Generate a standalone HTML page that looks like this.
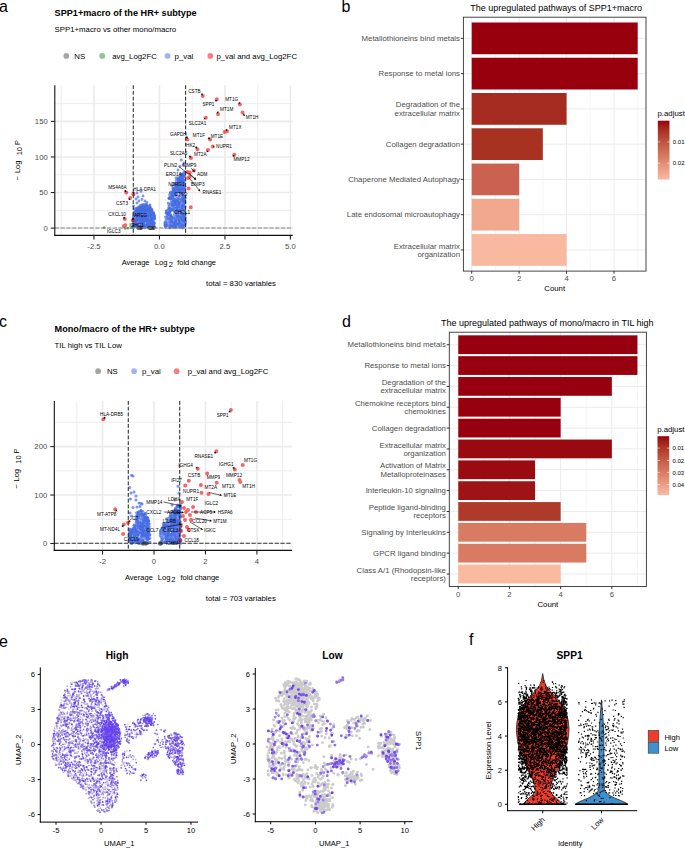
<!DOCTYPE html>
<html><head><meta charset="utf-8"><style>
html,body{margin:0;padding:0;background:#fff;width:685px;height:848px;overflow:hidden}
svg{display:block}
text{font-family:"Liberation Sans", sans-serif}
</style></head><body>
<svg width="685" height="848" viewBox="0 0 685 848">
<rect width="685" height="848" fill="#fff"/>
<text x="-1.00" y="11.60" font-size="16" fill="#000">a</text>
<text x="341.50" y="12.00" font-size="16" fill="#000">b</text>
<text x="-1.00" y="326.70" font-size="16" fill="#000">c</text>
<text x="342.00" y="326.60" font-size="16" fill="#000">d</text>
<text x="-1.00" y="647.30" font-size="16" fill="#000">e</text>
<text x="469.00" y="645.40" font-size="16" fill="#000">f</text>
<text x="54.60" y="16.30" font-size="9.15" font-weight="bold" fill="#000">SPP1+macro of the HR+ subtype</text>
<text x="54.60" y="32.40" font-size="7.8" fill="#000">SPP1+macro vs other mono/macro</text>
<circle cx="66.30" cy="55.90" r="2.9" fill="rgba(128,128,128,0.7)"/>
<text x="74.30" y="58.65" font-size="7.8" fill="#000">NS</text>
<circle cx="102.20" cy="55.90" r="2.9" fill="rgba(34,139,34,0.5)"/>
<text x="112.20" y="58.65" font-size="7.8" fill="#000">avg_Log2FC</text>
<circle cx="167.60" cy="55.90" r="2.9" fill="rgba(65,105,225,0.5)"/>
<text x="174.60" y="58.65" font-size="7.8" fill="#000">p_val</text>
<circle cx="210.30" cy="55.90" r="2.9" fill="rgba(238,0,0,0.5)"/>
<text x="216.40" y="58.65" font-size="7.8" fill="#000">p_val and avg_Log2FC</text>
<line x1="61.23" y1="85.20" x2="61.23" y2="235.40" stroke="#ebebeb" stroke-width="0.9"/>
<line x1="126.70" y1="85.20" x2="126.70" y2="235.40" stroke="#ebebeb" stroke-width="0.9"/>
<line x1="192.18" y1="85.20" x2="192.18" y2="235.40" stroke="#ebebeb" stroke-width="0.9"/>
<line x1="257.65" y1="85.20" x2="257.65" y2="235.40" stroke="#ebebeb" stroke-width="0.9"/>
<line x1="54.80" y1="210.32" x2="292.70" y2="210.32" stroke="#ebebeb" stroke-width="0.9"/>
<line x1="54.80" y1="174.75" x2="292.70" y2="174.75" stroke="#ebebeb" stroke-width="0.9"/>
<line x1="54.80" y1="139.19" x2="292.70" y2="139.19" stroke="#ebebeb" stroke-width="0.9"/>
<line x1="54.80" y1="103.62" x2="292.70" y2="103.62" stroke="#ebebeb" stroke-width="0.9"/>
<line x1="93.96" y1="85.20" x2="93.96" y2="235.40" stroke="#ebebeb" stroke-width="1.6"/>
<line x1="159.44" y1="85.20" x2="159.44" y2="235.40" stroke="#ebebeb" stroke-width="1.6"/>
<line x1="224.92" y1="85.20" x2="224.92" y2="235.40" stroke="#ebebeb" stroke-width="1.6"/>
<line x1="290.39" y1="85.20" x2="290.39" y2="235.40" stroke="#ebebeb" stroke-width="1.6"/>
<line x1="54.80" y1="228.10" x2="292.70" y2="228.10" stroke="#ebebeb" stroke-width="1.6"/>
<line x1="54.80" y1="192.53" x2="292.70" y2="192.53" stroke="#ebebeb" stroke-width="1.6"/>
<line x1="54.80" y1="156.97" x2="292.70" y2="156.97" stroke="#ebebeb" stroke-width="1.6"/>
<line x1="54.80" y1="121.40" x2="292.70" y2="121.40" stroke="#ebebeb" stroke-width="1.6"/>
<path d="M142.8 227.6h0M150.7 222.9h0M141.2 207.9h0M133.8 224.0h0M137.9 218.8h0M145.1 216.6h0M133.2 227.0h0M150.7 227.8h0M133.9 219.9h0M140.3 223.5h0M139.9 206.9h0M149.4 215.5h0M151.3 219.7h0M134.2 221.6h0M139.9 220.1h0M142.0 206.6h0M149.6 208.1h0M141.4 216.9h0M141.3 226.5h0M150.0 215.7h0M139.0 201.0h0M133.4 218.0h0M144.5 217.8h0M150.2 208.3h0M144.5 210.6h0M144.8 208.4h0M137.6 208.9h0M147.1 210.8h0M137.0 193.0h0M147.2 225.0h0M139.5 213.0h0M145.3 220.0h0M138.3 221.0h0M149.9 209.2h0M149.6 226.7h0M148.8 215.5h0M149.1 214.3h0M147.2 210.4h0M147.0 210.7h0M145.5 215.3h0M147.0 220.2h0M141.5 220.6h0M138.4 223.5h0M142.9 218.5h0M147.9 224.8h0M153.6 219.5h0M139.2 212.5h0M147.0 209.8h0M141.2 227.7h0M136.1 221.1h0M144.5 215.1h0M139.7 212.2h0M144.3 219.6h0M151.0 213.0h0M142.2 209.8h0M137.1 222.6h0M146.6 204.9h0M148.4 214.9h0M139.5 217.6h0M141.0 191.5h0M148.2 211.4h0M151.9 218.2h0M141.2 205.7h0M141.4 206.5h0M137.0 216.6h0M136.9 216.3h0M150.1 206.9h0M149.2 224.1h0M142.3 205.6h0M134.0 209.0h0M151.6 215.6h0M135.6 211.4h0M139.4 208.6h0M139.4 216.5h0M137.8 217.6h0M145.4 206.8h0M136.9 215.6h0M152.7 225.0h0M153.4 216.8h0M137.1 226.2h0M145.0 225.5h0M153.6 215.8h0M153.5 221.0h0M141.1 227.2h0M141.6 212.3h0M133.9 226.1h0M151.6 210.5h0M154.8 218.6h0M136.2 219.7h0M138.0 216.2h0M143.2 226.1h0M135.7 221.1h0M153.6 212.9h0M154.1 223.5h0M134.0 216.8h0M146.9 226.8h0M136.9 213.1h0M141.1 206.9h0M140.1 209.9h0M136.1 214.8h0M138.2 208.3h0M135.9 212.0h0M152.3 218.5h0M150.2 213.6h0M146.1 219.3h0M133.5 206.0h0M145.6 214.0h0M146.9 216.1h0M154.2 219.7h0M136.7 211.5h0M142.7 221.5h0M151.5 226.7h0M149.8 220.3h0M145.8 205.6h0M154.2 217.8h0M151.3 222.3h0M134.8 225.9h0M134.0 212.9h0M133.7 214.3h0M145.6 221.1h0M150.1 220.9h0" stroke="rgba(65,105,225,0.68)" stroke-width="2.90" stroke-linecap="round" fill="none"/>
<path d="M141.3 223.1h0M136.0 199.0h0M138.7 211.7h0M143.5 225.4h0M142.4 216.9h0M146.1 218.9h0M141.2 226.8h0M150.4 220.0h0M144.2 205.2h0M143.9 215.9h0M147.0 224.9h0M145.7 208.9h0M144.3 221.1h0M154.8 217.5h0M136.6 219.2h0M148.9 221.3h0M137.5 214.9h0M150.8 211.8h0M144.4 216.0h0M144.3 216.7h0M138.0 197.0h0M153.1 214.2h0M134.7 224.6h0M150.9 225.1h0M137.1 224.6h0M136.0 225.3h0M141.8 210.6h0M146.1 206.2h0M148.2 223.4h0M144.1 220.6h0M154.7 215.7h0M153.6 213.5h0M155.0 227.3h0M146.3 205.7h0M134.6 222.5h0M137.7 213.7h0M154.6 218.2h0M154.1 225.3h0M151.6 222.4h0M142.8 227.7h0M141.0 208.8h0M153.5 214.9h0M150.8 218.8h0M136.3 220.1h0M149.0 226.4h0M147.3 209.5h0M136.6 227.2h0M147.5 206.6h0M148.1 223.6h0M143.2 207.1h0M150.7 227.4h0M138.2 225.7h0M148.8 220.6h0M143.0 196.0h0M145.9 204.2h0M150.2 227.8h0M147.8 216.2h0M137.7 217.1h0M141.0 206.9h0M153.0 227.1h0M148.1 211.8h0M139.6 212.4h0M143.3 221.4h0M140.6 220.2h0M148.4 225.3h0M147.2 223.3h0M152.9 211.9h0M151.5 220.8h0M135.6 214.7h0M149.6 216.8h0M145.7 205.6h0M142.6 208.4h0M138.6 211.5h0M149.8 226.2h0M150.0 209.9h0M149.9 217.2h0M150.6 208.1h0M154.5 222.9h0M151.0 218.3h0M139.2 213.8h0M140.2 212.4h0M145.2 227.6h0M145.8 210.8h0M138.2 225.6h0M137.4 225.2h0M141.6 221.5h0M152.8 225.2h0M153.5 222.4h0M138.2 227.8h0M148.0 226.1h0M139.0 210.0h0M134.2 223.0h0M151.5 211.0h0M147.3 221.2h0M135.6 225.6h0M147.0 211.8h0M141.7 212.6h0M141.2 219.6h0M137.3 214.5h0M145.9 211.5h0M143.4 211.7h0M142.9 210.9h0M136.9 210.6h0M151.1 214.4h0M138.2 213.3h0M143.9 224.7h0M142.3 227.9h0M143.9 221.3h0M145.3 210.7h0M139.5 214.8h0M147.6 215.6h0M140.4 209.6h0M148.9 221.0h0M146.5 206.6h0M149.3 227.6h0M136.9 219.8h0M135.8 208.5h0M151.4 223.9h0M136.7 214.9h0M147.0 211.6h0M135.1 222.6h0" stroke="rgba(65,105,225,0.68)" stroke-width="2.90" stroke-linecap="round" fill="none"/>
<path d="M152.8 225.7h0M136.7 219.1h0M138.7 214.9h0M146.1 208.5h0M139.8 219.4h0M149.8 208.3h0M148.0 221.3h0M140.9 207.8h0M133.9 221.7h0M134.6 212.8h0M147.3 214.9h0M147.2 217.1h0M142.7 226.0h0M139.2 219.5h0M142.7 213.5h0M145.2 211.3h0M147.6 208.7h0M141.8 208.1h0M146.2 205.5h0M154.3 216.2h0M148.7 225.4h0M146.8 209.2h0M137.2 208.1h0M143.0 226.5h0M138.4 207.4h0M151.1 216.0h0M154.0 218.4h0M149.8 227.8h0M137.7 226.7h0M136.6 216.3h0M143.0 213.5h0M144.2 226.2h0M147.7 215.2h0M136.0 216.3h0M150.2 210.2h0M150.0 226.5h0M152.3 223.8h0M137.0 215.4h0M135.5 210.7h0M135.1 219.6h0M153.6 218.7h0M151.7 227.1h0M150.0 205.0h0M152.3 219.8h0M136.6 219.8h0M145.0 201.0h0M137.2 227.0h0M147.7 210.0h0M137.1 224.4h0M152.8 222.1h0M148.3 216.0h0M138.9 208.6h0M144.1 209.0h0M149.9 219.1h0M150.2 209.1h0M152.7 218.3h0M143.0 217.1h0M138.3 209.5h0M154.0 214.0h0M145.1 227.2h0M133.3 219.4h0M148.8 214.0h0M152.4 214.3h0M149.8 213.2h0M145.2 213.3h0M134.4 221.8h0M144.4 220.5h0M144.9 212.1h0M144.6 226.6h0M147.7 206.4h0M142.0 199.5h0M133.6 222.8h0M144.6 220.8h0M139.7 213.5h0M153.1 226.4h0M151.9 209.3h0M138.3 211.0h0M153.7 215.7h0M151.3 223.3h0M145.9 215.9h0M136.7 215.5h0M153.7 227.3h0M150.9 219.6h0M152.6 223.3h0M146.4 210.6h0M136.7 217.0h0M146.8 216.7h0M141.3 224.1h0M137.1 208.3h0M132.8 227.0h0M134.7 223.8h0M144.3 217.3h0M136.3 226.3h0M133.3 221.8h0M133.4 221.8h0M142.2 211.0h0M133.2 224.8h0M142.1 217.3h0M134.1 221.0h0M152.7 218.3h0M142.0 224.5h0M149.7 228.0h0M148.1 218.7h0M143.3 206.9h0M150.8 225.2h0M147.7 210.8h0M134.0 221.0h0M152.8 223.5h0M141.9 217.7h0M139.7 207.1h0M148.1 220.0h0M140.4 211.3h0M146.9 215.9h0M135.1 217.9h0M143.5 204.5h0M143.3 220.0h0M142.8 223.7h0M147.9 215.6h0M143.7 223.0h0M145.2 208.3h0M140.5 221.1h0" stroke="rgba(65,105,225,0.68)" stroke-width="2.90" stroke-linecap="round" fill="none"/>
<path d="M135.4 212.4h0M153.1 225.8h0M152.7 224.9h0M138.0 213.2h0M151.9 219.4h0M150.3 226.8h0M137.4 224.8h0M137.0 203.0h0M152.9 213.1h0M133.4 227.8h0M135.5 225.4h0M149.1 222.8h0M139.4 207.0h0M151.3 212.1h0M140.1 212.0h0M141.6 221.8h0M144.1 227.0h0M152.8 226.0h0M135.4 214.4h0M140.8 218.8h0M140.3 215.0h0M143.9 207.7h0M135.2 214.8h0M142.2 218.6h0M151.0 216.0h0M153.6 225.3h0M135.1 214.8h0M142.6 221.7h0M140.0 205.6h0M142.4 224.4h0M141.4 227.1h0M143.2 212.8h0M144.1 223.1h0M143.4 215.6h0M143.6 223.0h0M141.2 215.7h0M134.4 226.4h0M136.4 220.5h0M137.4 223.1h0M143.2 223.0h0M141.1 210.9h0M147.3 225.9h0M141.2 211.1h0M146.3 205.9h0M145.7 224.9h0M144.4 217.3h0M144.5 213.5h0M134.0 195.0h0M145.1 205.8h0M139.6 221.9h0M133.4 215.9h0M143.2 214.8h0M149.4 206.0h0M141.0 205.6h0M146.8 222.2h0M143.0 210.7h0M142.5 218.7h0M147.0 202.5h0M137.0 212.6h0M147.0 224.3h0M136.0 218.9h0M151.5 227.7h0M139.9 227.5h0M151.4 218.4h0M138.4 227.0h0M150.3 222.6h0M136.8 210.0h0M141.2 207.1h0M146.8 209.2h0M139.4 206.6h0M145.5 211.5h0M142.5 220.7h0M145.7 227.1h0M148.2 216.6h0M141.6 205.0h0M153.3 213.8h0M147.6 222.1h0M146.2 220.1h0M136.2 225.0h0M137.5 214.0h0M151.3 218.0h0M146.4 224.8h0M152.0 212.8h0M141.0 210.6h0M144.4 208.0h0M151.2 216.0h0M147.6 219.2h0M137.4 225.9h0M150.1 215.0h0M144.8 210.5h0M145.2 220.6h0M149.2 213.9h0M149.3 223.6h0M149.1 215.9h0M149.8 213.1h0M152.7 218.8h0M142.0 225.4h0M145.3 213.4h0M150.4 212.3h0M145.7 218.6h0M146.5 219.5h0M149.2 227.7h0M139.8 212.4h0M135.5 220.8h0M138.6 226.7h0M142.2 207.3h0M149.1 208.1h0M144.4 227.9h0M153.9 223.6h0M149.1 214.1h0M147.3 212.2h0M143.8 224.4h0M139.7 209.4h0M142.0 205.3h0M144.9 216.0h0M139.8 217.8h0M151.8 210.7h0M140.7 223.2h0M140.3 212.9h0M144.9 217.0h0M152.6 218.0h0" stroke="rgba(65,105,225,0.68)" stroke-width="2.90" stroke-linecap="round" fill="none"/>
<path d="M183.4 214.2h0M176.3 220.3h0M171.0 215.2h0M168.0 219.3h0M185.2 197.9h0M179.1 226.6h0M181.3 207.7h0M170.1 223.4h0M183.4 206.0h0M172.6 210.2h0M180.9 199.5h0M179.4 216.5h0M175.2 224.7h0M169.3 218.2h0M172.4 226.2h0M179.0 202.3h0M169.1 212.9h0M184.1 201.8h0M178.8 224.6h0M174.1 183.7h0M174.6 201.1h0M178.4 213.8h0M175.3 199.5h0M179.0 188.6h0M179.1 223.2h0M172.9 199.2h0M172.4 191.6h0M177.7 188.3h0M184.0 220.9h0M182.6 205.5h0M182.9 185.3h0M177.1 211.0h0M180.2 209.7h0M182.8 205.8h0M173.5 208.7h0M183.8 172.8h0M184.4 198.7h0M178.7 189.9h0M166.8 226.1h0M181.7 199.9h0M183.5 187.3h0M180.0 180.9h0M178.5 204.7h0M173.0 196.1h0M179.4 221.1h0M169.9 222.6h0M167.3 224.8h0M181.3 160.0h0M180.9 224.0h0M180.0 177.1h0M176.7 223.8h0M179.1 185.4h0M179.0 196.6h0M172.7 205.5h0M185.3 220.8h0M177.7 192.0h0M179.3 191.8h0M179.4 221.8h0M182.5 193.7h0M172.8 220.1h0M181.4 174.8h0M182.1 225.8h0M174.5 211.9h0M170.0 206.5h0M175.8 201.1h0M181.9 198.7h0M180.0 166.5h0M170.7 216.8h0M181.5 176.4h0M182.3 214.4h0M181.6 219.6h0M176.4 222.5h0M174.8 222.5h0M183.7 185.2h0M183.1 175.4h0M184.7 202.6h0M169.6 226.8h0M184.1 217.7h0M181.2 178.5h0M168.2 214.3h0M182.2 190.3h0M171.6 216.6h0M184.0 163.0h0M174.4 190.3h0M177.0 210.2h0M180.5 217.4h0M165.4 226.1h0M181.6 215.7h0M179.7 206.9h0M184.8 218.9h0M176.8 207.9h0M171.4 210.0h0M169.7 225.0h0M183.2 191.2h0M178.4 179.3h0M174.7 200.8h0M183.8 200.8h0M169.4 197.8h0M175.6 184.1h0M179.7 224.1h0M180.7 189.2h0M178.7 225.2h0M179.4 186.9h0M182.7 214.0h0M178.5 187.3h0M182.7 174.7h0M171.4 204.8h0M178.8 188.7h0M169.1 206.2h0M177.3 187.4h0M184.9 224.6h0M173.2 189.4h0M173.4 218.7h0M169.8 227.7h0M177.5 190.3h0M178.3 199.3h0M174.6 194.1h0M174.5 220.8h0M178.5 181.9h0M168.5 219.1h0M180.9 178.6h0M165.6 227.0h0M170.0 198.8h0M179.1 204.2h0M181.9 182.8h0M175.3 203.0h0M165.3 225.1h0M173.1 227.6h0M179.4 181.6h0M170.2 204.1h0M176.2 191.8h0M183.6 188.6h0M177.6 216.5h0M183.8 176.4h0M168.6 215.3h0M177.9 200.2h0M171.3 221.4h0" stroke="rgba(65,105,225,0.68)" stroke-width="2.90" stroke-linecap="round" fill="none"/>
<path d="M177.9 224.6h0M184.0 189.3h0M183.2 202.0h0M180.8 227.6h0M180.2 180.0h0M169.6 219.0h0M172.3 204.7h0M169.0 198.5h0M175.5 192.7h0M178.9 188.3h0M167.1 216.6h0M178.9 223.1h0M177.4 224.1h0M165.3 226.6h0M174.2 204.0h0M176.1 225.2h0M173.3 204.4h0M184.3 216.2h0M168.3 222.2h0M180.0 183.6h0M180.5 176.7h0M173.4 226.6h0M182.0 219.8h0M174.1 203.0h0M183.0 165.0h0M184.6 200.8h0M184.2 204.6h0M183.0 179.0h0M178.7 220.7h0M176.7 184.6h0M176.1 212.4h0M171.6 194.8h0M175.9 211.9h0M184.5 196.6h0M183.8 225.6h0M178.2 218.1h0M172.3 192.2h0M176.0 195.0h0M172.8 196.7h0M169.8 209.6h0M172.7 209.6h0M178.0 187.5h0M181.5 213.2h0M181.7 204.7h0M168.3 214.3h0M175.7 213.4h0M173.3 191.3h0M172.3 203.0h0M178.6 189.4h0M177.2 224.9h0M179.4 205.6h0M179.9 190.3h0M173.8 201.0h0M170.5 224.8h0M182.2 178.2h0M176.4 204.0h0M178.4 185.2h0M175.1 214.2h0M173.9 210.1h0M175.6 188.0h0M175.8 185.6h0M173.2 202.6h0M179.3 178.9h0M177.2 179.6h0M176.8 188.5h0M184.1 199.5h0M178.6 207.3h0M168.8 208.4h0M176.0 178.0h0M178.2 184.4h0M178.5 226.8h0M174.8 187.5h0M171.2 197.7h0M184.3 205.8h0M179.0 201.6h0M181.8 180.8h0M181.6 178.4h0M184.1 175.1h0M177.4 183.9h0M174.7 227.0h0M181.8 180.9h0M181.4 193.0h0M174.4 214.5h0M183.3 202.8h0M173.9 223.0h0M182.6 228.0h0M182.5 174.3h0M176.2 210.7h0M182.0 202.6h0M182.9 208.8h0M182.0 220.9h0M181.6 217.8h0M176.1 180.6h0M165.7 227.2h0M169.8 221.2h0M174.9 215.5h0M184.9 218.8h0M179.9 188.5h0M184.6 210.5h0M179.9 227.4h0M179.5 215.9h0M164.9 225.1h0M184.4 180.6h0M171.5 219.2h0M179.6 210.5h0M177.7 216.8h0M168.4 212.9h0M175.3 190.3h0M181.4 218.0h0M178.0 170.0h0M178.5 181.6h0M177.6 210.7h0M172.8 188.5h0M172.7 207.9h0M176.9 200.6h0M166.5 213.1h0M170.4 192.9h0M173.0 222.8h0M170.6 216.7h0M183.0 216.7h0M175.4 203.1h0M170.7 218.2h0M180.9 188.8h0M175.1 208.0h0M177.9 177.6h0M180.1 202.9h0M183.8 182.4h0M173.7 209.3h0M181.6 210.9h0M182.2 185.3h0M172.4 202.1h0M170.7 192.2h0M177.2 207.2h0M182.0 197.4h0M172.4 222.3h0M168.5 208.3h0M170.3 210.4h0" stroke="rgba(65,105,225,0.68)" stroke-width="2.90" stroke-linecap="round" fill="none"/>
<path d="M172.6 201.9h0M184.0 183.2h0M176.0 190.1h0M174.4 194.4h0M177.2 210.3h0M178.3 191.6h0M171.2 201.5h0M184.5 218.7h0M184.0 183.6h0M165.1 223.5h0M185.0 187.3h0M179.2 199.1h0M184.5 201.6h0M172.8 225.3h0M175.3 204.0h0M179.5 213.1h0M185.4 222.8h0M171.9 221.0h0M174.3 203.8h0M183.6 204.6h0M172.9 205.0h0M177.7 202.6h0M170.4 210.1h0M170.7 215.8h0M173.9 190.1h0M184.2 175.9h0M180.6 208.2h0M177.8 212.3h0M182.6 180.7h0M182.1 224.8h0M182.8 227.1h0M165.8 217.7h0M178.2 210.9h0M185.2 218.2h0M182.3 205.9h0M177.1 188.6h0M173.0 224.4h0M169.4 212.1h0M167.4 218.1h0M182.9 221.0h0M178.5 185.0h0M183.0 188.3h0M180.6 177.7h0M180.5 192.4h0M182.6 209.6h0M169.2 198.4h0M169.8 227.9h0M173.2 224.3h0M178.6 183.7h0M179.6 210.9h0M184.2 201.5h0M183.1 214.7h0M181.1 185.1h0M181.8 182.0h0M181.6 200.1h0M176.7 201.7h0M173.5 191.0h0M182.8 176.0h0M181.5 180.7h0M179.6 217.9h0M180.2 189.6h0M183.4 198.2h0M166.2 212.8h0M175.0 188.1h0M184.8 189.3h0M183.2 183.7h0M179.2 204.4h0M166.1 220.0h0M184.7 172.4h0M168.9 198.4h0M182.7 180.7h0M182.2 186.2h0M177.8 189.8h0M182.4 213.7h0M182.6 221.2h0M177.7 179.0h0M184.8 219.8h0M183.7 221.8h0M172.3 195.1h0M182.9 183.9h0M181.5 193.9h0M173.7 192.7h0M176.0 227.9h0M185.1 186.7h0M171.6 203.4h0M175.6 226.2h0M169.9 209.1h0M174.9 204.9h0M176.1 190.3h0M165.4 216.9h0M173.5 217.0h0M178.6 203.5h0M173.8 194.0h0M178.2 217.4h0M172.5 226.5h0M174.5 218.1h0M170.5 198.6h0M179.3 210.1h0M169.9 226.2h0M177.8 210.4h0M172.0 209.9h0M174.1 203.0h0M180.8 177.8h0M170.5 208.4h0M176.6 184.2h0M170.9 198.8h0M185.1 220.8h0M172.0 186.0h0M176.5 212.7h0M182.0 209.2h0M166.4 211.1h0M175.6 221.4h0M178.2 219.9h0M165.5 221.8h0M166.5 219.4h0M177.5 206.5h0M176.0 188.4h0M177.2 205.2h0M176.4 217.8h0M180.6 177.1h0M176.0 186.7h0M185.1 207.0h0M177.5 183.9h0M181.0 174.3h0M175.5 223.1h0M181.6 189.3h0M184.8 200.8h0M172.5 205.8h0M180.1 185.5h0M175.2 222.2h0M179.3 218.9h0M180.4 179.7h0M173.8 227.2h0M180.5 211.4h0M177.5 215.6h0M171.9 221.9h0M178.3 202.9h0" stroke="rgba(65,105,225,0.68)" stroke-width="2.90" stroke-linecap="round" fill="none"/>
<path d="M183.3 213.6h0M180.7 188.6h0M184.4 220.8h0M182.4 189.3h0M185.1 217.1h0M169.6 195.1h0M181.4 180.9h0M185.3 213.6h0M182.9 222.6h0M178.3 203.2h0M170.3 214.8h0M167.8 215.4h0M167.0 225.1h0M180.5 225.5h0M177.3 200.8h0M184.2 207.6h0M165.1 225.4h0M177.4 224.0h0M182.0 180.5h0M168.1 209.9h0M170.2 212.0h0M183.4 200.3h0M180.9 193.8h0M174.7 203.7h0M174.5 193.3h0M166.2 213.5h0M180.4 180.6h0M170.1 193.2h0M185.2 222.8h0M177.3 186.6h0M175.9 195.5h0M168.2 203.1h0M181.1 175.6h0M179.5 220.1h0M183.2 181.5h0M179.5 196.1h0M179.3 202.7h0M177.4 208.0h0M174.3 188.3h0M178.8 179.3h0M180.4 188.1h0M183.4 200.9h0M175.1 199.3h0M184.8 197.7h0M180.9 183.1h0M167.8 213.3h0M183.8 183.1h0M166.7 224.5h0M183.3 201.0h0M175.6 227.0h0M184.4 192.8h0M181.4 214.2h0M170.0 197.8h0M182.6 180.5h0M170.9 227.0h0M184.7 180.5h0M178.8 182.0h0M176.8 215.4h0M171.5 225.9h0M172.8 199.5h0M169.4 208.7h0M182.5 194.3h0M183.1 198.5h0M183.0 223.7h0M171.3 195.7h0M173.0 197.2h0M184.6 225.8h0M171.0 197.1h0M184.1 215.5h0M182.7 175.3h0M178.8 190.4h0M166.4 210.9h0M166.0 222.6h0M182.6 207.3h0M173.7 200.4h0M179.5 220.2h0M180.4 192.4h0M178.3 191.7h0M169.1 212.0h0M181.0 174.1h0M183.6 190.7h0M182.5 215.7h0M185.1 224.6h0M178.8 190.9h0M174.5 206.7h0M176.2 184.2h0M185.1 202.5h0M174.2 188.2h0M180.0 222.6h0M183.7 186.2h0M175.5 205.2h0M177.0 197.6h0M172.1 193.3h0M184.5 208.6h0M182.1 218.1h0M175.7 220.5h0M164.8 222.9h0M183.2 177.8h0M183.3 196.7h0M171.7 222.1h0M175.2 218.6h0M168.9 210.0h0M183.1 179.5h0M175.1 183.1h0M179.9 222.9h0M185.3 214.5h0M169.7 209.6h0M183.7 227.4h0M173.6 199.1h0M184.3 214.5h0M184.4 176.3h0M181.4 187.5h0M176.4 193.2h0M181.0 227.3h0M176.8 211.1h0M183.3 222.8h0M180.6 183.6h0M175.4 201.8h0M174.8 224.6h0M181.0 193.8h0M174.4 184.6h0M174.0 224.3h0M177.3 207.4h0M177.2 193.8h0M176.2 206.1h0M182.8 220.1h0M174.8 196.0h0M170.0 219.1h0M171.8 217.8h0M173.3 205.2h0M183.6 184.1h0M181.6 201.5h0M182.4 190.8h0M168.6 204.2h0M176.7 208.2h0M184.8 198.2h0" stroke="rgba(65,105,225,0.68)" stroke-width="2.90" stroke-linecap="round" fill="none"/>
<path d="M141.1 228.2h0M140.0 227.6h0M140.6 227.8h0M140.4 227.6h0M141.4 227.5h0M140.8 228.4h0" stroke="rgba(40,40,40,0.55)" stroke-width="3.20" stroke-linecap="round" fill="none"/>
<path d="M138.2 228.3h0M140.2 228.0h0M138.6 227.7h0M138.5 227.8h0M140.2 228.2h0M140.4 227.7h0" stroke="rgba(40,40,40,0.55)" stroke-width="3.20" stroke-linecap="round" fill="none"/>
<path d="M138.9 228.2h0M141.5 227.6h0M139.3 227.6h0M141.5 227.3h0M141.2 228.2h0M138.9 228.1h0" stroke="rgba(40,40,40,0.55)" stroke-width="3.20" stroke-linecap="round" fill="none"/>
<path d="M150.5 228.1h0M150.9 228.4h0M151.0 228.3h0M151.8 227.7h0M154.1 227.5h0M153.7 228.5h0" stroke="rgba(40,40,40,0.55)" stroke-width="3.20" stroke-linecap="round" fill="none"/>
<path d="M153.4 228.0h0M152.0 228.4h0M150.9 228.3h0M152.9 228.3h0M150.9 228.1h0M148.9 227.4h0" stroke="rgba(40,40,40,0.55)" stroke-width="3.20" stroke-linecap="round" fill="none"/>
<path d="M148.9 228.2h0M150.4 228.4h0M148.8 227.5h0M153.3 227.8h0M149.6 228.2h0M149.7 228.5h0" stroke="rgba(40,40,40,0.55)" stroke-width="3.20" stroke-linecap="round" fill="none"/>
<line x1="133.25" y1="85.20" x2="133.25" y2="235.40" stroke="#222" stroke-width="1.0" stroke-dasharray="3.8,1.95"/>
<line x1="185.63" y1="85.20" x2="185.63" y2="235.40" stroke="#222" stroke-width="1.0" stroke-dasharray="3.8,1.95"/>
<line x1="54.80" y1="228.00" x2="292.70" y2="228.00" stroke="#888" stroke-width="1.1" stroke-dasharray="4.2,1.6"/>
<line x1="54.80" y1="85.20" x2="54.80" y2="235.95" stroke="#111" stroke-width="1.1"/>
<line x1="54.25" y1="235.40" x2="292.70" y2="235.40" stroke="#111" stroke-width="1.1"/>
<line x1="50.80" y1="228.10" x2="54.80" y2="228.10" stroke="#222" stroke-width="1.1"/>
<text x="47.70" y="230.85" font-size="7.7" text-anchor="end" fill="#4d4d4d">0</text>
<line x1="50.80" y1="192.53" x2="54.80" y2="192.53" stroke="#222" stroke-width="1.1"/>
<text x="47.70" y="195.28" font-size="7.7" text-anchor="end" fill="#4d4d4d">50</text>
<line x1="50.80" y1="156.97" x2="54.80" y2="156.97" stroke="#222" stroke-width="1.1"/>
<text x="47.70" y="159.72" font-size="7.7" text-anchor="end" fill="#4d4d4d">100</text>
<line x1="50.80" y1="121.40" x2="54.80" y2="121.40" stroke="#222" stroke-width="1.1"/>
<text x="47.70" y="124.15" font-size="7.7" text-anchor="end" fill="#4d4d4d">150</text>
<line x1="93.96" y1="235.40" x2="93.96" y2="239.40" stroke="#222" stroke-width="1.1"/>
<text x="93.96" y="248.70" font-size="7.7" text-anchor="middle" fill="#4d4d4d">-2.5</text>
<line x1="159.44" y1="235.40" x2="159.44" y2="239.40" stroke="#222" stroke-width="1.1"/>
<text x="159.44" y="248.70" font-size="7.7" text-anchor="middle" fill="#4d4d4d">0.0</text>
<line x1="224.92" y1="235.40" x2="224.92" y2="239.40" stroke="#222" stroke-width="1.1"/>
<text x="224.92" y="248.70" font-size="7.7" text-anchor="middle" fill="#4d4d4d">2.5</text>
<line x1="290.39" y1="235.40" x2="290.39" y2="239.40" stroke="#222" stroke-width="1.1"/>
<text x="290.39" y="248.70" font-size="7.7" text-anchor="middle" fill="#4d4d4d">5.0</text>
<text transform="translate(19.80,180.40) rotate(-90)" font-size="7.5"><tspan x="0">−</tspan><tspan x="7.3">Log</tspan><tspan x="25.1" dy="2.0">10</tspan><tspan x="35.3" dy="-2.0">P</tspan></text>
<text y="264.60" font-size="7.5"><tspan x="121.70">Average</tspan><tspan x="154.90">Log</tspan><tspan x="168.70" dy="2.1">2</tspan><tspan x="177.20" dy="-2.1">fold change</tspan></text>
<text x="206.00" y="286.00" font-size="7.8" fill="#000">total = 830 variables</text>
<path d="M202.8 96.1h0M216.8 99.3h0M239.9 104.5h0M218.0 114.2h0M242.5 112.4h0M205.8 117.7h0M224.7 132.0h0M227.0 131.3h0M187.3 139.5h0M210.1 139.6h0M197.5 149.2h0M208.0 150.1h0M212.8 146.6h0M234.3 154.8h0M190.9 158.1h0M187.4 172.1h0M189.8 172.6h0M193.9 170.6h0M188.0 178.0h0M189.5 177.0h0M188.6 188.5h0M190.7 207.2h0M126.3 192.6h0M133.3 194.0h0M130.1 198.1h0M124.8 219.1h0M132.7 220.3h0M123.9 226.1h0M125.2 225.3h0" stroke="rgba(238,0,0,0.6)" stroke-width="4.00" stroke-linecap="round" fill="none"/>
<circle cx="104.10" cy="227.60" r="1.45" fill="rgba(34,139,34,0.55)"/>
<circle cx="125.10" cy="228.50" r="1.45" fill="rgba(34,139,34,0.55)"/>
<circle cx="131.50" cy="227.60" r="1.45" fill="rgba(34,139,34,0.55)"/>
<circle cx="128.00" cy="228.20" r="1.45" fill="rgba(34,139,34,0.55)"/>
<text x="188.20" y="92.60" font-size="4.7" fill="#000">CSTB</text>
<text x="202.40" y="105.90" font-size="4.7" fill="#000">SPP1</text>
<text x="225.20" y="101.00" font-size="4.7" fill="#000">MT1G</text>
<text x="220.00" y="110.70" font-size="4.7" fill="#000">MT1M</text>
<text x="245.70" y="119.40" font-size="4.7" fill="#000">MT1H</text>
<text x="188.80" y="124.70" font-size="4.7" fill="#000">SLC2A1</text>
<text x="229.00" y="128.50" font-size="4.7" fill="#000">MT1X</text>
<text x="170.00" y="135.70" font-size="4.7" fill="#000">GAPDH</text>
<text x="192.80" y="137.30" font-size="4.7" fill="#000">MT1F</text>
<text x="210.70" y="138.20" font-size="4.7" fill="#000">MT1E</text>
<text x="186.10" y="146.50" font-size="4.7" fill="#000">HK2</text>
<text x="216.00" y="147.60" font-size="4.7" fill="#000">NUPR1</text>
<text x="169.90" y="155.20" font-size="4.7" fill="#000">SLC2A6</text>
<text x="194.00" y="156.40" font-size="4.7" fill="#000">MT2A</text>
<text x="233.40" y="160.60" font-size="4.7" fill="#000">MMP12</text>
<text x="164.10" y="166.90" font-size="4.7" fill="#000">PLIN2</text>
<text x="182.80" y="166.90" font-size="4.7" fill="#000">MMP9</text>
<text x="165.80" y="176.20" font-size="4.7" fill="#000">ERO1A</text>
<text x="197.10" y="176.00" font-size="4.7" fill="#000">ADM</text>
<text x="168.20" y="185.50" font-size="4.7" fill="#000">NDRG1</text>
<text x="191.00" y="185.50" font-size="4.7" fill="#000">BNIP3</text>
<text x="174.60" y="195.50" font-size="4.7" fill="#000">CTSD</text>
<text x="202.60" y="194.30" font-size="4.7" fill="#000">RNASE1</text>
<text x="174.30" y="214.20" font-size="4.7" fill="#000">CHI3L1</text>
<text x="108.20" y="189.10" font-size="4.7" fill="#000">MS4A6A</text>
<text x="133.30" y="190.70" font-size="4.7" fill="#000">HLA-DPA1</text>
<text x="116.10" y="204.80" font-size="4.7" fill="#000">CST3</text>
<text x="108.20" y="216.00" font-size="4.7" fill="#000">CXCL10</text>
<text x="133.90" y="216.80" font-size="4.7" fill="#000">AREG</text>
<text x="107.00" y="232.80" font-size="4.7" fill="#000">IGLC3</text>
<text x="129.20" y="226.70" font-size="4.7" fill="#000">IGHG1</text>
<line x1="201.50" y1="93.50" x2="201.76" y2="93.90" stroke="#000" stroke-width="0.6"/>
<path d="M202.80 95.50L200.80 94.53L202.72 93.27Z" fill="#000"/>
<line x1="215.50" y1="101.50" x2="215.72" y2="101.16" stroke="#000" stroke-width="0.6"/>
<path d="M216.60 99.80L216.69 101.78L214.75 100.54Z" fill="#000"/>
<line x1="239.00" y1="102.00" x2="239.20" y2="102.40" stroke="#000" stroke-width="0.6"/>
<path d="M240.00 104.00L238.17 102.91L240.23 101.89Z" fill="#000"/>
<line x1="217.50" y1="111.50" x2="217.60" y2="111.90" stroke="#000" stroke-width="0.6"/>
<path d="M218.00 113.50L216.48 112.18L218.72 111.62Z" fill="#000"/>
<line x1="243.00" y1="114.00" x2="243.40" y2="114.40" stroke="#000" stroke-width="0.6"/>
<path d="M245.00 116.00L242.59 115.21L244.21 113.59Z" fill="#000"/>
<line x1="204.00" y1="119.00" x2="204.30" y2="118.80" stroke="#000" stroke-width="0.6"/>
<path d="M205.50 118.00L204.94 119.76L203.66 117.84Z" fill="#000"/>
<line x1="227.00" y1="129.00" x2="226.80" y2="129.40" stroke="#000" stroke-width="0.6"/>
<path d="M226.00 131.00L225.77 128.89L227.83 129.91Z" fill="#000"/>
<line x1="186.50" y1="136.00" x2="186.71" y2="136.78" stroke="#000" stroke-width="0.6"/>
<path d="M187.30 139.00L185.60 137.07L187.82 136.48Z" fill="#000"/>
<line x1="208.00" y1="137.50" x2="208.40" y2="137.86" stroke="#000" stroke-width="0.6"/>
<path d="M210.00 139.30L207.63 138.71L209.17 137.01Z" fill="#000"/>
<line x1="195.00" y1="146.50" x2="195.67" y2="147.17" stroke="#000" stroke-width="0.6"/>
<path d="M197.30 148.80L194.86 147.99L196.49 146.36Z" fill="#000"/>
<line x1="207.00" y1="152.00" x2="207.20" y2="151.70" stroke="#000" stroke-width="0.6"/>
<path d="M208.00 150.50L208.16 152.34L206.24 151.06Z" fill="#000"/>
<line x1="214.00" y1="146.50" x2="213.80" y2="146.52" stroke="#000" stroke-width="0.6"/>
<path d="M213.00 146.60L213.69 145.38L213.91 147.66Z" fill="#000"/>
<line x1="233.00" y1="156.50" x2="233.26" y2="156.20" stroke="#000" stroke-width="0.6"/>
<path d="M234.30 155.00L234.13 156.95L232.39 155.45Z" fill="#000"/>
<line x1="189.50" y1="155.50" x2="189.76" y2="155.96" stroke="#000" stroke-width="0.6"/>
<path d="M190.80 157.80L188.76 156.53L190.76 155.39Z" fill="#000"/>
<line x1="178.50" y1="166.30" x2="194.37" y2="178.31" stroke="#000" stroke-width="0.6"/>
<path d="M196.20 179.70L193.67 179.23L195.06 177.39Z" fill="#000"/>
<line x1="188.60" y1="177.40" x2="198.83" y2="189.64" stroke="#000" stroke-width="0.6"/>
<path d="M200.30 191.40L197.94 190.37L199.71 188.90Z" fill="#000"/>
<line x1="191.00" y1="168.30" x2="193.33" y2="170.52" stroke="#000" stroke-width="0.6"/>
<path d="M195.00 172.10L192.54 171.35L194.12 169.68Z" fill="#000"/>
<line x1="189.20" y1="173.30" x2="194.50" y2="178.15" stroke="#000" stroke-width="0.6"/>
<path d="M196.20 179.70L193.73 179.00L195.28 177.30Z" fill="#000"/>
<line x1="124.50" y1="190.00" x2="124.88" y2="190.49" stroke="#000" stroke-width="0.6"/>
<path d="M126.30 192.30L123.98 191.20L125.79 189.78Z" fill="#000"/>
<line x1="133.60" y1="192.00" x2="133.54" y2="192.40" stroke="#000" stroke-width="0.6"/>
<path d="M133.30 194.00L132.40 192.23L134.68 192.57Z" fill="#000"/>
<line x1="129.00" y1="200.00" x2="129.20" y2="199.66" stroke="#000" stroke-width="0.6"/>
<path d="M130.00 198.30L130.19 200.24L128.21 199.08Z" fill="#000"/>
<line x1="123.50" y1="217.00" x2="123.76" y2="217.40" stroke="#000" stroke-width="0.6"/>
<path d="M124.80 219.00L122.80 218.03L124.72 216.77Z" fill="#000"/>
<line x1="133.00" y1="218.00" x2="132.94" y2="218.40" stroke="#000" stroke-width="0.6"/>
<path d="M132.70 220.00L131.80 218.23L134.08 218.57Z" fill="#000"/>
<text x="54.60" y="331.60" font-size="9.15" font-weight="bold" fill="#000">Mono/macro of the HR+ subtype</text>
<text x="54.60" y="347.90" font-size="7.8" fill="#000">TIL high vs TIL Low</text>
<circle cx="98.10" cy="371.20" r="2.9" fill="rgba(128,128,128,0.7)"/>
<text x="106.90" y="373.95" font-size="7.8" fill="#000">NS</text>
<circle cx="134.10" cy="371.20" r="2.9" fill="rgba(65,105,225,0.5)"/>
<text x="142.10" y="373.95" font-size="7.8" fill="#000">p_val</text>
<circle cx="176.60" cy="371.20" r="2.9" fill="rgba(238,0,0,0.5)"/>
<text x="187.80" y="373.95" font-size="7.8" fill="#000">p_val and avg_Log2FC</text>
<line x1="76.82" y1="401.00" x2="76.82" y2="550.40" stroke="#ebebeb" stroke-width="0.9"/>
<line x1="128.28" y1="401.00" x2="128.28" y2="550.40" stroke="#ebebeb" stroke-width="0.9"/>
<line x1="179.72" y1="401.00" x2="179.72" y2="550.40" stroke="#ebebeb" stroke-width="0.9"/>
<line x1="231.18" y1="401.00" x2="231.18" y2="550.40" stroke="#ebebeb" stroke-width="0.9"/>
<line x1="282.62" y1="401.00" x2="282.62" y2="550.40" stroke="#ebebeb" stroke-width="0.9"/>
<line x1="54.30" y1="519.27" x2="292.00" y2="519.27" stroke="#ebebeb" stroke-width="0.9"/>
<line x1="54.30" y1="470.82" x2="292.00" y2="470.82" stroke="#ebebeb" stroke-width="0.9"/>
<line x1="54.30" y1="422.38" x2="292.00" y2="422.38" stroke="#ebebeb" stroke-width="0.9"/>
<line x1="102.55" y1="401.00" x2="102.55" y2="550.40" stroke="#ebebeb" stroke-width="1.6"/>
<line x1="154.00" y1="401.00" x2="154.00" y2="550.40" stroke="#ebebeb" stroke-width="1.6"/>
<line x1="205.45" y1="401.00" x2="205.45" y2="550.40" stroke="#ebebeb" stroke-width="1.6"/>
<line x1="256.90" y1="401.00" x2="256.90" y2="550.40" stroke="#ebebeb" stroke-width="1.6"/>
<line x1="54.30" y1="543.50" x2="292.00" y2="543.50" stroke="#ebebeb" stroke-width="1.6"/>
<line x1="54.30" y1="495.05" x2="292.00" y2="495.05" stroke="#ebebeb" stroke-width="1.6"/>
<line x1="54.30" y1="446.60" x2="292.00" y2="446.60" stroke="#ebebeb" stroke-width="1.6"/>
<path d="M129.7 487.5h0M145.5 513.8h0M138.7 517.4h0M141.8 533.2h0M145.8 522.8h0M140.4 532.8h0M146.3 535.1h0M130.3 537.5h0M144.0 527.4h0M143.5 534.3h0M129.5 533.9h0M134.9 531.8h0M142.2 537.5h0M147.9 521.7h0M142.7 511.2h0M137.0 521.7h0M141.3 529.8h0M146.8 523.0h0M136.2 525.5h0M144.5 522.7h0M148.4 527.2h0M144.0 522.6h0M147.0 523.9h0M139.1 540.0h0M142.5 526.9h0M143.0 523.8h0M136.2 537.9h0M144.2 517.8h0M142.8 531.2h0M148.3 520.7h0M134.6 542.5h0M139.0 503.0h0M144.9 538.7h0M135.0 536.2h0M144.7 536.8h0M130.6 535.7h0M149.4 534.7h0M143.8 528.5h0M137.8 535.3h0M144.1 529.3h0M146.7 528.1h0M143.8 542.8h0M135.6 531.6h0M131.5 516.0h0M132.6 541.3h0M135.9 542.0h0M143.0 540.5h0M141.9 536.2h0M144.5 535.7h0M137.0 518.7h0M129.9 535.6h0M137.4 515.6h0M141.1 524.9h0M140.5 538.1h0M143.6 535.3h0M143.9 521.4h0M135.3 538.6h0M131.7 532.5h0M146.0 535.5h0M141.1 510.8h0M136.6 534.5h0M130.5 537.0h0M144.6 526.3h0M133.0 507.5h0M137.6 522.8h0M147.5 537.9h0M139.0 515.5h0M135.3 542.8h0M144.5 520.7h0M146.0 538.9h0M146.1 518.2h0M137.6 525.2h0M142.6 526.2h0M145.6 534.4h0M149.0 529.9h0M145.9 520.1h0M148.8 532.2h0M143.2 514.6h0M136.1 518.3h0M148.3 532.7h0M138.8 512.1h0M138.0 540.8h0M145.2 529.2h0M138.1 521.9h0M147.5 526.1h0" stroke="rgba(65,105,225,0.68)" stroke-width="3.10" stroke-linecap="round" fill="none"/>
<path d="M137.8 520.0h0M136.3 531.2h0M148.5 529.8h0M147.0 526.4h0M138.2 542.8h0M147.9 522.3h0M148.7 521.1h0M133.8 534.2h0M134.2 540.4h0M130.4 533.2h0M136.1 527.0h0M136.7 527.1h0M147.3 535.4h0M142.4 534.8h0M129.6 539.7h0M150.0 542.2h0M148.8 526.1h0M145.5 516.9h0M134.8 532.0h0M147.5 517.5h0M140.3 542.0h0M130.5 530.0h0M142.2 533.4h0M148.7 531.1h0M139.5 533.6h0M145.7 517.3h0M142.4 540.5h0M146.2 536.1h0M148.9 521.0h0M140.0 528.2h0M140.7 514.3h0M130.6 532.3h0M147.5 523.8h0M138.5 535.2h0M144.9 513.3h0M135.6 528.2h0M144.9 535.2h0M142.0 536.1h0M133.4 539.6h0M142.9 527.1h0M143.2 529.1h0M136.0 500.0h0M149.2 526.6h0M144.1 525.7h0M141.9 524.5h0M142.4 516.9h0M134.2 537.6h0M148.8 523.4h0M133.7 541.8h0M145.5 515.1h0M140.0 506.5h0M147.8 537.4h0M140.9 524.6h0M141.8 518.2h0M132.6 533.8h0M142.8 525.3h0M131.0 537.0h0M148.1 532.6h0M140.0 526.2h0M143.3 531.9h0M147.4 538.9h0M136.6 512.7h0M132.6 529.2h0M140.7 528.4h0M143.4 529.4h0M136.3 538.8h0M129.4 541.7h0M131.5 475.2h0M142.2 534.2h0M142.8 515.8h0M148.0 533.6h0M133.9 525.9h0M137.8 516.8h0M136.1 532.4h0M134.2 535.2h0M147.7 528.2h0M130.7 529.4h0M145.1 542.3h0M143.3 524.0h0M136.6 528.6h0M141.9 540.9h0M143.7 533.8h0M138.0 518.2h0M137.6 535.6h0M133.8 529.1h0" stroke="rgba(65,105,225,0.68)" stroke-width="3.10" stroke-linecap="round" fill="none"/>
<path d="M143.4 522.1h0M130.0 531.3h0M139.4 542.7h0M143.4 542.5h0M129.3 537.1h0M132.4 530.4h0M138.3 523.1h0M145.3 517.5h0M140.4 539.9h0M142.5 530.9h0M131.9 542.1h0M144.9 531.9h0M132.6 539.3h0M142.6 527.1h0M141.2 511.1h0M141.8 532.3h0M136.3 532.3h0M136.0 496.0h0M139.7 540.1h0M146.9 534.0h0M137.1 540.8h0M135.9 538.3h0M146.1 524.1h0M148.3 538.7h0M138.3 513.3h0M134.1 538.9h0M131.0 539.9h0M131.1 535.1h0M143.9 542.3h0M133.0 476.0h0M144.2 521.5h0M135.6 540.4h0M140.7 519.8h0M139.3 541.6h0M141.7 526.6h0M135.4 538.6h0M142.3 540.4h0M142.3 532.6h0M140.5 522.6h0M136.7 534.8h0M134.5 536.9h0M141.7 532.6h0M134.9 528.8h0M135.4 539.4h0M147.4 543.3h0M141.5 513.3h0M139.4 530.9h0M146.9 520.7h0M142.0 504.0h0M139.3 529.9h0M137.3 530.8h0M149.8 538.2h0M145.2 532.0h0M141.9 541.2h0M137.1 540.7h0M129.4 534.6h0M140.7 541.5h0M139.2 531.4h0M136.3 516.0h0M145.6 519.3h0M143.2 520.0h0M142.8 535.1h0M131.5 543.5h0M146.3 517.3h0M146.5 525.4h0M145.5 542.4h0M149.2 536.6h0M147.8 518.4h0M130.5 499.0h0M137.0 507.0h0M149.6 538.5h0M139.4 532.6h0M145.6 520.1h0M139.8 526.7h0M148.6 530.2h0M144.0 514.7h0M145.9 530.7h0M146.8 527.7h0M147.5 518.4h0M137.8 534.2h0M130.4 535.7h0M130.9 533.9h0M134.9 528.3h0M142.5 533.8h0M131.0 493.0h0" stroke="rgba(65,105,225,0.68)" stroke-width="3.10" stroke-linecap="round" fill="none"/>
<path d="M143.3 534.2h0M139.5 522.2h0M142.6 527.1h0M147.6 539.1h0M141.1 529.4h0M135.0 525.7h0M131.2 538.6h0M134.1 534.7h0M144.3 517.4h0M149.1 524.0h0M137.8 514.7h0M141.0 503.5h0M137.1 520.0h0M136.4 520.9h0M130.0 513.0h0M138.4 525.0h0M145.1 532.2h0M148.6 539.0h0M130.4 531.3h0M149.9 534.5h0M136.2 523.3h0M147.1 518.1h0M138.1 542.6h0M129.5 529.0h0M140.8 543.4h0M143.6 519.8h0M144.7 518.5h0M144.7 535.9h0M143.9 530.7h0M138.7 542.2h0M141.5 536.0h0M138.9 543.4h0M133.3 528.3h0M141.3 514.1h0M136.1 522.6h0M140.2 526.7h0M134.0 492.0h0M130.3 536.5h0M134.1 536.7h0M132.5 530.3h0M138.0 531.7h0M142.4 515.1h0M135.9 519.7h0M130.5 537.4h0M142.9 522.1h0M134.2 525.1h0M145.1 519.2h0M130.1 541.5h0M148.3 520.6h0M130.8 535.8h0M136.2 540.9h0M132.6 532.8h0M140.2 516.1h0M148.9 532.8h0M147.5 540.8h0M139.3 527.0h0M141.0 523.2h0M135.4 530.6h0M147.5 532.3h0M147.1 528.3h0M143.8 526.0h0M149.0 529.8h0M138.4 539.1h0M143.5 515.4h0M134.3 531.0h0M143.4 515.9h0M135.2 529.3h0M145.2 521.1h0M148.5 534.8h0M138.6 511.8h0M132.8 530.0h0M131.8 543.0h0M136.3 521.2h0M138.2 527.5h0M142.6 535.3h0M147.1 536.5h0M146.9 533.1h0M135.1 531.8h0M146.4 531.1h0M132.7 537.8h0M140.9 510.9h0M139.5 543.2h0M129.5 533.0h0M131.8 533.3h0" stroke="rgba(65,105,225,0.68)" stroke-width="3.10" stroke-linecap="round" fill="none"/>
<path d="M174.1 541.5h0M180.3 531.4h0M179.1 540.6h0M162.5 529.6h0M174.3 514.4h0M178.4 532.5h0M174.1 531.8h0M168.7 518.3h0M164.1 542.8h0M167.1 526.1h0M179.1 526.1h0M180.0 540.2h0M179.9 511.9h0M180.4 506.6h0M174.9 541.3h0M173.5 524.2h0M170.0 538.5h0M175.7 522.8h0M164.7 526.7h0M171.1 534.4h0M174.5 528.3h0M170.7 536.1h0M178.4 523.8h0M161.3 529.6h0M177.1 514.0h0M171.7 525.9h0M165.2 537.2h0M161.8 543.4h0M175.8 508.2h0M161.9 539.9h0M178.8 525.7h0M179.0 493.0h0M168.9 519.1h0M176.8 509.8h0M178.7 536.4h0M164.6 524.5h0M168.2 534.5h0M179.5 541.4h0M172.9 524.2h0M168.6 527.9h0M163.3 523.6h0M171.3 542.5h0M160.5 531.5h0M165.2 530.1h0M171.2 520.7h0M161.1 533.6h0M173.0 543.3h0M164.1 541.8h0M174.0 520.8h0M166.5 540.5h0M173.4 542.7h0M169.9 521.9h0M173.4 531.0h0M167.9 519.3h0M167.6 536.4h0M167.5 522.0h0M179.3 531.0h0M180.7 526.6h0M172.8 527.5h0M165.4 529.7h0M172.9 520.3h0M177.0 521.0h0M177.8 542.1h0M176.3 519.6h0M173.4 531.7h0M169.9 516.6h0M176.3 511.4h0M172.8 512.7h0M176.7 506.8h0M179.6 521.5h0M173.9 519.0h0M167.1 524.5h0M167.5 530.6h0M176.0 513.8h0M162.3 532.9h0M171.4 542.8h0M163.5 525.7h0M180.4 542.2h0M172.1 522.4h0M175.0 542.8h0M172.1 524.0h0M176.3 521.6h0M173.9 526.9h0M177.4 521.1h0M165.4 531.2h0M166.5 539.4h0" stroke="rgba(65,105,225,0.68)" stroke-width="3.10" stroke-linecap="round" fill="none"/>
<path d="M169.4 526.4h0M173.5 532.1h0M179.1 515.4h0M175.1 536.2h0M179.4 517.0h0M175.0 542.6h0M180.3 512.8h0M176.2 539.0h0M178.5 526.2h0M173.4 541.1h0M179.5 528.1h0M171.9 518.7h0M169.6 529.7h0M174.5 531.5h0M175.8 516.1h0M179.2 530.6h0M175.1 533.3h0M163.8 525.9h0M177.8 536.9h0M174.8 524.7h0M180.4 526.2h0M177.8 530.5h0M179.7 514.5h0M171.5 541.0h0M174.7 510.5h0M170.6 518.7h0M179.3 538.9h0M172.6 523.4h0M179.3 542.6h0M178.0 530.5h0M178.0 540.8h0M167.7 535.2h0M174.8 532.8h0M175.7 524.7h0M173.8 520.9h0M176.7 510.2h0M162.7 538.8h0M179.3 539.0h0M179.4 520.4h0M175.2 515.9h0M171.6 522.0h0M167.8 533.4h0M171.4 515.7h0M163.3 531.6h0M180.5 509.0h0M160.8 543.1h0M176.6 527.0h0M177.8 517.6h0M179.1 534.2h0M169.6 538.0h0M180.8 530.0h0M174.1 531.0h0M172.9 543.2h0M178.2 535.6h0M169.1 525.8h0M180.4 521.8h0M168.8 539.5h0M176.3 531.2h0M177.5 512.5h0M179.7 506.5h0M177.3 519.8h0M167.3 534.8h0M175.5 514.2h0M171.9 518.4h0M166.0 535.9h0M179.1 542.7h0M173.1 542.3h0M173.7 519.4h0M170.4 541.5h0M179.1 535.2h0M173.4 511.5h0M171.6 518.8h0M166.1 542.0h0M169.9 527.2h0M180.5 525.5h0M173.1 526.3h0M175.7 530.0h0M172.0 505.0h0M175.6 520.0h0M179.8 538.5h0M180.5 517.1h0M168.5 532.9h0M180.7 540.5h0M177.9 505.0h0M171.5 537.7h0M175.0 517.9h0" stroke="rgba(65,105,225,0.68)" stroke-width="3.10" stroke-linecap="round" fill="none"/>
<path d="M167.0 539.3h0M160.3 533.3h0M177.0 539.6h0M180.9 540.4h0M174.1 536.8h0M173.9 531.4h0M178.1 532.2h0M172.5 538.8h0M170.8 515.6h0M163.0 529.5h0M172.3 533.0h0M174.9 535.7h0M171.6 517.6h0M180.3 504.0h0M175.1 542.9h0M170.9 525.3h0M179.7 531.5h0M174.8 536.8h0M171.5 540.4h0M164.7 534.8h0M177.4 531.7h0M163.6 542.5h0M176.3 535.7h0M163.8 534.4h0M170.2 542.5h0M169.0 531.6h0M178.9 533.4h0M171.4 541.9h0M167.8 526.2h0M177.5 506.7h0M176.0 539.5h0M169.4 540.0h0M168.2 532.9h0M161.4 537.4h0M167.8 525.7h0M172.6 515.7h0M177.8 529.2h0M177.5 533.3h0M161.6 541.2h0M177.2 524.5h0M162.2 537.8h0M174.3 513.9h0M166.5 533.5h0M166.6 518.7h0M180.1 535.2h0M176.9 514.2h0M176.2 514.6h0M175.6 509.9h0M173.1 514.4h0M163.2 535.1h0M164.5 533.3h0M180.3 543.5h0M179.5 529.8h0M177.9 523.6h0M178.9 514.8h0M173.7 519.0h0M179.5 533.4h0M173.9 511.3h0M180.3 540.2h0M179.7 534.2h0M178.0 512.5h0M172.2 534.6h0M179.3 521.1h0M173.2 535.8h0M180.4 507.9h0M160.5 530.7h0M177.1 533.2h0M173.4 511.0h0M169.3 528.5h0M168.1 540.5h0M171.7 516.0h0M175.5 515.2h0M164.8 525.0h0M178.5 520.8h0M171.1 516.4h0M171.8 535.4h0M179.8 515.5h0M171.1 521.4h0M165.1 528.5h0M174.8 528.8h0M163.9 529.0h0M168.2 527.1h0M175.3 516.7h0M174.4 512.2h0M170.7 526.4h0M170.1 530.6h0" stroke="rgba(65,105,225,0.68)" stroke-width="3.10" stroke-linecap="round" fill="none"/>
<path d="M167.2 538.9h0M176.9 540.6h0M175.1 511.5h0M179.3 511.1h0M169.9 521.2h0M179.8 523.6h0M169.2 523.1h0M179.3 505.7h0M175.5 537.7h0M177.9 505.7h0M176.0 523.7h0M162.1 527.9h0M173.7 539.6h0M173.5 523.1h0M177.2 510.9h0M178.5 510.0h0M160.2 535.8h0M165.6 541.4h0M178.9 538.1h0M171.6 540.4h0M177.3 521.1h0M166.6 536.1h0M173.9 534.3h0M175.0 534.2h0M177.9 530.6h0M173.1 534.8h0M166.2 523.4h0M177.0 525.7h0M174.4 541.7h0M164.8 523.7h0M173.9 517.6h0M174.7 521.4h0M166.1 524.9h0M168.2 531.1h0M171.4 524.7h0M172.2 524.8h0M173.5 529.4h0M174.6 527.5h0M179.9 507.0h0M174.3 513.0h0M175.2 517.8h0M174.9 514.6h0M169.1 535.2h0M175.2 509.1h0M178.3 511.7h0M170.9 530.1h0M180.4 527.5h0M174.2 529.2h0M170.3 534.2h0M173.7 525.5h0M180.0 515.2h0M172.3 519.6h0M173.2 542.5h0M172.2 521.6h0M172.7 533.3h0M171.4 527.4h0M165.6 538.5h0M164.5 533.9h0M170.5 541.4h0M172.0 520.6h0M176.6 522.8h0M163.8 530.6h0M171.3 540.9h0M178.0 486.3h0M168.2 534.4h0M175.4 540.9h0M170.7 514.0h0M171.5 529.7h0M179.5 516.5h0M171.5 518.1h0M175.0 500.0h0M176.9 531.3h0M172.3 530.6h0M177.2 542.7h0M171.1 541.2h0M170.6 542.1h0M169.4 526.6h0M174.1 533.3h0M175.8 526.5h0M170.8 522.7h0M180.4 530.5h0M174.7 539.7h0M178.3 523.4h0M176.6 542.1h0M176.6 513.5h0M164.1 528.4h0" stroke="rgba(65,105,225,0.68)" stroke-width="3.10" stroke-linecap="round" fill="none"/>
<path d="M145.6 543.0h0M147.3 543.3h0M144.1 543.7h0M143.6 544.0h0M146.4 543.8h0M144.5 543.4h0" stroke="rgba(50,50,50,0.55)" stroke-width="3.20" stroke-linecap="round" fill="none"/>
<path d="M144.0 543.2h0M145.0 543.8h0M145.5 543.9h0M143.2 543.2h0M142.7 544.0h0M142.9 543.6h0" stroke="rgba(50,50,50,0.55)" stroke-width="3.20" stroke-linecap="round" fill="none"/>
<path d="M160.3 543.1h0M161.0 544.1h0M159.5 543.1h0M160.3 543.5h0M160.2 543.6h0M160.9 543.8h0" stroke="rgba(50,50,50,0.55)" stroke-width="3.20" stroke-linecap="round" fill="none"/>
<path d="M159.6 543.8h0M159.9 544.1h0M160.0 542.9h0M160.8 543.2h0M160.6 543.6h0M160.5 543.8h0" stroke="rgba(50,50,50,0.55)" stroke-width="3.20" stroke-linecap="round" fill="none"/>
<line x1="128.28" y1="401.00" x2="128.28" y2="550.40" stroke="#222" stroke-width="1.0" stroke-dasharray="3.8,1.95"/>
<line x1="179.72" y1="401.00" x2="179.72" y2="550.40" stroke="#222" stroke-width="1.0" stroke-dasharray="3.8,1.95"/>
<line x1="54.30" y1="543.30" x2="292.00" y2="543.30" stroke="#333" stroke-width="1.1" stroke-dasharray="4.2,1.6"/>
<line x1="54.30" y1="401.00" x2="54.30" y2="550.95" stroke="#111" stroke-width="1.1"/>
<line x1="53.75" y1="550.40" x2="292.00" y2="550.40" stroke="#111" stroke-width="1.1"/>
<line x1="50.30" y1="543.50" x2="54.30" y2="543.50" stroke="#222" stroke-width="1.1"/>
<text x="47.20" y="546.25" font-size="7.7" text-anchor="end" fill="#4d4d4d">0</text>
<line x1="50.30" y1="495.05" x2="54.30" y2="495.05" stroke="#222" stroke-width="1.1"/>
<text x="47.20" y="497.80" font-size="7.7" text-anchor="end" fill="#4d4d4d">100</text>
<line x1="50.30" y1="446.60" x2="54.30" y2="446.60" stroke="#222" stroke-width="1.1"/>
<text x="47.20" y="449.35" font-size="7.7" text-anchor="end" fill="#4d4d4d">200</text>
<line x1="102.55" y1="550.40" x2="102.55" y2="554.40" stroke="#222" stroke-width="1.1"/>
<text x="102.55" y="563.70" font-size="7.7" text-anchor="middle" fill="#4d4d4d">-2</text>
<line x1="154.00" y1="550.40" x2="154.00" y2="554.40" stroke="#222" stroke-width="1.1"/>
<text x="154.00" y="563.70" font-size="7.7" text-anchor="middle" fill="#4d4d4d">0</text>
<line x1="205.45" y1="550.40" x2="205.45" y2="554.40" stroke="#222" stroke-width="1.1"/>
<text x="205.45" y="563.70" font-size="7.7" text-anchor="middle" fill="#4d4d4d">2</text>
<line x1="256.90" y1="550.40" x2="256.90" y2="554.40" stroke="#222" stroke-width="1.1"/>
<text x="256.90" y="563.70" font-size="7.7" text-anchor="middle" fill="#4d4d4d">4</text>
<text transform="translate(19.30,488.80) rotate(-90)" font-size="7.5"><tspan x="0">−</tspan><tspan x="7.3">Log</tspan><tspan x="25.1" dy="2.0">10</tspan><tspan x="35.3" dy="-2.0">P</tspan></text>
<text y="579.70" font-size="7.5"><tspan x="125.00">Average</tspan><tspan x="157.80">Log</tspan><tspan x="171.30" dy="2.1">2</tspan><tspan x="180.50" dy="-2.1">fold change</tspan></text>
<text x="205.80" y="601.30" font-size="7.8" fill="#000">total = 703 variables</text>
<path d="M230.9 410.0h0M216.4 451.2h0M242.7 464.9h0M234.8 469.6h0M197.8 468.8h0M188.8 480.7h0M207.2 473.6h0M239.5 480.1h0M185.2 485.4h0M216.7 482.8h0M240.3 482.0h0M200.9 484.9h0M201.5 492.7h0M208.5 494.1h0M103.3 419.2h0M115.2 509.2h0M128.0 522.7h0M123.8 524.6h0M123.1 534.1h0M182.0 502.0h0M184.0 508.0h0M186.0 512.0h0M183.0 516.0h0M188.0 510.0h0M190.0 515.0h0M185.0 520.0h0M181.0 525.0h0M187.0 527.0h0M193.0 507.0h0M196.0 512.0h0M191.0 520.0h0M181.0 531.0h0M184.0 536.0h0M180.0 540.0h0M189.0 530.0h0" stroke="rgba(238,0,0,0.6)" stroke-width="4.00" stroke-linecap="round" fill="none"/>
<text x="216.70" y="417.10" font-size="4.7" fill="#000">SPP1</text>
<text x="194.40" y="457.80" font-size="4.7" fill="#000">RNASE1</text>
<text x="244.00" y="462.00" font-size="4.7" fill="#000">MT1G</text>
<text x="219.00" y="465.70" font-size="4.7" fill="#000">IGHG1</text>
<text x="178.30" y="467.00" font-size="4.7" fill="#000">IGHG4</text>
<text x="187.80" y="477.00" font-size="4.7" fill="#000">CSTB</text>
<text x="206.70" y="478.80" font-size="4.7" fill="#000">MMP9</text>
<text x="225.90" y="477.00" font-size="4.7" fill="#000">MMP12</text>
<text x="171.20" y="482.00" font-size="4.7" fill="#000">IFI27</text>
<text x="222.00" y="487.80" font-size="4.7" fill="#000">MT1X</text>
<text x="242.20" y="487.80" font-size="4.7" fill="#000">MT1H</text>
<text x="204.60" y="489.30" font-size="4.7" fill="#000">MT2A</text>
<text x="183.10" y="492.50" font-size="4.7" fill="#000">NUPR1</text>
<text x="223.80" y="497.20" font-size="4.7" fill="#000">MT1E</text>
<text x="186.20" y="500.90" font-size="4.7" fill="#000">MT1F</text>
<text x="168.10" y="500.90" font-size="4.7" fill="#000">LDHA</text>
<text x="146.30" y="504.30" font-size="4.7" fill="#000">MMP14</text>
<text x="204.60" y="504.60" font-size="4.7" fill="#000">IGLC2</text>
<text x="146.30" y="514.30" font-size="4.7" fill="#000">CXCL2</text>
<text x="167.00" y="514.30" font-size="4.7" fill="#000">APOE</text>
<text x="200.10" y="514.00" font-size="4.7" fill="#000">ACP5</text>
<text x="217.70" y="514.00" font-size="4.7" fill="#000">HSPA6</text>
<text x="192.30" y="523.00" font-size="4.7" fill="#000">CCL20</text>
<text x="213.30" y="523.00" font-size="4.7" fill="#000">MT1M</text>
<text x="163.00" y="523.00" font-size="4.7" fill="#000">LILRB</text>
<text x="146.30" y="531.90" font-size="4.7" fill="#000">CCL7</text>
<text x="163.00" y="531.90" font-size="4.7" fill="#000">CXCL3</text>
<text x="187.00" y="532.20" font-size="4.7" fill="#000">CTSK</text>
<text x="204.10" y="531.90" font-size="4.7" fill="#000">IGKC</text>
<text x="184.40" y="541.90" font-size="4.7" fill="#000">CCL18</text>
<text x="166.00" y="545.00" font-size="4.7" fill="#000">IGHM</text>
<text x="132.00" y="519.60" font-size="4.7" fill="#000">C7</text>
<text x="123.80" y="540.70" font-size="4.7" fill="#000">CXCL9</text>
<text x="100.00" y="415.70" font-size="4.7" fill="#000">HLA-DRB5</text>
<text x="97.00" y="516.20" font-size="4.7" fill="#000">MT-ATP8</text>
<text x="100.00" y="530.60" font-size="4.7" fill="#000">MT-ND4L</text>
<line x1="229.00" y1="412.50" x2="229.30" y2="412.10" stroke="#000" stroke-width="0.6"/>
<path d="M230.50 410.50L230.22 412.79L228.38 411.41Z" fill="#000"/>
<line x1="214.50" y1="453.50" x2="214.80" y2="453.10" stroke="#000" stroke-width="0.6"/>
<path d="M216.00 451.50L215.72 453.79L213.88 452.41Z" fill="#000"/>
<line x1="233.00" y1="467.00" x2="233.30" y2="467.46" stroke="#000" stroke-width="0.6"/>
<path d="M234.50 469.30L232.34 468.09L234.26 466.83Z" fill="#000"/>
<line x1="196.00" y1="467.00" x2="196.30" y2="467.30" stroke="#000" stroke-width="0.6"/>
<path d="M197.50 468.50L195.49 468.11L197.11 466.49Z" fill="#000"/>
<line x1="163.50" y1="502.00" x2="179.75" y2="505.51" stroke="#000" stroke-width="0.6"/>
<path d="M182.00 506.00L179.51 506.64L179.99 504.39Z" fill="#000"/>
<line x1="164.00" y1="512.00" x2="181.70" y2="512.44" stroke="#000" stroke-width="0.6"/>
<path d="M184.00 512.50L181.67 513.59L181.73 511.29Z" fill="#000"/>
<line x1="191.00" y1="512.00" x2="213.70" y2="512.00" stroke="#000" stroke-width="0.6"/>
<path d="M216.00 512.00L213.70 513.15L213.70 510.85Z" fill="#000"/>
<line x1="195.00" y1="518.00" x2="209.73" y2="520.60" stroke="#000" stroke-width="0.6"/>
<path d="M212.00 521.00L209.54 521.73L209.93 519.47Z" fill="#000"/>
<line x1="190.00" y1="522.00" x2="201.04" y2="528.79" stroke="#000" stroke-width="0.6"/>
<path d="M203.00 530.00L200.44 529.77L201.64 527.82Z" fill="#000"/>
<line x1="161.00" y1="528.00" x2="179.74" y2="524.43" stroke="#000" stroke-width="0.6"/>
<path d="M182.00 524.00L179.96 525.56L179.53 523.30Z" fill="#000"/>
<line x1="209.00" y1="492.50" x2="219.76" y2="494.98" stroke="#000" stroke-width="0.6"/>
<path d="M222.00 495.50L219.50 496.10L220.02 493.86Z" fill="#000"/>
<line x1="105.50" y1="417.00" x2="105.10" y2="417.40" stroke="#000" stroke-width="0.6"/>
<path d="M103.50 419.00L104.29 416.59L105.91 418.21Z" fill="#000"/>
<line x1="117.00" y1="511.50" x2="116.68" y2="511.08" stroke="#000" stroke-width="0.6"/>
<path d="M115.40 509.40L117.59 510.38L115.77 511.78Z" fill="#000"/>
<line x1="131.50" y1="518.50" x2="129.76" y2="520.62" stroke="#000" stroke-width="0.6"/>
<path d="M128.30 522.40L128.87 519.89L130.65 521.35Z" fill="#000"/>
<line x1="122.00" y1="527.00" x2="122.32" y2="526.56" stroke="#000" stroke-width="0.6"/>
<path d="M123.60 524.80L123.25 527.24L121.39 525.88Z" fill="#000"/>
<rect x="463.40" y="17.20" width="182.60" height="253.90" fill="#fff"/>
<line x1="495.41" y1="17.20" x2="495.41" y2="271.10" stroke="#ebebeb" stroke-width="0.5"/>
<line x1="542.84" y1="17.20" x2="542.84" y2="271.10" stroke="#ebebeb" stroke-width="0.5"/>
<line x1="590.27" y1="17.20" x2="590.27" y2="271.10" stroke="#ebebeb" stroke-width="0.5"/>
<line x1="637.70" y1="17.20" x2="637.70" y2="271.10" stroke="#ebebeb" stroke-width="0.5"/>
<line x1="471.70" y1="17.20" x2="471.70" y2="271.10" stroke="#ebebeb" stroke-width="1.0"/>
<line x1="519.13" y1="17.20" x2="519.13" y2="271.10" stroke="#ebebeb" stroke-width="1.0"/>
<line x1="566.56" y1="17.20" x2="566.56" y2="271.10" stroke="#ebebeb" stroke-width="1.0"/>
<line x1="613.99" y1="17.20" x2="613.99" y2="271.10" stroke="#ebebeb" stroke-width="1.0"/>
<line x1="463.40" y1="38.36" x2="646.00" y2="38.36" stroke="#ebebeb" stroke-width="1.0"/>
<line x1="463.40" y1="73.62" x2="646.00" y2="73.62" stroke="#ebebeb" stroke-width="1.0"/>
<line x1="463.40" y1="108.89" x2="646.00" y2="108.89" stroke="#ebebeb" stroke-width="1.0"/>
<line x1="463.40" y1="144.15" x2="646.00" y2="144.15" stroke="#ebebeb" stroke-width="1.0"/>
<line x1="463.40" y1="179.41" x2="646.00" y2="179.41" stroke="#ebebeb" stroke-width="1.0"/>
<line x1="463.40" y1="214.68" x2="646.00" y2="214.68" stroke="#ebebeb" stroke-width="1.0"/>
<line x1="463.40" y1="249.94" x2="646.00" y2="249.94" stroke="#ebebeb" stroke-width="1.0"/>
<rect x="471.70" y="22.49" width="166.00" height="31.74" fill="#98000e"/>
<line x1="460.80" y1="38.36" x2="463.40" y2="38.36" stroke="#333" stroke-width="1.0"/>
<text x="460.00" y="41.11" font-size="7.8" text-anchor="end" fill="#4d4d4d">Metallothioneins bind metals</text>
<rect x="471.70" y="57.75" width="166.00" height="31.74" fill="#98000e"/>
<line x1="460.80" y1="73.62" x2="463.40" y2="73.62" stroke="#333" stroke-width="1.0"/>
<text x="460.00" y="76.37" font-size="7.8" text-anchor="end" fill="#4d4d4d">Response to metal ions</text>
<rect x="471.70" y="93.02" width="94.86" height="31.74" fill="#a52a1f"/>
<line x1="460.80" y1="108.89" x2="463.40" y2="108.89" stroke="#333" stroke-width="1.0"/>
<text x="460.00" y="107.49" font-size="7.8" text-anchor="end" fill="#4d4d4d">Degradation of the</text>
<text x="460.00" y="115.79" font-size="7.8" text-anchor="end" fill="#4d4d4d">extracellular matrix</text>
<rect x="471.70" y="128.28" width="71.14" height="31.74" fill="#a83222"/>
<line x1="460.80" y1="144.15" x2="463.40" y2="144.15" stroke="#333" stroke-width="1.0"/>
<text x="460.00" y="146.90" font-size="7.8" text-anchor="end" fill="#4d4d4d">Collagen degradation</text>
<rect x="471.70" y="163.55" width="47.43" height="31.74" fill="#cb6150"/>
<line x1="460.80" y1="179.41" x2="463.40" y2="179.41" stroke="#333" stroke-width="1.0"/>
<text x="460.00" y="182.16" font-size="7.8" text-anchor="end" fill="#4d4d4d">Chaperone Mediated Autophagy</text>
<rect x="471.70" y="198.81" width="47.43" height="31.74" fill="#f2a78f"/>
<line x1="460.80" y1="214.68" x2="463.40" y2="214.68" stroke="#333" stroke-width="1.0"/>
<text x="460.00" y="217.43" font-size="7.8" text-anchor="end" fill="#4d4d4d">Late endosomal microautophagy</text>
<rect x="471.70" y="234.07" width="94.86" height="31.74" fill="#f9b9a0"/>
<line x1="460.80" y1="249.94" x2="463.40" y2="249.94" stroke="#333" stroke-width="1.0"/>
<text x="460.00" y="248.54" font-size="7.8" text-anchor="end" fill="#4d4d4d">Extracellular matrix</text>
<text x="460.00" y="256.84" font-size="7.8" text-anchor="end" fill="#4d4d4d">organization</text>
<rect x="463.40" y="17.20" width="182.60" height="253.90" fill="none" stroke="#333" stroke-width="0.9"/>
<line x1="471.70" y1="271.10" x2="471.70" y2="273.70" stroke="#333" stroke-width="1.0"/>
<text x="471.70" y="281.30" font-size="7.7" text-anchor="middle" fill="#4d4d4d">0</text>
<line x1="519.13" y1="271.10" x2="519.13" y2="273.70" stroke="#333" stroke-width="1.0"/>
<text x="519.13" y="281.30" font-size="7.7" text-anchor="middle" fill="#4d4d4d">2</text>
<line x1="566.56" y1="271.10" x2="566.56" y2="273.70" stroke="#333" stroke-width="1.0"/>
<text x="566.56" y="281.30" font-size="7.7" text-anchor="middle" fill="#4d4d4d">4</text>
<line x1="613.99" y1="271.10" x2="613.99" y2="273.70" stroke="#333" stroke-width="1.0"/>
<text x="613.99" y="281.30" font-size="7.7" text-anchor="middle" fill="#4d4d4d">6</text>
<text x="554.70" y="291.30" font-size="7.8" text-anchor="middle" fill="#000">Count</text>
<text x="470.20" y="11.10" font-size="9.0" fill="#000">The upregulated pathways of SPP1+macro</text>
<defs><linearGradient id="gb" x1="0" y1="0" x2="0" y2="1"><stop offset="0.00" stop-color="#98000d"/><stop offset="0.10" stop-color="#a3221b"/><stop offset="0.20" stop-color="#ae3728"/><stop offset="0.30" stop-color="#b94936"/><stop offset="0.40" stop-color="#c35944"/><stop offset="0.50" stop-color="#cd6a53"/><stop offset="0.60" stop-color="#d77a62"/><stop offset="0.70" stop-color="#e18a71"/><stop offset="0.80" stop-color="#ea9a81"/><stop offset="0.90" stop-color="#f3aa91"/><stop offset="1.00" stop-color="#fbbaa1"/></linearGradient></defs>
<text x="657.50" y="116.40" font-size="7.8" fill="#000">p.adjust</text>
<rect x="657.80" y="120.70" width="11.70" height="58.90" fill="url(#gb)"/>
<line x1="657.80" y1="141.90" x2="660.10" y2="141.90" stroke="#fff" stroke-width="0.6"/>
<line x1="667.20" y1="141.90" x2="669.50" y2="141.90" stroke="#fff" stroke-width="0.6"/>
<text x="672.80" y="144.00" font-size="6.0" fill="#000">0.01</text>
<line x1="657.80" y1="163.20" x2="660.10" y2="163.20" stroke="#fff" stroke-width="0.6"/>
<line x1="667.20" y1="163.20" x2="669.50" y2="163.20" stroke="#fff" stroke-width="0.6"/>
<text x="672.80" y="165.30" font-size="6.0" fill="#000">0.02</text>
<rect x="449.30" y="332.20" width="197.10" height="254.30" fill="#fff"/>
<line x1="483.86" y1="332.20" x2="483.86" y2="586.50" stroke="#ebebeb" stroke-width="0.5"/>
<line x1="535.05" y1="332.20" x2="535.05" y2="586.50" stroke="#ebebeb" stroke-width="0.5"/>
<line x1="586.25" y1="332.20" x2="586.25" y2="586.50" stroke="#ebebeb" stroke-width="0.5"/>
<line x1="637.44" y1="332.20" x2="637.44" y2="586.50" stroke="#ebebeb" stroke-width="0.5"/>
<line x1="458.26" y1="332.20" x2="458.26" y2="586.50" stroke="#ebebeb" stroke-width="1.0"/>
<line x1="509.45" y1="332.20" x2="509.45" y2="586.50" stroke="#ebebeb" stroke-width="1.0"/>
<line x1="560.65" y1="332.20" x2="560.65" y2="586.50" stroke="#ebebeb" stroke-width="1.0"/>
<line x1="611.84" y1="332.20" x2="611.84" y2="586.50" stroke="#ebebeb" stroke-width="1.0"/>
<line x1="449.30" y1="344.71" x2="646.40" y2="344.71" stroke="#ebebeb" stroke-width="1.0"/>
<line x1="449.30" y1="365.55" x2="646.40" y2="365.55" stroke="#ebebeb" stroke-width="1.0"/>
<line x1="449.30" y1="386.40" x2="646.40" y2="386.40" stroke="#ebebeb" stroke-width="1.0"/>
<line x1="449.30" y1="407.24" x2="646.40" y2="407.24" stroke="#ebebeb" stroke-width="1.0"/>
<line x1="449.30" y1="428.08" x2="646.40" y2="428.08" stroke="#ebebeb" stroke-width="1.0"/>
<line x1="449.30" y1="448.93" x2="646.40" y2="448.93" stroke="#ebebeb" stroke-width="1.0"/>
<line x1="449.30" y1="469.77" x2="646.40" y2="469.77" stroke="#ebebeb" stroke-width="1.0"/>
<line x1="449.30" y1="490.62" x2="646.40" y2="490.62" stroke="#ebebeb" stroke-width="1.0"/>
<line x1="449.30" y1="511.46" x2="646.40" y2="511.46" stroke="#ebebeb" stroke-width="1.0"/>
<line x1="449.30" y1="532.30" x2="646.40" y2="532.30" stroke="#ebebeb" stroke-width="1.0"/>
<line x1="449.30" y1="553.15" x2="646.40" y2="553.15" stroke="#ebebeb" stroke-width="1.0"/>
<line x1="449.30" y1="573.99" x2="646.40" y2="573.99" stroke="#ebebeb" stroke-width="1.0"/>
<rect x="458.26" y="335.33" width="179.18" height="18.76" fill="#97000e"/>
<line x1="446.70" y1="344.71" x2="449.30" y2="344.71" stroke="#333" stroke-width="1.0"/>
<text x="445.90" y="347.46" font-size="7.8" text-anchor="end" fill="#4d4d4d">Metallothioneins bind metals</text>
<rect x="458.26" y="356.17" width="179.18" height="18.76" fill="#97000e"/>
<line x1="446.70" y1="365.55" x2="449.30" y2="365.55" stroke="#333" stroke-width="1.0"/>
<text x="445.90" y="368.30" font-size="7.8" text-anchor="end" fill="#4d4d4d">Response to metal ions</text>
<rect x="458.26" y="377.02" width="153.58" height="18.76" fill="#97000e"/>
<line x1="446.70" y1="386.40" x2="449.30" y2="386.40" stroke="#333" stroke-width="1.0"/>
<text x="445.90" y="385.00" font-size="7.8" text-anchor="end" fill="#4d4d4d">Degradation of the</text>
<text x="445.90" y="393.30" font-size="7.8" text-anchor="end" fill="#4d4d4d">extracellular matrix</text>
<rect x="458.26" y="397.86" width="102.39" height="18.76" fill="#97000e"/>
<line x1="446.70" y1="407.24" x2="449.30" y2="407.24" stroke="#333" stroke-width="1.0"/>
<text x="445.90" y="405.84" font-size="7.8" text-anchor="end" fill="#4d4d4d">Chemokine receptors bind</text>
<text x="445.90" y="414.14" font-size="7.8" text-anchor="end" fill="#4d4d4d">chemokines</text>
<rect x="458.26" y="418.70" width="102.39" height="18.76" fill="#97000e"/>
<line x1="446.70" y1="428.08" x2="449.30" y2="428.08" stroke="#333" stroke-width="1.0"/>
<text x="445.90" y="430.83" font-size="7.8" text-anchor="end" fill="#4d4d4d">Collagen degradation</text>
<rect x="458.26" y="439.55" width="153.58" height="18.76" fill="#980a10"/>
<line x1="446.70" y1="448.93" x2="449.30" y2="448.93" stroke="#333" stroke-width="1.0"/>
<text x="445.90" y="447.53" font-size="7.8" text-anchor="end" fill="#4d4d4d">Extracellular matrix</text>
<text x="445.90" y="455.83" font-size="7.8" text-anchor="end" fill="#4d4d4d">organization</text>
<rect x="458.26" y="460.39" width="76.79" height="18.76" fill="#9a0a11"/>
<line x1="446.70" y1="469.77" x2="449.30" y2="469.77" stroke="#333" stroke-width="1.0"/>
<text x="445.90" y="468.37" font-size="7.8" text-anchor="end" fill="#4d4d4d">Activation of Matrix</text>
<text x="445.90" y="476.67" font-size="7.8" text-anchor="end" fill="#4d4d4d">Metalloproteinases</text>
<rect x="458.26" y="481.24" width="76.79" height="18.76" fill="#9e1414"/>
<line x1="446.70" y1="490.62" x2="449.30" y2="490.62" stroke="#333" stroke-width="1.0"/>
<text x="445.90" y="493.37" font-size="7.8" text-anchor="end" fill="#4d4d4d">Interleukin-10 signaling</text>
<rect x="458.26" y="502.08" width="102.39" height="18.76" fill="#ae3a2a"/>
<line x1="446.70" y1="511.46" x2="449.30" y2="511.46" stroke="#333" stroke-width="1.0"/>
<text x="445.90" y="510.06" font-size="7.8" text-anchor="end" fill="#4d4d4d">Peptide ligand-binding</text>
<text x="445.90" y="518.36" font-size="7.8" text-anchor="end" fill="#4d4d4d">receptors</text>
<rect x="458.26" y="522.92" width="127.99" height="18.76" fill="#d97a63"/>
<line x1="446.70" y1="532.30" x2="449.30" y2="532.30" stroke="#333" stroke-width="1.0"/>
<text x="445.90" y="535.05" font-size="7.8" text-anchor="end" fill="#4d4d4d">Signaling by Interleukins</text>
<rect x="458.26" y="543.77" width="127.99" height="18.76" fill="#d97a63"/>
<line x1="446.70" y1="553.15" x2="449.30" y2="553.15" stroke="#333" stroke-width="1.0"/>
<text x="445.90" y="555.90" font-size="7.8" text-anchor="end" fill="#4d4d4d">GPCR ligand binding</text>
<rect x="458.26" y="564.61" width="102.39" height="18.76" fill="#fbb9a0"/>
<line x1="446.70" y1="573.99" x2="449.30" y2="573.99" stroke="#333" stroke-width="1.0"/>
<text x="445.90" y="572.59" font-size="7.8" text-anchor="end" fill="#4d4d4d">Class A/1 (Rhodopsin-like</text>
<text x="445.90" y="580.89" font-size="7.8" text-anchor="end" fill="#4d4d4d">receptors)</text>
<rect x="449.30" y="332.20" width="197.10" height="254.30" fill="none" stroke="#333" stroke-width="0.9"/>
<line x1="458.26" y1="586.50" x2="458.26" y2="589.10" stroke="#333" stroke-width="1.0"/>
<text x="458.26" y="596.70" font-size="7.7" text-anchor="middle" fill="#4d4d4d">0</text>
<line x1="509.45" y1="586.50" x2="509.45" y2="589.10" stroke="#333" stroke-width="1.0"/>
<text x="509.45" y="596.70" font-size="7.7" text-anchor="middle" fill="#4d4d4d">2</text>
<line x1="560.65" y1="586.50" x2="560.65" y2="589.10" stroke="#333" stroke-width="1.0"/>
<text x="560.65" y="596.70" font-size="7.7" text-anchor="middle" fill="#4d4d4d">4</text>
<line x1="611.84" y1="586.50" x2="611.84" y2="589.10" stroke="#333" stroke-width="1.0"/>
<text x="611.84" y="596.70" font-size="7.7" text-anchor="middle" fill="#4d4d4d">6</text>
<text x="547.85" y="607.00" font-size="7.8" text-anchor="middle" fill="#000">Count</text>
<text x="441.00" y="326.10" font-size="9.0" fill="#000">The upregulated pathways of mono/macro in TIL high</text>
<defs><linearGradient id="gd" x1="0" y1="0" x2="0" y2="1"><stop offset="0.00" stop-color="#98000d"/><stop offset="0.10" stop-color="#a3221b"/><stop offset="0.20" stop-color="#ae3728"/><stop offset="0.30" stop-color="#b94936"/><stop offset="0.40" stop-color="#c35944"/><stop offset="0.50" stop-color="#cd6a53"/><stop offset="0.60" stop-color="#d77a62"/><stop offset="0.70" stop-color="#e18a71"/><stop offset="0.80" stop-color="#ea9a81"/><stop offset="0.90" stop-color="#f3aa91"/><stop offset="1.00" stop-color="#fbbaa1"/></linearGradient></defs>
<text x="657.20" y="431.90" font-size="7.8" fill="#000">p.adjust</text>
<rect x="657.50" y="436.20" width="11.70" height="58.80" fill="url(#gd)"/>
<line x1="657.50" y1="448.10" x2="659.80" y2="448.10" stroke="#fff" stroke-width="0.6"/>
<line x1="666.90" y1="448.10" x2="669.20" y2="448.10" stroke="#fff" stroke-width="0.6"/>
<text x="672.50" y="450.20" font-size="6.0" fill="#000">0.01</text>
<line x1="657.50" y1="460.40" x2="659.80" y2="460.40" stroke="#fff" stroke-width="0.6"/>
<line x1="666.90" y1="460.40" x2="669.20" y2="460.40" stroke="#fff" stroke-width="0.6"/>
<text x="672.50" y="462.50" font-size="6.0" fill="#000">0.02</text>
<line x1="657.50" y1="472.40" x2="659.80" y2="472.40" stroke="#fff" stroke-width="0.6"/>
<line x1="666.90" y1="472.40" x2="669.20" y2="472.40" stroke="#fff" stroke-width="0.6"/>
<text x="672.50" y="474.50" font-size="6.0" fill="#000">0.03</text>
<line x1="657.50" y1="484.60" x2="659.80" y2="484.60" stroke="#fff" stroke-width="0.6"/>
<line x1="666.90" y1="484.60" x2="669.20" y2="484.60" stroke="#fff" stroke-width="0.6"/>
<text x="672.50" y="486.70" font-size="6.0" fill="#000">0.04</text>
<path d="M114.9 726.2h0M71.6 773.8h0M72.7 710.0h0M71.0 775.4h0M97.6 707.2h0M85.0 702.2h0M64.1 701.5h0M101.3 734.6h0M111.7 780.4h0M79.5 779.5h0M99.7 735.1h0M82.6 691.6h0M111.0 783.1h0M63.2 768.2h0M64.8 719.9h0M95.4 779.1h0M88.5 788.7h0M86.7 708.3h0M99.9 791.7h0M69.1 771.5h0M100.1 768.4h0M68.4 745.4h0M88.3 728.5h0M91.6 750.4h0M99.8 728.3h0M98.4 793.1h0M117.2 740.7h0M73.9 704.8h0M56.4 765.0h0M96.6 724.0h0M114.9 721.9h0M114.2 785.1h0M86.6 713.4h0M71.8 742.5h0M87.3 708.3h0M59.0 736.1h0M97.7 790.3h0M98.7 808.8h0M105.2 731.5h0M53.2 752.3h0M106.3 791.2h0M60.2 758.2h0M116.1 737.1h0M69.2 728.2h0M65.8 718.8h0M89.2 693.8h0M96.5 783.2h0M78.6 729.7h0M73.5 729.6h0M94.5 718.5h0M62.5 708.3h0M82.1 713.7h0M76.9 780.9h0M114.6 726.8h0M73.3 756.5h0M76.5 768.6h0M75.0 699.7h0M113.1 742.5h0M113.8 723.8h0M98.5 774.9h0M103.5 709.4h0M101.0 769.5h0M111.5 746.4h0M114.1 748.3h0M98.5 787.5h0M99.8 803.9h0M88.0 793.4h0M75.0 750.2h0M105.7 762.2h0M56.4 756.3h0M67.0 698.4h0M116.2 801.3h0M101.4 789.9h0M115.2 737.3h0M63.9 717.9h0M75.2 696.8h0M110.2 770.5h0M97.7 756.9h0M67.4 717.7h0M85.8 746.1h0M84.3 773.0h0M60.9 702.5h0M56.1 754.8h0M71.4 696.1h0M102.4 799.3h0M82.2 741.0h0M113.9 750.9h0M87.8 743.2h0M84.8 739.7h0M93.1 727.2h0M91.4 797.3h0M94.3 795.1h0M103.9 707.5h0M101.5 760.5h0M108.6 757.9h0M99.6 742.7h0M92.1 754.4h0M107.7 724.0h0M73.2 737.7h0M59.6 733.6h0M57.6 761.3h0M75.0 709.2h0M92.9 733.3h0M63.1 708.6h0M59.6 741.3h0M91.3 731.8h0M105.4 744.4h0M89.5 795.5h0M90.9 792.3h0M61.3 756.2h0M106.1 778.3h0M87.3 688.5h0M98.7 713.4h0M111.9 754.3h0M97.5 802.1h0M75.4 691.7h0M64.4 733.2h0M99.3 799.3h0M77.8 724.6h0M96.0 762.4h0M97.0 770.2h0M74.8 736.8h0M82.3 785.0h0M86.3 757.3h0M98.3 749.8h0M54.0 760.1h0M109.7 808.6h0M80.8 785.9h0M84.1 789.3h0M106.1 703.4h0M94.3 737.0h0M54.6 755.1h0M93.7 797.7h0M92.2 694.4h0M66.9 766.0h0M93.2 740.3h0M93.8 740.2h0M107.9 791.9h0M100.1 741.8h0M108.4 731.6h0M103.0 768.5h0M115.6 728.0h0M67.4 695.9h0M68.2 728.8h0M110.1 802.8h0M106.9 734.5h0M113.6 729.6h0M72.9 682.1h0M62.9 750.8h0M52.2 740.5h0M96.8 780.7h0M80.6 721.9h0M79.3 713.5h0M74.0 732.3h0M97.0 754.0h0M91.6 791.9h0M61.2 769.4h0M114.3 769.7h0M88.5 711.6h0M59.1 713.3h0M77.3 733.7h0M108.4 803.5h0M87.5 753.6h0M83.7 780.0h0M92.0 761.7h0M90.3 735.8h0M119.7 734.1h0M101.9 692.8h0M92.0 722.2h0M72.6 726.6h0M102.0 753.6h0M61.4 763.8h0M118.2 747.0h0M117.3 730.1h0M105.9 718.3h0M61.9 738.7h0M106.3 779.6h0M92.7 714.4h0M55.5 763.6h0M110.9 797.6h0M100.3 719.3h0M59.5 728.3h0M110.4 778.4h0M79.5 744.8h0M92.5 759.5h0M100.0 771.3h0M68.4 695.7h0M52.2 745.5h0M112.8 759.2h0M78.7 714.3h0M63.1 750.7h0M99.0 727.5h0M78.5 770.2h0M93.5 719.6h0M99.2 704.4h0M67.5 757.7h0M107.8 743.8h0M62.5 751.4h0M102.5 704.8h0M106.1 784.4h0M58.2 753.1h0M75.3 770.9h0M81.9 783.3h0M97.4 797.4h0M111.7 791.7h0M87.3 729.0h0M110.1 769.1h0M111.4 756.0h0M107.2 755.9h0M103.2 755.4h0M107.8 727.0h0M101.3 768.5h0M94.9 698.8h0M63.1 733.9h0M76.6 723.5h0M95.1 731.5h0M115.5 745.0h0M76.8 775.6h0M115.4 757.1h0M92.7 691.4h0M71.3 755.4h0M100.7 714.2h0M70.8 730.2h0M76.8 710.9h0M82.5 770.3h0M56.9 731.9h0M111.6 758.2h0M113.5 779.1h0M64.8 744.2h0M117.4 776.9h0M94.2 763.1h0M98.6 789.8h0M69.4 695.8h0M106.1 765.9h0M77.6 695.7h0M103.2 791.3h0M112.8 793.0h0M84.2 741.9h0M75.6 718.9h0M58.8 732.9h0M95.5 709.5h0M95.2 783.9h0M80.4 689.3h0M79.2 700.3h0M84.2 700.3h0M92.4 717.8h0M89.3 688.8h0M87.0 760.1h0M106.8 747.7h0M116.9 794.3h0M75.1 753.2h0M88.8 682.3h0M107.5 804.0h0M75.4 780.6h0M113.4 759.8h0M113.0 728.4h0M92.2 702.0h0M98.7 688.1h0M106.7 731.0h0M106.8 788.1h0M85.2 775.4h0M82.6 755.6h0M82.5 725.3h0M87.8 703.8h0M90.9 707.1h0M59.3 753.7h0M102.9 783.8h0M59.4 715.1h0M61.4 700.4h0M96.3 732.1h0M86.2 722.6h0M60.8 720.9h0M97.4 686.1h0M102.3 787.0h0M85.7 787.7h0M70.2 753.3h0M66.7 717.6h0M54.4 730.7h0M115.3 772.0h0M82.1 786.4h0M59.7 737.3h0M116.0 744.1h0M72.2 775.4h0M78.6 692.3h0M55.3 758.6h0M91.4 789.3h0M77.0 717.8h0M116.0 723.6h0M116.3 732.2h0M73.5 761.0h0M111.1 721.5h0M88.8 755.6h0M68.9 771.4h0M82.5 773.1h0M106.5 758.6h0M113.9 718.0h0M88.6 798.6h0M90.1 801.3h0M97.9 793.7h0M85.8 695.2h0M109.2 726.8h0M70.7 713.2h0M109.6 733.0h0M97.2 745.8h0M106.5 716.6h0M70.7 707.9h0M76.6 712.1h0M56.6 740.5h0M101.4 766.5h0M81.0 758.7h0M116.4 737.5h0M114.2 755.2h0M80.5 758.6h0M102.0 793.3h0M107.6 788.8h0M79.7 763.5h0M99.2 775.6h0M109.4 759.1h0M99.1 710.0h0M76.6 768.7h0M73.2 771.3h0M95.0 765.1h0M68.6 699.9h0M86.4 719.7h0M112.3 805.7h0M114.9 757.9h0M62.4 746.8h0M81.2 785.5h0M100.8 759.5h0M104.7 716.3h0M64.9 718.9h0M115.9 769.1h0M77.4 709.2h0M68.6 691.5h0M83.5 776.3h0M67.1 700.1h0M69.4 771.4h0M85.8 738.8h0M85.2 781.0h0M69.5 702.6h0M93.7 781.0h0M94.2 765.1h0M70.7 697.6h0M66.2 742.9h0M100.1 743.7h0M90.9 691.4h0M91.7 803.5h0M68.8 709.0h0M88.1 709.5h0M94.2 749.7h0M74.7 697.0h0M102.6 751.3h0M109.9 770.5h0M63.8 712.8h0M95.2 750.3h0M77.2 752.4h0M63.5 718.3h0M75.9 768.0h0M86.6 683.8h0M90.1 775.9h0M87.5 706.5h0M107.5 773.4h0M93.1 690.7h0M95.6 707.6h0M57.2 764.6h0M98.8 801.0h0M87.9 761.4h0M79.9 725.0h0M60.7 719.6h0M99.1 716.2h0M104.4 756.4h0M98.7 787.1h0M99.3 806.2h0M56.3 735.6h0M113.9 792.1h0M76.8 756.2h0M143.5 717.4h0M147.0 723.5h0M147.4 720.8h0M149.6 720.6h0M148.7 724.4h0M147.9 719.6h0M144.3 715.7h0M150.7 724.8h0M127.8 726.6h0M135.9 737.8h0M129.3 735.8h0M141.0 725.5h0M129.3 743.3h0M135.2 734.0h0M142.6 727.6h0M149.1 720.0h0M148.0 726.2h0M134.3 727.1h0M129.1 733.4h0M127.7 739.4h0M134.0 736.9h0M138.4 723.4h0M127.5 724.0h0M174.0 762.6h0M178.0 761.3h0M176.6 770.3h0M183.3 774.4h0M182.8 759.3h0M175.4 763.9h0M165.5 747.4h0M172.7 761.4h0M176.4 762.0h0M170.6 750.2h0M183.4 769.7h0M181.2 773.3h0M177.5 736.9h0M180.3 770.7h0M178.7 744.3h0M166.2 740.7h0M174.7 749.0h0M167.1 741.6h0M182.1 759.8h0M174.6 734.1h0M176.4 740.4h0M179.8 734.9h0M176.2 748.6h0M177.1 752.1h0M176.6 742.9h0M170.1 752.1h0M182.4 774.1h0M178.5 769.4h0M174.2 734.6h0M175.8 764.5h0M181.0 757.0h0M165.4 742.5h0M172.5 746.7h0M171.5 738.4h0M153.3 756.8h0M153.4 751.1h0M151.0 755.9h0M147.4 756.4h0M149.9 756.6h0M128.9 755.1h0M133.2 765.5h0M125.2 770.8h0M126.9 750.8h0M122.2 765.5h0M130.2 754.7h0M141.1 779.7h0M142.8 777.1h0M142.9 778.1h0M113.2 686.9h0M106.9 690.1h0M112.0 686.1h0M117.9 684.0h0M123.5 681.3h0M126.5 683.6h0M125.9 680.1h0M157.3 740.7h0M156.9 740.9h0" stroke="#cbc9d5" stroke-width="1.70" stroke-linecap="round" fill="none"/>
<path d="M74.9 718.7h0M73.8 695.6h0M80.3 749.0h0M70.4 695.4h0M75.0 713.3h0M97.0 803.8h0M62.3 732.9h0M107.0 773.7h0M101.8 805.0h0M59.9 706.5h0M69.2 728.1h0M76.1 705.6h0M119.5 742.6h0M71.9 767.0h0M95.3 702.2h0M68.8 724.6h0M101.0 763.3h0M99.7 713.3h0M95.1 703.1h0M98.6 685.1h0M84.5 715.1h0M77.0 753.2h0M113.0 782.5h0M117.9 733.9h0M60.6 711.9h0M115.9 799.3h0M73.1 699.8h0M97.7 746.8h0M84.9 716.3h0M70.9 682.8h0M82.0 769.8h0M76.6 725.5h0M78.7 713.2h0M105.8 716.5h0M98.0 796.8h0M98.1 775.2h0M75.0 701.5h0M63.6 701.0h0M97.5 703.2h0M110.6 747.6h0M112.9 725.2h0M67.4 699.6h0M71.3 768.2h0M61.0 704.1h0M102.8 768.7h0M86.7 690.5h0M110.4 743.1h0M59.1 759.6h0M112.4 783.3h0M95.2 748.8h0M106.1 804.5h0M75.5 765.1h0M76.5 757.2h0M82.8 725.8h0M106.4 781.9h0M114.7 742.9h0M95.8 772.2h0M105.5 733.4h0M91.1 696.2h0M80.3 772.2h0M82.1 718.0h0M114.0 729.6h0M57.1 722.2h0M56.0 722.8h0M79.0 694.2h0M77.3 724.2h0M66.3 704.1h0M75.4 764.9h0M94.6 746.0h0M79.3 780.5h0M98.7 779.4h0M87.0 731.2h0M79.7 707.5h0M96.1 788.2h0M71.2 751.0h0M76.2 683.4h0M107.0 800.6h0M74.3 692.9h0M107.5 742.9h0M83.5 746.0h0M84.7 783.2h0M87.5 693.3h0M116.5 799.8h0M81.1 735.3h0M94.9 713.6h0M66.5 700.4h0M67.7 760.6h0M76.9 730.6h0M105.9 757.9h0M106.4 810.8h0M92.0 768.9h0M90.2 751.2h0M81.8 770.0h0M73.6 750.9h0M98.2 733.0h0M63.6 767.0h0M76.8 694.5h0M107.7 780.0h0M57.4 719.2h0M71.9 704.0h0M94.1 780.9h0M52.6 739.4h0M70.3 700.8h0M111.3 759.0h0M80.3 732.2h0M109.5 711.8h0M96.9 791.3h0M60.6 731.6h0M100.2 756.6h0M71.0 752.4h0M95.1 704.1h0M88.2 791.8h0M80.0 712.6h0M55.5 744.3h0M64.1 749.3h0M100.6 771.0h0M68.9 771.8h0M113.5 805.5h0M91.4 738.4h0M79.4 695.7h0M68.5 763.4h0M58.8 754.5h0M101.5 765.4h0M115.6 739.4h0M72.4 778.9h0M105.1 749.5h0M111.7 778.0h0M80.8 785.5h0M115.0 785.8h0M106.8 760.4h0M67.5 724.5h0M74.0 778.2h0M73.1 694.8h0M116.1 742.9h0M114.3 746.6h0M110.1 779.5h0M64.3 739.4h0M85.9 767.1h0M79.6 784.1h0M108.1 742.3h0M111.2 750.4h0M57.6 751.1h0M116.0 790.0h0M105.2 701.2h0M100.3 802.3h0M101.8 701.7h0M97.1 686.9h0M84.4 770.2h0M103.2 763.5h0M65.6 723.6h0M101.6 750.8h0M107.9 789.7h0M117.9 725.1h0M68.4 723.0h0M73.5 733.7h0M92.0 698.8h0M76.2 745.0h0M93.4 763.0h0M105.0 811.8h0M88.9 706.7h0M66.2 737.1h0M78.2 751.4h0M69.2 744.0h0M117.3 793.8h0M112.2 757.8h0M109.8 731.7h0M86.9 692.0h0M78.1 705.2h0M58.0 723.2h0M106.1 736.4h0M66.9 757.4h0M110.7 797.9h0M53.1 740.9h0M95.4 784.1h0M84.4 681.2h0M99.5 789.2h0M89.1 775.5h0M112.5 725.0h0M66.7 764.9h0M92.4 778.0h0M70.1 776.2h0M103.1 793.0h0M103.8 697.1h0M78.6 738.5h0M68.3 772.8h0M82.8 720.4h0M59.2 764.8h0M67.1 686.2h0M57.7 719.4h0M83.5 750.2h0M99.0 728.0h0M99.3 748.0h0M111.9 785.2h0M101.0 702.2h0M53.9 745.4h0M105.3 775.7h0M92.0 758.7h0M65.1 724.3h0M74.3 767.6h0M57.5 759.1h0M85.5 757.8h0M120.9 739.5h0M75.3 779.9h0M77.1 745.1h0M82.5 776.9h0M67.4 730.0h0M81.7 691.8h0M69.4 751.7h0M98.5 787.7h0M90.4 706.3h0M111.6 740.6h0M89.3 718.3h0M103.6 789.8h0M96.4 699.9h0M73.5 692.3h0M91.0 801.1h0M64.0 739.7h0M102.8 763.5h0M56.1 725.6h0M74.0 721.5h0M87.2 786.9h0M77.3 724.4h0M98.6 707.3h0M72.0 718.1h0M109.6 714.8h0M81.0 765.0h0M82.6 771.3h0M109.6 786.4h0M108.8 739.9h0M86.5 761.9h0M62.3 758.9h0M116.3 748.1h0M117.7 789.6h0M98.2 717.7h0M102.1 776.3h0M63.6 719.7h0M61.9 734.3h0M81.6 775.4h0M57.2 734.3h0M110.3 736.5h0M118.8 735.5h0M105.5 802.6h0M108.1 803.1h0M84.4 735.5h0M108.4 762.2h0M111.9 795.6h0M73.8 776.4h0M68.8 751.8h0M64.3 761.0h0M74.4 706.9h0M95.4 688.9h0M102.9 709.3h0M96.8 762.4h0M94.8 798.6h0M65.7 692.2h0M108.8 711.4h0M104.6 727.5h0M114.3 737.7h0M98.2 799.9h0M114.8 755.6h0M61.7 714.2h0M79.8 762.2h0M101.5 757.6h0M103.8 701.4h0M106.3 755.1h0M102.8 717.6h0M96.0 709.9h0M107.9 792.4h0M80.3 716.8h0M107.5 781.9h0M93.6 701.2h0M103.8 726.3h0M114.9 749.4h0M99.6 757.0h0M87.6 770.1h0M57.5 750.6h0M78.3 755.7h0M105.2 707.9h0M101.6 700.1h0M115.9 754.6h0M95.5 742.3h0M77.7 778.8h0M76.6 695.3h0M65.7 716.9h0M107.2 776.3h0M91.0 681.9h0M92.2 706.6h0M54.3 741.0h0M100.1 700.1h0M79.0 722.9h0M76.2 779.6h0M108.1 778.3h0M67.0 753.2h0M83.8 778.7h0M57.1 728.6h0M58.5 738.8h0M72.0 729.6h0M69.4 691.5h0M83.3 738.5h0M99.3 728.1h0M107.9 783.9h0M75.5 683.8h0M82.6 780.7h0M116.9 792.5h0M79.1 714.6h0M75.6 691.7h0M56.8 734.8h0M72.3 684.2h0M67.8 773.4h0M99.3 803.6h0M83.9 723.6h0M65.8 739.5h0M85.0 734.4h0M77.4 701.1h0M95.3 773.0h0M93.5 792.5h0M65.0 769.9h0M102.7 792.6h0M86.9 748.8h0M96.9 712.3h0M116.6 796.3h0M65.3 764.3h0M74.5 764.8h0M56.7 740.8h0M60.7 719.9h0M111.7 770.6h0M78.5 696.4h0M88.8 686.4h0M81.8 780.2h0M74.0 734.5h0M87.4 680.8h0M77.1 747.0h0M70.0 717.7h0M83.5 744.2h0M64.0 760.9h0M115.4 734.4h0M69.8 762.6h0M89.1 787.4h0M106.1 777.0h0M76.4 701.2h0M101.2 731.8h0M63.4 772.5h0M76.6 743.9h0M120.1 734.0h0M115.8 757.0h0M93.5 724.5h0M81.2 688.6h0M111.7 715.7h0M92.9 743.4h0M65.0 720.5h0M103.1 770.8h0M94.5 784.4h0M111.2 769.9h0M59.0 741.6h0M74.1 706.1h0M86.4 712.1h0M112.2 732.0h0M111.1 799.9h0M87.9 723.2h0M99.5 733.0h0M87.8 750.3h0M115.3 743.7h0M79.2 698.1h0M81.9 745.2h0M91.5 705.7h0M109.5 744.1h0M59.2 762.9h0M90.6 802.0h0M89.8 701.2h0M120.4 744.4h0M102.5 777.0h0M96.8 810.5h0M70.4 742.4h0M96.6 702.1h0M58.9 720.7h0M107.5 800.0h0M114.9 762.2h0M143.0 717.9h0M146.4 723.4h0M141.1 722.9h0M148.8 718.4h0M145.8 722.8h0M153.7 725.2h0M143.2 717.8h0M152.0 716.8h0M148.2 722.0h0M143.4 720.7h0M142.8 715.0h0M150.5 716.9h0M142.0 718.6h0M148.2 723.6h0M141.7 734.4h0M135.8 730.5h0M131.4 731.1h0M146.0 729.9h0M129.1 743.1h0M127.7 741.5h0M151.0 724.4h0M124.9 734.1h0M133.7 722.4h0M133.3 722.7h0M178.2 745.1h0M178.1 744.8h0M175.3 749.9h0M174.0 761.3h0M172.8 746.5h0M180.0 740.8h0M178.7 763.7h0M182.1 740.2h0M179.8 767.2h0M166.2 744.5h0M173.5 759.1h0M169.5 742.3h0M168.3 751.1h0M178.7 772.8h0M181.4 766.6h0M179.0 739.4h0M176.8 735.2h0M172.5 739.0h0M181.7 754.3h0M182.3 749.8h0M177.1 760.5h0M171.2 744.0h0M182.6 763.6h0M174.8 748.6h0M174.7 732.7h0M179.3 755.7h0M181.5 752.1h0M178.9 763.8h0M176.9 735.6h0M153.2 754.6h0M157.2 750.5h0M151.1 756.5h0M148.3 755.2h0M157.9 753.5h0M154.3 750.6h0M151.4 754.2h0M127.9 763.7h0M121.2 765.2h0M129.7 765.3h0M135.7 759.6h0M129.9 756.5h0M133.8 756.8h0M109.2 690.1h0M124.6 681.0h0M156.0 733.8h0M158.4 737.5h0M161.8 741.3h0" stroke="#bcb5d9" stroke-width="1.70" stroke-linecap="round" fill="none"/>
<path d="M63.3 755.0h0M58.3 735.4h0M107.8 802.2h0M115.4 738.8h0M104.9 769.3h0M88.9 713.5h0M64.8 694.2h0M100.3 791.0h0M75.6 777.6h0M103.6 751.2h0M101.6 694.8h0M90.7 759.9h0M75.0 704.0h0M81.8 702.6h0M93.8 717.0h0M114.3 734.9h0M99.4 810.6h0M78.8 725.5h0M75.3 718.1h0M115.2 734.1h0M103.3 794.7h0M95.0 788.0h0M100.6 791.8h0M116.9 744.8h0M63.7 713.2h0M114.8 779.3h0M85.2 760.6h0M66.5 770.5h0M109.8 760.9h0M86.4 723.4h0M118.1 728.0h0M101.0 754.8h0M98.2 755.0h0M78.1 685.8h0M109.9 793.6h0M97.4 798.6h0M80.6 681.9h0M108.2 803.1h0M66.2 720.5h0M79.2 734.0h0M87.1 784.4h0M52.6 758.0h0M103.4 715.9h0M77.5 783.7h0M73.3 750.4h0M93.6 693.2h0M62.4 747.3h0M62.9 712.0h0M100.3 800.4h0M57.8 736.9h0M53.8 749.1h0M106.6 742.7h0M57.7 723.2h0M105.7 754.0h0M71.6 756.0h0M64.9 747.6h0M85.8 708.0h0M92.3 793.8h0M78.5 764.2h0M81.1 787.0h0M108.9 748.4h0M100.1 812.3h0M54.2 730.2h0M114.5 788.9h0M107.9 789.2h0M91.0 680.5h0M61.6 726.5h0M89.2 784.9h0M90.1 736.5h0M77.4 715.1h0M119.4 739.1h0M85.2 746.8h0M106.1 770.2h0M117.8 782.9h0M89.1 682.9h0M117.7 781.3h0M114.5 789.8h0M89.9 758.3h0M114.3 726.2h0M83.3 715.8h0M60.7 725.4h0M92.9 777.1h0M87.2 739.7h0M70.7 686.7h0M69.6 745.1h0M86.2 793.6h0M110.3 744.9h0M70.4 720.8h0M78.5 783.2h0M102.6 754.8h0M89.7 747.2h0M91.3 746.9h0M62.0 719.8h0M92.2 753.8h0M102.4 804.9h0M92.6 779.6h0M88.5 692.6h0M72.0 697.0h0M117.4 737.4h0M96.4 753.7h0M112.6 732.4h0M93.6 787.7h0M64.3 768.2h0M103.8 791.8h0M96.2 793.8h0M75.6 773.6h0M113.4 742.9h0M112.3 768.3h0M93.9 696.4h0M88.9 685.4h0M52.6 755.2h0M82.4 736.0h0M56.7 725.1h0M69.9 748.3h0M101.3 726.2h0M83.7 748.3h0M99.6 755.3h0M75.5 740.4h0M80.5 772.4h0M99.2 702.3h0M64.7 703.5h0M69.7 693.4h0M91.7 764.3h0M96.1 691.5h0M73.9 711.4h0M61.7 707.7h0M79.5 727.6h0M116.6 801.0h0M116.8 794.7h0M77.0 683.2h0M108.3 793.7h0M98.1 747.0h0M78.5 746.3h0M105.1 786.8h0M103.9 771.9h0M102.2 756.4h0M100.7 763.8h0M90.9 682.0h0M76.2 729.5h0M119.6 730.1h0M91.2 681.2h0M113.2 780.2h0M100.9 720.5h0M110.5 784.0h0M91.0 689.5h0M91.4 801.4h0M91.1 719.6h0M87.8 745.7h0M88.0 687.2h0M78.1 761.8h0M92.9 758.8h0M102.2 777.0h0M93.3 757.8h0M89.2 797.6h0M72.9 694.8h0M109.6 789.8h0M72.4 767.5h0M111.0 745.2h0M75.4 775.3h0M95.9 732.1h0M101.0 750.1h0M97.7 809.8h0M96.1 782.7h0M88.8 696.5h0M80.5 787.1h0M104.4 746.1h0M90.9 769.3h0M86.3 712.7h0M107.9 706.1h0M105.2 797.8h0M91.1 717.0h0M72.9 731.5h0M87.2 749.0h0M82.9 719.5h0M95.6 721.7h0M93.8 805.4h0M75.5 774.9h0M97.7 681.8h0M110.8 762.1h0M109.6 716.0h0M77.2 711.8h0M69.8 743.5h0M100.2 762.9h0M77.2 717.2h0M103.9 725.3h0M110.4 733.9h0M119.2 738.0h0M71.9 741.2h0M104.5 773.6h0M110.5 763.1h0M105.4 762.2h0M91.5 775.7h0M76.8 724.7h0M102.6 763.2h0M92.8 758.0h0M101.5 698.1h0M64.0 704.7h0M105.3 700.9h0M86.4 748.4h0M112.0 787.5h0M114.6 800.3h0M76.8 694.9h0M87.9 705.8h0M61.2 714.1h0M93.8 736.8h0M104.3 767.2h0M66.2 768.5h0M64.6 698.3h0M102.9 787.9h0M68.2 745.3h0M97.5 780.4h0M71.3 703.0h0M67.4 712.2h0M115.5 742.1h0M88.4 695.2h0M92.1 793.6h0M73.8 741.2h0M63.7 738.4h0M78.4 701.8h0M93.8 792.1h0M68.2 746.9h0M97.6 699.0h0M72.4 714.1h0M71.6 728.2h0M91.9 785.4h0M55.3 743.2h0M59.8 741.9h0M85.5 688.2h0M97.3 800.7h0M59.2 730.9h0M52.7 738.1h0M86.0 759.4h0M90.0 689.3h0M91.7 680.2h0M60.6 760.1h0M101.3 794.4h0M72.8 712.1h0M59.8 728.1h0M84.8 767.5h0M106.3 766.6h0M94.8 701.1h0M116.5 748.5h0M99.8 760.1h0M71.7 751.2h0M90.6 694.6h0M107.7 725.3h0M101.1 702.9h0M94.1 692.3h0M114.4 730.2h0M89.4 709.9h0M53.4 744.7h0M104.8 721.4h0M103.8 811.1h0M103.0 802.1h0M65.7 768.5h0M103.8 773.8h0M94.8 706.0h0M99.1 705.6h0M95.1 760.3h0M54.7 728.2h0M60.5 749.8h0M80.5 728.8h0M76.5 781.8h0M58.9 734.6h0M115.6 733.8h0M57.5 760.5h0M104.0 767.2h0M103.5 738.6h0M81.5 707.0h0M97.8 688.7h0M110.6 770.2h0M64.4 721.2h0M90.8 771.2h0M95.0 720.4h0M80.6 784.5h0M86.3 733.5h0M117.7 780.3h0M105.8 770.5h0M83.8 787.0h0M75.4 685.6h0M98.2 732.5h0M69.8 723.4h0M98.0 726.2h0M61.1 745.5h0M99.5 782.4h0M100.6 808.2h0M109.7 733.5h0M62.7 714.6h0M93.0 733.8h0M58.8 738.9h0M96.3 694.5h0M79.5 714.5h0M83.0 730.5h0M62.3 755.3h0M75.0 721.1h0M57.4 732.8h0M83.6 703.0h0M68.5 746.6h0M51.9 751.3h0M105.0 754.5h0M86.5 733.1h0M66.8 734.9h0M91.1 748.2h0M100.1 731.1h0M86.4 772.9h0M57.2 718.5h0M99.1 684.6h0M102.5 746.2h0M53.2 741.6h0M83.1 766.6h0M74.4 771.8h0M96.7 699.8h0M59.4 714.6h0M111.4 754.2h0M107.2 795.7h0M107.1 708.4h0M65.9 730.7h0M111.5 729.7h0M59.6 710.0h0M61.3 721.9h0M64.6 746.7h0M100.1 797.0h0M88.5 775.6h0M68.4 736.5h0M86.2 695.9h0M115.9 799.4h0M87.2 769.3h0M90.3 726.3h0M73.6 689.4h0M97.8 768.8h0M72.4 769.8h0M112.2 764.5h0M117.7 724.6h0M102.9 722.3h0M69.9 702.9h0M66.7 734.6h0M113.7 724.1h0M87.5 693.9h0M83.5 679.5h0M118.4 747.0h0M86.0 749.3h0M110.6 791.6h0M84.9 708.1h0M86.7 724.0h0M91.0 762.1h0M60.0 706.9h0M114.5 793.7h0M63.9 738.6h0M98.5 739.3h0M72.8 731.6h0M78.1 727.1h0M104.8 709.7h0M83.5 685.3h0M56.7 726.8h0M79.7 775.1h0M115.3 733.6h0M78.2 700.6h0M71.9 689.4h0M98.7 797.8h0M68.5 774.8h0M91.1 680.1h0M92.4 789.4h0M61.2 717.7h0M99.2 764.9h0M97.7 810.6h0M83.4 785.3h0M89.0 760.0h0M79.9 685.7h0M115.9 798.6h0M109.9 724.9h0M72.6 766.2h0M67.5 736.3h0M65.5 697.6h0M60.2 715.8h0M90.7 695.9h0M84.9 682.1h0M102.6 709.9h0M104.8 779.1h0M118.9 733.6h0M112.5 776.6h0M67.8 771.7h0M101.5 711.5h0M91.0 733.3h0M65.5 741.6h0M63.9 707.3h0M110.9 804.4h0M85.0 735.4h0M75.6 698.1h0M60.2 754.4h0M98.7 701.5h0M61.8 734.0h0M98.2 755.1h0M88.8 743.5h0M58.7 718.6h0M102.8 736.1h0M115.5 796.4h0M91.8 703.2h0M96.8 740.9h0M53.9 756.1h0M91.4 727.4h0M66.9 703.6h0M95.1 727.6h0M111.1 770.6h0M108.9 801.3h0M110.8 768.2h0M85.7 713.4h0M98.6 786.7h0M106.1 715.7h0M106.4 717.8h0M112.9 779.0h0M100.2 702.2h0M89.7 691.7h0M75.5 717.2h0M80.4 698.1h0M91.3 729.3h0M114.7 801.7h0M147.9 722.0h0M145.8 722.3h0M150.5 717.4h0M141.8 718.7h0M145.7 725.4h0M149.6 722.1h0M131.3 732.5h0M126.1 731.3h0M146.0 719.4h0M137.4 721.9h0M145.8 718.4h0M144.0 729.7h0M146.8 721.1h0M143.6 720.3h0M167.2 741.1h0M168.6 741.0h0M174.8 756.2h0M171.2 734.2h0M176.3 756.7h0M173.8 751.0h0M177.0 757.1h0M169.7 753.1h0M178.2 760.0h0M179.7 738.2h0M182.6 752.8h0M173.8 749.2h0M182.0 763.7h0M170.2 756.9h0M167.6 750.9h0M177.7 744.9h0M182.2 750.6h0M183.4 759.2h0M175.3 733.2h0M175.0 749.8h0M168.5 747.5h0M181.2 758.7h0M175.1 738.2h0M182.1 769.1h0M167.7 737.0h0M172.0 748.6h0M169.4 753.8h0M154.5 756.9h0M152.6 754.5h0M148.3 752.9h0M148.5 754.4h0M149.8 753.4h0M147.4 759.2h0M148.3 759.4h0M149.6 752.5h0M155.4 751.5h0M122.3 761.8h0M123.5 763.9h0M129.5 770.9h0M124.9 751.8h0M130.5 755.0h0M123.9 762.7h0M126.4 762.8h0M133.2 759.4h0M123.1 756.5h0M123.0 758.1h0M140.5 775.6h0M145.2 777.4h0M113.7 687.1h0M107.5 690.5h0M115.7 685.4h0M124.9 681.1h0M126.3 681.9h0M126.9 681.4h0M123.0 681.1h0M123.9 681.8h0M125.7 682.7h0M124.6 678.9h0M126.3 679.7h0M164.7 732.2h0M162.8 747.2h0M157.2 734.5h0M165.3 738.9h0" stroke="#ada1dd" stroke-width="1.70" stroke-linecap="round" fill="none"/>
<path d="M86.0 789.9h0M70.9 734.3h0M90.5 762.3h0M56.2 723.2h0M113.9 718.7h0M63.3 697.7h0M119.8 744.0h0M56.8 733.3h0M53.9 735.3h0M88.3 741.9h0M65.0 720.9h0M95.1 790.4h0M64.9 723.1h0M99.9 787.5h0M93.9 721.2h0M76.2 686.0h0M73.2 695.7h0M69.8 764.4h0M107.9 763.2h0M96.3 780.4h0M85.4 687.2h0M94.5 784.2h0M107.2 807.2h0M96.2 717.9h0M87.9 685.0h0M78.8 727.1h0M115.6 783.9h0M79.0 777.5h0M105.8 808.7h0M63.0 729.6h0M108.2 718.5h0M94.0 707.9h0M93.8 735.2h0M58.9 710.0h0M80.0 698.3h0M78.4 721.2h0M112.3 774.4h0M78.7 764.5h0M103.0 749.0h0M77.7 737.5h0M73.0 699.7h0M84.5 688.9h0M106.9 770.0h0M83.2 685.8h0M80.8 684.4h0M113.3 769.9h0M111.9 718.3h0M74.9 703.1h0M89.2 778.9h0M81.9 759.1h0M110.6 772.6h0M60.5 705.4h0M108.8 728.7h0M102.9 715.5h0M98.2 755.6h0M100.1 692.1h0M66.7 747.7h0M53.6 747.4h0M88.3 729.4h0M78.8 764.6h0M75.1 746.8h0M115.7 789.9h0M63.5 761.5h0M92.5 736.4h0M92.1 711.1h0M74.2 745.0h0M73.2 709.4h0M74.2 711.8h0M114.5 746.6h0M116.8 785.3h0M91.9 772.1h0M64.3 717.0h0M96.3 794.4h0M61.8 730.5h0M77.5 707.9h0M74.4 703.1h0M97.6 778.3h0M78.7 718.9h0M98.1 756.8h0M79.7 780.3h0M111.2 778.8h0M76.5 732.7h0M87.3 731.1h0M57.9 718.0h0M102.5 696.1h0M101.2 739.3h0M92.5 682.4h0M109.1 808.2h0M104.3 771.0h0M110.6 747.4h0M113.2 739.5h0M114.4 751.1h0M69.5 766.4h0M59.0 730.3h0M112.0 805.5h0M100.6 787.1h0M83.5 788.6h0M112.0 780.7h0M89.0 698.5h0M108.4 747.9h0M108.1 744.2h0M113.9 746.1h0M59.8 747.7h0M89.1 683.6h0M73.9 750.7h0M103.2 797.6h0M77.2 764.6h0M114.8 788.1h0M61.3 722.6h0M103.7 774.0h0M84.9 753.0h0M84.9 704.0h0M97.7 715.6h0M111.9 727.9h0M60.1 707.1h0M90.6 780.1h0M59.6 741.2h0M101.2 702.5h0M52.1 750.7h0M112.9 760.3h0M75.3 746.4h0M87.7 763.2h0M105.7 782.5h0M87.9 781.3h0M60.4 733.0h0M98.2 811.0h0M62.3 747.0h0M97.7 805.9h0M100.6 799.8h0M96.1 688.6h0M72.1 724.8h0M82.2 745.4h0M103.2 763.2h0M62.3 717.0h0M72.4 711.0h0M105.6 755.6h0M58.8 717.8h0M68.0 775.4h0M79.2 742.1h0M79.1 739.3h0M87.6 769.3h0M89.3 721.8h0M111.8 807.7h0M96.2 715.0h0M73.2 747.6h0M75.6 761.8h0M78.8 707.3h0M75.8 766.1h0M55.7 734.9h0M78.6 703.8h0M64.7 701.5h0M70.5 711.9h0M102.2 775.8h0M61.9 704.8h0M94.5 691.7h0M65.2 731.1h0M102.2 711.1h0M86.3 723.8h0M108.7 785.0h0M90.3 728.2h0M103.6 751.5h0M74.6 764.6h0M52.6 738.1h0M93.0 724.8h0M82.7 756.4h0M100.2 778.9h0M104.9 747.1h0M67.1 713.7h0M73.2 715.8h0M67.7 763.9h0M102.9 810.3h0M113.4 778.2h0M107.7 800.2h0M74.1 780.1h0M92.0 686.2h0M78.6 748.8h0M61.9 761.6h0M90.4 701.4h0M100.1 783.3h0M98.4 758.5h0M105.8 725.4h0M85.4 782.1h0M96.5 759.3h0M98.1 683.8h0M75.8 764.9h0M82.6 710.5h0M113.5 781.9h0M91.4 765.5h0M118.3 745.7h0M103.8 809.8h0M64.2 703.9h0M68.6 699.8h0M92.0 745.4h0M87.2 721.1h0M93.7 715.7h0M82.2 721.5h0M88.1 746.0h0M83.6 690.7h0M112.1 714.5h0M114.7 793.1h0M107.6 715.0h0M111.2 778.8h0M102.8 778.1h0M76.6 763.3h0M98.4 703.2h0M84.3 711.9h0M102.6 793.2h0M103.6 721.0h0M117.9 735.3h0M110.7 775.7h0M88.1 760.9h0M79.1 731.3h0M61.5 768.5h0M82.8 680.2h0M112.7 726.3h0M104.6 754.5h0M77.3 765.5h0M92.4 778.1h0M60.9 741.9h0M72.9 743.7h0M88.0 706.3h0M89.4 684.3h0M71.9 730.1h0M86.2 682.9h0M107.6 798.2h0M96.9 786.9h0M107.3 801.9h0M99.6 710.5h0M92.1 680.6h0M86.5 724.3h0M95.8 701.2h0M94.9 807.2h0M82.5 758.5h0M66.0 736.6h0M96.7 693.8h0M80.6 739.3h0M95.5 767.4h0M104.6 725.5h0M74.6 682.4h0M87.6 685.9h0M103.0 732.9h0M71.8 778.1h0M96.4 787.0h0M58.2 718.7h0M106.4 770.9h0M113.3 785.5h0M72.4 696.3h0M100.4 764.2h0M92.4 685.6h0M54.4 737.1h0M67.1 754.7h0M91.1 791.0h0M102.3 772.5h0M54.6 731.1h0M57.2 726.3h0M110.7 714.5h0M105.8 777.5h0M68.0 775.8h0M103.0 696.9h0M76.3 747.0h0M84.0 748.9h0M95.2 786.7h0M92.6 719.7h0M97.7 699.7h0M70.2 712.8h0M97.2 746.7h0M77.9 762.5h0M109.9 768.5h0M97.0 745.2h0M109.3 715.1h0M94.2 802.7h0M112.6 723.8h0M69.7 768.3h0M64.7 758.3h0M116.7 750.4h0M102.5 765.8h0M70.4 714.4h0M66.1 699.7h0M112.2 800.9h0M91.9 802.8h0M78.3 748.5h0M97.2 760.9h0M102.8 718.5h0M64.7 770.5h0M94.9 784.2h0M109.6 724.8h0M74.5 761.4h0M63.4 759.9h0M88.8 787.5h0M77.6 719.2h0M76.3 775.7h0M104.5 729.2h0M94.5 791.1h0M78.8 744.3h0M112.1 752.4h0M68.9 739.9h0M105.0 792.4h0M76.0 700.5h0M90.7 743.5h0M84.5 750.6h0M91.5 704.2h0M92.3 686.7h0M99.3 767.1h0M87.7 725.3h0M88.2 740.0h0M97.4 723.9h0M91.8 684.8h0M65.5 721.9h0M105.9 720.6h0M98.7 794.0h0M114.5 741.4h0M103.8 765.1h0M101.7 720.7h0M82.1 689.7h0M74.2 731.8h0M90.8 763.1h0M62.2 725.6h0M87.1 748.4h0M98.9 701.5h0M61.7 757.6h0M110.3 791.5h0M109.7 805.9h0M66.1 766.7h0M108.2 750.1h0M105.9 740.3h0M61.9 732.1h0M119.6 735.6h0M58.6 715.9h0M76.3 739.8h0M104.5 721.3h0M107.8 794.9h0M67.4 690.8h0M74.4 692.8h0M53.3 751.3h0M61.0 760.6h0M67.8 704.4h0M87.9 689.2h0M84.3 740.1h0M92.8 786.0h0M64.0 705.5h0M99.8 800.9h0M72.8 750.4h0M88.8 765.5h0M110.4 799.9h0M74.0 702.4h0M83.3 757.4h0M86.7 778.3h0M74.4 775.1h0M74.4 728.4h0M79.0 725.5h0M99.3 737.7h0M94.6 805.7h0M107.9 725.4h0M54.5 739.4h0M56.1 750.2h0M87.8 686.9h0M69.4 722.9h0M104.5 734.1h0M82.0 778.7h0M106.3 726.2h0M109.9 745.2h0M108.0 710.3h0M113.0 731.2h0M102.3 747.9h0M100.9 737.9h0M101.7 734.3h0M118.5 731.3h0M89.0 730.0h0M115.8 734.2h0M113.2 743.9h0M110.0 728.4h0M103.3 735.6h0M102.5 731.4h0M113.4 736.5h0M109.6 739.5h0M106.7 728.3h0M111.5 746.9h0M114.8 729.7h0M102.3 728.8h0M107.8 740.2h0M107.4 731.3h0M106.6 736.8h0M103.3 725.3h0M106.0 721.2h0M111.1 739.5h0M112.2 736.6h0M109.9 733.0h0M96.0 742.0h0M103.8 736.7h0M102.5 735.9h0M102.3 719.8h0M103.0 734.0h0M109.1 746.8h0M108.7 714.4h0M112.8 724.0h0M110.3 739.3h0M106.4 737.4h0M113.0 732.5h0M106.1 752.6h0M107.8 738.5h0M109.0 731.8h0M117.5 736.3h0M115.1 731.6h0M148.4 719.0h0M147.5 717.1h0M145.3 718.1h0M147.5 717.1h0M142.3 718.3h0M144.9 720.0h0M147.2 725.2h0M148.6 720.1h0M151.2 724.4h0M149.7 715.2h0M148.3 720.3h0M148.9 717.7h0M148.0 717.7h0M140.4 719.7h0M153.4 713.6h0M144.0 720.2h0M148.4 715.6h0M145.0 721.2h0M136.3 736.8h0M125.7 734.9h0M127.3 738.4h0M138.1 722.6h0M147.4 720.3h0M151.0 722.9h0M125.8 727.2h0M150.5 721.5h0M137.5 720.5h0M128.3 736.3h0M174.9 745.6h0M183.4 763.2h0M169.3 741.4h0M181.9 758.3h0M179.3 743.8h0M176.3 733.2h0M175.4 736.9h0M182.3 771.0h0M180.5 762.3h0M172.8 746.4h0M179.4 761.8h0M173.1 754.0h0M166.7 742.6h0M171.7 757.3h0M172.6 752.2h0M182.4 772.9h0M168.3 750.5h0M180.9 752.9h0M175.7 739.3h0M171.7 735.3h0M177.1 741.7h0M183.4 760.9h0M181.0 769.2h0M174.1 744.5h0M180.9 768.0h0M177.6 761.3h0M178.8 745.7h0M178.3 749.7h0M171.3 743.0h0M182.3 765.9h0M184.2 744.8h0M175.9 756.5h0M181.3 764.1h0M176.3 744.7h0M183.9 763.3h0M177.0 740.1h0M169.8 735.3h0M171.4 739.9h0M182.5 755.3h0M181.5 768.7h0M174.2 758.4h0M182.9 763.1h0M173.0 737.5h0M174.7 736.5h0M168.7 755.0h0M175.2 734.9h0M173.8 762.3h0M177.9 743.2h0M149.8 756.9h0M151.6 752.9h0M147.3 754.5h0M150.0 754.1h0M158.6 752.9h0M155.2 750.2h0M132.7 755.6h0M123.1 753.4h0M129.2 767.5h0M133.0 769.0h0M129.4 763.5h0M128.3 757.3h0M129.7 773.9h0M144.4 776.3h0M145.8 777.6h0M142.0 774.7h0M141.7 776.7h0M116.8 683.6h0M115.8 685.0h0M116.0 684.3h0M124.4 679.6h0M127.9 680.4h0M127.4 681.4h0M127.6 682.7h0M128.4 681.5h0M164.8 738.1h0M163.8 731.4h0" stroke="#9e8de1" stroke-width="1.70" stroke-linecap="round" fill="none"/>
<path d="M109.8 746.7h0M92.2 778.0h0M68.7 770.0h0M102.1 784.8h0M97.7 697.7h0M96.4 737.9h0M75.7 685.9h0M81.7 733.6h0M95.7 710.9h0M63.2 724.6h0M112.0 722.6h0M55.5 739.1h0M65.8 707.3h0M90.6 689.3h0M104.5 811.7h0M104.2 697.4h0M58.2 735.6h0M108.8 790.2h0M95.5 741.5h0M79.9 762.4h0M103.7 744.1h0M92.2 750.4h0M80.4 719.5h0M99.0 732.2h0M119.4 730.4h0M96.9 741.3h0M65.8 725.1h0M98.8 727.6h0M78.4 720.2h0M111.6 780.4h0M74.1 765.0h0M62.6 757.5h0M93.8 783.8h0M92.2 701.9h0M81.3 714.2h0M64.7 708.3h0M71.9 733.3h0M63.2 762.8h0M90.8 762.2h0M82.1 722.3h0M104.4 752.9h0M106.8 715.4h0M96.0 749.8h0M99.1 751.2h0M67.7 747.5h0M113.5 730.2h0M84.9 748.7h0M66.9 755.3h0M53.6 736.8h0M107.5 709.3h0M79.3 779.3h0M99.4 791.2h0M69.9 738.7h0M78.1 772.2h0M100.0 812.2h0M89.1 788.4h0M101.1 728.7h0M115.2 740.4h0M94.0 784.9h0M71.0 706.9h0M95.8 699.7h0M88.7 754.9h0M116.6 768.6h0M112.8 727.9h0M75.2 761.0h0M108.8 707.6h0M86.0 723.4h0M89.2 735.8h0M98.1 775.3h0M107.7 738.0h0M70.1 773.1h0M112.6 723.5h0M68.4 765.7h0M73.5 718.1h0M113.2 724.6h0M92.2 752.8h0M69.7 714.7h0M83.7 715.4h0M89.4 707.5h0M84.3 781.1h0M115.8 752.1h0M116.5 776.5h0M79.0 756.0h0M88.3 680.2h0M95.0 729.5h0M79.8 774.4h0M76.7 715.0h0M105.0 789.1h0M74.2 706.6h0M110.9 763.5h0M110.7 747.5h0M104.2 751.5h0M63.0 755.1h0M105.1 763.4h0M77.0 696.7h0M93.8 748.4h0M51.7 745.8h0M90.3 747.4h0M91.6 679.7h0M87.8 706.3h0M114.7 783.5h0M115.2 802.2h0M108.2 807.3h0M73.4 693.7h0M94.9 783.9h0M67.8 736.4h0M96.5 782.7h0M53.8 755.6h0M81.3 744.9h0M101.6 698.6h0M94.6 699.6h0M79.8 743.5h0M78.6 747.7h0M63.8 707.8h0M103.4 758.8h0M75.8 705.8h0M64.1 761.7h0M112.4 764.2h0M84.7 681.8h0M97.7 747.9h0M67.9 727.8h0M102.5 726.9h0M99.2 704.2h0M107.4 811.0h0M84.1 699.8h0M93.5 721.2h0M63.4 768.3h0M58.2 757.1h0M87.6 695.7h0M95.5 746.6h0M117.2 738.9h0M114.0 772.0h0M97.3 744.3h0M112.5 789.6h0M90.8 739.2h0M116.2 781.8h0M90.5 720.5h0M113.9 717.7h0M100.8 754.2h0M110.8 732.8h0M117.0 771.4h0M97.4 742.4h0M106.5 706.2h0M82.9 788.4h0M97.6 781.2h0M75.7 739.9h0M92.9 746.2h0M114.7 722.0h0M108.4 739.1h0M88.9 750.0h0M110.9 784.4h0M110.7 774.4h0M110.1 727.5h0M74.8 753.0h0M108.5 737.6h0M99.8 734.3h0M66.8 721.5h0M97.1 686.3h0M107.0 741.0h0M84.8 726.7h0M98.2 691.9h0M87.1 693.2h0M69.5 766.1h0M107.3 752.2h0M93.2 754.3h0M100.5 713.2h0M106.7 741.4h0M59.7 750.3h0M56.0 765.2h0M87.0 752.6h0M114.3 779.2h0M100.0 708.7h0M99.2 752.8h0M74.1 721.7h0M78.9 720.1h0M73.7 736.2h0M71.4 705.1h0M64.3 714.0h0M72.7 695.2h0M95.8 763.1h0M92.4 707.9h0M109.1 763.3h0M85.7 742.6h0M93.5 789.8h0M61.3 764.2h0M92.8 765.8h0M72.2 711.8h0M86.3 707.8h0M83.6 729.4h0M108.1 730.6h0M82.7 744.2h0M68.0 755.3h0M69.3 749.9h0M56.7 755.2h0M110.0 722.3h0M63.3 731.7h0M93.5 707.0h0M116.5 749.8h0M84.9 692.5h0M96.5 724.9h0M70.8 718.8h0M56.4 760.2h0M97.2 711.7h0M82.8 723.6h0M71.1 752.8h0M74.1 713.0h0M78.4 756.4h0M97.2 732.3h0M69.2 751.2h0M109.8 744.4h0M86.8 704.0h0M62.7 770.7h0M67.3 764.5h0M107.0 805.0h0M90.6 750.7h0M114.1 789.6h0M56.6 747.8h0M91.3 760.8h0M91.5 697.9h0M80.2 741.0h0M84.4 679.9h0M82.2 687.2h0M80.0 759.1h0M75.9 733.5h0M96.6 735.9h0M89.6 776.0h0M91.7 731.3h0M77.1 726.0h0M55.3 738.6h0M98.2 761.7h0M107.8 799.8h0M107.9 728.9h0M113.3 736.1h0M107.2 746.5h0M104.6 737.9h0M112.8 724.7h0M102.4 745.2h0M112.3 740.8h0M117.7 728.1h0M100.0 735.2h0M114.2 740.5h0M113.0 727.9h0M116.2 726.9h0M109.6 724.7h0M109.2 719.3h0M94.2 746.5h0M112.6 725.7h0M107.2 716.9h0M107.8 742.1h0M109.5 732.9h0M104.9 744.5h0M113.0 739.2h0M119.2 738.3h0M108.7 724.7h0M112.3 728.6h0M108.2 744.4h0M110.2 744.6h0M117.0 726.5h0M103.9 742.7h0M116.1 757.6h0M114.5 727.7h0M112.4 727.4h0M100.5 751.7h0M112.2 718.6h0M112.9 733.5h0M98.7 736.0h0M103.9 724.1h0M111.7 729.7h0M98.0 729.9h0M101.2 728.6h0M111.9 749.5h0M111.4 729.1h0M116.3 731.0h0M111.8 738.7h0M92.9 753.4h0M104.1 747.6h0M103.8 732.5h0M101.4 712.8h0M111.1 730.6h0M114.8 738.0h0M102.3 730.7h0M108.3 736.1h0M110.7 724.3h0M153.2 723.6h0M145.0 720.6h0M140.5 720.5h0M147.5 718.2h0M152.0 715.6h0M153.3 725.6h0M145.2 715.1h0M151.6 723.6h0M148.8 715.2h0M142.5 723.5h0M150.2 717.6h0M151.5 720.4h0M151.4 720.9h0M149.6 721.0h0M129.8 733.8h0M136.7 726.0h0M145.8 723.6h0M152.5 718.8h0M126.9 741.3h0M150.8 717.7h0M127.8 742.0h0M150.2 719.0h0M134.5 724.4h0M146.9 720.5h0M134.3 724.7h0M136.7 729.5h0M141.2 726.3h0M125.1 737.5h0M126.8 735.0h0M136.9 733.1h0M125.0 735.5h0M136.5 734.7h0M177.4 769.7h0M179.7 755.6h0M177.3 771.6h0M170.1 753.5h0M170.8 746.8h0M180.1 753.1h0M182.5 774.4h0M177.1 761.9h0M180.9 767.8h0M175.2 747.9h0M178.8 738.8h0M167.4 747.8h0M168.7 737.2h0M174.0 757.0h0M176.9 739.4h0M181.0 772.1h0M179.3 748.6h0M177.8 769.9h0M171.6 745.7h0M181.9 737.3h0M182.2 755.7h0M170.9 748.9h0M177.1 734.3h0M175.6 740.3h0M170.2 744.4h0M179.8 747.2h0M165.8 742.5h0M182.4 765.2h0M180.2 743.5h0M175.8 757.7h0M176.0 745.3h0M167.2 741.5h0M169.7 743.7h0M175.1 733.3h0M173.4 747.8h0M167.1 748.1h0M169.1 757.5h0M182.1 747.2h0M176.8 749.4h0M181.6 756.0h0M180.8 747.7h0M177.8 766.4h0M181.7 750.4h0M174.2 733.4h0M178.8 734.0h0M177.7 752.9h0M180.8 750.8h0M176.2 764.4h0M172.9 748.9h0M165.9 748.0h0M169.7 741.1h0M145.8 756.3h0M158.3 750.8h0M145.6 756.8h0M155.1 753.3h0M145.5 756.8h0M123.0 753.7h0M131.3 757.1h0M132.2 773.2h0M127.4 765.1h0M128.1 763.2h0M122.4 759.9h0M140.8 780.3h0M117.6 682.2h0M112.4 687.7h0M120.2 682.8h0M127.4 682.3h0M124.9 683.8h0M124.2 682.7h0M125.4 680.8h0M124.7 680.7h0M124.5 682.3h0M121.8 682.0h0M160.4 742.8h0M157.5 734.2h0M162.4 739.6h0M155.4 743.9h0M158.4 742.1h0M161.1 747.5h0" stroke="#8f7ae4" stroke-width="1.70" stroke-linecap="round" fill="none"/>
<path d="M100.9 731.8h0M80.7 746.5h0M90.1 686.8h0M77.9 744.1h0M83.2 775.1h0M102.4 745.4h0M106.0 757.9h0M67.2 720.4h0M60.2 739.9h0M62.7 754.2h0M116.3 770.3h0M85.6 784.1h0M110.2 732.0h0M80.1 781.4h0M96.6 783.0h0M96.1 694.8h0M78.3 704.2h0M86.8 734.9h0M71.4 684.3h0M73.1 711.7h0M106.4 738.6h0M89.7 692.5h0M54.6 749.2h0M59.1 764.0h0M78.1 734.2h0M113.5 775.4h0M113.3 745.7h0M93.2 725.9h0M101.9 774.6h0M118.9 742.9h0M82.6 685.3h0M76.2 685.4h0M79.5 725.4h0M82.2 753.4h0M68.5 742.8h0M93.5 698.7h0M64.8 740.0h0M78.7 783.2h0M99.7 767.0h0M69.3 759.1h0M117.3 740.2h0M74.9 758.4h0M99.4 701.3h0M101.9 776.1h0M110.7 786.5h0M65.2 754.6h0M57.4 717.7h0M101.2 712.2h0M66.0 763.4h0M52.4 745.2h0M75.4 729.8h0M82.4 687.1h0M99.8 791.1h0M76.5 739.8h0M96.0 770.3h0M59.2 719.1h0M55.9 754.3h0M115.6 741.9h0M90.9 715.3h0M102.1 715.2h0M70.4 764.5h0M113.4 768.7h0M94.0 768.2h0M92.8 708.1h0M90.5 745.2h0M53.6 736.4h0M69.6 742.9h0M85.5 684.1h0M76.2 682.3h0M105.7 705.0h0M70.0 734.3h0M117.3 796.9h0M59.8 743.5h0M109.8 777.9h0M76.2 725.0h0M105.3 750.4h0M104.1 735.5h0M86.8 767.1h0M97.6 757.1h0M61.1 756.7h0M71.5 699.0h0M106.1 776.0h0M57.8 736.5h0M98.6 712.7h0M104.3 730.2h0M74.7 689.2h0M83.3 749.2h0M99.7 685.8h0M110.0 728.7h0M55.7 751.1h0M79.5 698.1h0M66.1 741.7h0M66.0 760.0h0M106.1 740.7h0M67.7 691.2h0M86.7 687.0h0M69.8 752.3h0M115.4 728.4h0M60.3 761.6h0M67.4 691.2h0M106.3 720.6h0M65.5 700.9h0M54.9 755.1h0M97.7 718.9h0M107.1 767.0h0M91.3 732.5h0M80.5 722.9h0M101.0 729.1h0M85.9 755.0h0M87.7 759.9h0M83.9 699.6h0M58.7 767.6h0M107.0 810.0h0M68.1 772.1h0M98.1 730.1h0M70.2 771.3h0M80.0 721.7h0M81.4 759.1h0M91.9 687.2h0M67.7 719.0h0M112.5 804.6h0M94.1 780.9h0M78.3 700.3h0M104.3 747.3h0M84.8 701.7h0M101.7 809.9h0M106.8 728.4h0M84.6 769.3h0M102.6 755.4h0M62.4 769.6h0M101.7 758.0h0M66.9 739.5h0M87.0 714.4h0M75.7 746.2h0M81.9 751.2h0M84.1 767.9h0M85.6 770.8h0M112.2 785.0h0M76.5 698.6h0M105.9 777.1h0M78.2 702.3h0M84.0 699.2h0M106.0 766.7h0M87.3 695.7h0M90.8 797.0h0M81.5 710.6h0M91.7 743.5h0M81.4 693.4h0M113.3 768.5h0M67.1 724.2h0M116.2 739.7h0M89.1 698.8h0M100.1 725.9h0M111.6 797.9h0M108.9 810.4h0M100.9 763.3h0M61.2 738.5h0M99.9 779.4h0M106.3 724.9h0M78.0 736.3h0M95.1 760.8h0M113.6 782.5h0M114.4 720.4h0M100.2 778.3h0M99.6 775.2h0M90.9 706.5h0M79.1 766.7h0M103.8 720.1h0M90.7 730.6h0M101.5 730.8h0M56.9 752.1h0M97.4 744.0h0M56.3 758.8h0M76.5 741.8h0M103.8 742.0h0M113.1 782.3h0M110.4 723.9h0M111.8 725.5h0M65.8 697.4h0M85.8 748.0h0M107.9 724.1h0M74.8 691.4h0M63.9 725.2h0M79.2 756.4h0M97.7 693.4h0M95.2 739.2h0M96.3 701.5h0M95.7 785.2h0M111.8 775.3h0M118.0 748.1h0M112.7 803.2h0M113.9 773.4h0M71.1 755.7h0M109.7 768.4h0M110.6 745.7h0M89.8 750.5h0M83.0 786.3h0M70.7 750.2h0M105.9 762.0h0M118.2 727.3h0M78.6 681.4h0M68.0 693.1h0M62.4 735.0h0M86.3 688.0h0M80.3 725.7h0M78.9 738.0h0M119.8 731.7h0M113.3 764.4h0M65.4 748.5h0M69.1 701.0h0M96.3 785.8h0M56.0 758.4h0M103.0 736.6h0M70.7 720.3h0M57.5 748.2h0M80.7 772.6h0M69.5 742.4h0M117.5 787.7h0M109.2 780.3h0M80.2 691.6h0M98.6 700.5h0M60.3 735.9h0M96.4 747.0h0M87.5 725.6h0M67.3 689.4h0M95.7 681.0h0M64.5 749.5h0M106.5 716.3h0M99.9 802.8h0M79.1 723.7h0M82.0 746.9h0M100.3 779.5h0M72.9 693.5h0M113.5 725.8h0M89.9 759.5h0M90.6 787.5h0M70.9 715.3h0M89.3 687.4h0M97.0 731.6h0M99.2 790.1h0M98.8 729.6h0M68.0 717.1h0M64.7 697.5h0M116.2 753.1h0M91.2 744.2h0M92.5 737.5h0M89.8 691.3h0M93.6 750.2h0M93.2 733.2h0M79.1 712.4h0M64.1 721.9h0M109.8 749.8h0M109.6 738.3h0M113.2 739.9h0M121.3 738.3h0M109.2 723.8h0M103.6 728.9h0M99.2 736.3h0M111.6 734.2h0M102.4 734.0h0M106.4 734.1h0M97.5 716.8h0M111.1 740.2h0M105.3 753.1h0M107.4 733.0h0M118.2 727.0h0M94.2 727.4h0M109.1 749.9h0M104.0 739.6h0M116.8 752.7h0M120.7 741.2h0M108.3 725.4h0M103.0 745.2h0M105.2 729.3h0M110.1 734.2h0M107.8 742.6h0M114.4 721.6h0M120.1 732.5h0M105.7 735.3h0M114.3 728.9h0M105.3 731.9h0M108.5 745.6h0M118.2 737.0h0M118.7 730.9h0M106.1 749.1h0M107.0 727.4h0M95.7 729.4h0M112.7 724.0h0M107.9 737.4h0M105.3 749.9h0M109.4 730.5h0M108.3 748.3h0M111.9 742.8h0M110.7 735.2h0M115.9 736.5h0M100.3 746.7h0M108.7 717.0h0M114.3 731.0h0M110.6 729.4h0M101.7 723.3h0M119.2 747.0h0M104.9 737.4h0M114.3 725.5h0M110.6 732.4h0M117.6 736.1h0M103.7 748.8h0M105.7 734.9h0M103.7 743.5h0M110.2 721.3h0M108.0 744.9h0M102.1 751.6h0M116.0 739.2h0M117.9 737.9h0M117.6 736.9h0M110.5 746.8h0M110.5 743.3h0M103.4 733.6h0M112.4 726.2h0M116.7 755.6h0M112.2 727.9h0M113.6 732.4h0M103.3 730.2h0M95.3 731.2h0M111.5 744.0h0M105.4 729.1h0M110.4 739.2h0M117.1 724.3h0M108.3 727.5h0M95.0 735.0h0M109.2 718.3h0M104.7 724.7h0M106.2 745.4h0M114.1 746.2h0M112.6 716.5h0M115.3 724.1h0M107.1 737.2h0M110.3 732.8h0M100.3 746.0h0M102.1 741.4h0M114.1 733.2h0M114.8 739.9h0M108.0 730.9h0M107.1 732.5h0M101.2 745.1h0M108.5 735.5h0M102.3 729.0h0M106.2 737.8h0M103.8 738.4h0M107.8 731.8h0M112.2 738.3h0M106.3 748.0h0M106.4 741.0h0M113.5 751.8h0M109.1 734.4h0M117.5 746.0h0M113.0 716.9h0M106.1 727.9h0M115.6 734.5h0M106.3 735.0h0M110.1 741.1h0M95.3 731.2h0M120.0 741.3h0M111.9 724.2h0M105.3 738.1h0M99.2 729.6h0M112.1 714.6h0M111.2 732.9h0M113.9 734.6h0M105.6 743.4h0M112.5 724.3h0M96.8 727.5h0M103.8 737.2h0M99.6 734.6h0M114.6 731.4h0M114.3 747.5h0M99.7 749.6h0M109.2 723.6h0M109.3 729.2h0M98.7 743.3h0M105.3 728.9h0M109.5 721.0h0M106.5 721.0h0M108.4 722.4h0M109.5 736.3h0M110.1 744.0h0M112.1 737.0h0M94.4 743.0h0M105.8 734.0h0M104.9 744.4h0M108.9 743.0h0M110.8 731.0h0M117.9 735.8h0M106.0 745.6h0M113.3 737.9h0M116.2 728.0h0M103.8 743.6h0M118.7 730.5h0M114.9 736.4h0M110.9 737.5h0M149.1 717.3h0M146.4 714.1h0M148.8 719.7h0M157.8 724.5h0M155.1 715.5h0M149.0 720.3h0M145.3 720.3h0M151.5 722.4h0M153.4 725.1h0M143.9 721.4h0M151.7 720.6h0M148.3 725.9h0M151.8 720.9h0M125.9 727.0h0M141.6 725.7h0M135.5 724.6h0M139.9 722.3h0M126.5 740.8h0M145.4 721.8h0M150.6 720.2h0M127.2 731.6h0M139.6 723.2h0M135.6 726.1h0M134.9 730.5h0M129.1 740.3h0M151.6 721.2h0M140.2 721.9h0M132.2 733.0h0M137.8 728.7h0M149.7 722.0h0M126.8 739.7h0M151.5 724.2h0M181.9 755.6h0M170.0 744.3h0M181.5 759.5h0M169.9 754.5h0M177.0 738.7h0M182.1 737.4h0M178.6 759.8h0M178.8 734.5h0M177.2 772.0h0M183.3 743.2h0M181.2 769.5h0M183.3 759.8h0M177.4 736.7h0M175.4 764.7h0M180.9 740.7h0M165.8 741.8h0M180.3 762.8h0M174.2 732.8h0M176.7 733.8h0M174.6 753.0h0M178.3 750.0h0M175.2 740.4h0M168.8 747.3h0M176.3 760.6h0M179.4 753.2h0M180.5 743.1h0M175.6 753.0h0M183.3 772.5h0M175.9 744.2h0M169.7 737.9h0M173.3 741.8h0M182.1 772.6h0M174.3 750.1h0M172.4 753.0h0M179.4 759.6h0M180.8 763.5h0M167.7 747.1h0M182.0 744.5h0M172.4 743.5h0M172.2 737.8h0M178.7 737.5h0M177.8 737.2h0M177.7 743.3h0M170.4 737.9h0M177.7 745.6h0M172.8 760.5h0M165.3 746.4h0M167.5 754.5h0M157.3 753.7h0M151.8 751.0h0M148.7 754.2h0M153.9 753.4h0M147.7 757.3h0M157.5 752.5h0M145.3 757.7h0M134.2 769.1h0M124.7 766.0h0M135.6 768.8h0M126.7 770.4h0M123.8 757.9h0M136.3 762.6h0M130.4 771.9h0M129.8 750.7h0M111.5 687.2h0M116.6 684.7h0M114.0 686.3h0M109.4 689.7h0M118.7 683.7h0M115.1 685.2h0M117.5 685.3h0M114.5 685.1h0M119.0 684.9h0M115.2 685.0h0M116.4 685.9h0M117.7 683.2h0M118.3 683.2h0M111.2 686.6h0M119.7 683.3h0M123.1 679.8h0M124.5 682.7h0M125.9 684.1h0M121.1 681.4h0M124.9 680.3h0M123.3 680.2h0M125.3 680.9h0M163.2 742.1h0M165.2 730.1h0M156.4 730.2h0M154.4 744.0h0M155.0 733.3h0M161.1 729.8h0" stroke="#8066e8" stroke-width="1.70" stroke-linecap="round" fill="none"/>
<path d="M75.5 773.8h0M76.7 727.4h0M92.1 715.9h0M101.3 747.5h0M61.2 712.6h0M117.9 746.2h0M72.0 697.3h0M80.9 784.7h0M91.7 737.4h0M84.0 746.4h0M87.9 750.9h0M94.7 685.9h0M100.8 762.7h0M93.0 799.6h0M91.1 789.7h0M65.6 755.9h0M77.9 686.0h0M80.0 681.7h0M83.0 683.5h0M56.9 723.3h0M75.4 744.3h0M53.5 733.7h0M73.1 736.4h0M59.9 752.1h0M99.9 715.5h0M105.1 755.3h0M89.0 749.6h0M76.6 682.7h0M96.2 734.7h0M68.0 762.5h0M73.6 731.9h0M109.1 715.7h0M64.5 694.9h0M72.4 735.5h0M90.0 700.6h0M65.1 696.5h0M57.3 717.9h0M66.1 726.4h0M106.6 720.5h0M105.8 801.0h0M75.8 727.2h0M90.5 753.0h0M80.1 710.7h0M105.8 722.5h0M91.7 797.7h0M82.6 707.3h0M97.2 712.4h0M113.1 741.8h0M107.9 785.6h0M92.1 753.1h0M77.6 777.3h0M101.6 695.0h0M109.2 734.1h0M53.7 734.8h0M89.9 792.4h0M63.0 744.3h0M75.2 736.2h0M87.1 728.3h0M62.8 755.0h0M105.5 760.2h0M96.2 691.0h0M61.7 705.9h0M97.2 727.3h0M78.8 765.8h0M95.1 772.2h0M91.2 737.7h0M115.0 743.6h0M114.1 738.0h0M106.5 733.4h0M91.4 732.5h0M78.8 723.7h0M108.6 714.1h0M87.3 708.9h0M115.7 736.2h0M86.9 756.1h0M72.7 750.3h0M66.5 724.3h0M66.7 720.6h0M89.9 750.3h0M112.4 751.5h0M64.5 731.3h0M77.6 713.0h0M70.8 751.5h0M114.0 764.9h0M92.5 683.9h0M79.6 782.0h0M64.8 720.7h0M81.0 681.0h0M101.3 773.6h0M87.7 717.5h0M64.5 755.8h0M111.4 797.1h0M71.3 747.3h0M102.1 734.8h0M80.0 681.2h0M116.2 734.4h0M98.2 718.5h0M91.8 735.6h0M57.9 741.2h0M102.7 716.4h0M96.5 745.1h0M90.8 699.9h0M71.3 714.7h0M93.4 740.9h0M112.1 737.0h0M113.3 740.3h0M88.8 791.7h0M65.7 724.6h0M91.2 774.3h0M84.6 681.4h0M65.7 759.5h0M77.8 778.9h0M78.7 685.1h0M53.4 758.9h0M112.3 805.4h0M109.2 744.3h0M78.0 684.5h0M80.9 733.1h0M110.8 776.5h0M114.8 750.8h0M109.0 712.7h0M87.0 746.8h0M77.0 729.5h0M99.0 702.0h0M109.9 735.1h0M90.1 684.6h0M74.1 702.9h0M58.9 719.0h0M69.1 719.4h0M75.0 771.3h0M82.3 780.4h0M117.3 785.6h0M98.6 717.3h0M115.3 782.0h0M91.0 713.5h0M70.5 747.9h0M115.0 749.7h0M103.3 699.3h0M93.7 779.0h0M77.7 683.1h0M104.3 727.7h0M65.6 765.6h0M88.7 711.1h0M92.4 736.1h0M94.5 765.9h0M67.1 766.6h0M78.5 691.2h0M72.1 743.2h0M109.6 777.4h0M75.8 768.3h0M93.8 770.0h0M96.8 757.1h0M103.7 782.6h0M105.4 766.1h0M95.6 720.1h0M94.0 795.9h0M104.1 774.7h0M103.5 804.9h0M106.3 728.9h0M109.0 757.6h0M66.0 733.0h0M94.4 738.6h0M97.0 704.9h0M81.5 705.3h0M64.2 718.6h0M74.3 720.6h0M80.7 765.0h0M82.0 786.7h0M113.9 770.8h0M85.6 779.9h0M68.1 726.9h0M60.5 767.6h0M72.7 706.6h0M86.7 774.7h0M93.8 757.4h0M87.6 743.5h0M98.9 795.0h0M52.6 753.8h0M72.0 720.3h0M97.5 722.4h0M100.1 785.8h0M89.4 737.7h0M70.3 765.8h0M88.7 770.1h0M76.8 767.5h0M80.6 727.3h0M106.5 738.3h0M89.8 686.4h0M108.9 759.1h0M83.1 765.6h0M88.6 733.6h0M88.3 761.7h0M106.1 765.8h0M71.5 762.4h0M69.1 734.8h0M86.8 714.5h0M79.4 761.7h0M76.2 757.0h0M94.4 751.4h0M91.4 722.3h0M87.8 717.6h0M79.4 685.9h0M92.2 699.8h0M106.4 771.8h0M105.4 755.5h0M93.3 765.7h0M114.7 734.9h0M88.6 716.0h0M101.7 723.6h0M109.8 714.7h0M95.2 750.1h0M64.4 757.6h0M116.2 784.1h0M96.3 692.4h0M56.2 757.7h0M94.4 708.4h0M74.0 704.5h0M106.2 741.0h0M120.5 743.7h0M68.5 775.9h0M64.7 770.7h0M93.8 790.3h0M111.9 744.6h0M100.2 717.7h0M114.9 746.4h0M100.1 724.3h0M105.6 744.9h0M100.9 747.5h0M103.2 729.8h0M104.6 736.9h0M103.2 738.1h0M113.6 754.9h0M107.6 728.9h0M110.0 737.1h0M113.9 726.5h0M106.3 728.2h0M101.3 735.9h0M104.0 749.2h0M109.2 719.2h0M115.1 728.1h0M103.3 729.3h0M108.3 726.1h0M107.5 735.0h0M112.1 725.7h0M108.6 745.0h0M114.3 741.3h0M114.4 729.7h0M111.3 734.3h0M112.4 730.9h0M108.9 720.6h0M106.0 738.8h0M117.5 733.1h0M120.2 733.3h0M114.9 732.8h0M119.5 732.5h0M109.6 730.8h0M114.4 721.0h0M104.6 734.6h0M103.7 738.1h0M103.1 753.2h0M111.2 747.8h0M114.4 726.7h0M114.2 744.4h0M115.9 748.2h0M107.0 717.6h0M118.2 746.6h0M103.7 717.9h0M110.3 727.0h0M106.1 728.6h0M106.0 746.1h0M108.1 736.7h0M98.9 729.9h0M111.4 735.5h0M104.2 739.2h0M105.2 740.8h0M113.9 746.0h0M116.1 748.2h0M108.2 737.4h0M115.0 727.9h0M115.1 734.7h0M108.4 722.7h0M108.3 738.5h0M117.6 744.1h0M119.7 736.1h0M102.2 720.7h0M107.9 734.0h0M119.7 734.3h0M114.2 753.3h0M106.9 737.9h0M104.0 729.0h0M97.7 721.0h0M104.0 724.3h0M117.2 742.2h0M106.7 738.4h0M105.3 733.6h0M111.4 729.4h0M117.0 738.0h0M109.8 743.7h0M108.7 723.3h0M113.2 743.7h0M106.8 731.1h0M98.3 712.9h0M119.3 743.3h0M105.4 738.9h0M112.1 737.6h0M115.1 748.5h0M110.5 738.9h0M109.4 738.0h0M103.8 723.8h0M112.9 720.6h0M113.1 728.8h0M115.3 732.9h0M112.0 737.7h0M112.0 735.8h0M110.4 739.0h0M108.5 745.7h0M111.2 712.6h0M104.6 724.3h0M103.3 736.1h0M108.8 732.2h0M101.4 737.8h0M96.2 742.4h0M113.5 745.2h0M92.3 734.2h0M107.5 718.1h0M105.9 729.2h0M107.2 733.8h0M104.6 733.2h0M103.4 752.6h0M100.0 741.1h0M107.2 739.5h0M98.2 742.8h0M109.1 739.6h0M94.6 742.8h0M109.7 734.6h0M97.1 721.9h0M96.4 746.3h0M107.4 714.8h0M110.5 734.8h0M101.1 712.1h0M115.7 729.5h0M112.0 734.1h0M112.8 720.4h0M115.1 727.2h0M112.2 738.8h0M108.5 728.6h0M104.6 729.4h0M112.9 732.8h0M109.6 724.3h0M109.4 741.8h0M116.6 731.4h0M89.8 713.9h0M111.7 754.6h0M118.6 732.7h0M115.4 738.4h0M97.1 744.4h0M116.3 728.2h0M106.3 743.2h0M115.9 750.5h0M119.4 738.0h0M108.1 725.2h0M112.6 729.9h0M111.5 739.1h0M98.2 729.0h0M109.4 734.8h0M104.9 762.2h0M108.1 762.6h0M108.2 736.3h0M109.4 734.1h0M108.4 726.5h0M111.0 742.2h0M110.4 728.6h0M117.3 728.8h0M106.4 726.1h0M101.4 732.1h0M109.7 744.2h0M109.3 723.8h0M107.9 740.7h0M109.1 739.2h0M114.4 740.5h0M116.8 725.8h0M110.0 730.0h0M101.9 742.8h0M102.8 728.5h0M105.8 736.3h0M116.1 733.3h0M107.8 737.7h0M99.4 750.6h0M107.8 734.3h0M119.0 738.8h0M109.4 743.1h0M107.2 730.2h0M103.3 739.0h0M104.7 740.2h0M103.3 746.0h0M109.6 747.4h0M108.2 740.1h0M113.9 728.6h0M113.4 733.1h0M97.5 736.3h0M107.9 744.6h0M108.4 725.9h0M105.7 724.2h0M99.4 723.1h0M110.9 733.9h0M113.5 731.5h0M114.3 729.8h0M107.7 729.9h0M118.5 738.5h0M109.4 732.4h0M102.6 726.0h0M104.2 730.9h0M113.4 737.4h0M107.4 733.3h0M108.8 730.8h0M98.3 734.1h0M107.5 719.7h0M111.6 735.9h0M113.1 741.4h0M146.7 726.5h0M151.2 725.1h0M149.9 720.4h0M144.6 719.6h0M144.6 719.2h0M148.0 720.9h0M149.9 718.5h0M146.6 725.4h0M147.7 717.7h0M144.0 717.8h0M147.5 723.8h0M151.8 722.7h0M149.8 718.1h0M151.7 719.6h0M150.7 724.6h0M145.2 717.8h0M145.8 722.3h0M152.0 718.0h0M140.1 732.8h0M124.8 724.7h0M135.6 726.6h0M138.8 723.7h0M140.0 731.2h0M142.4 729.3h0M147.0 730.0h0M140.9 731.9h0M140.1 734.3h0M128.7 742.5h0M127.7 734.0h0M138.0 726.0h0M132.2 736.8h0M129.8 734.8h0M138.6 723.7h0M137.9 734.3h0M141.3 728.4h0M139.9 725.9h0M131.7 736.9h0M140.9 733.0h0M168.3 756.7h0M180.7 771.1h0M176.6 745.7h0M165.9 744.3h0M172.2 750.4h0M177.9 771.7h0M177.5 773.7h0M182.8 747.9h0M180.4 759.1h0M182.9 763.5h0M178.6 771.9h0M182.8 771.8h0M173.6 749.4h0M178.5 769.6h0M178.0 757.7h0M170.5 751.1h0M172.5 741.4h0M174.1 737.8h0M177.3 756.6h0M181.6 742.4h0M178.2 753.8h0M180.0 764.0h0M166.5 740.3h0M176.8 759.3h0M178.0 745.6h0M174.3 740.2h0M174.6 761.6h0M175.2 751.1h0M175.4 733.6h0M176.6 737.4h0M167.5 740.8h0M171.4 753.3h0M180.6 772.6h0M166.2 748.5h0M175.9 744.4h0M179.0 767.1h0M180.6 762.8h0M175.5 743.4h0M178.6 766.2h0M170.9 738.4h0M183.1 759.6h0M179.5 755.3h0M168.8 737.8h0M169.1 755.1h0M180.5 764.3h0M179.4 751.8h0M179.8 755.7h0M178.6 743.5h0M169.9 753.2h0M179.4 759.0h0M152.7 757.0h0M148.7 752.9h0M148.5 758.2h0M148.7 757.3h0M151.3 752.4h0M157.1 754.3h0M155.0 751.8h0M156.3 755.9h0M152.4 754.4h0M157.6 750.9h0M126.5 763.0h0M124.5 753.9h0M131.8 767.2h0M122.6 754.4h0M126.6 757.3h0M133.8 773.2h0M127.1 773.4h0M129.9 765.4h0M121.2 767.8h0M124.5 755.1h0M142.9 775.3h0M145.9 775.2h0M146.4 780.3h0M109.8 688.5h0M108.2 689.0h0M118.8 683.6h0M124.4 683.4h0M127.0 681.6h0M122.7 681.4h0M122.8 681.2h0M122.7 681.6h0M125.6 680.9h0M122.5 680.3h0M123.6 683.1h0M123.8 686.0h0M125.6 682.3h0M125.3 682.3h0M162.9 744.2h0M164.6 736.6h0M153.3 747.5h0M157.9 739.9h0" stroke="#7152ec" stroke-width="1.70" stroke-linecap="round" fill="none"/>
<path d="M96.6 792.2h0M83.6 758.5h0M86.0 719.3h0M86.7 767.1h0M92.7 778.3h0M73.1 770.5h0M98.8 723.3h0M74.6 699.7h0M104.7 740.9h0M84.0 699.6h0M95.4 739.6h0M97.1 794.0h0M107.2 801.2h0M87.0 750.3h0M82.6 681.0h0M112.9 740.2h0M100.3 714.0h0M105.4 768.2h0M68.3 747.7h0M95.5 704.2h0M112.1 774.6h0M112.5 778.2h0M58.6 734.0h0M87.3 779.0h0M91.4 771.8h0M104.0 699.6h0M114.3 792.0h0M70.4 755.0h0M112.4 778.3h0M66.5 724.7h0M97.5 805.3h0M91.1 707.8h0M96.9 731.4h0M80.5 730.5h0M71.8 724.2h0M75.0 757.0h0M61.1 705.1h0M77.3 720.7h0M83.7 765.9h0M70.3 751.8h0M79.3 688.4h0M93.4 683.8h0M68.1 733.0h0M64.9 690.5h0M115.8 749.5h0M63.0 705.7h0M53.6 743.3h0M96.0 770.6h0M97.0 791.3h0M65.9 767.3h0M76.8 706.3h0M89.0 793.8h0M109.7 801.7h0M93.6 698.9h0M85.8 680.2h0M96.8 767.5h0M83.8 714.4h0M77.4 709.0h0M93.5 744.3h0M63.4 737.8h0M63.7 695.5h0M77.7 731.3h0M88.1 743.4h0M107.1 803.5h0M107.5 747.6h0M107.0 792.2h0M73.7 706.5h0M86.6 730.0h0M82.5 754.5h0M99.4 781.5h0M105.3 703.1h0M58.1 721.2h0M86.8 682.0h0M106.0 733.7h0M91.5 768.5h0M86.7 716.7h0M82.4 770.0h0M96.0 746.1h0M110.6 751.9h0M76.1 741.2h0M59.4 744.1h0M85.0 682.9h0M76.0 728.7h0M116.5 755.0h0M66.9 698.0h0M54.5 733.3h0M81.4 768.9h0M74.3 706.5h0M96.0 755.2h0M67.2 732.4h0M75.0 711.9h0M64.8 734.3h0M102.6 801.8h0M96.6 795.3h0M115.5 797.3h0M111.8 736.9h0M88.2 723.8h0M119.2 728.8h0M110.0 772.9h0M109.6 799.4h0M74.9 703.3h0M91.7 709.1h0M88.3 706.4h0M97.1 695.1h0M83.1 740.7h0M72.1 689.3h0M94.0 774.0h0M97.3 715.3h0M72.8 764.1h0M95.2 762.1h0M97.7 684.1h0M82.3 687.7h0M104.5 706.4h0M70.3 751.7h0M98.0 789.1h0M102.9 778.5h0M111.4 782.2h0M109.4 794.4h0M101.2 786.4h0M86.7 747.9h0M80.0 770.8h0M52.2 756.5h0M97.9 744.6h0M113.9 767.7h0M60.5 748.7h0M111.5 729.6h0M111.1 782.8h0M79.8 779.9h0M78.3 716.1h0M75.3 688.8h0M65.6 736.3h0M113.3 750.9h0M105.6 766.7h0M106.2 763.2h0M98.9 802.4h0M106.3 711.4h0M73.6 777.3h0M58.7 740.0h0M94.9 681.2h0M117.6 794.0h0M83.3 735.7h0M90.2 736.9h0M110.5 729.9h0M112.2 806.7h0M111.7 737.5h0M64.9 765.0h0M105.6 714.7h0M113.1 739.6h0M75.5 702.1h0M96.9 697.7h0M65.5 762.8h0M97.2 781.6h0M98.4 731.1h0M68.1 717.6h0M102.1 746.0h0M117.9 782.9h0M96.1 700.6h0M94.9 762.9h0M83.6 781.2h0M90.8 781.1h0M99.8 751.3h0M101.6 779.6h0M73.0 694.5h0M83.7 695.9h0M116.3 745.7h0M98.9 804.4h0M111.7 734.9h0M117.0 724.1h0M104.2 748.8h0M108.7 718.0h0M105.2 722.5h0M111.2 739.7h0M115.6 720.1h0M115.6 722.4h0M104.7 729.3h0M111.6 752.4h0M106.8 738.0h0M103.3 742.3h0M104.3 742.1h0M111.1 741.3h0M115.2 731.2h0M114.2 746.4h0M111.5 722.1h0M106.3 729.1h0M111.3 724.4h0M117.2 741.9h0M101.8 722.4h0M114.7 745.8h0M106.3 753.2h0M110.1 746.0h0M111.9 726.6h0M108.7 739.8h0M102.3 730.9h0M103.1 736.9h0M115.6 738.3h0M102.4 727.1h0M109.8 736.3h0M106.4 740.0h0M114.8 735.0h0M112.4 744.7h0M110.9 721.6h0M106.6 745.0h0M105.6 744.7h0M111.4 735.0h0M116.4 729.5h0M111.7 731.9h0M119.1 738.8h0M105.6 731.7h0M111.7 727.5h0M109.7 726.6h0M113.0 739.3h0M112.1 728.8h0M104.8 727.5h0M111.3 734.4h0M112.8 732.1h0M119.1 732.5h0M106.2 737.3h0M108.0 730.6h0M101.5 709.1h0M114.5 750.9h0M113.0 718.4h0M109.7 746.3h0M98.6 743.9h0M101.0 722.6h0M109.8 721.9h0M104.3 721.2h0M99.1 738.6h0M112.1 746.3h0M99.6 768.7h0M105.7 731.7h0M108.8 749.2h0M98.3 731.9h0M119.8 741.6h0M104.7 745.3h0M114.7 738.4h0M95.2 730.9h0M103.6 724.4h0M115.7 726.2h0M113.2 741.6h0M106.8 745.5h0M114.8 722.7h0M111.0 745.6h0M118.4 732.8h0M110.3 722.4h0M107.2 736.0h0M105.7 736.8h0M110.5 730.6h0M111.6 739.8h0M112.6 730.4h0M107.2 737.9h0M110.8 735.2h0M107.9 729.7h0M108.5 736.2h0M114.8 735.6h0M106.4 739.7h0M117.2 731.9h0M116.5 723.9h0M114.7 743.1h0M98.1 738.0h0M111.0 727.6h0M116.4 739.0h0M101.8 731.7h0M95.1 724.1h0M110.9 740.2h0M105.9 756.5h0M116.3 724.4h0M105.9 729.4h0M114.1 741.0h0M110.4 729.1h0M103.1 748.3h0M97.6 736.4h0M105.5 727.2h0M101.0 737.5h0M111.7 758.8h0M113.6 732.0h0M107.4 742.7h0M101.9 734.5h0M110.6 724.5h0M117.2 734.4h0M111.3 722.0h0M115.8 732.5h0M106.8 731.8h0M108.3 727.6h0M106.3 755.1h0M110.1 715.8h0M105.8 744.5h0M101.8 729.9h0M117.1 728.8h0M118.3 730.0h0M104.7 726.9h0M109.6 741.3h0M111.0 746.6h0M109.5 724.8h0M108.1 732.2h0M105.8 739.5h0M118.5 742.2h0M117.9 725.6h0M104.7 739.8h0M109.0 731.4h0M107.6 747.1h0M110.5 736.8h0M118.2 725.2h0M106.0 730.6h0M109.0 724.7h0M106.0 723.1h0M109.4 746.3h0M98.5 743.5h0M106.7 741.8h0M113.9 727.1h0M111.4 722.2h0M110.2 741.5h0M112.6 727.1h0M106.1 705.7h0M108.3 746.9h0M106.6 722.4h0M108.3 753.2h0M113.9 758.4h0M112.8 724.4h0M111.8 747.3h0M101.3 730.9h0M113.5 749.1h0M111.6 745.5h0M112.5 730.3h0M110.5 742.2h0M118.3 732.3h0M107.0 721.6h0M112.3 744.5h0M146.4 718.3h0M143.9 720.7h0M151.1 721.5h0M144.9 718.3h0M147.0 719.5h0M147.8 713.8h0M145.8 717.2h0M148.3 718.4h0M151.7 723.6h0M154.2 721.9h0M155.4 718.8h0M149.6 721.3h0M147.8 719.4h0M145.0 726.2h0M143.6 720.1h0M150.0 719.7h0M144.1 722.0h0M146.0 720.6h0M148.7 721.4h0M146.7 723.1h0M126.4 729.2h0M146.6 725.5h0M128.5 729.6h0M139.6 730.9h0M140.3 722.3h0M132.8 723.1h0M129.8 736.6h0M134.6 723.8h0M138.0 719.4h0M143.9 730.3h0M149.2 723.2h0M149.8 720.9h0M150.8 724.7h0M133.7 729.7h0M129.8 726.5h0M131.3 730.1h0M140.8 719.4h0M133.1 738.3h0M129.3 729.4h0M170.1 750.0h0M177.3 746.4h0M182.7 748.8h0M181.5 765.9h0M176.0 737.9h0M169.4 757.8h0M176.7 756.9h0M180.7 736.6h0M182.6 771.0h0M178.7 770.3h0M172.9 743.2h0M182.4 744.1h0M180.1 751.0h0M176.9 734.8h0M174.9 763.8h0M175.1 744.6h0M177.4 770.5h0M179.2 750.8h0M175.8 744.7h0M177.4 765.0h0M177.9 758.5h0M168.6 748.9h0M167.1 754.6h0M182.4 741.5h0M167.5 752.4h0M177.0 740.3h0M169.1 735.7h0M179.1 774.1h0M178.5 757.6h0M168.0 736.1h0M175.7 762.3h0M174.1 739.7h0M178.0 738.4h0M177.9 756.8h0M177.0 750.8h0M175.5 741.0h0M180.3 736.4h0M184.4 765.3h0M178.4 764.2h0M175.5 752.7h0M178.3 770.7h0M178.1 751.5h0M181.8 741.5h0M152.0 754.9h0M155.8 751.8h0M150.4 755.8h0M149.0 754.1h0M144.9 757.8h0M156.9 752.4h0M152.4 752.7h0M154.9 755.3h0M150.8 755.7h0M148.2 754.7h0M152.4 751.7h0M135.4 769.8h0M125.6 768.5h0M143.8 774.2h0M142.4 775.1h0M112.5 689.0h0M114.9 686.7h0M118.9 684.1h0M113.9 687.8h0M119.3 683.2h0M111.8 688.4h0M112.5 688.9h0M115.9 686.4h0M124.7 680.4h0M125.1 681.6h0M128.3 682.9h0M125.8 685.1h0M123.4 680.0h0M123.6 682.2h0M124.6 681.1h0M120.4 679.8h0M157.1 740.1h0M160.0 745.3h0M164.2 731.1h0" stroke="#623ef0" stroke-width="1.70" stroke-linecap="round" fill="none"/>
<line x1="40.30" y1="667.40" x2="40.30" y2="822.60" stroke="#000" stroke-width="1.0"/>
<line x1="39.80" y1="822.10" x2="198.00" y2="822.10" stroke="#000" stroke-width="1.0"/>
<line x1="37.70" y1="674.42" x2="40.30" y2="674.42" stroke="#000" stroke-width="1.0"/>
<text x="35.10" y="677.12" font-size="7.6" text-anchor="end" fill="#000">6</text>
<line x1="37.70" y1="709.46" x2="40.30" y2="709.46" stroke="#000" stroke-width="1.0"/>
<text x="35.10" y="712.16" font-size="7.6" text-anchor="end" fill="#000">3</text>
<line x1="37.70" y1="744.50" x2="40.30" y2="744.50" stroke="#000" stroke-width="1.0"/>
<text x="35.10" y="747.20" font-size="7.6" text-anchor="end" fill="#000">0</text>
<line x1="37.70" y1="779.54" x2="40.30" y2="779.54" stroke="#000" stroke-width="1.0"/>
<text x="35.10" y="782.24" font-size="7.6" text-anchor="end" fill="#000">-3</text>
<line x1="37.70" y1="814.58" x2="40.30" y2="814.58" stroke="#000" stroke-width="1.0"/>
<text x="35.10" y="817.28" font-size="7.6" text-anchor="end" fill="#000">-6</text>
<line x1="56.00" y1="822.10" x2="56.00" y2="824.70" stroke="#000" stroke-width="1.0"/>
<text x="56.00" y="833.00" font-size="7.6" text-anchor="middle" fill="#000">-5</text>
<line x1="101.00" y1="822.10" x2="101.00" y2="824.70" stroke="#000" stroke-width="1.0"/>
<text x="101.00" y="833.00" font-size="7.6" text-anchor="middle" fill="#000">0</text>
<line x1="146.00" y1="822.10" x2="146.00" y2="824.70" stroke="#000" stroke-width="1.0"/>
<text x="146.00" y="833.00" font-size="7.6" text-anchor="middle" fill="#000">5</text>
<line x1="191.00" y1="822.10" x2="191.00" y2="824.70" stroke="#000" stroke-width="1.0"/>
<text x="191.00" y="833.00" font-size="7.6" text-anchor="middle" fill="#000">10</text>
<text x="117.10" y="659.20" font-size="10.2" font-weight="bold" text-anchor="middle" fill="#000">High</text>
<text transform="translate(21.2,749.7) rotate(-90)" font-size="7.6" text-anchor="middle">UMAP_2</text>
<text x="119.30" y="846.40" font-size="7.6" text-anchor="middle" fill="#000">UMAP_1</text>
<path d="M321.7 736.3h0M318.4 800.1h0M298.0 684.0h0M309.4 795.9h0M324.8 802.0h0M281.0 705.1h0M365.0 719.0h0M291.5 759.1h0M304.3 694.3h0M310.7 768.1h0M270.7 762.1h0M378.5 747.5h0M363.4 727.1h0M355.3 784.3h0M291.1 693.0h0M322.7 808.2h0M324.2 809.8h0M308.2 783.4h0M307.1 748.9h0M275.3 772.2h0M385.7 737.1h0M303.1 683.8h0M386.2 743.6h0M311.5 767.7h0M274.4 753.4h0M306.6 798.3h0M392.6 758.2h0M324.2 763.2h0M290.0 756.6h0M348.9 780.6h0M305.0 775.5h0M281.6 706.8h0M311.6 805.4h0M278.0 774.0h0M274.1 766.3h0M390.7 770.5h0M286.7 696.6h0M290.7 700.2h0M310.5 684.2h0M273.1 755.6h0M275.5 698.3h0M340.2 754.4h0M303.5 751.9h0M287.7 704.6h0M338.1 766.9h0M297.4 730.5h0M293.3 697.2h0M290.4 692.7h0M394.4 758.3h0M322.0 795.0h0M357.9 730.5h0M337.7 774.4h0M329.6 800.8h0M314.6 697.7h0M267.0 747.1h0M295.5 705.1h0M292.6 682.8h0M316.4 801.6h0M295.5 710.1h0M367.3 715.9h0M317.3 794.2h0M305.0 743.9h0M303.2 682.6h0M391.5 741.5h0M386.0 735.6h0M340.9 760.0h0M303.5 708.4h0M361.9 779.9h0M305.9 704.8h0M287.9 710.7h0M325.7 786.8h0M307.9 777.7h0M324.4 802.8h0M272.4 750.0h0M311.1 726.3h0M286.5 711.4h0M315.8 708.9h0M323.5 791.2h0M304.2 681.0h0M295.9 684.9h0M273.6 756.9h0M329.5 809.7h0M302.6 716.0h0M303.2 697.9h0M319.9 807.1h0M296.9 776.2h0M310.2 694.4h0M282.3 764.2h0M290.7 697.3h0M310.6 800.5h0M324.5 795.9h0M272.3 757.8h0M302.8 698.1h0M274.9 726.1h0M295.2 738.4h0M392.3 749.6h0M339.7 758.1h0M272.0 771.2h0M295.1 694.8h0M323.0 799.8h0M325.4 769.2h0M324.6 801.7h0M311.4 707.0h0M324.2 806.9h0M319.4 804.8h0M320.6 798.3h0M393.2 740.3h0M293.5 721.4h0M284.3 698.7h0M326.3 733.9h0M354.6 780.8h0M305.7 747.6h0M388.4 733.6h0M346.8 736.9h0M324.9 785.6h0M315.1 782.1h0M322.4 809.1h0M268.1 757.4h0M310.7 719.0h0M302.5 691.7h0M285.5 692.9h0M281.4 753.2h0M348.0 727.6h0M385.3 734.6h0M272.7 747.3h0M286.9 707.5h0M312.0 775.5h0M317.4 720.3h0M316.3 692.4h0M382.5 753.7h0M289.6 699.9h0M311.4 720.0h0M322.2 807.3h0M303.2 701.9h0M280.0 747.6h0M290.8 697.9h0M308.8 689.1h0M389.5 761.7h0M359.3 730.7h0M327.8 787.3h0M282.0 695.5h0M320.7 774.5h0M273.6 751.4h0M291.2 691.0h0M317.9 794.6h0M319.8 797.6h0M295.5 717.8h0M352.3 773.1h0M291.5 688.7h0M286.9 709.9h0M324.1 796.0h0M321.6 728.5h0M312.9 688.6h0M288.3 770.4h0M272.4 772.6h0M294.8 704.2h0M351.8 776.5h0M288.2 734.2h0M378.2 746.8h0M302.6 684.4h0M288.5 695.9h0M324.4 803.4h0M367.3 720.7h0M327.0 799.7h0M299.5 696.5h0M301.4 721.0h0M289.8 690.3h0M298.7 725.4h0M316.8 704.1h0M302.0 711.8h0M287.5 734.8h0M313.1 791.8h0M283.8 684.8h0M381.9 755.0h0M383.5 753.6h0M322.3 778.0h0M307.7 702.4h0M320.9 784.8h0M279.3 758.0h0M392.0 757.3h0M303.5 727.0h0M293.0 749.8h0M278.7 701.2h0M366.4 764.5h0M295.7 705.5h0M322.5 796.0h0M306.8 707.2h0M307.6 706.3h0M354.6 719.5h0M294.7 691.5h0M301.2 695.0h0M294.5 701.9h0M301.9 777.2h0M284.0 769.6h0M297.5 691.2h0M353.2 778.9h0M295.8 701.5h0M318.3 783.0h0M298.4 679.5h0M352.1 773.7h0M308.1 745.2h0M378.7 748.0h0M311.2 711.2h0M332.5 797.8h0M305.9 800.7h0M328.5 784.2h0M280.7 694.2h0M366.8 755.8h0M315.8 780.3h0M312.2 799.2h0M288.4 741.2h0M300.4 704.6h0M323.7 795.6h0M301.9 683.9h0M307.0 681.1h0M304.7 719.2h0M302.4 785.0h0M294.1 768.9h0M306.0 712.0h0M319.4 699.5h0M267.6 755.6h0M308.3 718.3h0M275.6 732.3h0M347.4 720.8h0M299.0 701.3h0M293.9 686.3h0M296.2 746.4h0M327.2 799.9h0M281.1 742.3h0M356.0 759.5h0M317.4 767.5h0M302.1 701.8h0M295.8 751.0h0M388.5 754.3h0M385.0 756.9h0M299.9 694.4h0M332.2 807.3h0M298.7 708.2h0M300.9 715.4h0M360.3 719.4h0M306.9 717.5h0M312.4 745.0h0M307.0 710.1h0M354.9 779.0h0M379.3 745.6h0M295.6 694.1h0M283.6 743.3h0M300.3 712.5h0M293.1 740.7h0M298.0 737.2h0M293.8 683.3h0M297.1 745.9h0M397.5 749.4h0M309.0 713.0h0M293.1 726.9h0M307.2 692.9h0M311.5 798.7h0M353.0 781.1h0M307.4 699.2h0M284.7 684.3h0M309.1 779.0h0M321.7 807.0h0M389.4 764.9h0M357.7 778.4h0M288.5 702.6h0M398.8 766.6h0M321.5 769.4h0M296.8 703.2h0M311.0 714.9h0M305.6 701.6h0M282.4 741.4h0M340.0 755.7h0M326.2 803.6h0M300.3 694.0h0M356.5 776.8h0M283.7 701.5h0M361.1 774.9h0M307.1 700.8h0M300.9 698.8h0M369.8 729.6h0M304.7 728.2h0M274.9 767.8h0M324.8 807.0h0M389.3 748.9h0M286.6 685.3h0M391.6 734.5h0M309.3 696.0h0M287.9 707.7h0M303.5 704.2h0M307.1 798.4h0M355.0 777.2h0M306.4 699.7h0M316.3 801.4h0M309.1 688.3h0M294.7 699.6h0M298.6 781.3h0M341.3 761.8h0M290.0 720.2h0M308.2 726.3h0M287.5 683.9h0M294.0 694.2h0M294.6 695.2h0M296.7 693.4h0M272.5 778.2h0M318.1 801.0h0M284.8 713.2h0M294.5 755.3h0M284.4 704.8h0M301.1 715.3h0M345.4 779.5h0M290.4 775.3h0M297.5 690.8h0M354.3 776.3h0M308.1 720.2h0M288.3 718.5h0M323.3 803.8h0M390.9 755.6h0M321.9 770.7h0M276.6 752.4h0M267.7 759.1h0M347.5 724.8h0M360.4 758.8h0M304.5 702.8h0M309.6 712.2h0M302.1 702.6h0M329.3 800.8h0M297.3 691.1h0M299.7 729.2h0M392.7 749.3h0M301.0 690.1h0M385.9 738.4h0M300.4 769.6h0M283.1 694.1h0M292.0 695.1h0M284.7 764.3h0M286.3 737.7h0M388.9 733.4h0M291.3 705.6h0M316.2 795.2h0M386.9 745.1h0M305.4 777.7h0M294.7 718.8h0M309.0 688.2h0M316.9 707.3h0M326.1 784.2h0M317.7 698.0h0M281.2 764.4h0M356.4 717.7h0M298.2 759.0h0M346.5 772.8h0M321.5 731.4h0M304.3 733.7h0M369.3 751.6h0M297.5 692.2h0M291.6 692.0h0M323.9 788.7h0M317.7 694.1h0M305.3 686.5h0M391.7 773.1h0M275.6 763.5h0M386.7 760.1h0M313.0 801.1h0M290.0 769.9h0M281.0 704.7h0M278.6 775.0h0M294.6 708.2h0M320.3 716.0h0M320.0 729.0h0M306.6 702.0h0M306.4 700.5h0M301.5 687.9h0M293.0 750.7h0M343.4 772.9h0M309.1 697.0h0M285.0 690.5h0M324.9 782.6h0M294.5 701.3h0M301.9 782.2h0M315.0 811.1h0M294.1 713.8h0M394.9 747.0h0M362.8 724.3h0M310.8 725.5h0M284.2 767.2h0M314.4 810.2h0M269.1 761.7h0M311.9 800.3h0M316.8 794.4h0M299.5 695.5h0M278.3 721.3h0M362.4 720.0h0M284.8 709.4h0M282.9 692.3h0M315.3 796.7h0M326.0 795.8h0M305.3 796.7h0M386.8 749.2h0M271.3 738.7h0M320.9 805.9h0M328.3 795.0h0M384.2 752.2h0M321.2 799.0h0M303.3 693.6h0M381.5 736.2h0M318.3 775.5h0M299.8 713.8h0M284.2 751.9h0M303.5 779.8h0M333.1 784.5h0M272.3 737.0h0M279.6 735.7h0M333.7 724.8h0M299.8 792.2h0M288.8 685.7h0M351.8 781.6h0M387.6 739.1h0M306.7 796.4h0M394.9 737.5h0M327.4 809.4h0M382.9 753.1h0M290.0 741.7h0M329.2 746.5h0M336.2 766.3h0M296.1 759.3h0M282.4 708.2h0M309.0 725.8h0M307.6 778.1h0M273.1 772.6h0M308.0 702.8h0M288.1 700.4h0M289.2 778.0h0M346.4 780.6h0M284.2 751.5h0M396.4 771.5h0M309.1 684.4h0M329.7 799.2h0M295.9 694.6h0M305.5 716.2h0M326.6 770.4h0M294.9 752.8h0M302.1 750.8h0M308.3 701.7h0M342.8 773.2h0M390.5 771.0h0M383.3 748.3h0M307.8 739.2h0M302.6 695.0h0M296.2 692.7h0M303.0 702.7h0M321.5 808.2h0M284.7 758.0h0M281.7 758.6h0M305.0 692.3h0M323.9 785.7h0M328.4 807.6h0M286.1 760.1h0M297.0 774.4h0M356.1 779.3h0M329.4 808.9h0M399.6 744.4h0M286.3 774.6h0M305.6 705.3h0M270.1 766.4h0M356.5 735.8h0M287.5 706.3h0M294.2 696.4h0M324.7 782.6h0M301.4 697.7h0M351.0 778.1h0M321.8 801.5h0M319.8 786.0h0M308.6 778.1h0M316.6 793.4h0M322.1 808.1h0M393.1 771.9h0M303.2 752.2h0M295.5 698.8h0M307.8 769.9h0M318.7 792.2h0M330.3 793.2h0M268.6 752.7h0M319.6 792.1h0M277.3 748.0h0M272.7 765.4h0M299.9 703.5h0M293.3 685.6h0M276.9 722.3h0M302.7 689.9h0M324.8 805.1h0M274.6 772.0h0M298.3 769.8h0M305.1 750.5h0M329.7 799.5h0M332.8 804.6h0M291.2 733.8h0M320.1 807.2h0M302.8 704.6h0M284.6 716.7h0M315.1 694.1h0M317.1 799.7h0M302.6 702.0h0M320.1 732.4h0M297.5 723.8h0M289.9 682.6h0M335.3 766.1h0M316.4 811.1h0M348.8 730.3h0M293.8 741.7h0M300.1 693.3h0M279.3 730.8h0M277.6 721.4h0M279.1 692.1h0M280.1 765.5h0M318.0 791.5h0M306.9 740.3h0M269.0 750.0h0M315.5 765.4h0M300.2 685.2h0M286.8 690.9h0M321.1 809.6h0M297.0 700.2h0M327.9 780.2h0M384.1 754.8h0M307.9 715.0h0M311.1 719.3h0M301.4 786.2h0M284.5 686.6h0M327.9 794.6h0M299.7 699.2h0M285.2 708.2h0M291.6 696.3h0M340.0 764.1h0M334.0 741.4h0M297.7 679.8h0M390.9 732.2h0M380.7 743.2h0M293.8 744.3h0M314.5 778.4h0M296.8 770.5h0M275.5 779.1h0M325.7 803.4h0M337.6 762.7h0M297.9 711.8h0M294.2 702.3h0M360.9 727.4h0M296.8 732.4h0M299.4 716.0h0M371.6 753.0h0M320.1 803.6h0M344.4 727.6h0M301.3 723.0h0M273.2 744.1h0M292.1 704.0h0M298.0 689.3h0M296.6 696.1h0M316.7 795.4h0M324.5 794.7h0M310.1 716.2h0M317.7 701.0h0M311.4 710.6h0M303.5 684.4h0M316.0 767.7h0M391.5 760.4h0M356.9 731.2h0M303.8 745.5h0M289.1 707.6h0M306.3 686.5h0M309.7 796.7h0M296.4 765.7h0M285.5 703.0h0M300.0 682.5h0M273.5 719.8h0M302.1 689.3h0M312.9 781.5h0M297.4 685.6h0M325.0 806.5h0M305.0 693.7h0M278.5 697.4h0M317.8 805.3h0M399.1 765.2h0M298.5 756.4h0M305.2 728.0h0M336.5 766.4h0M329.1 799.9h0M305.3 804.9h0M324.3 723.9h0M382.6 748.0h0M393.9 735.1h0M361.2 774.1h0M371.7 753.9h0M391.5 739.0h0M334.2 762.0h0M325.8 717.8h0M320.0 804.0h0M313.9 779.0h0M367.6 720.5h0M268.0 770.8h0M307.5 706.1h0M328.3 805.3h0M290.0 700.1h0M389.9 740.8h0M298.5 720.6h0M322.5 742.6h0M387.0 750.6h0M323.4 806.8h0M323.9 721.6h0M392.7 767.3h0M321.6 797.7h0M319.0 807.4h0M301.8 687.7h0M286.8 716.1h0M306.3 759.2h0M335.4 763.6h0M345.8 755.1h0M280.4 725.4h0M316.8 796.4h0M371.3 751.6h0M304.9 776.7h0M304.8 692.5h0M315.1 778.1h0M280.8 768.6h0M325.1 737.8h0M296.7 702.5h0M307.1 690.0h0M309.4 722.5h0M317.1 768.9h0M307.9 712.1h0M387.6 751.2h0M303.2 774.2h0M275.2 759.0h0M300.9 713.9h0M310.3 683.0h0M394.1 761.2h0M272.3 729.1h0M392.3 743.4h0M345.3 775.8h0M286.4 701.2h0M347.3 761.4h0M294.6 744.8h0M291.3 697.2h0M296.5 686.6h0M297.2 706.4h0M390.1 743.7h0M295.6 696.1h0M300.2 719.3h0M316.7 800.8h0M294.0 698.1h0M297.7 754.2h0M313.2 700.9h0M295.1 708.9h0M300.2 717.8h0M378.5 755.6h0M291.8 728.7h0M323.0 797.1h0M296.1 702.2h0M364.1 718.7h0M300.3 796.4h0M321.0 717.0h0M301.2 695.0h0M385.2 745.3h0M293.8 716.0h0M292.0 739.2h0M290.7 728.0h0M308.9 760.5h0M309.9 688.3h0M300.4 704.2h0M314.8 807.2h0M330.3 793.4h0M371.8 753.2h0M278.8 775.9h0M275.9 710.1h0M273.2 738.1h0M275.3 753.9h0M331.4 787.9h0M383.6 745.9h0M268.6 760.6h0M395.0 752.2h0M354.2 777.6h0M369.0 752.6h0M399.4 767.8h0M293.8 689.6h0M311.2 699.0h0M296.6 702.2h0M305.2 753.0h0M303.6 688.8h0M271.1 761.1h0M320.1 719.7h0M296.8 688.6h0M316.9 799.4h0M358.2 777.4h0M340.8 680.8h0M304.5 730.3h0M386.9 744.6h0M309.4 736.7h0M274.5 768.3h0M321.6 795.9h0M299.3 766.6h0M380.4 747.4h0M370.5 720.5h0M301.0 737.5h0M383.8 745.2h0M352.0 727.7h0M393.2 768.4h0M278.1 710.0h0M322.3 804.1h0M394.4 737.6h0M301.9 682.7h0M293.4 705.1h0M295.7 705.0h0M292.9 708.7h0M346.4 734.9h0M297.2 695.2h0M325.4 788.9h0M386.8 754.2h0M389.0 750.6h0M390.5 765.6h0M390.1 749.0h0M295.5 698.3h0M289.2 737.6h0M281.9 718.1h0M298.6 776.7h0M305.3 691.9h0M291.7 691.0h0M285.4 761.2h0M288.6 764.4h0M324.0 802.4h0M293.5 702.2h0M294.2 702.0h0M397.0 772.9h0M306.7 731.8h0M297.9 693.4h0M310.2 787.1h0M393.7 762.7h0M291.9 694.5h0M289.2 712.1h0M292.4 733.9h0M323.4 796.9h0M298.5 694.0h0M341.6 764.3h0M312.5 795.0h0M277.1 740.4h0M296.5 682.7h0M348.3 721.7h0M357.0 775.5h0M332.3 728.4h0M279.1 696.0h0M286.4 744.2h0M301.6 706.6h0M287.5 690.6h0M307.4 687.8h0M307.0 686.9h0M306.0 720.8h0M334.3 766.4h0M291.4 692.6h0M296.3 699.4h0M296.1 712.2h0M289.5 738.2h0M315.9 707.0h0M388.4 748.3h0M353.6 719.1h0M305.5 700.1h0M348.9 779.4h0M327.1 806.2h0M280.6 692.6h0M298.6 690.6h0M328.5 791.0h0M357.5 772.3h0M282.9 773.9h0M303.7 699.7h0M353.8 723.0h0M295.6 692.0h0M398.7 767.5h0M317.8 812.9h0M317.4 806.3h0M349.4 762.5h0M310.1 690.9h0M373.1 769.3h0M322.6 724.6h0M282.3 706.9h0M277.3 775.1h0M289.5 702.9h0M308.4 722.3h0M276.7 761.4h0M365.5 718.0h0M314.4 704.0h0M322.8 798.7h0M295.4 780.7h0M321.4 799.3h0M308.9 727.5h0M308.2 702.9h0M351.4 777.4h0M278.1 700.6h0M348.9 775.6h0M366.1 755.3h0M323.2 807.0h0M297.8 699.4h0M304.0 784.3h0M281.8 738.9h0M310.7 730.2h0M297.4 710.5h0M295.5 696.7h0M305.2 721.9h0M299.8 728.0h0M318.6 803.0h0M289.4 774.0h0M306.9 728.7h0M291.5 739.0h0M392.9 743.6h0M301.6 749.5h0M284.9 701.1h0M288.1 777.0h0M292.6 689.8h0M299.8 775.3h0M301.5 683.7h0M286.3 747.2h0M300.8 711.6h0M315.5 796.0h0M355.9 778.5h0M293.9 771.7h0M307.7 723.0h0M296.5 700.9h0M307.6 690.0h0M305.5 697.0h0M394.2 739.8h0M324.6 794.7h0M294.7 728.7h0M277.0 773.5h0M291.4 687.8h0M312.0 691.1h0M394.6 773.7h0M283.3 775.1h0M291.5 708.4h0M274.2 732.2h0M335.4 761.8h0M320.7 772.4h0M321.7 720.9h0M365.5 757.3h0M295.8 761.0h0M298.5 760.0h0M302.6 790.2h0M300.5 707.5h0M307.9 696.0h0M361.6 717.8h0M276.9 773.0h0M301.2 699.7h0M389.1 753.6h0M328.6 805.6h0M326.6 805.6h0M379.7 744.6h0M315.6 804.6h0M273.4 740.4h0M394.5 741.9h0M309.0 703.3h0M288.4 695.5h0M297.0 702.7h0M289.2 690.0h0M304.8 712.2h0M296.2 687.7h0M284.3 744.4h0M331.7 755.2h0M320.4 779.4h0M297.0 692.9h0M287.7 699.8h0M298.6 707.6h0M382.0 751.7h0M327.2 799.6h0M298.1 704.2h0M306.3 748.8h0M356.7 725.8h0M395.9 764.2h0M301.1 692.1h0M289.9 681.7h0M351.2 772.8h0M284.9 689.7h0M287.8 681.2h0M323.3 776.0h0M303.3 709.5h0M303.4 742.1h0M397.2 752.2h0M354.3 779.9h0M296.7 778.5h0M339.4 762.4h0M313.5 791.1h0M313.9 716.8h0M299.0 688.2h0M307.3 727.7h0M295.1 690.0h0M290.9 701.1h0M285.1 687.2h0M338.4 775.1h0M317.2 705.0h0M324.8 801.6h0M348.5 776.9h0M297.5 688.8h0M347.3 728.9h0M290.1 758.5h0M315.4 693.0h0M322.7 800.2h0M361.5 775.8h0M396.9 774.5h0M360.3 780.5h0M294.4 687.6h0M298.9 775.2h0M329.9 745.6h0M325.3 804.7h0M312.0 784.3h0M352.4 735.9h0M312.5 699.3h0M386.9 734.1h0M291.4 773.7h0M326.2 785.2h0M279.1 746.8h0M315.9 808.8h0M356.5 777.9h0M313.3 728.4h0M347.7 735.9h0M351.9 718.5h0M330.2 746.1h0M304.1 692.3h0M388.3 731.4h0M311.9 696.8h0M289.3 750.8h0M276.5 767.6h0M316.2 691.9h0M298.9 710.4h0M270.8 745.3h0M292.6 697.8h0M378.5 743.2h0M320.4 795.9h0M357.9 717.1h0M314.7 697.5h0M312.0 806.9h0M385.8 750.4h0M324.3 801.4h0M314.6 807.8h0M294.2 693.8h0M284.4 720.4h0M306.9 773.6h0M301.8 744.8h0M285.8 741.7h0M329.2 737.9h0M316.7 773.5h0M387.2 741.2h0M269.7 742.8h0M315.2 794.6h0M328.7 780.6h0M386.8 759.8h0M284.3 752.9h0M310.2 695.1h0M382.5 756.7h0M323.7 714.3h0M386.0 739.6h0M395.2 766.6h0M285.0 755.8h0M362.7 757.1h0M270.6 746.2h0M300.2 703.9h0M308.5 726.1h0M328.0 808.9h0M275.7 761.6h0M290.8 687.0h0M388.9 757.2h0M282.5 768.6h0M384.0 742.5h0M351.2 720.2h0M323.9 756.7h0M325.1 796.4h0M354.2 781.7h0M308.9 739.6h0M270.0 748.0h0M353.4 771.3h0M314.8 767.3h0M393.5 762.2h0M312.8 730.1h0M299.9 681.9h0M313.1 691.8h0M296.9 697.7h0M303.8 689.6h0M299.9 705.4h0M301.4 685.2h0M285.2 682.8h0M304.9 681.2h0M314.3 704.1h0M285.2 694.1h0M388.6 761.7h0M327.6 805.4h0M345.8 726.2h0M333.3 767.0h0M295.8 678.9h0M328.4 804.3h0M349.5 775.2h0M290.7 696.2h0M359.6 738.2h0M393.8 752.1h0M332.6 784.6h0M301.0 693.1h0M303.3 691.4h0M305.0 688.5h0M296.4 689.7h0M294.4 779.6h0M359.5 721.3h0M276.6 700.8h0M339.6 762.7h0M298.3 778.7h0M319.0 698.2h0M320.4 811.2h0M305.1 759.3h0M351.2 759.0h0M300.9 710.3h0M291.5 699.2h0M394.6 745.6h0M300.4 699.3h0M292.9 687.0h0M302.0 770.2h0M286.8 742.0h0M349.6 774.7h0M299.6 752.4h0M292.1 769.2h0M339.4 679.9h0M283.0 746.2h0M313.9 811.4h0M272.1 743.4h0M283.5 725.9h0M368.2 746.9h0M301.6 688.3h0M290.8 698.5h0M328.3 809.2h0M398.6 759.6h0M297.4 688.3h0M297.4 694.0h0M307.0 692.2h0M324.0 772.6h0M293.5 719.0h0M328.4 806.9h0M335.7 767.1h0M333.8 773.2h0M356.1 779.3h0M306.3 692.9h0M301.0 691.9h0M351.4 776.9h0M309.1 720.1h0M269.5 759.3h0M325.1 765.0h0M318.5 722.8h0M392.9 750.4h0M309.2 747.2h0M330.8 768.0h0M298.2 686.6h0M301.9 719.7h0M284.9 709.9h0M355.9 722.4h0M398.6 766.0h0M299.0 769.2h0M387.4 744.1h0M296.6 678.9h0M289.2 762.9h0M304.7 759.6h0M347.6 775.9h0M337.8 762.9h0M287.3 693.9h0M384.4 755.0h0M328.5 794.4h0M298.6 688.5h0M351.2 732.3h0M300.8 783.8h0M282.7 720.8h0M320.7 791.4h0M305.2 721.8h0M389.3 767.0h0M306.5 682.7h0M311.0 728.2h0M394.1 762.8h0M283.7 743.8h0M283.1 722.7h0M268.4 775.1h0M309.6 694.1h0M284.9 701.1h0M277.0 760.0h0M269.6 766.5h0M290.7 687.6h0M305.7 738.5h0M364.7 723.5h0M389.3 737.7h0M319.6 802.5h0M298.9 689.8h0M389.0 757.2h0M331.1 733.9h0M341.3 758.0h0M389.0 733.6h0M392.7 759.3h0M363.4 721.2h0M382.4 751.4h0M302.8 706.5h0M385.4 750.4h0M299.5 769.8h0M273.9 733.6h0M301.4 696.5h0M306.1 688.9h0M302.8 700.1h0M388.7 741.6h0M303.0 690.3h0M322.6 783.4h0M319.6 809.1h0M316.0 804.8h0M360.0 721.9h0M298.1 735.9h0M336.7 759.2h0M290.9 733.0h0M278.1 740.5h0M347.4 781.4h0M304.0 684.0h0M293.8 694.7h0M299.8 695.1h0M329.5 795.7h0M326.9 801.5h0M305.3 748.0h0M296.2 701.3h0M354.9 778.7h0M310.7 796.9h0M323.2 791.1h0M314.9 695.9h0M289.2 702.2h0M313.2 786.5h0M391.2 769.4h0M308.4 702.0h0M296.4 755.8h0M350.5 778.7h0M291.3 698.8h0M292.4 695.4h0M293.0 691.0h0M280.6 742.3h0M295.8 690.6h0M297.8 782.5h0M332.8 805.8h0M298.0 692.1h0M325.4 789.8h0M357.6 725.8h0M307.3 732.3h0M319.1 805.3h0M295.9 688.1h0M295.8 682.1h0M308.7 687.9h0M306.2 719.0h0M359.2 719.4h0M278.1 762.0h0M305.1 782.2h0M390.7 754.5h0M325.8 810.5h0M334.2 760.8h0M332.4 733.2h0M322.7 791.2h0M285.0 732.1h0M396.0 758.8h0M318.7 800.8h0M277.4 750.5h0M306.1 778.0h0M395.1 754.2h0M326.0 800.9h0M268.3 774.5h0M328.2 799.9h0M304.7 693.0h0M303.8 695.1h0M308.4 702.6h0M269.6 763.6h0M391.4 752.1h0M299.7 755.2h0M318.2 777.6h0M345.4 785.7h0M300.9 700.5h0M298.4 688.6h0M387.9 741.7h0M289.8 686.1h0M293.7 699.7h0M340.7 766.3h0M325.4 799.2h0M287.1 761.4h0M296.2 733.2h0M300.0 680.8h0M317.1 735.8h0M356.5 773.8h0M285.7 690.9h0M304.0 703.3h0M293.4 686.7h0M306.3 709.9h0M274.0 725.2h0M394.2 769.5h0M317.3 695.7h0M296.1 698.0h0M308.7 693.7h0M307.1 741.9h0M314.4 796.5h0M297.7 762.0h0M351.8 782.3h0M311.3 798.8h0M300.8 745.9h0M345.3 728.0h0M303.2 762.8h0" stroke="#cbcbcb" stroke-width="2.90" stroke-linecap="round" fill="none"/>
<path d="M305.4 683.3h0M302.2 694.8h0M268.5 739.3h0M283.6 744.4h0M301.7 759.6h0M276.5 730.6h0M268.5 760.3h0M271.3 770.9h0M303.4 728.3h0M288.5 765.4h0M273.3 735.0h0M272.1 750.4h0M302.1 725.9h0M275.2 717.1h0M278.6 715.6h0M295.6 761.8h0M300.0 740.7h0M268.2 741.2h0M276.3 713.3h0M289.3 748.4h0M282.2 743.9h0M295.2 766.1h0M309.3 746.6h0M301.5 743.8h0M282.5 763.4h0M326.1 731.1h0M313.6 714.6h0M312.6 716.5h0M333.8 726.7h0M315.7 720.8h0M330.4 724.1h0M305.6 787.6h0M329.5 763.9h0M299.9 775.7h0M315.7 803.8h0M322.3 812.9h0M318.0 802.0h0M323.3 800.2h0M324.3 785.0h0M313.5 792.2h0M323.2 766.8h0M303.0 693.9h0M273.1 764.1h0M327.7 721.2h0M323.5 772.8h0M339.1 681.7h0M342.9 680.0h0M349.7 728.6h0M354.9 728.4h0M348.6 722.8h0M338.3 762.0h0M342.7 772.5h0M338.8 762.4h0M357.1 775.1h0M368.9 753.1h0M366.2 756.8h0M364.5 754.7h0M393.9 764.0h0M392.4 754.7h0M394.3 761.0h0M387.1 756.9h0M396.6 751.3h0M394.1 755.4h0M398.3 770.8h0M391.8 767.0h0M392.1 755.5h0" stroke="#a087e9" stroke-width="2.90" stroke-linecap="round" fill="none"/>
<path d="M295.8 696.3h0M290.0 689.3h0M299.2 709.1h0M302.2 734.7h0M301.2 758.6h0M307.5 725.1h0M287.4 714.7h0M291.1 750.7h0M297.0 758.9h0M291.2 732.8h0M299.6 741.8h0M275.5 768.6h0M281.7 778.9h0M309.4 746.2h0M288.4 759.8h0M275.2 742.2h0M273.2 777.7h0M275.6 768.2h0M275.7 778.7h0M304.7 752.4h0M271.7 731.6h0M334.9 745.1h0M318.0 732.2h0M314.4 716.5h0M332.2 741.8h0M317.3 745.1h0M312.9 725.8h0M327.6 764.4h0M327.3 795.7h0M323.8 812.2h0M320.7 773.2h0M298.4 700.7h0M317.4 798.8h0M301.4 775.9h0M327.2 775.7h0M341.1 680.1h0M342.8 677.8h0M336.7 682.6h0M336.7 681.9h0M356.6 726.1h0M356.2 723.8h0M337.1 762.8h0M337.8 764.1h0M338.9 764.1h0M331.6 763.5h0M331.4 770.9h0M343.2 759.8h0M341.0 768.5h0M344.2 760.1h0M335.1 762.9h0M354.5 781.7h0M347.1 778.8h0M347.2 782.8h0M362.0 757.6h0M363.6 756.6h0M388.3 750.9h0M391.1 760.4h0M386.1 740.1h0M396.8 767.5h0M390.6 755.0h0M383.2 753.5h0M395.8 754.9h0M393.2 759.3h0M397.3 759.0h0M388.9 731.7h0M389.3 759.1h0M392.3 768.2h0M390.5 763.5h0M398.3 744.8h0M385.4 734.1h0M349.9 756.4h0M343.9 755.6h0M341.3 735.7h0" stroke="#9071e9" stroke-width="2.90" stroke-linecap="round" fill="none"/>
<path d="M289.1 696.9h0M312.7 692.2h0M298.5 698.1h0M287.1 691.9h0M303.7 694.8h0M301.1 695.0h0M302.7 747.2h0M305.7 709.7h0M306.5 733.8h0M303.5 746.2h0M288.3 775.7h0M297.1 752.1h0M274.5 770.5h0M304.4 754.5h0M274.0 752.3h0M279.8 770.4h0M289.2 758.1h0M292.6 766.3h0M302.7 737.5h0M293.4 772.8h0M274.4 745.0h0M278.8 722.5h0M279.6 721.4h0M300.1 755.7h0M274.3 744.1h0M285.5 723.9h0M327.3 720.9h0M317.7 736.2h0M330.6 730.3h0M322.6 716.9h0M315.2 791.1h0M303.1 797.0h0M327.8 772.0h0M315.3 794.0h0M283.0 732.4h0M281.3 727.0h0M280.2 692.6h0M292.0 775.4h0M272.5 761.8h0M272.2 753.3h0M320.3 796.5h0M349.4 735.0h0M345.5 737.6h0M361.2 716.0h0M349.0 731.5h0M358.2 721.2h0M367.8 720.5h0M336.7 766.9h0M342.1 763.1h0M335.0 764.4h0M371.3 752.4h0M397.4 763.4h0M394.5 767.9h0M386.2 758.9h0M390.2 735.3h0M388.7 751.7h0M388.9 757.3h0M395.6 755.7h0M396.0 744.0h0M348.2 769.0h0" stroke="#815be8" stroke-width="2.90" stroke-linecap="round" fill="none"/>
<path d="M299.4 694.1h0M298.4 689.6h0M292.0 688.3h0M293.2 686.0h0M306.4 695.4h0M297.4 713.4h0M304.4 702.3h0M314.3 690.5h0M295.5 697.5h0M301.9 701.6h0M284.0 733.0h0M286.3 734.0h0M280.1 728.7h0M309.1 741.8h0M273.4 769.1h0M299.6 714.4h0M273.1 734.4h0M271.7 768.6h0M282.2 743.5h0M278.7 762.7h0M294.5 751.0h0M286.5 744.9h0M288.9 770.7h0M279.2 775.8h0M297.2 740.8h0M292.4 722.9h0M287.9 737.9h0M272.0 749.6h0M326.6 728.5h0M312.4 729.8h0M303.6 787.7h0M316.9 808.5h0M332.2 792.8h0M299.9 795.0h0M307.7 776.7h0M315.5 808.5h0M318.8 799.4h0M317.9 786.3h0M331.8 735.3h0M268.4 730.9h0M301.7 726.3h0M288.9 736.2h0M349.3 727.7h0M343.1 760.9h0M336.8 767.1h0M335.7 758.7h0M331.6 757.7h0M341.5 762.8h0M339.5 760.5h0M336.7 762.4h0M343.4 763.9h0M333.3 766.9h0M334.5 764.2h0M351.1 780.9h0M394.5 752.5h0M383.0 752.8h0M381.0 734.7h0M397.1 744.2h0M394.6 761.4h0M388.0 737.4h0M386.8 737.0h0M390.7 767.4h0M384.9 745.7h0M386.4 756.3h0M396.0 771.6h0M396.3 772.4h0M387.6 761.4h0M388.8 751.2h0" stroke="#7245e8" stroke-width="2.90" stroke-linecap="round" fill="none"/>
<line x1="255.30" y1="667.90" x2="255.30" y2="822.20" stroke="#000" stroke-width="1.0"/>
<line x1="254.80" y1="821.70" x2="412.70" y2="821.70" stroke="#000" stroke-width="1.0"/>
<line x1="252.70" y1="673.98" x2="255.30" y2="673.98" stroke="#000" stroke-width="1.0"/>
<text x="250.10" y="676.68" font-size="7.6" text-anchor="end" fill="#000">6</text>
<line x1="252.70" y1="708.99" x2="255.30" y2="708.99" stroke="#000" stroke-width="1.0"/>
<text x="250.10" y="711.69" font-size="7.6" text-anchor="end" fill="#000">3</text>
<line x1="252.70" y1="744.00" x2="255.30" y2="744.00" stroke="#000" stroke-width="1.0"/>
<text x="250.10" y="746.70" font-size="7.6" text-anchor="end" fill="#000">0</text>
<line x1="252.70" y1="779.01" x2="255.30" y2="779.01" stroke="#000" stroke-width="1.0"/>
<text x="250.10" y="781.71" font-size="7.6" text-anchor="end" fill="#000">-3</text>
<line x1="252.70" y1="814.02" x2="255.30" y2="814.02" stroke="#000" stroke-width="1.0"/>
<text x="250.10" y="816.72" font-size="7.6" text-anchor="end" fill="#000">-6</text>
<line x1="270.70" y1="821.70" x2="270.70" y2="824.30" stroke="#000" stroke-width="1.0"/>
<text x="270.70" y="832.60" font-size="7.6" text-anchor="middle" fill="#000">-5</text>
<line x1="315.40" y1="821.70" x2="315.40" y2="824.30" stroke="#000" stroke-width="1.0"/>
<text x="315.40" y="832.60" font-size="7.6" text-anchor="middle" fill="#000">0</text>
<line x1="360.10" y1="821.70" x2="360.10" y2="824.30" stroke="#000" stroke-width="1.0"/>
<text x="360.10" y="832.60" font-size="7.6" text-anchor="middle" fill="#000">5</text>
<line x1="404.80" y1="821.70" x2="404.80" y2="824.30" stroke="#000" stroke-width="1.0"/>
<text x="404.80" y="832.60" font-size="7.6" text-anchor="middle" fill="#000">10</text>
<text x="332.40" y="659.20" font-size="10.2" font-weight="bold" text-anchor="middle" fill="#000">Low</text>
<text transform="translate(236.3,748.8) rotate(-90)" font-size="7.6" text-anchor="middle">UMAP_2</text>
<text x="334.20" y="846.40" font-size="7.6" text-anchor="middle" fill="#000">UMAP_1</text>
<text transform="translate(416.0,740.8) rotate(90)" font-size="7.6" text-anchor="middle">SPP1</text>
<path d="M562.10,804.30 L560.60,802.08 L557.50,799.01 L552.70,794.92 L550.10,790.82 L550.60,785.88 L552.40,780.76 L557.50,770.35 L561.40,760.29 L565.70,750.05 L567.50,742.88 L568.70,734.52 L569.00,729.24 L568.50,722.24 L567.20,716.10 L565.70,710.98 L562.90,705.86 L558.80,700.75 L554.70,695.63 L549.60,690.51 L545.90,685.39 L543.90,680.27 L542.70,673.62 L542.70,673.62 L541.50,680.27 L539.50,685.39 L535.80,690.51 L530.70,695.63 L526.60,700.75 L522.50,705.86 L519.70,710.98 L518.20,716.10 L516.90,722.24 L516.40,729.24 L516.70,734.52 L517.90,742.88 L519.70,750.05 L524.00,760.29 L527.90,770.35 L533.00,780.76 L534.80,785.88 L535.30,790.82 L532.70,794.92 L527.90,799.01 L524.80,802.08 L523.30,804.30 Z" fill="#ee3b2c" stroke="#222" stroke-width="0.8"/>
<path d="M627.70,804.30 L626.50,803.28 L620.50,800.38 L614.50,797.99 L610.30,795.77 L607.50,794.06 L605.50,792.02 L604.40,789.97 L604.10,786.39 L604.00,774.96 L603.90,760.80 L603.90,746.64 L603.80,732.48 L603.00,718.32 L602.20,708.76 L601.50,699.89 L601.50,699.89 L600.80,708.76 L600.00,718.32 L599.20,732.48 L599.10,746.64 L599.10,760.80 L599.00,774.96 L598.90,786.39 L598.60,789.97 L597.50,792.02 L595.50,794.06 L592.70,795.77 L588.50,797.99 L582.50,800.38 L576.50,803.28 L575.30,804.30 Z" fill="#3f90cf" stroke="#222" stroke-width="0.8"/>
<path d="M536.9,756.9h1.2v1.2h-1.2zM538.0,736.8h1.2v1.2h-1.2zM565.2,722.5h1.2v1.2h-1.2zM562.8,755.8h1.2v1.2h-1.2zM518.7,758.6h1.2v1.2h-1.2zM521.7,712.7h1.2v1.2h-1.2zM521.7,748.2h1.2v1.2h-1.2zM557.4,742.5h1.2v1.2h-1.2zM532.8,747.1h1.2v1.2h-1.2zM531.2,733.6h1.2v1.2h-1.2zM555.0,695.5h1.2v1.2h-1.2zM522.8,716.1h1.2v1.2h-1.2zM549.0,706.3h1.2v1.2h-1.2zM528.3,707.7h1.2v1.2h-1.2zM548.0,785.5h1.2v1.2h-1.2zM527.9,792.3h1.2v1.2h-1.2zM534.8,727.7h1.2v1.2h-1.2zM540.4,736.9h1.2v1.2h-1.2zM531.0,690.4h1.2v1.2h-1.2zM526.8,702.7h1.2v1.2h-1.2zM555.2,703.0h1.2v1.2h-1.2zM522.9,768.2h1.2v1.2h-1.2zM521.4,703.0h1.2v1.2h-1.2zM533.9,705.7h1.2v1.2h-1.2zM548.3,696.3h1.2v1.2h-1.2zM544.4,761.5h1.2v1.2h-1.2zM523.7,749.3h1.2v1.2h-1.2zM549.9,774.0h1.2v1.2h-1.2zM520.5,708.4h1.2v1.2h-1.2zM534.3,756.3h1.2v1.2h-1.2zM540.8,693.3h1.2v1.2h-1.2zM547.0,708.7h1.2v1.2h-1.2zM547.4,733.4h1.2v1.2h-1.2zM554.3,706.6h1.2v1.2h-1.2zM551.9,692.6h1.2v1.2h-1.2zM556.3,744.2h1.2v1.2h-1.2zM534.8,691.5h1.2v1.2h-1.2zM527.2,704.6h1.2v1.2h-1.2zM529.4,761.8h1.2v1.2h-1.2zM522.3,749.6h1.2v1.2h-1.2zM532.3,768.0h1.2v1.2h-1.2zM541.0,744.0h1.2v1.2h-1.2zM523.1,744.5h1.2v1.2h-1.2zM551.7,735.8h1.2v1.2h-1.2zM554.6,711.7h1.2v1.2h-1.2zM558.4,765.5h1.2v1.2h-1.2zM528.6,740.9h1.2v1.2h-1.2zM559.4,733.5h1.2v1.2h-1.2zM533.8,729.9h1.2v1.2h-1.2zM557.7,741.6h1.2v1.2h-1.2zM546.3,717.6h1.2v1.2h-1.2zM519.0,712.4h1.2v1.2h-1.2zM530.8,781.5h1.2v1.2h-1.2zM544.6,761.7h1.2v1.2h-1.2zM542.7,764.2h1.2v1.2h-1.2zM530.5,751.1h1.2v1.2h-1.2zM530.2,710.8h1.2v1.2h-1.2zM539.8,739.6h1.2v1.2h-1.2zM548.1,711.4h1.2v1.2h-1.2zM562.8,702.3h1.2v1.2h-1.2zM520.0,740.1h1.2v1.2h-1.2zM562.8,755.3h1.2v1.2h-1.2zM535.7,764.9h1.2v1.2h-1.2zM554.8,715.6h1.2v1.2h-1.2zM531.3,707.9h1.2v1.2h-1.2zM529.1,738.9h1.2v1.2h-1.2zM561.3,745.2h1.2v1.2h-1.2zM557.7,754.5h1.2v1.2h-1.2zM522.6,762.5h1.2v1.2h-1.2zM519.1,721.9h1.2v1.2h-1.2zM524.4,702.8h1.2v1.2h-1.2zM543.4,738.2h1.2v1.2h-1.2zM530.3,721.7h1.2v1.2h-1.2zM564.8,733.9h1.2v1.2h-1.2zM536.3,741.6h1.2v1.2h-1.2zM541.7,695.1h1.2v1.2h-1.2zM551.7,717.0h1.2v1.2h-1.2zM564.1,699.7h1.2v1.2h-1.2zM543.1,776.8h1.2v1.2h-1.2zM541.7,734.7h1.2v1.2h-1.2zM522.3,792.4h1.2v1.2h-1.2zM518.5,698.9h1.2v1.2h-1.2zM545.9,755.0h1.2v1.2h-1.2zM558.7,768.7h1.2v1.2h-1.2zM519.6,790.7h1.2v1.2h-1.2zM559.1,747.6h1.2v1.2h-1.2zM540.8,764.0h1.2v1.2h-1.2zM528.3,739.0h1.2v1.2h-1.2zM523.9,748.1h1.2v1.2h-1.2zM540.2,795.8h1.2v1.2h-1.2zM561.7,773.4h1.2v1.2h-1.2zM538.4,723.2h1.2v1.2h-1.2zM530.5,718.9h1.2v1.2h-1.2zM518.6,691.3h1.2v1.2h-1.2zM565.1,765.8h1.2v1.2h-1.2zM558.3,736.8h1.2v1.2h-1.2zM528.1,714.6h1.2v1.2h-1.2zM555.0,683.1h1.2v1.2h-1.2zM537.3,730.3h1.2v1.2h-1.2zM538.2,728.0h1.2v1.2h-1.2zM520.6,716.5h1.2v1.2h-1.2zM524.7,739.8h1.2v1.2h-1.2zM541.3,738.9h1.2v1.2h-1.2zM545.1,745.4h1.2v1.2h-1.2zM556.8,695.4h1.2v1.2h-1.2zM526.1,786.8h1.2v1.2h-1.2zM546.2,738.7h1.2v1.2h-1.2zM525.6,716.7h1.2v1.2h-1.2zM521.1,752.1h1.2v1.2h-1.2zM541.4,726.7h1.2v1.2h-1.2zM522.7,733.0h1.2v1.2h-1.2zM529.2,739.1h1.2v1.2h-1.2zM541.8,724.8h1.2v1.2h-1.2zM558.9,749.2h1.2v1.2h-1.2zM556.0,762.1h1.2v1.2h-1.2zM555.0,721.4h1.2v1.2h-1.2zM528.4,721.0h1.2v1.2h-1.2zM554.3,737.2h1.2v1.2h-1.2zM528.1,712.7h1.2v1.2h-1.2zM525.6,753.5h1.2v1.2h-1.2zM532.3,715.4h1.2v1.2h-1.2zM537.3,772.4h1.2v1.2h-1.2zM522.0,712.0h1.2v1.2h-1.2zM546.5,696.6h1.2v1.2h-1.2zM538.8,716.4h1.2v1.2h-1.2zM542.8,732.0h1.2v1.2h-1.2zM530.8,717.5h1.2v1.2h-1.2zM527.0,747.0h1.2v1.2h-1.2zM552.6,753.5h1.2v1.2h-1.2zM545.5,731.4h1.2v1.2h-1.2zM535.4,719.3h1.2v1.2h-1.2zM545.3,712.9h1.2v1.2h-1.2zM559.0,734.0h1.2v1.2h-1.2zM555.2,722.3h1.2v1.2h-1.2zM524.0,761.3h1.2v1.2h-1.2zM543.7,731.7h1.2v1.2h-1.2zM551.6,746.9h1.2v1.2h-1.2zM541.0,771.4h1.2v1.2h-1.2zM526.5,723.1h1.2v1.2h-1.2zM559.3,729.1h1.2v1.2h-1.2zM541.8,714.3h1.2v1.2h-1.2zM565.5,757.0h1.2v1.2h-1.2zM546.1,693.3h1.2v1.2h-1.2zM539.9,770.4h1.2v1.2h-1.2zM519.9,729.1h1.2v1.2h-1.2zM537.3,751.1h1.2v1.2h-1.2zM566.0,707.7h1.2v1.2h-1.2zM531.3,757.0h1.2v1.2h-1.2zM564.2,736.6h1.2v1.2h-1.2zM542.9,729.4h1.2v1.2h-1.2zM522.6,774.6h1.2v1.2h-1.2zM554.3,696.9h1.2v1.2h-1.2zM549.0,759.8h1.2v1.2h-1.2zM547.8,753.9h1.2v1.2h-1.2zM544.7,697.3h1.2v1.2h-1.2zM521.2,779.9h1.2v1.2h-1.2zM524.0,733.7h1.2v1.2h-1.2zM527.3,726.5h1.2v1.2h-1.2zM557.5,724.3h1.2v1.2h-1.2zM552.7,770.0h1.2v1.2h-1.2zM554.0,707.9h1.2v1.2h-1.2zM556.1,801.9h1.2v1.2h-1.2zM562.3,691.8h1.2v1.2h-1.2zM537.3,755.3h1.2v1.2h-1.2zM540.5,734.4h1.2v1.2h-1.2zM537.3,764.3h1.2v1.2h-1.2zM535.6,747.9h1.2v1.2h-1.2zM564.1,764.9h1.2v1.2h-1.2zM560.7,749.9h1.2v1.2h-1.2zM541.3,717.2h1.2v1.2h-1.2zM532.0,733.9h1.2v1.2h-1.2zM548.3,776.4h1.2v1.2h-1.2zM521.7,743.4h1.2v1.2h-1.2zM533.8,795.9h1.2v1.2h-1.2zM527.9,701.4h1.2v1.2h-1.2zM530.7,759.1h1.2v1.2h-1.2zM544.4,743.3h1.2v1.2h-1.2zM553.8,785.2h1.2v1.2h-1.2zM521.7,734.7h1.2v1.2h-1.2zM541.6,715.5h1.2v1.2h-1.2zM544.0,726.7h1.2v1.2h-1.2zM549.3,725.7h1.2v1.2h-1.2zM531.6,697.6h1.2v1.2h-1.2zM518.4,767.8h1.2v1.2h-1.2zM528.4,728.8h1.2v1.2h-1.2zM555.6,803.5h1.2v1.2h-1.2zM541.8,736.4h1.2v1.2h-1.2zM519.2,724.1h1.2v1.2h-1.2zM522.3,737.8h1.2v1.2h-1.2zM525.6,686.7h1.2v1.2h-1.2zM565.6,767.0h1.2v1.2h-1.2zM539.2,692.2h1.2v1.2h-1.2zM549.7,732.4h1.2v1.2h-1.2zM547.0,794.8h1.2v1.2h-1.2zM534.6,721.6h1.2v1.2h-1.2zM551.2,702.6h1.2v1.2h-1.2zM536.5,719.7h1.2v1.2h-1.2zM553.4,735.1h1.2v1.2h-1.2zM542.0,742.9h1.2v1.2h-1.2zM542.5,709.0h1.2v1.2h-1.2zM532.9,696.8h1.2v1.2h-1.2zM525.0,801.4h1.2v1.2h-1.2zM550.4,802.3h1.2v1.2h-1.2zM548.8,750.1h1.2v1.2h-1.2zM537.9,699.2h1.2v1.2h-1.2zM558.7,741.4h1.2v1.2h-1.2zM537.4,718.0h1.2v1.2h-1.2zM547.1,800.8h1.2v1.2h-1.2zM523.7,727.5h1.2v1.2h-1.2zM524.5,732.4h1.2v1.2h-1.2zM548.7,751.0h1.2v1.2h-1.2zM529.7,729.1h1.2v1.2h-1.2zM555.7,714.4h1.2v1.2h-1.2zM539.8,734.1h1.2v1.2h-1.2zM535.9,714.8h1.2v1.2h-1.2zM553.4,728.4h1.2v1.2h-1.2zM560.4,722.6h1.2v1.2h-1.2zM559.4,694.7h1.2v1.2h-1.2zM525.1,721.8h1.2v1.2h-1.2zM537.0,710.2h1.2v1.2h-1.2zM560.1,760.7h1.2v1.2h-1.2zM534.1,710.5h1.2v1.2h-1.2zM526.4,729.2h1.2v1.2h-1.2zM527.7,743.7h1.2v1.2h-1.2zM559.3,706.6h1.2v1.2h-1.2zM543.4,782.7h1.2v1.2h-1.2zM533.3,739.4h1.2v1.2h-1.2zM549.8,746.1h1.2v1.2h-1.2zM563.4,764.4h1.2v1.2h-1.2zM546.6,755.6h1.2v1.2h-1.2zM543.9,749.2h1.2v1.2h-1.2zM566.3,704.1h1.2v1.2h-1.2zM532.8,736.0h1.2v1.2h-1.2zM566.5,703.5h1.2v1.2h-1.2zM524.8,764.8h1.2v1.2h-1.2zM547.2,731.8h1.2v1.2h-1.2zM551.7,711.9h1.2v1.2h-1.2zM563.5,737.7h1.2v1.2h-1.2zM548.5,768.8h1.2v1.2h-1.2zM543.5,743.4h1.2v1.2h-1.2zM549.4,746.5h1.2v1.2h-1.2zM545.8,698.9h1.2v1.2h-1.2zM563.9,773.0h1.2v1.2h-1.2zM563.7,757.8h1.2v1.2h-1.2zM556.1,727.8h1.2v1.2h-1.2zM562.2,781.3h1.2v1.2h-1.2zM518.5,742.9h1.2v1.2h-1.2zM551.9,763.5h1.2v1.2h-1.2zM520.6,769.4h1.2v1.2h-1.2zM528.2,781.7h1.2v1.2h-1.2zM544.8,708.8h1.2v1.2h-1.2zM518.0,733.5h1.2v1.2h-1.2zM541.2,789.5h1.2v1.2h-1.2zM541.3,698.6h1.2v1.2h-1.2zM563.2,713.3h1.2v1.2h-1.2zM556.1,794.0h1.2v1.2h-1.2zM530.7,708.3h1.2v1.2h-1.2zM522.8,737.0h1.2v1.2h-1.2zM540.5,721.0h1.2v1.2h-1.2zM536.3,709.5h1.2v1.2h-1.2zM538.1,705.4h1.2v1.2h-1.2zM542.8,752.4h1.2v1.2h-1.2zM548.2,745.9h1.2v1.2h-1.2zM561.4,803.3h1.2v1.2h-1.2zM526.7,718.5h1.2v1.2h-1.2zM537.6,755.9h1.2v1.2h-1.2zM525.6,775.9h1.2v1.2h-1.2zM565.2,710.9h1.2v1.2h-1.2zM554.3,740.2h1.2v1.2h-1.2zM519.7,695.7h1.2v1.2h-1.2zM545.4,699.1h1.2v1.2h-1.2zM556.4,696.1h1.2v1.2h-1.2zM519.4,707.0h1.2v1.2h-1.2zM564.5,701.9h1.2v1.2h-1.2zM565.5,768.9h1.2v1.2h-1.2zM550.5,725.7h1.2v1.2h-1.2zM528.4,787.8h1.2v1.2h-1.2zM553.5,691.9h1.2v1.2h-1.2zM541.3,799.5h1.2v1.2h-1.2zM525.3,777.0h1.2v1.2h-1.2zM546.6,767.8h1.2v1.2h-1.2zM525.9,744.4h1.2v1.2h-1.2zM559.0,786.8h1.2v1.2h-1.2zM553.9,753.3h1.2v1.2h-1.2zM529.2,761.2h1.2v1.2h-1.2zM534.1,787.5h1.2v1.2h-1.2zM564.3,714.0h1.2v1.2h-1.2zM545.7,767.8h1.2v1.2h-1.2zM544.4,719.7h1.2v1.2h-1.2zM548.5,686.4h1.2v1.2h-1.2zM542.6,768.8h1.2v1.2h-1.2zM538.3,793.5h1.2v1.2h-1.2zM536.2,759.8h1.2v1.2h-1.2zM530.9,735.4h1.2v1.2h-1.2zM549.9,756.1h1.2v1.2h-1.2zM518.2,792.3h1.2v1.2h-1.2zM540.6,687.3h1.2v1.2h-1.2zM559.6,749.5h1.2v1.2h-1.2zM533.1,737.9h1.2v1.2h-1.2zM526.4,754.0h1.2v1.2h-1.2zM524.7,733.9h1.2v1.2h-1.2zM521.3,736.2h1.2v1.2h-1.2zM539.0,750.3h1.2v1.2h-1.2zM523.4,696.5h1.2v1.2h-1.2zM530.9,789.6h1.2v1.2h-1.2zM546.7,712.7h1.2v1.2h-1.2zM551.7,786.7h1.2v1.2h-1.2zM529.2,709.9h1.2v1.2h-1.2zM549.7,774.4h1.2v1.2h-1.2zM521.6,777.7h1.2v1.2h-1.2zM525.4,712.1h1.2v1.2h-1.2zM536.1,760.1h1.2v1.2h-1.2zM524.2,706.3h1.2v1.2h-1.2zM519.4,724.5h1.2v1.2h-1.2zM538.2,749.6h1.2v1.2h-1.2zM529.2,756.0h1.2v1.2h-1.2zM519.3,768.4h1.2v1.2h-1.2zM560.1,689.4h1.2v1.2h-1.2zM549.1,695.0h1.2v1.2h-1.2zM558.3,711.0h1.2v1.2h-1.2zM558.6,763.1h1.2v1.2h-1.2zM558.9,767.5h1.2v1.2h-1.2zM533.8,735.0h1.2v1.2h-1.2zM554.1,774.0h1.2v1.2h-1.2zM541.8,751.9h1.2v1.2h-1.2zM544.4,761.6h1.2v1.2h-1.2zM533.1,763.3h1.2v1.2h-1.2zM543.6,773.4h1.2v1.2h-1.2zM551.7,740.4h1.2v1.2h-1.2zM564.4,723.5h1.2v1.2h-1.2zM560.9,742.5h1.2v1.2h-1.2zM546.1,714.4h1.2v1.2h-1.2zM524.7,774.5h1.2v1.2h-1.2zM518.6,725.6h1.2v1.2h-1.2zM562.1,716.1h1.2v1.2h-1.2zM556.4,739.5h1.2v1.2h-1.2zM537.9,708.8h1.2v1.2h-1.2zM561.8,717.4h1.2v1.2h-1.2zM541.7,747.2h1.2v1.2h-1.2zM530.9,727.0h1.2v1.2h-1.2zM538.5,698.8h1.2v1.2h-1.2zM545.1,782.6h1.2v1.2h-1.2zM548.4,802.7h1.2v1.2h-1.2zM552.0,748.4h1.2v1.2h-1.2zM561.6,736.0h1.2v1.2h-1.2zM551.1,768.1h1.2v1.2h-1.2zM543.5,780.8h1.2v1.2h-1.2zM542.7,724.4h1.2v1.2h-1.2zM549.3,736.9h1.2v1.2h-1.2zM531.4,738.6h1.2v1.2h-1.2zM544.8,767.4h1.2v1.2h-1.2zM558.2,718.4h1.2v1.2h-1.2zM563.6,785.8h1.2v1.2h-1.2zM543.3,679.9h1.2v1.2h-1.2zM546.9,710.1h1.2v1.2h-1.2zM527.3,754.0h1.2v1.2h-1.2zM524.3,748.2h1.2v1.2h-1.2zM535.7,712.6h1.2v1.2h-1.2zM541.9,703.8h1.2v1.2h-1.2zM522.3,709.1h1.2v1.2h-1.2zM557.1,701.0h1.2v1.2h-1.2zM536.6,711.7h1.2v1.2h-1.2zM559.1,761.7h1.2v1.2h-1.2zM522.6,696.8h1.2v1.2h-1.2zM552.8,712.5h1.2v1.2h-1.2zM529.3,744.0h1.2v1.2h-1.2zM564.1,703.3h1.2v1.2h-1.2zM560.3,725.9h1.2v1.2h-1.2zM536.5,717.3h1.2v1.2h-1.2zM564.5,738.4h1.2v1.2h-1.2zM558.5,712.2h1.2v1.2h-1.2zM558.4,705.7h1.2v1.2h-1.2zM563.2,711.3h1.2v1.2h-1.2zM542.7,788.4h1.2v1.2h-1.2zM526.9,734.2h1.2v1.2h-1.2zM518.6,724.2h1.2v1.2h-1.2zM526.5,754.6h1.2v1.2h-1.2zM529.3,783.3h1.2v1.2h-1.2zM555.1,745.1h1.2v1.2h-1.2zM524.7,787.6h1.2v1.2h-1.2zM556.6,702.9h1.2v1.2h-1.2zM532.0,717.2h1.2v1.2h-1.2zM523.7,724.8h1.2v1.2h-1.2zM541.1,714.8h1.2v1.2h-1.2zM522.6,768.4h1.2v1.2h-1.2zM523.6,768.4h1.2v1.2h-1.2zM519.1,720.9h1.2v1.2h-1.2zM520.7,738.4h1.2v1.2h-1.2zM550.2,758.2h1.2v1.2h-1.2zM561.4,735.4h1.2v1.2h-1.2zM552.3,784.0h1.2v1.2h-1.2zM538.8,783.4h1.2v1.2h-1.2zM521.9,723.4h1.2v1.2h-1.2zM566.2,772.0h1.2v1.2h-1.2zM560.1,715.1h1.2v1.2h-1.2zM525.3,710.6h1.2v1.2h-1.2zM525.7,715.6h1.2v1.2h-1.2zM550.8,792.6h1.2v1.2h-1.2zM555.2,745.6h1.2v1.2h-1.2zM528.7,743.1h1.2v1.2h-1.2zM557.9,729.0h1.2v1.2h-1.2zM546.2,723.9h1.2v1.2h-1.2zM551.6,689.5h1.2v1.2h-1.2zM528.3,735.9h1.2v1.2h-1.2zM524.8,703.7h1.2v1.2h-1.2zM541.2,751.3h1.2v1.2h-1.2zM551.0,742.5h1.2v1.2h-1.2zM544.3,710.6h1.2v1.2h-1.2zM526.3,729.2h1.2v1.2h-1.2zM538.8,725.5h1.2v1.2h-1.2zM521.4,769.4h1.2v1.2h-1.2zM560.8,764.7h1.2v1.2h-1.2zM532.3,750.6h1.2v1.2h-1.2zM561.0,725.9h1.2v1.2h-1.2zM559.3,741.5h1.2v1.2h-1.2zM526.1,744.5h1.2v1.2h-1.2zM548.0,720.7h1.2v1.2h-1.2zM530.9,736.4h1.2v1.2h-1.2zM538.6,709.9h1.2v1.2h-1.2zM551.8,723.5h1.2v1.2h-1.2zM530.5,713.3h1.2v1.2h-1.2zM522.8,715.0h1.2v1.2h-1.2zM533.6,729.6h1.2v1.2h-1.2zM563.8,711.6h1.2v1.2h-1.2zM533.9,741.0h1.2v1.2h-1.2zM541.2,767.1h1.2v1.2h-1.2zM522.7,717.4h1.2v1.2h-1.2zM531.8,703.8h1.2v1.2h-1.2zM532.3,723.3h1.2v1.2h-1.2zM547.7,720.3h1.2v1.2h-1.2zM518.9,727.7h1.2v1.2h-1.2zM522.9,729.3h1.2v1.2h-1.2zM558.0,751.1h1.2v1.2h-1.2zM552.5,775.5h1.2v1.2h-1.2zM540.4,732.0h1.2v1.2h-1.2zM559.1,755.0h1.2v1.2h-1.2zM564.5,712.5h1.2v1.2h-1.2zM537.5,729.0h1.2v1.2h-1.2zM535.6,714.6h1.2v1.2h-1.2zM527.6,703.3h1.2v1.2h-1.2zM524.2,735.4h1.2v1.2h-1.2zM541.5,771.0h1.2v1.2h-1.2zM557.1,706.8h1.2v1.2h-1.2zM551.9,771.0h1.2v1.2h-1.2zM525.5,716.8h1.2v1.2h-1.2zM557.0,704.4h1.2v1.2h-1.2zM559.3,741.0h1.2v1.2h-1.2zM554.4,776.8h1.2v1.2h-1.2zM531.0,712.0h1.2v1.2h-1.2zM529.4,726.6h1.2v1.2h-1.2zM535.6,737.2h1.2v1.2h-1.2zM533.0,779.8h1.2v1.2h-1.2zM550.4,741.2h1.2v1.2h-1.2zM539.1,749.7h1.2v1.2h-1.2zM524.7,759.3h1.2v1.2h-1.2zM520.8,748.4h1.2v1.2h-1.2zM536.4,758.3h1.2v1.2h-1.2zM541.1,723.9h1.2v1.2h-1.2zM526.3,729.1h1.2v1.2h-1.2zM565.9,785.3h1.2v1.2h-1.2zM546.4,742.3h1.2v1.2h-1.2zM539.9,747.6h1.2v1.2h-1.2zM551.5,715.8h1.2v1.2h-1.2zM532.2,711.4h1.2v1.2h-1.2zM544.2,727.9h1.2v1.2h-1.2zM523.8,766.6h1.2v1.2h-1.2zM525.8,723.9h1.2v1.2h-1.2zM547.6,737.0h1.2v1.2h-1.2zM530.4,698.7h1.2v1.2h-1.2zM537.4,757.1h1.2v1.2h-1.2zM563.5,725.4h1.2v1.2h-1.2zM554.7,762.0h1.2v1.2h-1.2zM518.2,748.0h1.2v1.2h-1.2zM543.0,721.2h1.2v1.2h-1.2zM538.2,739.7h1.2v1.2h-1.2zM540.0,748.7h1.2v1.2h-1.2zM521.8,755.0h1.2v1.2h-1.2zM563.6,734.0h1.2v1.2h-1.2zM552.2,700.5h1.2v1.2h-1.2zM532.7,740.3h1.2v1.2h-1.2zM546.2,710.3h1.2v1.2h-1.2zM539.7,756.9h1.2v1.2h-1.2zM557.6,740.1h1.2v1.2h-1.2zM564.7,755.8h1.2v1.2h-1.2zM527.6,706.8h1.2v1.2h-1.2zM563.9,729.3h1.2v1.2h-1.2zM544.4,753.9h1.2v1.2h-1.2zM543.2,762.8h1.2v1.2h-1.2zM553.8,797.6h1.2v1.2h-1.2zM523.8,711.1h1.2v1.2h-1.2zM560.4,733.0h1.2v1.2h-1.2zM518.4,727.8h1.2v1.2h-1.2zM549.3,702.0h1.2v1.2h-1.2zM537.0,791.5h1.2v1.2h-1.2zM531.5,713.6h1.2v1.2h-1.2zM558.6,684.5h1.2v1.2h-1.2zM528.0,747.8h1.2v1.2h-1.2zM526.8,699.6h1.2v1.2h-1.2zM550.6,734.4h1.2v1.2h-1.2zM549.7,703.6h1.2v1.2h-1.2zM544.9,780.4h1.2v1.2h-1.2zM563.2,801.4h1.2v1.2h-1.2zM551.0,721.2h1.2v1.2h-1.2zM536.4,729.6h1.2v1.2h-1.2zM549.5,691.9h1.2v1.2h-1.2zM554.4,749.6h1.2v1.2h-1.2zM517.9,718.3h1.2v1.2h-1.2zM559.6,760.3h1.2v1.2h-1.2zM541.7,741.2h1.2v1.2h-1.2zM527.7,722.8h1.2v1.2h-1.2zM557.4,716.4h1.2v1.2h-1.2zM520.8,686.3h1.2v1.2h-1.2zM529.1,768.1h1.2v1.2h-1.2zM527.3,722.2h1.2v1.2h-1.2zM554.0,729.0h1.2v1.2h-1.2zM528.9,688.7h1.2v1.2h-1.2zM519.6,717.9h1.2v1.2h-1.2zM528.0,708.1h1.2v1.2h-1.2zM521.0,723.5h1.2v1.2h-1.2zM527.0,693.8h1.2v1.2h-1.2zM562.4,778.3h1.2v1.2h-1.2zM547.1,705.4h1.2v1.2h-1.2zM544.3,720.2h1.2v1.2h-1.2zM562.8,714.4h1.2v1.2h-1.2zM522.6,726.6h1.2v1.2h-1.2zM535.0,724.3h1.2v1.2h-1.2zM521.3,736.5h1.2v1.2h-1.2zM553.7,716.4h1.2v1.2h-1.2zM537.3,768.5h1.2v1.2h-1.2zM545.5,753.9h1.2v1.2h-1.2zM561.8,748.7h1.2v1.2h-1.2zM561.4,726.2h1.2v1.2h-1.2zM545.2,759.3h1.2v1.2h-1.2zM522.4,739.2h1.2v1.2h-1.2zM517.9,716.1h1.2v1.2h-1.2zM545.5,756.4h1.2v1.2h-1.2zM546.5,708.8h1.2v1.2h-1.2zM532.1,755.7h1.2v1.2h-1.2zM554.4,760.0h1.2v1.2h-1.2zM521.5,738.6h1.2v1.2h-1.2zM548.9,688.1h1.2v1.2h-1.2zM559.5,766.6h1.2v1.2h-1.2zM528.7,722.9h1.2v1.2h-1.2zM562.1,716.8h1.2v1.2h-1.2zM545.6,738.8h1.2v1.2h-1.2zM538.3,700.1h1.2v1.2h-1.2zM541.4,713.1h1.2v1.2h-1.2zM560.8,783.2h1.2v1.2h-1.2zM518.9,752.8h1.2v1.2h-1.2zM533.5,718.1h1.2v1.2h-1.2zM559.7,756.6h1.2v1.2h-1.2zM564.9,726.0h1.2v1.2h-1.2zM544.3,736.1h1.2v1.2h-1.2zM528.7,744.1h1.2v1.2h-1.2zM553.4,725.2h1.2v1.2h-1.2zM541.3,794.8h1.2v1.2h-1.2zM531.1,750.0h1.2v1.2h-1.2zM559.6,702.5h1.2v1.2h-1.2zM562.0,743.4h1.2v1.2h-1.2zM528.0,725.8h1.2v1.2h-1.2zM525.1,706.9h1.2v1.2h-1.2zM522.1,701.9h1.2v1.2h-1.2zM563.6,694.8h1.2v1.2h-1.2zM538.9,741.5h1.2v1.2h-1.2zM530.5,723.2h1.2v1.2h-1.2zM554.3,780.3h1.2v1.2h-1.2zM531.1,772.8h1.2v1.2h-1.2zM555.1,706.3h1.2v1.2h-1.2zM549.6,742.7h1.2v1.2h-1.2zM533.4,782.9h1.2v1.2h-1.2zM523.1,734.3h1.2v1.2h-1.2zM532.0,791.0h1.2v1.2h-1.2zM546.2,750.0h1.2v1.2h-1.2zM528.0,782.8h1.2v1.2h-1.2zM552.0,774.2h1.2v1.2h-1.2zM526.9,784.4h1.2v1.2h-1.2zM563.3,767.5h1.2v1.2h-1.2zM530.6,766.6h1.2v1.2h-1.2zM560.8,717.0h1.2v1.2h-1.2zM521.4,774.4h1.2v1.2h-1.2zM524.7,736.9h1.2v1.2h-1.2zM522.5,743.2h1.2v1.2h-1.2zM559.9,748.9h1.2v1.2h-1.2zM524.7,704.5h1.2v1.2h-1.2zM550.1,746.9h1.2v1.2h-1.2zM534.0,741.8h1.2v1.2h-1.2zM562.9,707.7h1.2v1.2h-1.2zM556.0,708.0h1.2v1.2h-1.2zM541.4,721.7h1.2v1.2h-1.2zM565.0,763.1h1.2v1.2h-1.2zM544.4,742.1h1.2v1.2h-1.2zM529.8,734.7h1.2v1.2h-1.2zM547.2,722.7h1.2v1.2h-1.2zM524.6,706.0h1.2v1.2h-1.2zM532.1,750.5h1.2v1.2h-1.2zM566.3,768.4h1.2v1.2h-1.2zM517.7,703.4h1.2v1.2h-1.2zM554.7,776.8h1.2v1.2h-1.2zM550.9,753.4h1.2v1.2h-1.2zM563.4,752.5h1.2v1.2h-1.2zM559.0,769.5h1.2v1.2h-1.2zM556.3,722.0h1.2v1.2h-1.2zM564.2,704.1h1.2v1.2h-1.2zM533.9,771.4h1.2v1.2h-1.2zM541.4,737.2h1.2v1.2h-1.2zM524.1,761.2h1.2v1.2h-1.2zM521.7,714.8h1.2v1.2h-1.2zM535.4,762.8h1.2v1.2h-1.2zM532.9,717.0h1.2v1.2h-1.2zM546.7,756.5h1.2v1.2h-1.2zM522.0,708.9h1.2v1.2h-1.2zM535.9,724.0h1.2v1.2h-1.2zM534.4,777.0h1.2v1.2h-1.2zM523.2,772.6h1.2v1.2h-1.2zM554.9,746.0h1.2v1.2h-1.2zM531.7,736.3h1.2v1.2h-1.2zM553.4,711.3h1.2v1.2h-1.2zM554.9,772.2h1.2v1.2h-1.2zM564.0,715.3h1.2v1.2h-1.2zM558.3,743.4h1.2v1.2h-1.2zM560.9,752.1h1.2v1.2h-1.2zM558.5,694.9h1.2v1.2h-1.2zM539.8,702.8h1.2v1.2h-1.2zM547.5,721.2h1.2v1.2h-1.2zM521.7,712.7h1.2v1.2h-1.2zM532.3,709.1h1.2v1.2h-1.2zM548.9,708.5h1.2v1.2h-1.2zM564.0,737.0h1.2v1.2h-1.2zM527.1,717.6h1.2v1.2h-1.2zM539.5,781.1h1.2v1.2h-1.2zM541.8,706.4h1.2v1.2h-1.2zM554.9,713.2h1.2v1.2h-1.2zM566.3,793.9h1.2v1.2h-1.2zM552.7,722.4h1.2v1.2h-1.2zM560.8,722.6h1.2v1.2h-1.2zM560.5,686.6h1.2v1.2h-1.2zM537.4,772.1h1.2v1.2h-1.2zM519.2,739.9h1.2v1.2h-1.2zM539.5,703.3h1.2v1.2h-1.2zM524.4,703.0h1.2v1.2h-1.2zM559.8,707.7h1.2v1.2h-1.2zM553.1,750.6h1.2v1.2h-1.2zM545.4,730.9h1.2v1.2h-1.2zM545.9,770.6h1.2v1.2h-1.2zM549.5,739.9h1.2v1.2h-1.2zM533.4,740.1h1.2v1.2h-1.2zM530.8,703.8h1.2v1.2h-1.2zM549.5,734.6h1.2v1.2h-1.2zM554.3,735.7h1.2v1.2h-1.2zM518.4,717.1h1.2v1.2h-1.2zM523.1,756.7h1.2v1.2h-1.2zM530.8,698.7h1.2v1.2h-1.2zM537.9,710.5h1.2v1.2h-1.2zM518.5,767.8h1.2v1.2h-1.2zM531.8,739.1h1.2v1.2h-1.2zM555.8,800.7h1.2v1.2h-1.2zM525.2,763.1h1.2v1.2h-1.2zM533.9,735.2h1.2v1.2h-1.2zM539.4,741.7h1.2v1.2h-1.2zM528.0,755.6h1.2v1.2h-1.2zM536.5,792.6h1.2v1.2h-1.2zM557.8,696.2h1.2v1.2h-1.2zM535.9,733.9h1.2v1.2h-1.2zM543.3,730.1h1.2v1.2h-1.2zM549.6,696.3h1.2v1.2h-1.2zM536.3,698.9h1.2v1.2h-1.2zM523.9,759.0h1.2v1.2h-1.2zM561.4,742.8h1.2v1.2h-1.2zM542.7,717.8h1.2v1.2h-1.2zM552.2,727.3h1.2v1.2h-1.2zM556.6,727.9h1.2v1.2h-1.2zM544.2,690.7h1.2v1.2h-1.2zM560.6,801.3h1.2v1.2h-1.2zM563.9,709.0h1.2v1.2h-1.2zM525.8,749.9h1.2v1.2h-1.2zM525.3,720.2h1.2v1.2h-1.2zM561.7,728.5h1.2v1.2h-1.2zM540.9,778.9h1.2v1.2h-1.2zM548.1,754.9h1.2v1.2h-1.2zM564.3,751.2h1.2v1.2h-1.2zM532.1,730.9h1.2v1.2h-1.2zM527.5,709.5h1.2v1.2h-1.2zM519.6,713.6h1.2v1.2h-1.2zM536.5,710.6h1.2v1.2h-1.2zM554.6,715.2h1.2v1.2h-1.2zM522.2,714.5h1.2v1.2h-1.2zM564.5,773.8h1.2v1.2h-1.2zM548.9,701.6h1.2v1.2h-1.2zM525.4,798.1h1.2v1.2h-1.2zM537.0,712.4h1.2v1.2h-1.2zM566.4,774.0h1.2v1.2h-1.2zM546.6,697.4h1.2v1.2h-1.2zM553.2,738.6h1.2v1.2h-1.2zM542.1,762.8h1.2v1.2h-1.2zM524.8,717.5h1.2v1.2h-1.2zM560.2,735.8h1.2v1.2h-1.2zM522.9,731.7h1.2v1.2h-1.2zM527.1,758.0h1.2v1.2h-1.2zM562.3,746.0h1.2v1.2h-1.2zM526.2,747.4h1.2v1.2h-1.2zM544.7,774.8h1.2v1.2h-1.2zM558.3,744.5h1.2v1.2h-1.2zM525.0,726.1h1.2v1.2h-1.2zM551.5,741.5h1.2v1.2h-1.2zM550.7,775.9h1.2v1.2h-1.2zM547.0,728.0h1.2v1.2h-1.2zM527.0,765.8h1.2v1.2h-1.2zM551.2,697.0h1.2v1.2h-1.2zM537.7,714.9h1.2v1.2h-1.2zM559.6,736.8h1.2v1.2h-1.2zM541.6,751.0h1.2v1.2h-1.2zM536.7,704.8h1.2v1.2h-1.2zM529.8,758.4h1.2v1.2h-1.2zM542.4,745.3h1.2v1.2h-1.2zM545.1,717.0h1.2v1.2h-1.2zM543.2,699.5h1.2v1.2h-1.2zM538.8,748.7h1.2v1.2h-1.2zM542.4,728.5h1.2v1.2h-1.2zM546.3,697.7h1.2v1.2h-1.2zM560.8,729.4h1.2v1.2h-1.2zM528.7,801.9h1.2v1.2h-1.2zM542.7,791.6h1.2v1.2h-1.2zM547.3,695.3h1.2v1.2h-1.2zM551.0,767.6h1.2v1.2h-1.2zM551.5,733.6h1.2v1.2h-1.2zM532.9,781.9h1.2v1.2h-1.2zM560.4,756.1h1.2v1.2h-1.2zM526.9,763.4h1.2v1.2h-1.2zM536.7,758.3h1.2v1.2h-1.2zM531.8,740.0h1.2v1.2h-1.2zM541.3,736.0h1.2v1.2h-1.2zM531.8,738.8h1.2v1.2h-1.2zM548.3,704.4h1.2v1.2h-1.2zM541.3,751.1h1.2v1.2h-1.2zM547.2,701.5h1.2v1.2h-1.2zM561.8,755.5h1.2v1.2h-1.2zM533.2,757.7h1.2v1.2h-1.2zM560.5,706.3h1.2v1.2h-1.2zM547.0,694.7h1.2v1.2h-1.2zM524.4,721.7h1.2v1.2h-1.2zM532.5,694.6h1.2v1.2h-1.2zM524.1,749.9h1.2v1.2h-1.2zM526.9,716.0h1.2v1.2h-1.2zM528.2,742.3h1.2v1.2h-1.2zM560.8,769.2h1.2v1.2h-1.2zM531.4,757.1h1.2v1.2h-1.2zM558.0,722.8h1.2v1.2h-1.2zM537.2,754.7h1.2v1.2h-1.2zM530.8,742.8h1.2v1.2h-1.2zM525.1,734.0h1.2v1.2h-1.2zM556.6,723.0h1.2v1.2h-1.2zM555.5,774.3h1.2v1.2h-1.2zM526.4,736.6h1.2v1.2h-1.2zM537.7,739.2h1.2v1.2h-1.2zM519.5,733.3h1.2v1.2h-1.2zM563.8,720.4h1.2v1.2h-1.2zM531.6,713.8h1.2v1.2h-1.2zM519.4,723.6h1.2v1.2h-1.2zM564.6,731.7h1.2v1.2h-1.2zM526.1,792.0h1.2v1.2h-1.2zM544.5,699.4h1.2v1.2h-1.2zM558.2,754.5h1.2v1.2h-1.2zM526.0,751.3h1.2v1.2h-1.2zM530.3,705.6h1.2v1.2h-1.2zM555.4,743.7h1.2v1.2h-1.2zM553.1,770.6h1.2v1.2h-1.2zM521.7,762.2h1.2v1.2h-1.2zM563.4,750.1h1.2v1.2h-1.2zM562.5,771.7h1.2v1.2h-1.2zM535.0,706.4h1.2v1.2h-1.2zM564.7,761.2h1.2v1.2h-1.2zM558.8,739.7h1.2v1.2h-1.2zM564.2,708.8h1.2v1.2h-1.2zM535.9,713.3h1.2v1.2h-1.2zM527.2,735.6h1.2v1.2h-1.2zM542.4,732.6h1.2v1.2h-1.2zM564.7,760.6h1.2v1.2h-1.2zM560.8,754.6h1.2v1.2h-1.2zM544.1,787.7h1.2v1.2h-1.2zM541.6,697.1h1.2v1.2h-1.2zM528.3,737.0h1.2v1.2h-1.2zM520.8,775.2h1.2v1.2h-1.2zM547.8,735.0h1.2v1.2h-1.2zM535.8,727.3h1.2v1.2h-1.2zM551.3,739.9h1.2v1.2h-1.2zM525.6,698.4h1.2v1.2h-1.2zM536.9,744.0h1.2v1.2h-1.2zM543.2,726.5h1.2v1.2h-1.2zM518.6,732.0h1.2v1.2h-1.2zM531.4,703.8h1.2v1.2h-1.2zM540.6,795.1h1.2v1.2h-1.2zM555.8,764.9h1.2v1.2h-1.2zM534.1,706.2h1.2v1.2h-1.2zM536.7,752.6h1.2v1.2h-1.2zM562.2,713.5h1.2v1.2h-1.2zM538.7,755.9h1.2v1.2h-1.2zM532.5,749.2h1.2v1.2h-1.2zM526.6,705.8h1.2v1.2h-1.2zM542.1,707.7h1.2v1.2h-1.2zM563.7,728.0h1.2v1.2h-1.2zM519.1,754.0h1.2v1.2h-1.2zM560.6,752.1h1.2v1.2h-1.2zM542.4,751.9h1.2v1.2h-1.2zM556.1,781.7h1.2v1.2h-1.2zM538.4,702.6h1.2v1.2h-1.2zM538.1,732.6h1.2v1.2h-1.2zM561.0,703.7h1.2v1.2h-1.2zM521.0,727.7h1.2v1.2h-1.2zM553.9,744.3h1.2v1.2h-1.2zM566.5,770.2h1.2v1.2h-1.2zM533.7,685.0h1.2v1.2h-1.2zM520.6,712.1h1.2v1.2h-1.2zM559.6,750.0h1.2v1.2h-1.2zM545.9,803.7h1.2v1.2h-1.2zM545.3,755.7h1.2v1.2h-1.2zM530.4,723.0h1.2v1.2h-1.2zM536.4,752.2h1.2v1.2h-1.2zM545.6,710.4h1.2v1.2h-1.2zM531.1,690.9h1.2v1.2h-1.2zM532.4,743.1h1.2v1.2h-1.2zM546.7,691.7h1.2v1.2h-1.2zM548.6,707.2h1.2v1.2h-1.2zM523.4,739.4h1.2v1.2h-1.2zM525.6,756.3h1.2v1.2h-1.2zM543.3,704.5h1.2v1.2h-1.2zM562.3,696.6h1.2v1.2h-1.2zM535.8,739.0h1.2v1.2h-1.2zM532.8,761.4h1.2v1.2h-1.2zM532.0,744.5h1.2v1.2h-1.2zM557.5,721.0h1.2v1.2h-1.2zM532.0,768.0h1.2v1.2h-1.2zM544.8,750.8h1.2v1.2h-1.2zM535.4,753.5h1.2v1.2h-1.2zM522.5,759.4h1.2v1.2h-1.2zM548.2,730.6h1.2v1.2h-1.2zM566.0,724.0h1.2v1.2h-1.2zM546.0,735.4h1.2v1.2h-1.2zM564.2,733.7h1.2v1.2h-1.2zM541.8,767.9h1.2v1.2h-1.2zM564.8,700.9h1.2v1.2h-1.2zM542.2,749.1h1.2v1.2h-1.2zM564.1,728.5h1.2v1.2h-1.2zM540.3,759.9h1.2v1.2h-1.2zM530.0,756.1h1.2v1.2h-1.2zM526.3,757.4h1.2v1.2h-1.2zM526.8,718.0h1.2v1.2h-1.2zM522.6,789.3h1.2v1.2h-1.2zM527.5,726.7h1.2v1.2h-1.2zM544.3,692.5h1.2v1.2h-1.2zM537.3,752.9h1.2v1.2h-1.2zM539.5,802.6h1.2v1.2h-1.2zM564.6,762.8h1.2v1.2h-1.2zM539.7,749.1h1.2v1.2h-1.2zM541.9,767.8h1.2v1.2h-1.2zM533.2,746.7h1.2v1.2h-1.2zM549.5,697.9h1.2v1.2h-1.2zM551.1,735.6h1.2v1.2h-1.2zM548.7,694.4h1.2v1.2h-1.2zM541.0,706.4h1.2v1.2h-1.2zM532.7,754.6h1.2v1.2h-1.2zM542.0,784.4h1.2v1.2h-1.2zM563.9,699.5h1.2v1.2h-1.2zM525.7,741.2h1.2v1.2h-1.2zM527.5,711.1h1.2v1.2h-1.2zM531.8,732.6h1.2v1.2h-1.2zM519.8,784.7h1.2v1.2h-1.2zM533.2,746.1h1.2v1.2h-1.2zM537.3,733.0h1.2v1.2h-1.2zM559.6,722.0h1.2v1.2h-1.2zM552.9,788.2h1.2v1.2h-1.2zM540.2,709.2h1.2v1.2h-1.2zM549.2,728.8h1.2v1.2h-1.2zM558.9,731.6h1.2v1.2h-1.2zM534.5,713.9h1.2v1.2h-1.2zM564.4,793.8h1.2v1.2h-1.2zM555.9,762.4h1.2v1.2h-1.2zM524.6,737.0h1.2v1.2h-1.2zM552.1,774.2h1.2v1.2h-1.2zM520.5,745.4h1.2v1.2h-1.2zM544.7,719.4h1.2v1.2h-1.2zM554.3,715.6h1.2v1.2h-1.2zM545.3,704.6h1.2v1.2h-1.2zM517.8,724.5h1.2v1.2h-1.2zM518.4,735.5h1.2v1.2h-1.2zM528.6,750.2h1.2v1.2h-1.2zM518.0,698.5h1.2v1.2h-1.2zM550.6,724.1h1.2v1.2h-1.2zM545.2,712.3h1.2v1.2h-1.2zM521.0,722.6h1.2v1.2h-1.2zM532.2,731.1h1.2v1.2h-1.2zM531.3,767.2h1.2v1.2h-1.2zM548.9,738.9h1.2v1.2h-1.2zM552.1,692.1h1.2v1.2h-1.2zM525.5,760.4h1.2v1.2h-1.2zM543.9,765.3h1.2v1.2h-1.2zM524.9,732.1h1.2v1.2h-1.2zM545.1,761.5h1.2v1.2h-1.2zM527.5,703.2h1.2v1.2h-1.2zM557.8,712.7h1.2v1.2h-1.2zM544.1,733.8h1.2v1.2h-1.2zM519.4,703.6h1.2v1.2h-1.2zM565.8,723.4h1.2v1.2h-1.2zM533.0,722.6h1.2v1.2h-1.2zM555.8,730.3h1.2v1.2h-1.2zM559.8,723.3h1.2v1.2h-1.2zM549.3,742.0h1.2v1.2h-1.2zM532.3,749.2h1.2v1.2h-1.2zM560.8,719.5h1.2v1.2h-1.2zM554.7,731.8h1.2v1.2h-1.2zM558.6,763.0h1.2v1.2h-1.2zM536.2,717.9h1.2v1.2h-1.2zM561.1,699.5h1.2v1.2h-1.2zM536.3,696.2h1.2v1.2h-1.2zM521.7,762.1h1.2v1.2h-1.2zM556.3,744.4h1.2v1.2h-1.2zM547.9,734.1h1.2v1.2h-1.2zM528.0,775.6h1.2v1.2h-1.2zM532.3,713.8h1.2v1.2h-1.2zM533.5,747.9h1.2v1.2h-1.2zM518.8,739.9h1.2v1.2h-1.2zM534.1,704.3h1.2v1.2h-1.2zM542.1,731.6h1.2v1.2h-1.2zM544.9,760.5h1.2v1.2h-1.2zM545.1,734.0h1.2v1.2h-1.2zM564.0,708.2h1.2v1.2h-1.2zM528.2,752.1h1.2v1.2h-1.2zM566.3,698.5h1.2v1.2h-1.2zM535.3,698.9h1.2v1.2h-1.2zM523.8,708.1h1.2v1.2h-1.2zM548.5,732.3h1.2v1.2h-1.2zM558.0,732.5h1.2v1.2h-1.2zM527.3,773.1h1.2v1.2h-1.2zM565.9,736.7h1.2v1.2h-1.2zM548.3,729.0h1.2v1.2h-1.2zM543.9,704.6h1.2v1.2h-1.2zM561.4,769.6h1.2v1.2h-1.2zM560.3,712.6h1.2v1.2h-1.2zM557.4,692.0h1.2v1.2h-1.2zM545.3,761.2h1.2v1.2h-1.2zM559.6,741.5h1.2v1.2h-1.2zM556.7,755.4h1.2v1.2h-1.2zM558.4,755.5h1.2v1.2h-1.2zM546.9,739.8h1.2v1.2h-1.2zM525.1,698.5h1.2v1.2h-1.2zM524.5,684.9h1.2v1.2h-1.2zM553.8,726.4h1.2v1.2h-1.2zM546.1,694.9h1.2v1.2h-1.2zM558.8,726.5h1.2v1.2h-1.2zM534.2,788.6h1.2v1.2h-1.2zM532.8,723.7h1.2v1.2h-1.2zM565.2,717.0h1.2v1.2h-1.2zM547.6,761.0h1.2v1.2h-1.2zM529.1,699.7h1.2v1.2h-1.2zM563.9,793.3h1.2v1.2h-1.2zM551.6,763.2h1.2v1.2h-1.2zM530.1,761.8h1.2v1.2h-1.2zM562.3,735.3h1.2v1.2h-1.2zM545.6,721.2h1.2v1.2h-1.2zM538.5,697.7h1.2v1.2h-1.2zM548.0,700.5h1.2v1.2h-1.2zM548.8,720.7h1.2v1.2h-1.2zM529.3,770.9h1.2v1.2h-1.2zM525.2,730.3h1.2v1.2h-1.2zM524.5,703.4h1.2v1.2h-1.2zM562.0,737.7h1.2v1.2h-1.2zM561.7,689.0h1.2v1.2h-1.2zM519.8,752.0h1.2v1.2h-1.2zM555.9,788.0h1.2v1.2h-1.2zM554.1,748.6h1.2v1.2h-1.2zM541.1,746.6h1.2v1.2h-1.2zM557.7,748.5h1.2v1.2h-1.2zM544.3,768.8h1.2v1.2h-1.2zM546.6,699.1h1.2v1.2h-1.2zM560.2,689.1h1.2v1.2h-1.2zM561.2,720.9h1.2v1.2h-1.2zM527.6,747.8h1.2v1.2h-1.2zM562.6,796.6h1.2v1.2h-1.2zM563.1,756.8h1.2v1.2h-1.2zM556.4,736.3h1.2v1.2h-1.2zM543.1,750.1h1.2v1.2h-1.2zM545.3,715.4h1.2v1.2h-1.2zM541.1,755.5h1.2v1.2h-1.2zM565.2,694.8h1.2v1.2h-1.2zM522.1,772.3h1.2v1.2h-1.2zM533.4,747.8h1.2v1.2h-1.2zM536.2,737.5h1.2v1.2h-1.2zM558.1,757.1h1.2v1.2h-1.2zM541.2,706.9h1.2v1.2h-1.2zM538.1,695.3h1.2v1.2h-1.2zM551.3,750.4h1.2v1.2h-1.2zM547.4,736.4h1.2v1.2h-1.2zM538.9,748.1h1.2v1.2h-1.2zM520.7,736.5h1.2v1.2h-1.2zM541.9,767.1h1.2v1.2h-1.2zM552.2,715.5h1.2v1.2h-1.2zM531.7,712.6h1.2v1.2h-1.2zM539.5,733.7h1.2v1.2h-1.2zM556.3,746.8h1.2v1.2h-1.2zM534.1,747.3h1.2v1.2h-1.2zM546.0,772.4h1.2v1.2h-1.2zM530.6,734.8h1.2v1.2h-1.2zM534.9,729.2h1.2v1.2h-1.2zM546.6,772.0h1.2v1.2h-1.2zM546.4,724.0h1.2v1.2h-1.2zM559.7,718.8h1.2v1.2h-1.2zM554.1,721.8h1.2v1.2h-1.2zM562.8,701.2h1.2v1.2h-1.2zM548.3,709.2h1.2v1.2h-1.2zM536.1,736.7h1.2v1.2h-1.2zM564.8,742.9h1.2v1.2h-1.2zM533.8,695.4h1.2v1.2h-1.2zM560.8,718.1h1.2v1.2h-1.2zM535.6,726.4h1.2v1.2h-1.2zM540.3,704.8h1.2v1.2h-1.2zM566.2,757.1h1.2v1.2h-1.2zM558.2,726.1h1.2v1.2h-1.2zM546.9,736.2h1.2v1.2h-1.2zM547.0,749.9h1.2v1.2h-1.2zM524.2,730.3h1.2v1.2h-1.2zM559.1,726.6h1.2v1.2h-1.2zM532.0,727.8h1.2v1.2h-1.2zM532.1,738.7h1.2v1.2h-1.2zM556.6,743.6h1.2v1.2h-1.2zM537.8,741.0h1.2v1.2h-1.2zM544.1,737.7h1.2v1.2h-1.2zM559.2,702.6h1.2v1.2h-1.2zM523.9,692.8h1.2v1.2h-1.2zM518.5,717.0h1.2v1.2h-1.2zM534.5,738.8h1.2v1.2h-1.2zM551.5,694.8h1.2v1.2h-1.2zM526.7,720.2h1.2v1.2h-1.2zM528.5,715.6h1.2v1.2h-1.2zM564.1,706.4h1.2v1.2h-1.2zM550.6,717.3h1.2v1.2h-1.2zM549.4,696.4h1.2v1.2h-1.2zM524.5,772.4h1.2v1.2h-1.2zM546.1,696.8h1.2v1.2h-1.2zM545.4,793.1h1.2v1.2h-1.2zM536.2,723.7h1.2v1.2h-1.2zM551.5,742.8h1.2v1.2h-1.2zM565.0,756.5h1.2v1.2h-1.2zM523.9,785.8h1.2v1.2h-1.2zM532.2,794.9h1.2v1.2h-1.2zM527.9,754.5h1.2v1.2h-1.2zM543.4,742.7h1.2v1.2h-1.2zM548.2,740.7h1.2v1.2h-1.2zM538.1,709.3h1.2v1.2h-1.2zM558.0,714.5h1.2v1.2h-1.2zM533.0,701.5h1.2v1.2h-1.2zM565.1,721.4h1.2v1.2h-1.2zM545.9,785.3h1.2v1.2h-1.2zM535.9,740.5h1.2v1.2h-1.2zM525.5,679.9h1.2v1.2h-1.2zM533.8,706.4h1.2v1.2h-1.2zM549.6,711.7h1.2v1.2h-1.2zM563.5,699.0h1.2v1.2h-1.2zM519.8,785.2h1.2v1.2h-1.2zM524.4,755.8h1.2v1.2h-1.2zM529.3,727.4h1.2v1.2h-1.2zM537.9,749.3h1.2v1.2h-1.2zM530.0,774.2h1.2v1.2h-1.2zM540.7,713.0h1.2v1.2h-1.2zM551.0,714.2h1.2v1.2h-1.2zM554.7,766.9h1.2v1.2h-1.2zM548.3,720.9h1.2v1.2h-1.2zM545.9,784.0h1.2v1.2h-1.2zM534.9,757.9h1.2v1.2h-1.2zM557.7,770.8h1.2v1.2h-1.2zM555.4,741.7h1.2v1.2h-1.2zM539.2,757.7h1.2v1.2h-1.2zM543.3,736.5h1.2v1.2h-1.2zM544.9,716.2h1.2v1.2h-1.2zM544.8,724.3h1.2v1.2h-1.2zM551.9,681.8h1.2v1.2h-1.2zM556.9,721.0h1.2v1.2h-1.2zM549.3,749.7h1.2v1.2h-1.2zM541.9,741.0h1.2v1.2h-1.2zM533.1,779.3h1.2v1.2h-1.2zM545.0,711.0h1.2v1.2h-1.2zM526.6,760.6h1.2v1.2h-1.2zM520.4,723.1h1.2v1.2h-1.2zM559.3,688.9h1.2v1.2h-1.2zM555.0,715.1h1.2v1.2h-1.2zM566.6,797.0h1.2v1.2h-1.2zM533.9,722.2h1.2v1.2h-1.2zM545.0,739.7h1.2v1.2h-1.2zM518.0,765.7h1.2v1.2h-1.2zM538.6,695.5h1.2v1.2h-1.2zM518.0,749.0h1.2v1.2h-1.2zM565.4,739.2h1.2v1.2h-1.2zM553.6,732.6h1.2v1.2h-1.2zM537.8,710.9h1.2v1.2h-1.2zM528.7,735.4h1.2v1.2h-1.2zM519.1,703.6h1.2v1.2h-1.2zM545.1,694.1h1.2v1.2h-1.2zM546.8,717.9h1.2v1.2h-1.2zM542.7,697.2h1.2v1.2h-1.2zM531.9,723.6h1.2v1.2h-1.2zM531.0,702.7h1.2v1.2h-1.2zM542.6,749.8h1.2v1.2h-1.2zM521.6,779.4h1.2v1.2h-1.2zM546.9,733.5h1.2v1.2h-1.2zM561.1,721.4h1.2v1.2h-1.2zM549.9,744.3h1.2v1.2h-1.2zM558.8,713.6h1.2v1.2h-1.2zM553.9,772.6h1.2v1.2h-1.2zM537.8,705.5h1.2v1.2h-1.2zM541.6,718.7h1.2v1.2h-1.2zM565.5,716.8h1.2v1.2h-1.2zM521.0,740.6h1.2v1.2h-1.2zM533.7,767.0h1.2v1.2h-1.2zM521.9,736.5h1.2v1.2h-1.2zM556.8,735.3h1.2v1.2h-1.2zM532.7,733.3h1.2v1.2h-1.2zM550.6,709.3h1.2v1.2h-1.2zM543.5,696.4h1.2v1.2h-1.2zM566.5,727.1h1.2v1.2h-1.2zM546.0,737.9h1.2v1.2h-1.2zM523.7,756.6h1.2v1.2h-1.2zM545.7,710.9h1.2v1.2h-1.2zM551.3,734.6h1.2v1.2h-1.2zM552.2,711.4h1.2v1.2h-1.2zM526.2,761.5h1.2v1.2h-1.2zM545.0,738.8h1.2v1.2h-1.2zM564.1,733.5h1.2v1.2h-1.2zM562.5,732.7h1.2v1.2h-1.2zM560.8,704.1h1.2v1.2h-1.2zM538.3,785.3h1.2v1.2h-1.2zM518.8,749.0h1.2v1.2h-1.2zM542.6,749.7h1.2v1.2h-1.2zM549.5,708.1h1.2v1.2h-1.2zM563.5,786.6h1.2v1.2h-1.2zM536.5,712.5h1.2v1.2h-1.2zM517.6,712.9h1.2v1.2h-1.2zM531.2,719.1h1.2v1.2h-1.2zM526.8,739.8h1.2v1.2h-1.2zM534.5,742.3h1.2v1.2h-1.2zM528.7,701.9h1.2v1.2h-1.2zM531.8,749.0h1.2v1.2h-1.2zM527.4,740.7h1.2v1.2h-1.2zM540.1,743.8h1.2v1.2h-1.2zM554.9,697.8h1.2v1.2h-1.2zM540.0,702.3h1.2v1.2h-1.2zM562.4,802.2h1.2v1.2h-1.2zM551.3,799.9h1.2v1.2h-1.2zM543.1,754.0h1.2v1.2h-1.2zM542.6,721.7h1.2v1.2h-1.2zM547.7,704.2h1.2v1.2h-1.2zM545.2,715.3h1.2v1.2h-1.2zM559.4,749.8h1.2v1.2h-1.2zM521.1,772.0h1.2v1.2h-1.2zM529.5,764.3h1.2v1.2h-1.2zM525.9,756.4h1.2v1.2h-1.2zM522.3,720.0h1.2v1.2h-1.2zM555.4,721.9h1.2v1.2h-1.2zM528.1,726.1h1.2v1.2h-1.2zM540.6,757.5h1.2v1.2h-1.2zM525.7,763.4h1.2v1.2h-1.2zM532.3,725.4h1.2v1.2h-1.2zM560.4,708.2h1.2v1.2h-1.2zM525.2,720.6h1.2v1.2h-1.2zM548.0,782.7h1.2v1.2h-1.2zM529.8,739.7h1.2v1.2h-1.2zM538.1,709.3h1.2v1.2h-1.2zM560.5,731.2h1.2v1.2h-1.2zM547.8,700.3h1.2v1.2h-1.2zM552.7,742.3h1.2v1.2h-1.2zM555.5,708.0h1.2v1.2h-1.2zM564.3,746.2h1.2v1.2h-1.2zM558.9,751.1h1.2v1.2h-1.2zM543.1,702.3h1.2v1.2h-1.2zM533.7,707.1h1.2v1.2h-1.2zM552.3,741.1h1.2v1.2h-1.2zM532.8,717.7h1.2v1.2h-1.2zM556.7,715.1h1.2v1.2h-1.2zM563.0,730.0h1.2v1.2h-1.2zM525.0,727.6h1.2v1.2h-1.2zM553.3,746.8h1.2v1.2h-1.2zM522.7,757.1h1.2v1.2h-1.2zM540.6,752.3h1.2v1.2h-1.2zM519.8,721.9h1.2v1.2h-1.2zM561.8,708.8h1.2v1.2h-1.2zM552.8,737.2h1.2v1.2h-1.2zM526.5,729.5h1.2v1.2h-1.2zM554.0,798.6h1.2v1.2h-1.2zM554.4,723.1h1.2v1.2h-1.2zM558.7,690.6h1.2v1.2h-1.2zM554.0,766.4h1.2v1.2h-1.2zM534.5,756.2h1.2v1.2h-1.2zM561.2,734.6h1.2v1.2h-1.2zM526.4,740.0h1.2v1.2h-1.2zM548.1,762.3h1.2v1.2h-1.2zM553.8,751.4h1.2v1.2h-1.2zM561.5,706.3h1.2v1.2h-1.2zM524.5,716.5h1.2v1.2h-1.2zM532.9,734.6h1.2v1.2h-1.2zM550.3,748.3h1.2v1.2h-1.2zM550.2,738.7h1.2v1.2h-1.2zM522.2,766.1h1.2v1.2h-1.2zM531.8,729.1h1.2v1.2h-1.2zM558.8,745.1h1.2v1.2h-1.2zM550.0,784.6h1.2v1.2h-1.2zM542.9,740.6h1.2v1.2h-1.2zM538.6,749.1h1.2v1.2h-1.2zM529.9,741.2h1.2v1.2h-1.2zM529.5,765.3h1.2v1.2h-1.2zM555.9,718.4h1.2v1.2h-1.2zM565.4,761.7h1.2v1.2h-1.2zM518.1,719.0h1.2v1.2h-1.2zM550.7,767.3h1.2v1.2h-1.2zM524.1,767.0h1.2v1.2h-1.2zM553.5,769.9h1.2v1.2h-1.2zM562.1,705.8h1.2v1.2h-1.2zM548.2,741.1h1.2v1.2h-1.2zM542.5,775.7h1.2v1.2h-1.2zM542.1,730.1h1.2v1.2h-1.2zM553.2,691.7h1.2v1.2h-1.2zM520.6,760.5h1.2v1.2h-1.2zM523.7,696.0h1.2v1.2h-1.2zM527.9,723.8h1.2v1.2h-1.2zM556.9,787.4h1.2v1.2h-1.2zM517.9,730.4h1.2v1.2h-1.2zM535.3,755.8h1.2v1.2h-1.2zM549.7,715.0h1.2v1.2h-1.2zM552.6,716.5h1.2v1.2h-1.2zM526.1,755.4h1.2v1.2h-1.2zM523.6,700.8h1.2v1.2h-1.2zM521.5,752.4h1.2v1.2h-1.2zM522.0,722.4h1.2v1.2h-1.2zM530.3,733.0h1.2v1.2h-1.2zM528.3,703.4h1.2v1.2h-1.2zM554.9,741.9h1.2v1.2h-1.2zM541.5,728.5h1.2v1.2h-1.2zM532.1,699.8h1.2v1.2h-1.2zM538.0,734.2h1.2v1.2h-1.2zM565.5,713.8h1.2v1.2h-1.2zM524.9,697.2h1.2v1.2h-1.2zM534.0,765.9h1.2v1.2h-1.2zM561.1,717.0h1.2v1.2h-1.2zM542.2,755.8h1.2v1.2h-1.2zM553.1,733.2h1.2v1.2h-1.2zM531.4,766.0h1.2v1.2h-1.2zM528.0,717.6h1.2v1.2h-1.2zM560.7,741.9h1.2v1.2h-1.2zM523.6,721.0h1.2v1.2h-1.2zM553.5,734.5h1.2v1.2h-1.2zM524.1,726.1h1.2v1.2h-1.2zM522.0,783.2h1.2v1.2h-1.2zM552.3,705.8h1.2v1.2h-1.2zM537.8,765.5h1.2v1.2h-1.2zM544.4,722.8h1.2v1.2h-1.2zM562.3,757.2h1.2v1.2h-1.2zM531.1,748.7h1.2v1.2h-1.2zM553.4,736.1h1.2v1.2h-1.2zM539.5,716.3h1.2v1.2h-1.2zM528.1,737.9h1.2v1.2h-1.2zM519.1,706.7h1.2v1.2h-1.2zM530.0,690.8h1.2v1.2h-1.2zM544.1,726.5h1.2v1.2h-1.2zM555.5,745.6h1.2v1.2h-1.2zM532.3,713.4h1.2v1.2h-1.2zM523.1,735.8h1.2v1.2h-1.2zM559.3,743.7h1.2v1.2h-1.2zM553.1,711.3h1.2v1.2h-1.2zM555.6,743.7h1.2v1.2h-1.2zM544.4,799.5h1.2v1.2h-1.2zM539.1,724.1h1.2v1.2h-1.2zM541.4,741.0h1.2v1.2h-1.2zM556.5,726.2h1.2v1.2h-1.2zM546.3,753.8h1.2v1.2h-1.2zM556.6,721.6h1.2v1.2h-1.2zM546.8,693.1h1.2v1.2h-1.2zM518.2,700.3h1.2v1.2h-1.2zM523.3,725.1h1.2v1.2h-1.2zM544.7,727.4h1.2v1.2h-1.2zM554.8,704.2h1.2v1.2h-1.2zM535.8,724.5h1.2v1.2h-1.2zM543.8,747.9h1.2v1.2h-1.2zM532.7,722.1h1.2v1.2h-1.2zM522.3,777.5h1.2v1.2h-1.2zM561.9,725.1h1.2v1.2h-1.2zM556.0,755.0h1.2v1.2h-1.2zM540.4,704.9h1.2v1.2h-1.2zM557.5,747.3h1.2v1.2h-1.2zM547.9,722.5h1.2v1.2h-1.2zM555.6,726.5h1.2v1.2h-1.2zM528.2,747.2h1.2v1.2h-1.2zM526.4,749.4h1.2v1.2h-1.2zM551.6,785.4h1.2v1.2h-1.2zM553.6,779.2h1.2v1.2h-1.2zM523.3,716.5h1.2v1.2h-1.2zM565.9,748.0h1.2v1.2h-1.2zM532.2,767.1h1.2v1.2h-1.2zM535.0,714.7h1.2v1.2h-1.2zM535.6,768.9h1.2v1.2h-1.2zM563.9,739.6h1.2v1.2h-1.2zM521.0,749.2h1.2v1.2h-1.2zM541.0,696.3h1.2v1.2h-1.2zM532.0,729.1h1.2v1.2h-1.2zM552.6,722.1h1.2v1.2h-1.2zM546.4,735.7h1.2v1.2h-1.2zM550.1,725.3h1.2v1.2h-1.2zM557.1,777.8h1.2v1.2h-1.2zM537.2,714.4h1.2v1.2h-1.2zM518.8,732.0h1.2v1.2h-1.2zM539.9,769.8h1.2v1.2h-1.2zM560.6,731.7h1.2v1.2h-1.2zM530.0,787.8h1.2v1.2h-1.2zM528.4,712.1h1.2v1.2h-1.2zM538.5,727.0h1.2v1.2h-1.2zM546.8,753.7h1.2v1.2h-1.2zM530.8,711.0h1.2v1.2h-1.2zM521.4,711.2h1.2v1.2h-1.2zM537.6,705.4h1.2v1.2h-1.2zM563.7,726.7h1.2v1.2h-1.2zM529.9,713.0h1.2v1.2h-1.2zM560.6,762.3h1.2v1.2h-1.2zM563.2,752.3h1.2v1.2h-1.2zM565.7,710.1h1.2v1.2h-1.2zM535.3,742.3h1.2v1.2h-1.2zM554.1,726.4h1.2v1.2h-1.2zM539.8,732.0h1.2v1.2h-1.2zM520.6,729.5h1.2v1.2h-1.2zM552.9,683.2h1.2v1.2h-1.2zM532.6,699.2h1.2v1.2h-1.2zM549.5,764.0h1.2v1.2h-1.2zM526.5,747.9h1.2v1.2h-1.2zM537.6,709.2h1.2v1.2h-1.2zM526.5,724.2h1.2v1.2h-1.2zM550.7,735.4h1.2v1.2h-1.2zM554.7,717.4h1.2v1.2h-1.2zM551.5,746.0h1.2v1.2h-1.2zM541.9,732.9h1.2v1.2h-1.2zM565.4,727.4h1.2v1.2h-1.2zM548.6,739.6h1.2v1.2h-1.2zM532.4,723.6h1.2v1.2h-1.2zM521.7,707.1h1.2v1.2h-1.2zM550.5,798.0h1.2v1.2h-1.2zM558.2,766.1h1.2v1.2h-1.2zM546.0,786.5h1.2v1.2h-1.2zM562.3,754.1h1.2v1.2h-1.2zM528.5,750.4h1.2v1.2h-1.2zM528.9,703.8h1.2v1.2h-1.2zM539.1,697.2h1.2v1.2h-1.2zM530.2,695.2h1.2v1.2h-1.2zM520.9,771.7h1.2v1.2h-1.2zM523.7,713.7h1.2v1.2h-1.2zM549.3,772.4h1.2v1.2h-1.2zM556.6,731.6h1.2v1.2h-1.2zM530.9,765.3h1.2v1.2h-1.2zM524.4,725.9h1.2v1.2h-1.2zM542.0,739.8h1.2v1.2h-1.2zM549.3,737.6h1.2v1.2h-1.2zM542.5,744.6h1.2v1.2h-1.2zM559.6,751.3h1.2v1.2h-1.2zM564.0,697.7h1.2v1.2h-1.2zM526.8,746.0h1.2v1.2h-1.2zM552.8,759.6h1.2v1.2h-1.2zM523.5,777.5h1.2v1.2h-1.2zM523.0,780.0h1.2v1.2h-1.2zM560.5,727.5h1.2v1.2h-1.2zM545.0,793.0h1.2v1.2h-1.2zM523.8,803.0h1.2v1.2h-1.2zM525.2,700.1h1.2v1.2h-1.2zM520.8,691.5h1.2v1.2h-1.2zM559.4,755.9h1.2v1.2h-1.2zM558.7,765.0h1.2v1.2h-1.2zM554.2,748.1h1.2v1.2h-1.2zM517.7,737.3h1.2v1.2h-1.2zM519.1,766.8h1.2v1.2h-1.2zM548.9,744.3h1.2v1.2h-1.2zM532.3,781.7h1.2v1.2h-1.2zM565.8,761.0h1.2v1.2h-1.2zM533.7,723.2h1.2v1.2h-1.2zM518.5,755.2h1.2v1.2h-1.2zM520.2,733.2h1.2v1.2h-1.2zM532.5,687.5h1.2v1.2h-1.2zM563.0,751.4h1.2v1.2h-1.2zM553.1,774.9h1.2v1.2h-1.2zM556.8,747.2h1.2v1.2h-1.2zM542.8,753.9h1.2v1.2h-1.2zM551.9,686.9h1.2v1.2h-1.2zM543.8,744.0h1.2v1.2h-1.2zM517.9,715.2h1.2v1.2h-1.2zM536.4,790.4h1.2v1.2h-1.2zM534.8,775.3h1.2v1.2h-1.2zM539.1,751.1h1.2v1.2h-1.2zM536.4,755.0h1.2v1.2h-1.2zM556.0,754.2h1.2v1.2h-1.2zM536.7,718.8h1.2v1.2h-1.2zM525.6,729.3h1.2v1.2h-1.2zM531.7,718.0h1.2v1.2h-1.2zM541.4,750.8h1.2v1.2h-1.2zM527.2,703.5h1.2v1.2h-1.2zM558.6,720.4h1.2v1.2h-1.2zM530.9,692.2h1.2v1.2h-1.2zM534.0,739.4h1.2v1.2h-1.2zM517.9,729.6h1.2v1.2h-1.2zM546.5,783.4h1.2v1.2h-1.2zM526.2,737.7h1.2v1.2h-1.2zM559.2,748.9h1.2v1.2h-1.2zM529.2,721.3h1.2v1.2h-1.2zM531.4,741.1h1.2v1.2h-1.2zM557.6,748.1h1.2v1.2h-1.2zM547.1,721.8h1.2v1.2h-1.2zM552.9,696.4h1.2v1.2h-1.2zM520.6,712.0h1.2v1.2h-1.2zM532.5,795.3h1.2v1.2h-1.2zM520.7,797.8h1.2v1.2h-1.2zM553.9,709.2h1.2v1.2h-1.2zM518.4,742.0h1.2v1.2h-1.2zM528.4,740.9h1.2v1.2h-1.2zM524.2,790.9h1.2v1.2h-1.2zM566.4,749.6h1.2v1.2h-1.2zM536.0,705.1h1.2v1.2h-1.2zM524.4,705.4h1.2v1.2h-1.2zM537.9,687.2h1.2v1.2h-1.2zM526.6,711.6h1.2v1.2h-1.2zM539.8,732.5h1.2v1.2h-1.2zM543.8,726.4h1.2v1.2h-1.2zM539.8,720.9h1.2v1.2h-1.2zM563.0,729.3h1.2v1.2h-1.2zM554.9,721.0h1.2v1.2h-1.2zM525.1,738.8h1.2v1.2h-1.2zM549.7,756.7h1.2v1.2h-1.2zM548.8,759.5h1.2v1.2h-1.2zM541.6,710.9h1.2v1.2h-1.2zM553.7,775.4h1.2v1.2h-1.2zM552.0,718.5h1.2v1.2h-1.2zM521.0,712.8h1.2v1.2h-1.2zM552.5,759.2h1.2v1.2h-1.2zM525.1,767.3h1.2v1.2h-1.2zM527.3,717.5h1.2v1.2h-1.2zM550.2,747.1h1.2v1.2h-1.2zM523.6,731.8h1.2v1.2h-1.2zM558.7,762.5h1.2v1.2h-1.2zM528.8,710.9h1.2v1.2h-1.2zM523.4,753.9h1.2v1.2h-1.2zM546.6,718.4h1.2v1.2h-1.2zM523.0,718.3h1.2v1.2h-1.2zM525.4,746.8h1.2v1.2h-1.2zM527.9,741.5h1.2v1.2h-1.2zM536.9,728.7h1.2v1.2h-1.2zM527.8,793.3h1.2v1.2h-1.2zM542.4,752.4h1.2v1.2h-1.2zM530.4,711.5h1.2v1.2h-1.2zM533.6,733.9h1.2v1.2h-1.2zM566.4,719.7h1.2v1.2h-1.2zM546.8,772.1h1.2v1.2h-1.2zM544.2,736.5h1.2v1.2h-1.2zM563.5,755.0h1.2v1.2h-1.2zM563.8,746.9h1.2v1.2h-1.2zM563.1,737.7h1.2v1.2h-1.2zM526.6,760.4h1.2v1.2h-1.2zM521.2,701.8h1.2v1.2h-1.2zM542.2,761.4h1.2v1.2h-1.2zM527.9,735.9h1.2v1.2h-1.2zM536.5,752.7h1.2v1.2h-1.2zM535.8,730.0h1.2v1.2h-1.2zM555.1,758.0h1.2v1.2h-1.2zM530.1,700.4h1.2v1.2h-1.2zM547.4,705.0h1.2v1.2h-1.2zM549.7,747.7h1.2v1.2h-1.2zM564.9,720.7h1.2v1.2h-1.2zM551.8,681.3h1.2v1.2h-1.2zM565.2,714.8h1.2v1.2h-1.2zM563.3,758.6h1.2v1.2h-1.2zM562.4,705.2h1.2v1.2h-1.2zM562.7,703.1h1.2v1.2h-1.2zM529.4,726.2h1.2v1.2h-1.2zM563.7,748.9h1.2v1.2h-1.2zM523.9,760.5h1.2v1.2h-1.2zM545.2,688.0h1.2v1.2h-1.2zM558.5,772.0h1.2v1.2h-1.2zM537.2,779.5h1.2v1.2h-1.2zM519.7,723.1h1.2v1.2h-1.2zM541.9,753.8h1.2v1.2h-1.2zM554.1,732.2h1.2v1.2h-1.2zM536.7,753.2h1.2v1.2h-1.2zM552.4,747.8h1.2v1.2h-1.2zM545.8,743.4h1.2v1.2h-1.2zM520.7,758.2h1.2v1.2h-1.2zM540.6,715.8h1.2v1.2h-1.2zM534.0,704.0h1.2v1.2h-1.2zM555.2,774.1h1.2v1.2h-1.2zM524.6,711.0h1.2v1.2h-1.2zM553.2,728.3h1.2v1.2h-1.2zM551.5,744.0h1.2v1.2h-1.2zM527.1,768.3h1.2v1.2h-1.2zM553.0,700.2h1.2v1.2h-1.2zM553.7,735.7h1.2v1.2h-1.2zM521.8,726.0h1.2v1.2h-1.2zM544.2,729.0h1.2v1.2h-1.2zM557.9,733.5h1.2v1.2h-1.2zM555.4,721.3h1.2v1.2h-1.2zM562.4,713.0h1.2v1.2h-1.2zM529.7,710.0h1.2v1.2h-1.2zM538.2,762.6h1.2v1.2h-1.2zM525.5,755.9h1.2v1.2h-1.2zM542.5,681.5h1.2v1.2h-1.2zM549.3,720.7h1.2v1.2h-1.2zM519.5,728.5h1.2v1.2h-1.2zM537.0,791.5h1.2v1.2h-1.2zM550.0,778.3h1.2v1.2h-1.2zM518.1,714.3h1.2v1.2h-1.2zM556.7,766.6h1.2v1.2h-1.2zM542.3,693.0h1.2v1.2h-1.2zM529.7,743.1h1.2v1.2h-1.2zM531.1,741.2h1.2v1.2h-1.2zM553.9,759.9h1.2v1.2h-1.2zM523.3,767.4h1.2v1.2h-1.2zM557.9,739.7h1.2v1.2h-1.2zM534.8,709.4h1.2v1.2h-1.2zM541.6,756.7h1.2v1.2h-1.2zM560.0,761.3h1.2v1.2h-1.2zM527.0,794.5h1.2v1.2h-1.2zM534.4,731.0h1.2v1.2h-1.2zM537.8,705.0h1.2v1.2h-1.2zM518.1,764.5h1.2v1.2h-1.2zM566.5,752.2h1.2v1.2h-1.2zM538.6,755.2h1.2v1.2h-1.2zM534.8,728.1h1.2v1.2h-1.2zM553.6,705.5h1.2v1.2h-1.2zM564.6,746.1h1.2v1.2h-1.2zM556.9,713.0h1.2v1.2h-1.2zM529.7,720.3h1.2v1.2h-1.2zM559.8,764.8h1.2v1.2h-1.2zM533.4,749.1h1.2v1.2h-1.2zM540.2,765.3h1.2v1.2h-1.2zM555.8,716.6h1.2v1.2h-1.2zM521.5,716.9h1.2v1.2h-1.2zM545.1,718.5h1.2v1.2h-1.2zM538.0,781.2h1.2v1.2h-1.2zM524.6,726.7h1.2v1.2h-1.2zM530.6,716.8h1.2v1.2h-1.2zM543.7,713.3h1.2v1.2h-1.2zM555.3,737.5h1.2v1.2h-1.2zM543.6,718.5h1.2v1.2h-1.2zM540.8,727.4h1.2v1.2h-1.2zM522.1,692.8h1.2v1.2h-1.2zM538.0,758.5h1.2v1.2h-1.2zM532.2,747.1h1.2v1.2h-1.2zM544.9,726.0h1.2v1.2h-1.2zM545.0,776.6h1.2v1.2h-1.2zM532.8,702.0h1.2v1.2h-1.2zM558.7,709.0h1.2v1.2h-1.2zM549.4,696.5h1.2v1.2h-1.2zM552.5,725.8h1.2v1.2h-1.2zM559.0,767.2h1.2v1.2h-1.2zM559.9,691.3h1.2v1.2h-1.2zM517.7,697.8h1.2v1.2h-1.2zM518.6,713.4h1.2v1.2h-1.2zM531.3,773.4h1.2v1.2h-1.2zM537.0,801.1h1.2v1.2h-1.2zM560.9,703.9h1.2v1.2h-1.2zM543.0,716.2h1.2v1.2h-1.2zM526.0,740.1h1.2v1.2h-1.2zM565.7,745.5h1.2v1.2h-1.2zM541.8,757.3h1.2v1.2h-1.2zM564.1,759.8h1.2v1.2h-1.2zM526.0,701.1h1.2v1.2h-1.2zM555.1,729.7h1.2v1.2h-1.2zM543.7,743.1h1.2v1.2h-1.2zM559.0,719.3h1.2v1.2h-1.2zM532.8,785.4h1.2v1.2h-1.2zM550.8,717.1h1.2v1.2h-1.2zM547.0,769.0h1.2v1.2h-1.2zM530.3,740.9h1.2v1.2h-1.2zM533.7,710.7h1.2v1.2h-1.2zM525.8,699.9h1.2v1.2h-1.2zM565.1,725.0h1.2v1.2h-1.2zM548.9,720.2h1.2v1.2h-1.2zM520.4,692.0h1.2v1.2h-1.2zM532.2,797.4h1.2v1.2h-1.2zM526.8,785.8h1.2v1.2h-1.2zM564.1,712.8h1.2v1.2h-1.2zM547.5,698.1h1.2v1.2h-1.2zM521.5,743.3h1.2v1.2h-1.2zM560.9,794.2h1.2v1.2h-1.2zM546.1,710.9h1.2v1.2h-1.2zM555.0,756.8h1.2v1.2h-1.2zM547.4,759.5h1.2v1.2h-1.2zM551.7,777.5h1.2v1.2h-1.2zM545.9,752.5h1.2v1.2h-1.2zM520.6,730.3h1.2v1.2h-1.2zM542.0,745.8h1.2v1.2h-1.2zM522.7,733.5h1.2v1.2h-1.2zM545.7,722.9h1.2v1.2h-1.2zM554.6,746.9h1.2v1.2h-1.2zM538.8,716.2h1.2v1.2h-1.2zM559.6,691.1h1.2v1.2h-1.2zM548.6,729.4h1.2v1.2h-1.2zM563.7,716.2h1.2v1.2h-1.2zM540.7,761.5h1.2v1.2h-1.2zM547.5,722.6h1.2v1.2h-1.2zM519.2,718.8h1.2v1.2h-1.2zM537.3,708.3h1.2v1.2h-1.2zM529.0,700.0h1.2v1.2h-1.2zM533.5,764.4h1.2v1.2h-1.2zM566.0,760.2h1.2v1.2h-1.2zM559.8,712.5h1.2v1.2h-1.2zM524.7,743.3h1.2v1.2h-1.2zM528.3,769.8h1.2v1.2h-1.2zM528.2,730.8h1.2v1.2h-1.2zM519.9,768.1h1.2v1.2h-1.2zM527.1,750.1h1.2v1.2h-1.2zM551.0,769.2h1.2v1.2h-1.2zM554.1,748.4h1.2v1.2h-1.2zM541.0,747.3h1.2v1.2h-1.2zM520.0,713.3h1.2v1.2h-1.2zM556.5,739.8h1.2v1.2h-1.2zM552.6,720.0h1.2v1.2h-1.2zM526.9,786.1h1.2v1.2h-1.2zM525.2,717.6h1.2v1.2h-1.2zM544.8,743.6h1.2v1.2h-1.2zM565.3,709.4h1.2v1.2h-1.2zM537.6,703.8h1.2v1.2h-1.2zM564.2,801.3h1.2v1.2h-1.2zM544.9,747.8h1.2v1.2h-1.2zM560.9,746.4h1.2v1.2h-1.2zM530.0,728.9h1.2v1.2h-1.2zM550.5,714.2h1.2v1.2h-1.2zM527.3,714.2h1.2v1.2h-1.2zM525.8,694.2h1.2v1.2h-1.2zM540.1,697.8h1.2v1.2h-1.2zM556.2,739.1h1.2v1.2h-1.2zM535.7,721.3h1.2v1.2h-1.2zM544.2,753.7h1.2v1.2h-1.2zM521.4,726.6h1.2v1.2h-1.2zM555.9,745.6h1.2v1.2h-1.2zM557.6,764.1h1.2v1.2h-1.2zM535.2,753.6h1.2v1.2h-1.2zM529.5,710.1h1.2v1.2h-1.2zM530.7,727.1h1.2v1.2h-1.2zM521.1,718.8h1.2v1.2h-1.2zM517.9,758.0h1.2v1.2h-1.2zM552.3,759.7h1.2v1.2h-1.2zM559.0,731.5h1.2v1.2h-1.2zM550.5,727.9h1.2v1.2h-1.2zM551.8,696.6h1.2v1.2h-1.2zM519.7,757.9h1.2v1.2h-1.2zM545.4,702.0h1.2v1.2h-1.2zM556.8,709.2h1.2v1.2h-1.2zM549.5,756.8h1.2v1.2h-1.2zM563.2,691.6h1.2v1.2h-1.2zM525.6,696.5h1.2v1.2h-1.2zM542.9,701.6h1.2v1.2h-1.2zM551.1,708.0h1.2v1.2h-1.2zM565.2,730.4h1.2v1.2h-1.2zM537.7,746.2h1.2v1.2h-1.2zM555.5,760.6h1.2v1.2h-1.2zM528.3,709.9h1.2v1.2h-1.2zM536.5,764.7h1.2v1.2h-1.2zM565.8,743.8h1.2v1.2h-1.2zM535.9,754.8h1.2v1.2h-1.2zM548.2,713.1h1.2v1.2h-1.2zM542.4,729.2h1.2v1.2h-1.2zM559.8,743.6h1.2v1.2h-1.2zM535.4,738.3h1.2v1.2h-1.2zM557.0,746.3h1.2v1.2h-1.2zM539.6,707.0h1.2v1.2h-1.2zM555.3,761.1h1.2v1.2h-1.2zM533.0,736.2h1.2v1.2h-1.2zM546.0,726.7h1.2v1.2h-1.2zM557.1,705.9h1.2v1.2h-1.2zM523.7,697.4h1.2v1.2h-1.2zM555.6,708.0h1.2v1.2h-1.2zM553.7,738.6h1.2v1.2h-1.2zM536.7,727.5h1.2v1.2h-1.2zM558.6,726.3h1.2v1.2h-1.2zM526.6,751.1h1.2v1.2h-1.2zM522.6,756.8h1.2v1.2h-1.2zM545.7,697.3h1.2v1.2h-1.2zM547.8,772.4h1.2v1.2h-1.2zM561.9,716.8h1.2v1.2h-1.2zM559.7,770.0h1.2v1.2h-1.2zM563.8,737.2h1.2v1.2h-1.2zM554.6,729.7h1.2v1.2h-1.2zM522.5,782.4h1.2v1.2h-1.2zM550.6,700.3h1.2v1.2h-1.2zM526.4,731.9h1.2v1.2h-1.2zM537.2,703.8h1.2v1.2h-1.2zM530.2,711.2h1.2v1.2h-1.2zM559.7,712.8h1.2v1.2h-1.2zM545.1,721.5h1.2v1.2h-1.2zM563.2,719.4h1.2v1.2h-1.2zM523.1,720.7h1.2v1.2h-1.2zM519.9,695.7h1.2v1.2h-1.2zM556.7,723.3h1.2v1.2h-1.2zM544.0,754.5h1.2v1.2h-1.2zM557.4,719.9h1.2v1.2h-1.2zM530.6,746.9h1.2v1.2h-1.2zM523.7,736.4h1.2v1.2h-1.2zM539.6,701.3h1.2v1.2h-1.2zM522.1,728.7h1.2v1.2h-1.2zM547.6,721.3h1.2v1.2h-1.2zM546.4,732.7h1.2v1.2h-1.2zM556.2,741.8h1.2v1.2h-1.2zM522.4,749.6h1.2v1.2h-1.2zM537.9,705.9h1.2v1.2h-1.2zM526.1,746.2h1.2v1.2h-1.2zM551.4,771.3h1.2v1.2h-1.2zM540.5,764.7h1.2v1.2h-1.2zM528.5,753.4h1.2v1.2h-1.2zM565.9,726.1h1.2v1.2h-1.2zM536.5,743.9h1.2v1.2h-1.2zM531.9,752.5h1.2v1.2h-1.2zM532.9,756.4h1.2v1.2h-1.2zM563.3,793.6h1.2v1.2h-1.2zM529.5,761.4h1.2v1.2h-1.2zM565.1,708.8h1.2v1.2h-1.2zM542.0,722.0h1.2v1.2h-1.2zM555.9,763.3h1.2v1.2h-1.2zM522.3,758.9h1.2v1.2h-1.2zM561.6,685.8h1.2v1.2h-1.2zM549.3,702.1h1.2v1.2h-1.2zM565.1,757.5h1.2v1.2h-1.2zM521.7,767.7h1.2v1.2h-1.2zM534.4,714.3h1.2v1.2h-1.2zM523.4,718.3h1.2v1.2h-1.2zM537.1,705.0h1.2v1.2h-1.2zM555.2,686.1h1.2v1.2h-1.2zM539.3,703.1h1.2v1.2h-1.2zM560.9,743.0h1.2v1.2h-1.2zM562.4,760.6h1.2v1.2h-1.2zM531.1,774.7h1.2v1.2h-1.2zM526.1,768.3h1.2v1.2h-1.2zM546.7,702.2h1.2v1.2h-1.2zM526.2,759.8h1.2v1.2h-1.2zM539.6,722.8h1.2v1.2h-1.2zM517.9,731.7h1.2v1.2h-1.2zM554.8,750.8h1.2v1.2h-1.2zM559.2,768.3h1.2v1.2h-1.2zM541.6,778.0h1.2v1.2h-1.2zM561.0,731.0h1.2v1.2h-1.2zM518.7,709.5h1.2v1.2h-1.2zM538.0,702.4h1.2v1.2h-1.2zM527.1,695.1h1.2v1.2h-1.2zM562.8,747.3h1.2v1.2h-1.2zM563.7,701.4h1.2v1.2h-1.2zM524.2,700.2h1.2v1.2h-1.2zM522.8,738.8h1.2v1.2h-1.2zM547.7,761.7h1.2v1.2h-1.2zM541.9,743.0h1.2v1.2h-1.2zM527.6,767.0h1.2v1.2h-1.2zM564.0,724.8h1.2v1.2h-1.2zM519.3,745.7h1.2v1.2h-1.2zM535.6,694.4h1.2v1.2h-1.2zM532.2,727.6h1.2v1.2h-1.2zM526.0,769.9h1.2v1.2h-1.2zM535.5,735.7h1.2v1.2h-1.2zM535.8,727.8h1.2v1.2h-1.2zM556.5,760.2h1.2v1.2h-1.2zM561.9,745.8h1.2v1.2h-1.2zM525.5,692.8h1.2v1.2h-1.2zM521.5,765.2h1.2v1.2h-1.2zM552.9,746.9h1.2v1.2h-1.2zM527.5,722.4h1.2v1.2h-1.2zM534.3,733.1h1.2v1.2h-1.2zM542.1,758.0h1.2v1.2h-1.2zM521.2,722.6h1.2v1.2h-1.2zM562.6,714.4h1.2v1.2h-1.2zM529.4,776.2h1.2v1.2h-1.2zM521.5,755.5h1.2v1.2h-1.2zM524.7,726.0h1.2v1.2h-1.2zM536.8,746.0h1.2v1.2h-1.2zM543.3,731.8h1.2v1.2h-1.2zM534.0,756.7h1.2v1.2h-1.2zM519.5,702.1h1.2v1.2h-1.2zM545.4,691.1h1.2v1.2h-1.2zM552.6,726.6h1.2v1.2h-1.2zM558.6,734.9h1.2v1.2h-1.2zM549.3,799.0h1.2v1.2h-1.2zM527.5,758.4h1.2v1.2h-1.2zM534.3,778.5h1.2v1.2h-1.2zM550.8,753.1h1.2v1.2h-1.2zM518.9,717.4h1.2v1.2h-1.2zM521.9,707.2h1.2v1.2h-1.2zM540.0,718.7h1.2v1.2h-1.2zM548.9,801.1h1.2v1.2h-1.2zM551.8,732.7h1.2v1.2h-1.2zM535.2,726.6h1.2v1.2h-1.2zM560.2,690.8h1.2v1.2h-1.2zM528.0,756.0h1.2v1.2h-1.2zM564.0,686.3h1.2v1.2h-1.2zM560.9,758.1h1.2v1.2h-1.2zM549.0,749.4h1.2v1.2h-1.2zM542.4,740.7h1.2v1.2h-1.2zM521.7,731.2h1.2v1.2h-1.2zM534.9,689.3h1.2v1.2h-1.2zM559.2,754.3h1.2v1.2h-1.2zM518.3,702.0h1.2v1.2h-1.2zM529.9,710.5h1.2v1.2h-1.2zM531.0,771.3h1.2v1.2h-1.2zM541.7,787.0h1.2v1.2h-1.2zM537.7,769.7h1.2v1.2h-1.2zM564.8,764.4h1.2v1.2h-1.2zM557.1,764.4h1.2v1.2h-1.2zM556.2,708.7h1.2v1.2h-1.2zM526.8,749.4h1.2v1.2h-1.2zM537.2,727.0h1.2v1.2h-1.2zM559.5,692.7h1.2v1.2h-1.2zM548.6,697.8h1.2v1.2h-1.2zM562.4,750.3h1.2v1.2h-1.2zM555.6,702.8h1.2v1.2h-1.2zM562.7,732.0h1.2v1.2h-1.2zM537.6,719.8h1.2v1.2h-1.2zM560.7,714.5h1.2v1.2h-1.2zM545.6,763.0h1.2v1.2h-1.2zM519.2,708.3h1.2v1.2h-1.2zM537.1,696.6h1.2v1.2h-1.2zM555.5,766.7h1.2v1.2h-1.2zM519.5,743.1h1.2v1.2h-1.2zM559.5,780.4h1.2v1.2h-1.2zM552.4,748.3h1.2v1.2h-1.2zM541.5,717.2h1.2v1.2h-1.2zM547.6,754.9h1.2v1.2h-1.2zM549.3,741.3h1.2v1.2h-1.2zM566.0,725.4h1.2v1.2h-1.2zM540.5,781.5h1.2v1.2h-1.2zM520.2,728.1h1.2v1.2h-1.2zM533.7,700.4h1.2v1.2h-1.2zM539.9,695.5h1.2v1.2h-1.2zM537.7,715.1h1.2v1.2h-1.2zM555.9,746.0h1.2v1.2h-1.2zM562.5,748.6h1.2v1.2h-1.2zM565.3,768.4h1.2v1.2h-1.2zM537.6,716.3h1.2v1.2h-1.2zM562.5,751.9h1.2v1.2h-1.2zM525.8,688.9h1.2v1.2h-1.2zM562.8,744.8h1.2v1.2h-1.2zM527.7,724.1h1.2v1.2h-1.2zM551.2,720.5h1.2v1.2h-1.2zM542.3,755.7h1.2v1.2h-1.2zM533.6,742.0h1.2v1.2h-1.2zM566.3,713.4h1.2v1.2h-1.2zM518.9,767.0h1.2v1.2h-1.2zM533.0,799.8h1.2v1.2h-1.2zM558.4,733.1h1.2v1.2h-1.2zM562.0,725.6h1.2v1.2h-1.2zM545.8,719.0h1.2v1.2h-1.2zM544.4,723.1h1.2v1.2h-1.2zM535.2,727.0h1.2v1.2h-1.2zM549.1,706.6h1.2v1.2h-1.2zM550.5,735.7h1.2v1.2h-1.2zM554.1,703.6h1.2v1.2h-1.2zM526.0,695.4h1.2v1.2h-1.2zM562.9,759.4h1.2v1.2h-1.2zM530.7,696.5h1.2v1.2h-1.2zM530.5,728.4h1.2v1.2h-1.2zM517.7,715.2h1.2v1.2h-1.2zM555.7,758.2h1.2v1.2h-1.2zM539.3,738.9h1.2v1.2h-1.2zM537.3,757.4h1.2v1.2h-1.2zM524.7,779.4h1.2v1.2h-1.2zM540.0,722.5h1.2v1.2h-1.2zM553.7,708.0h1.2v1.2h-1.2zM519.8,717.2h1.2v1.2h-1.2zM520.4,714.5h1.2v1.2h-1.2zM546.2,758.3h1.2v1.2h-1.2zM536.3,695.4h1.2v1.2h-1.2zM520.2,746.9h1.2v1.2h-1.2zM564.6,709.1h1.2v1.2h-1.2zM535.0,783.1h1.2v1.2h-1.2zM555.3,786.6h1.2v1.2h-1.2zM521.7,759.3h1.2v1.2h-1.2zM564.6,713.8h1.2v1.2h-1.2zM530.8,693.1h1.2v1.2h-1.2zM533.6,724.8h1.2v1.2h-1.2zM538.3,764.4h1.2v1.2h-1.2zM527.6,699.2h1.2v1.2h-1.2zM523.0,726.4h1.2v1.2h-1.2zM520.4,711.7h1.2v1.2h-1.2zM536.7,722.1h1.2v1.2h-1.2zM521.5,782.4h1.2v1.2h-1.2zM524.4,762.8h1.2v1.2h-1.2zM551.3,743.1h1.2v1.2h-1.2zM520.1,768.9h1.2v1.2h-1.2zM528.6,724.3h1.2v1.2h-1.2zM566.3,738.4h1.2v1.2h-1.2zM526.3,727.5h1.2v1.2h-1.2zM553.9,720.4h1.2v1.2h-1.2zM540.6,732.6h1.2v1.2h-1.2zM559.2,761.4h1.2v1.2h-1.2zM556.2,733.6h1.2v1.2h-1.2zM536.8,798.5h1.2v1.2h-1.2zM550.8,739.1h1.2v1.2h-1.2zM531.5,699.5h1.2v1.2h-1.2zM553.9,736.4h1.2v1.2h-1.2zM558.9,706.2h1.2v1.2h-1.2zM539.3,740.6h1.2v1.2h-1.2zM523.3,762.0h1.2v1.2h-1.2zM517.6,730.7h1.2v1.2h-1.2zM552.4,736.7h1.2v1.2h-1.2zM537.5,718.0h1.2v1.2h-1.2zM521.1,797.1h1.2v1.2h-1.2zM547.4,750.4h1.2v1.2h-1.2zM523.2,768.4h1.2v1.2h-1.2zM564.4,741.8h1.2v1.2h-1.2zM559.6,751.4h1.2v1.2h-1.2zM525.2,717.2h1.2v1.2h-1.2zM536.1,703.5h1.2v1.2h-1.2zM559.3,716.5h1.2v1.2h-1.2zM534.0,765.6h1.2v1.2h-1.2zM518.7,722.3h1.2v1.2h-1.2zM533.1,744.4h1.2v1.2h-1.2zM522.4,736.9h1.2v1.2h-1.2zM545.4,784.9h1.2v1.2h-1.2zM534.4,747.1h1.2v1.2h-1.2zM519.5,701.3h1.2v1.2h-1.2zM545.5,715.3h1.2v1.2h-1.2zM534.5,723.8h1.2v1.2h-1.2zM528.2,714.9h1.2v1.2h-1.2zM541.5,711.6h1.2v1.2h-1.2zM530.5,739.8h1.2v1.2h-1.2zM536.0,759.8h1.2v1.2h-1.2zM549.1,747.7h1.2v1.2h-1.2zM538.2,757.7h1.2v1.2h-1.2zM551.5,725.8h1.2v1.2h-1.2zM519.1,716.1h1.2v1.2h-1.2zM525.9,710.8h1.2v1.2h-1.2zM521.0,701.7h1.2v1.2h-1.2zM529.0,753.8h1.2v1.2h-1.2zM523.9,752.3h1.2v1.2h-1.2zM527.4,720.0h1.2v1.2h-1.2zM562.8,719.7h1.2v1.2h-1.2zM518.3,745.8h1.2v1.2h-1.2zM528.1,709.3h1.2v1.2h-1.2zM525.6,715.9h1.2v1.2h-1.2zM547.5,763.3h1.2v1.2h-1.2zM541.8,739.8h1.2v1.2h-1.2zM537.3,774.3h1.2v1.2h-1.2zM550.1,758.4h1.2v1.2h-1.2zM523.1,705.2h1.2v1.2h-1.2zM552.6,718.9h1.2v1.2h-1.2zM547.9,777.7h1.2v1.2h-1.2zM536.7,750.4h1.2v1.2h-1.2zM520.8,737.2h1.2v1.2h-1.2zM517.9,755.1h1.2v1.2h-1.2zM535.2,773.2h1.2v1.2h-1.2zM534.0,728.8h1.2v1.2h-1.2zM536.0,699.9h1.2v1.2h-1.2zM549.5,716.0h1.2v1.2h-1.2zM549.5,720.0h1.2v1.2h-1.2zM520.9,720.0h1.2v1.2h-1.2zM550.7,716.6h1.2v1.2h-1.2zM541.8,715.2h1.2v1.2h-1.2zM539.5,735.5h1.2v1.2h-1.2zM525.6,733.2h1.2v1.2h-1.2zM530.3,765.1h1.2v1.2h-1.2zM562.7,700.5h1.2v1.2h-1.2zM540.0,783.0h1.2v1.2h-1.2zM543.6,732.0h1.2v1.2h-1.2zM527.7,751.7h1.2v1.2h-1.2zM525.7,696.6h1.2v1.2h-1.2zM542.1,761.1h1.2v1.2h-1.2zM535.6,746.0h1.2v1.2h-1.2zM532.9,706.5h1.2v1.2h-1.2zM548.4,717.0h1.2v1.2h-1.2zM524.7,721.6h1.2v1.2h-1.2zM559.2,723.2h1.2v1.2h-1.2zM521.2,752.2h1.2v1.2h-1.2zM534.6,708.5h1.2v1.2h-1.2zM539.9,726.3h1.2v1.2h-1.2zM541.3,710.8h1.2v1.2h-1.2zM538.3,755.9h1.2v1.2h-1.2zM527.6,702.6h1.2v1.2h-1.2zM518.3,716.1h1.2v1.2h-1.2zM553.4,709.9h1.2v1.2h-1.2zM559.5,727.8h1.2v1.2h-1.2zM557.3,758.5h1.2v1.2h-1.2zM542.7,747.8h1.2v1.2h-1.2zM519.8,757.2h1.2v1.2h-1.2zM530.7,755.7h1.2v1.2h-1.2zM549.6,711.8h1.2v1.2h-1.2zM551.3,725.7h1.2v1.2h-1.2zM551.8,777.9h1.2v1.2h-1.2zM550.1,709.1h1.2v1.2h-1.2zM560.4,756.3h1.2v1.2h-1.2zM536.3,724.1h1.2v1.2h-1.2zM540.3,744.1h1.2v1.2h-1.2zM521.3,752.7h1.2v1.2h-1.2zM535.7,701.6h1.2v1.2h-1.2zM557.9,720.8h1.2v1.2h-1.2zM549.2,741.5h1.2v1.2h-1.2zM532.9,699.2h1.2v1.2h-1.2zM552.9,721.0h1.2v1.2h-1.2zM563.9,748.8h1.2v1.2h-1.2zM521.0,726.6h1.2v1.2h-1.2zM538.0,802.2h1.2v1.2h-1.2zM526.1,719.9h1.2v1.2h-1.2zM555.5,692.4h1.2v1.2h-1.2zM540.4,711.3h1.2v1.2h-1.2zM557.9,720.0h1.2v1.2h-1.2zM552.6,736.5h1.2v1.2h-1.2zM539.1,737.9h1.2v1.2h-1.2zM532.1,751.8h1.2v1.2h-1.2zM539.4,714.7h1.2v1.2h-1.2zM546.6,756.3h1.2v1.2h-1.2zM532.0,687.1h1.2v1.2h-1.2zM556.8,753.4h1.2v1.2h-1.2zM535.2,750.6h1.2v1.2h-1.2zM519.4,736.0h1.2v1.2h-1.2zM532.1,772.5h1.2v1.2h-1.2zM546.4,756.5h1.2v1.2h-1.2zM562.1,758.4h1.2v1.2h-1.2zM556.7,696.7h1.2v1.2h-1.2zM561.1,739.5h1.2v1.2h-1.2zM523.5,780.9h1.2v1.2h-1.2zM563.3,687.3h1.2v1.2h-1.2zM540.3,694.6h1.2v1.2h-1.2zM549.4,726.3h1.2v1.2h-1.2zM520.0,734.0h1.2v1.2h-1.2zM563.3,742.3h1.2v1.2h-1.2zM527.0,799.9h1.2v1.2h-1.2zM565.7,714.1h1.2v1.2h-1.2zM533.3,714.3h1.2v1.2h-1.2zM563.8,729.9h1.2v1.2h-1.2zM519.9,706.1h1.2v1.2h-1.2zM556.4,749.1h1.2v1.2h-1.2zM548.9,765.6h1.2v1.2h-1.2zM538.4,764.7h1.2v1.2h-1.2zM523.7,726.0h1.2v1.2h-1.2zM554.2,749.1h1.2v1.2h-1.2zM535.9,716.9h1.2v1.2h-1.2zM518.0,761.8h1.2v1.2h-1.2zM564.2,693.7h1.2v1.2h-1.2zM539.9,782.4h1.2v1.2h-1.2zM563.1,721.5h1.2v1.2h-1.2zM524.4,730.1h1.2v1.2h-1.2zM525.0,739.5h1.2v1.2h-1.2zM535.8,714.5h1.2v1.2h-1.2zM555.4,704.6h1.2v1.2h-1.2zM529.2,713.2h1.2v1.2h-1.2zM545.6,715.7h1.2v1.2h-1.2zM561.5,749.0h1.2v1.2h-1.2zM540.4,744.4h1.2v1.2h-1.2zM545.6,722.9h1.2v1.2h-1.2zM536.2,762.7h1.2v1.2h-1.2zM559.4,753.5h1.2v1.2h-1.2zM545.1,751.6h1.2v1.2h-1.2zM534.9,734.5h1.2v1.2h-1.2zM532.9,712.2h1.2v1.2h-1.2zM535.5,733.5h1.2v1.2h-1.2zM544.6,712.7h1.2v1.2h-1.2zM526.5,796.8h1.2v1.2h-1.2zM527.6,736.9h1.2v1.2h-1.2zM533.5,763.5h1.2v1.2h-1.2zM524.6,713.6h1.2v1.2h-1.2zM565.1,761.3h1.2v1.2h-1.2zM564.8,742.4h1.2v1.2h-1.2zM565.5,734.1h1.2v1.2h-1.2zM528.4,740.9h1.2v1.2h-1.2zM535.9,730.6h1.2v1.2h-1.2zM529.6,730.7h1.2v1.2h-1.2zM560.6,741.1h1.2v1.2h-1.2zM566.3,698.0h1.2v1.2h-1.2zM564.6,726.5h1.2v1.2h-1.2zM534.9,727.4h1.2v1.2h-1.2zM563.3,727.3h1.2v1.2h-1.2zM534.5,707.3h1.2v1.2h-1.2zM558.8,750.3h1.2v1.2h-1.2zM549.6,776.3h1.2v1.2h-1.2zM519.6,803.2h1.2v1.2h-1.2zM527.8,803.1h1.2v1.2h-1.2zM528.1,721.5h1.2v1.2h-1.2zM550.6,724.8h1.2v1.2h-1.2zM553.9,706.0h1.2v1.2h-1.2zM537.4,783.4h1.2v1.2h-1.2zM531.4,704.8h1.2v1.2h-1.2zM530.3,718.1h1.2v1.2h-1.2zM518.4,702.1h1.2v1.2h-1.2zM562.7,718.1h1.2v1.2h-1.2zM559.1,746.8h1.2v1.2h-1.2zM544.3,717.3h1.2v1.2h-1.2zM548.9,737.4h1.2v1.2h-1.2zM531.3,733.7h1.2v1.2h-1.2zM552.6,750.1h1.2v1.2h-1.2zM533.5,728.2h1.2v1.2h-1.2zM564.0,726.3h1.2v1.2h-1.2zM540.1,688.2h1.2v1.2h-1.2zM561.2,684.9h1.2v1.2h-1.2zM519.5,730.4h1.2v1.2h-1.2zM536.2,717.9h1.2v1.2h-1.2zM550.4,738.2h1.2v1.2h-1.2zM559.5,721.2h1.2v1.2h-1.2zM520.7,739.4h1.2v1.2h-1.2zM542.0,695.4h1.2v1.2h-1.2zM539.7,792.3h1.2v1.2h-1.2zM561.5,741.6h1.2v1.2h-1.2zM549.5,739.6h1.2v1.2h-1.2zM564.9,746.3h1.2v1.2h-1.2zM528.7,729.3h1.2v1.2h-1.2zM551.7,768.0h1.2v1.2h-1.2zM520.5,729.8h1.2v1.2h-1.2zM532.7,725.0h1.2v1.2h-1.2zM536.9,702.5h1.2v1.2h-1.2zM566.4,716.2h1.2v1.2h-1.2zM551.3,725.3h1.2v1.2h-1.2zM561.6,753.9h1.2v1.2h-1.2zM554.0,770.7h1.2v1.2h-1.2zM564.8,731.6h1.2v1.2h-1.2zM538.0,696.1h1.2v1.2h-1.2zM551.7,734.1h1.2v1.2h-1.2zM521.2,713.3h1.2v1.2h-1.2zM545.8,707.4h1.2v1.2h-1.2zM544.1,716.4h1.2v1.2h-1.2zM561.3,695.8h1.2v1.2h-1.2zM552.2,741.3h1.2v1.2h-1.2zM526.4,728.0h1.2v1.2h-1.2zM525.8,758.6h1.2v1.2h-1.2zM530.9,739.5h1.2v1.2h-1.2zM535.5,740.8h1.2v1.2h-1.2zM538.0,756.5h1.2v1.2h-1.2zM561.6,713.6h1.2v1.2h-1.2zM523.6,789.0h1.2v1.2h-1.2zM519.0,777.2h1.2v1.2h-1.2zM557.0,708.3h1.2v1.2h-1.2zM522.6,727.2h1.2v1.2h-1.2zM535.3,766.3h1.2v1.2h-1.2zM536.5,760.0h1.2v1.2h-1.2zM544.6,712.9h1.2v1.2h-1.2zM518.2,723.8h1.2v1.2h-1.2zM548.3,714.8h1.2v1.2h-1.2zM519.2,761.5h1.2v1.2h-1.2zM521.9,761.0h1.2v1.2h-1.2zM525.7,797.9h1.2v1.2h-1.2zM538.2,722.3h1.2v1.2h-1.2zM534.9,746.5h1.2v1.2h-1.2zM554.8,726.3h1.2v1.2h-1.2zM534.0,709.2h1.2v1.2h-1.2zM548.5,749.2h1.2v1.2h-1.2zM545.1,734.1h1.2v1.2h-1.2zM521.2,704.8h1.2v1.2h-1.2zM564.5,791.5h1.2v1.2h-1.2zM552.4,723.2h1.2v1.2h-1.2zM535.8,774.7h1.2v1.2h-1.2zM540.9,709.3h1.2v1.2h-1.2zM560.6,725.7h1.2v1.2h-1.2zM554.0,723.9h1.2v1.2h-1.2zM560.8,701.1h1.2v1.2h-1.2zM550.1,755.3h1.2v1.2h-1.2zM558.0,796.7h1.2v1.2h-1.2zM537.2,750.1h1.2v1.2h-1.2zM525.5,743.1h1.2v1.2h-1.2zM555.7,692.0h1.2v1.2h-1.2zM562.0,740.9h1.2v1.2h-1.2zM521.3,745.2h1.2v1.2h-1.2zM547.9,708.4h1.2v1.2h-1.2zM524.4,732.0h1.2v1.2h-1.2zM559.1,723.0h1.2v1.2h-1.2zM523.1,750.0h1.2v1.2h-1.2zM531.8,687.3h1.2v1.2h-1.2zM561.6,701.2h1.2v1.2h-1.2zM538.9,722.9h1.2v1.2h-1.2zM560.4,798.0h1.2v1.2h-1.2zM561.7,760.1h1.2v1.2h-1.2zM525.2,748.5h1.2v1.2h-1.2zM539.4,729.2h1.2v1.2h-1.2zM520.1,718.8h1.2v1.2h-1.2zM551.6,775.7h1.2v1.2h-1.2zM539.0,756.6h1.2v1.2h-1.2zM526.5,778.4h1.2v1.2h-1.2zM547.3,774.2h1.2v1.2h-1.2zM535.1,769.9h1.2v1.2h-1.2zM562.3,738.2h1.2v1.2h-1.2zM524.4,754.6h1.2v1.2h-1.2zM543.3,779.7h1.2v1.2h-1.2zM555.1,693.4h1.2v1.2h-1.2zM517.9,758.3h1.2v1.2h-1.2zM559.6,714.7h1.2v1.2h-1.2zM561.9,715.4h1.2v1.2h-1.2zM545.3,713.8h1.2v1.2h-1.2zM518.9,762.0h1.2v1.2h-1.2zM550.1,761.9h1.2v1.2h-1.2zM540.8,739.5h1.2v1.2h-1.2zM541.6,752.1h1.2v1.2h-1.2zM534.4,729.9h1.2v1.2h-1.2zM527.0,747.8h1.2v1.2h-1.2zM548.9,716.8h1.2v1.2h-1.2zM553.0,753.4h1.2v1.2h-1.2zM542.1,737.3h1.2v1.2h-1.2zM558.1,771.8h1.2v1.2h-1.2zM540.5,752.1h1.2v1.2h-1.2zM540.2,750.3h1.2v1.2h-1.2zM519.8,705.8h1.2v1.2h-1.2zM525.4,735.8h1.2v1.2h-1.2zM561.1,704.8h1.2v1.2h-1.2zM562.7,787.2h1.2v1.2h-1.2zM565.4,755.9h1.2v1.2h-1.2zM528.1,724.7h1.2v1.2h-1.2zM559.5,693.7h1.2v1.2h-1.2zM529.0,749.3h1.2v1.2h-1.2zM547.1,779.9h1.2v1.2h-1.2zM554.2,735.2h1.2v1.2h-1.2zM519.7,739.5h1.2v1.2h-1.2zM528.0,735.7h1.2v1.2h-1.2zM558.7,742.8h1.2v1.2h-1.2zM520.2,793.8h1.2v1.2h-1.2zM531.0,764.7h1.2v1.2h-1.2zM522.4,710.9h1.2v1.2h-1.2zM530.6,740.2h1.2v1.2h-1.2zM543.4,770.7h1.2v1.2h-1.2zM564.0,771.8h1.2v1.2h-1.2zM558.4,759.4h1.2v1.2h-1.2zM555.9,730.0h1.2v1.2h-1.2zM525.2,725.4h1.2v1.2h-1.2zM561.4,763.7h1.2v1.2h-1.2zM539.2,708.5h1.2v1.2h-1.2zM541.8,764.4h1.2v1.2h-1.2zM520.1,778.8h1.2v1.2h-1.2zM542.5,727.8h1.2v1.2h-1.2zM520.6,716.5h1.2v1.2h-1.2zM555.2,761.6h1.2v1.2h-1.2zM542.7,750.0h1.2v1.2h-1.2zM542.7,783.1h1.2v1.2h-1.2zM565.2,786.2h1.2v1.2h-1.2zM543.2,700.7h1.2v1.2h-1.2zM557.5,751.5h1.2v1.2h-1.2zM555.1,739.2h1.2v1.2h-1.2zM523.6,708.8h1.2v1.2h-1.2zM520.0,769.1h1.2v1.2h-1.2zM532.3,797.5h1.2v1.2h-1.2zM562.7,754.2h1.2v1.2h-1.2zM550.9,727.6h1.2v1.2h-1.2zM553.8,692.6h1.2v1.2h-1.2zM566.0,716.3h1.2v1.2h-1.2zM527.3,786.8h1.2v1.2h-1.2zM527.4,734.4h1.2v1.2h-1.2zM540.4,716.6h1.2v1.2h-1.2zM532.8,719.1h1.2v1.2h-1.2zM533.5,740.5h1.2v1.2h-1.2zM535.2,756.0h1.2v1.2h-1.2zM541.4,698.7h1.2v1.2h-1.2zM524.2,742.8h1.2v1.2h-1.2zM518.2,712.0h1.2v1.2h-1.2zM544.9,732.3h1.2v1.2h-1.2zM552.7,726.1h1.2v1.2h-1.2zM548.3,704.0h1.2v1.2h-1.2zM530.6,776.9h1.2v1.2h-1.2zM549.4,750.7h1.2v1.2h-1.2zM561.5,755.2h1.2v1.2h-1.2zM566.5,748.1h1.2v1.2h-1.2zM562.0,714.3h1.2v1.2h-1.2zM521.9,746.6h1.2v1.2h-1.2zM547.2,721.1h1.2v1.2h-1.2zM563.0,696.6h1.2v1.2h-1.2zM550.9,766.8h1.2v1.2h-1.2zM551.9,742.6h1.2v1.2h-1.2zM523.4,756.5h1.2v1.2h-1.2zM528.2,728.5h1.2v1.2h-1.2zM546.1,745.1h1.2v1.2h-1.2zM539.9,747.3h1.2v1.2h-1.2zM548.1,707.3h1.2v1.2h-1.2zM538.4,763.9h1.2v1.2h-1.2zM532.2,751.9h1.2v1.2h-1.2zM562.2,746.1h1.2v1.2h-1.2zM528.8,769.0h1.2v1.2h-1.2zM550.7,747.5h1.2v1.2h-1.2zM549.7,770.0h1.2v1.2h-1.2zM556.7,737.3h1.2v1.2h-1.2zM566.6,783.3h1.2v1.2h-1.2zM540.0,748.7h1.2v1.2h-1.2zM539.1,745.6h1.2v1.2h-1.2zM564.7,749.5h1.2v1.2h-1.2zM518.0,747.3h1.2v1.2h-1.2zM524.8,740.3h1.2v1.2h-1.2zM541.3,758.9h1.2v1.2h-1.2zM555.2,756.0h1.2v1.2h-1.2zM540.5,742.3h1.2v1.2h-1.2zM529.8,712.6h1.2v1.2h-1.2zM554.6,760.1h1.2v1.2h-1.2zM529.4,765.0h1.2v1.2h-1.2zM566.4,737.7h1.2v1.2h-1.2zM520.8,737.7h1.2v1.2h-1.2zM558.9,744.9h1.2v1.2h-1.2zM542.2,701.0h1.2v1.2h-1.2zM523.0,740.4h1.2v1.2h-1.2zM543.1,752.3h1.2v1.2h-1.2zM548.2,692.2h1.2v1.2h-1.2zM546.5,741.8h1.2v1.2h-1.2zM536.6,765.2h1.2v1.2h-1.2zM558.1,763.3h1.2v1.2h-1.2zM524.4,719.2h1.2v1.2h-1.2zM542.5,718.9h1.2v1.2h-1.2zM532.5,771.7h1.2v1.2h-1.2zM529.0,730.2h1.2v1.2h-1.2zM521.0,717.4h1.2v1.2h-1.2zM556.3,745.1h1.2v1.2h-1.2zM537.2,699.4h1.2v1.2h-1.2zM530.0,689.2h1.2v1.2h-1.2zM544.0,752.4h1.2v1.2h-1.2zM566.4,760.1h1.2v1.2h-1.2zM528.2,761.6h1.2v1.2h-1.2zM531.3,774.9h1.2v1.2h-1.2zM548.6,729.1h1.2v1.2h-1.2zM552.3,719.5h1.2v1.2h-1.2zM539.6,737.5h1.2v1.2h-1.2zM530.3,720.4h1.2v1.2h-1.2zM560.6,736.7h1.2v1.2h-1.2zM531.1,771.5h1.2v1.2h-1.2zM555.1,753.9h1.2v1.2h-1.2zM519.0,761.8h1.2v1.2h-1.2zM558.1,744.5h1.2v1.2h-1.2zM539.8,713.6h1.2v1.2h-1.2zM558.5,700.6h1.2v1.2h-1.2zM554.4,714.4h1.2v1.2h-1.2zM528.3,707.1h1.2v1.2h-1.2zM527.8,729.0h1.2v1.2h-1.2zM530.0,788.2h1.2v1.2h-1.2zM559.5,711.9h1.2v1.2h-1.2zM534.3,723.5h1.2v1.2h-1.2zM517.9,728.7h1.2v1.2h-1.2zM536.2,751.6h1.2v1.2h-1.2zM559.6,729.7h1.2v1.2h-1.2zM560.7,733.6h1.2v1.2h-1.2zM554.0,713.0h1.2v1.2h-1.2zM554.0,728.8h1.2v1.2h-1.2zM546.4,694.8h1.2v1.2h-1.2zM522.2,766.7h1.2v1.2h-1.2zM536.6,793.0h1.2v1.2h-1.2zM540.6,726.8h1.2v1.2h-1.2zM529.3,713.4h1.2v1.2h-1.2zM551.2,705.3h1.2v1.2h-1.2zM524.2,735.1h1.2v1.2h-1.2zM530.8,734.9h1.2v1.2h-1.2zM532.2,708.2h1.2v1.2h-1.2zM561.0,752.0h1.2v1.2h-1.2zM527.7,696.2h1.2v1.2h-1.2zM529.0,742.0h1.2v1.2h-1.2zM554.7,730.0h1.2v1.2h-1.2zM530.0,710.1h1.2v1.2h-1.2zM537.4,724.6h1.2v1.2h-1.2zM546.0,702.1h1.2v1.2h-1.2zM537.3,712.2h1.2v1.2h-1.2zM534.6,721.6h1.2v1.2h-1.2zM532.5,711.5h1.2v1.2h-1.2zM532.4,728.7h1.2v1.2h-1.2zM538.9,760.7h1.2v1.2h-1.2zM525.6,727.2h1.2v1.2h-1.2zM525.8,719.4h1.2v1.2h-1.2zM555.6,699.4h1.2v1.2h-1.2zM534.0,715.3h1.2v1.2h-1.2zM552.7,732.1h1.2v1.2h-1.2zM532.6,708.4h1.2v1.2h-1.2zM544.1,724.7h1.2v1.2h-1.2zM538.7,739.6h1.2v1.2h-1.2zM557.5,730.7h1.2v1.2h-1.2zM526.3,728.4h1.2v1.2h-1.2zM522.9,781.0h1.2v1.2h-1.2zM537.4,750.5h1.2v1.2h-1.2zM541.0,762.4h1.2v1.2h-1.2zM553.9,775.1h1.2v1.2h-1.2zM540.8,732.9h1.2v1.2h-1.2zM546.6,743.9h1.2v1.2h-1.2zM520.1,755.4h1.2v1.2h-1.2zM535.6,768.4h1.2v1.2h-1.2zM542.8,708.1h1.2v1.2h-1.2zM526.9,727.3h1.2v1.2h-1.2zM520.6,754.0h1.2v1.2h-1.2zM531.7,726.6h1.2v1.2h-1.2zM561.1,719.6h1.2v1.2h-1.2zM524.4,743.1h1.2v1.2h-1.2zM558.3,726.6h1.2v1.2h-1.2zM535.3,753.2h1.2v1.2h-1.2zM547.5,708.7h1.2v1.2h-1.2zM560.9,750.2h1.2v1.2h-1.2zM549.2,750.0h1.2v1.2h-1.2zM565.7,725.1h1.2v1.2h-1.2zM556.0,750.6h1.2v1.2h-1.2zM523.8,757.5h1.2v1.2h-1.2zM523.3,710.1h1.2v1.2h-1.2zM523.1,715.5h1.2v1.2h-1.2zM519.6,731.2h1.2v1.2h-1.2zM529.5,726.0h1.2v1.2h-1.2zM566.1,751.7h1.2v1.2h-1.2zM556.0,751.0h1.2v1.2h-1.2zM561.3,749.6h1.2v1.2h-1.2zM526.6,737.0h1.2v1.2h-1.2zM550.2,751.8h1.2v1.2h-1.2zM529.9,699.1h1.2v1.2h-1.2zM544.5,738.6h1.2v1.2h-1.2zM541.8,799.6h1.2v1.2h-1.2zM549.4,704.1h1.2v1.2h-1.2zM555.6,743.0h1.2v1.2h-1.2zM538.1,774.4h1.2v1.2h-1.2zM522.9,708.7h1.2v1.2h-1.2zM552.6,759.3h1.2v1.2h-1.2zM547.5,722.1h1.2v1.2h-1.2zM529.7,714.7h1.2v1.2h-1.2zM555.8,730.1h1.2v1.2h-1.2zM522.6,700.9h1.2v1.2h-1.2zM560.4,736.4h1.2v1.2h-1.2zM523.6,771.8h1.2v1.2h-1.2zM528.1,731.7h1.2v1.2h-1.2zM538.2,759.5h1.2v1.2h-1.2zM551.2,732.2h1.2v1.2h-1.2zM549.3,770.2h1.2v1.2h-1.2zM540.7,724.0h1.2v1.2h-1.2zM534.4,704.7h1.2v1.2h-1.2zM549.4,748.5h1.2v1.2h-1.2zM565.0,702.6h1.2v1.2h-1.2zM551.5,744.1h1.2v1.2h-1.2zM537.0,779.0h1.2v1.2h-1.2zM530.2,731.1h1.2v1.2h-1.2zM543.2,772.1h1.2v1.2h-1.2zM561.6,725.7h1.2v1.2h-1.2zM544.2,752.1h1.2v1.2h-1.2zM549.6,714.1h1.2v1.2h-1.2zM522.2,716.4h1.2v1.2h-1.2zM523.0,712.1h1.2v1.2h-1.2zM522.7,754.9h1.2v1.2h-1.2zM518.7,786.3h1.2v1.2h-1.2zM547.0,759.7h1.2v1.2h-1.2zM551.8,748.5h1.2v1.2h-1.2zM556.2,747.8h1.2v1.2h-1.2zM528.7,717.2h1.2v1.2h-1.2zM530.5,721.5h1.2v1.2h-1.2zM554.4,743.8h1.2v1.2h-1.2zM563.5,748.1h1.2v1.2h-1.2zM554.9,757.0h1.2v1.2h-1.2zM557.6,803.4h1.2v1.2h-1.2zM526.0,687.3h1.2v1.2h-1.2zM539.8,721.9h1.2v1.2h-1.2zM566.2,737.3h1.2v1.2h-1.2zM563.6,725.7h1.2v1.2h-1.2zM530.1,707.9h1.2v1.2h-1.2zM533.5,712.1h1.2v1.2h-1.2zM562.1,751.8h1.2v1.2h-1.2zM537.8,728.2h1.2v1.2h-1.2zM552.9,722.0h1.2v1.2h-1.2zM533.6,791.7h1.2v1.2h-1.2zM548.0,721.8h1.2v1.2h-1.2zM562.7,765.2h1.2v1.2h-1.2zM555.9,728.3h1.2v1.2h-1.2zM530.1,725.3h1.2v1.2h-1.2zM524.4,763.1h1.2v1.2h-1.2zM519.2,743.4h1.2v1.2h-1.2zM563.2,740.9h1.2v1.2h-1.2zM537.7,735.9h1.2v1.2h-1.2zM523.0,751.5h1.2v1.2h-1.2zM525.0,705.9h1.2v1.2h-1.2zM541.0,740.2h1.2v1.2h-1.2zM550.6,737.9h1.2v1.2h-1.2zM525.6,726.8h1.2v1.2h-1.2zM546.8,720.7h1.2v1.2h-1.2zM522.4,723.9h1.2v1.2h-1.2zM561.2,737.5h1.2v1.2h-1.2zM549.0,732.1h1.2v1.2h-1.2zM537.7,715.9h1.2v1.2h-1.2zM525.8,756.1h1.2v1.2h-1.2zM544.9,718.9h1.2v1.2h-1.2zM523.0,717.9h1.2v1.2h-1.2zM558.2,725.7h1.2v1.2h-1.2zM537.9,741.4h1.2v1.2h-1.2zM558.4,688.4h1.2v1.2h-1.2zM527.9,722.1h1.2v1.2h-1.2zM533.0,724.8h1.2v1.2h-1.2zM558.4,696.1h1.2v1.2h-1.2zM534.9,714.5h1.2v1.2h-1.2zM520.2,762.5h1.2v1.2h-1.2zM552.6,724.7h1.2v1.2h-1.2zM537.5,693.3h1.2v1.2h-1.2zM558.2,757.0h1.2v1.2h-1.2zM534.1,740.5h1.2v1.2h-1.2zM530.1,713.1h1.2v1.2h-1.2zM533.9,773.9h1.2v1.2h-1.2zM561.4,732.6h1.2v1.2h-1.2zM532.2,703.2h1.2v1.2h-1.2zM536.8,730.5h1.2v1.2h-1.2zM548.5,762.6h1.2v1.2h-1.2zM536.1,720.7h1.2v1.2h-1.2zM519.5,725.4h1.2v1.2h-1.2zM533.8,762.0h1.2v1.2h-1.2zM539.7,752.3h1.2v1.2h-1.2zM532.7,742.2h1.2v1.2h-1.2zM524.0,715.0h1.2v1.2h-1.2zM531.2,768.9h1.2v1.2h-1.2zM538.3,749.2h1.2v1.2h-1.2zM526.2,722.5h1.2v1.2h-1.2zM547.8,733.4h1.2v1.2h-1.2zM533.1,781.6h1.2v1.2h-1.2zM542.6,779.0h1.2v1.2h-1.2zM554.6,736.8h1.2v1.2h-1.2zM523.4,772.2h1.2v1.2h-1.2zM543.4,727.6h1.2v1.2h-1.2zM539.1,691.8h1.2v1.2h-1.2zM562.1,715.2h1.2v1.2h-1.2zM525.4,780.6h1.2v1.2h-1.2zM559.3,747.5h1.2v1.2h-1.2zM553.9,767.6h1.2v1.2h-1.2zM527.3,749.4h1.2v1.2h-1.2zM519.4,758.1h1.2v1.2h-1.2zM550.6,713.0h1.2v1.2h-1.2zM560.7,753.5h1.2v1.2h-1.2zM537.6,739.4h1.2v1.2h-1.2zM527.3,765.4h1.2v1.2h-1.2zM531.6,714.1h1.2v1.2h-1.2zM535.8,710.7h1.2v1.2h-1.2zM519.1,719.6h1.2v1.2h-1.2zM549.0,736.0h1.2v1.2h-1.2zM535.6,714.8h1.2v1.2h-1.2zM551.7,707.1h1.2v1.2h-1.2zM539.6,727.8h1.2v1.2h-1.2zM522.1,737.0h1.2v1.2h-1.2zM531.5,748.7h1.2v1.2h-1.2zM536.8,725.4h1.2v1.2h-1.2zM536.1,759.1h1.2v1.2h-1.2zM549.8,752.4h1.2v1.2h-1.2zM534.6,731.8h1.2v1.2h-1.2zM529.9,687.5h1.2v1.2h-1.2zM521.3,752.8h1.2v1.2h-1.2zM531.4,766.4h1.2v1.2h-1.2zM525.0,788.1h1.2v1.2h-1.2zM529.7,712.3h1.2v1.2h-1.2zM534.0,791.9h1.2v1.2h-1.2zM526.5,732.3h1.2v1.2h-1.2zM530.2,757.8h1.2v1.2h-1.2zM560.7,751.7h1.2v1.2h-1.2zM553.9,733.2h1.2v1.2h-1.2zM524.9,754.9h1.2v1.2h-1.2zM559.1,728.6h1.2v1.2h-1.2zM535.9,725.3h1.2v1.2h-1.2zM527.6,703.2h1.2v1.2h-1.2zM534.5,736.9h1.2v1.2h-1.2zM551.2,735.4h1.2v1.2h-1.2zM525.8,696.9h1.2v1.2h-1.2zM545.7,713.7h1.2v1.2h-1.2zM545.1,698.4h1.2v1.2h-1.2zM517.8,801.7h1.2v1.2h-1.2zM563.7,742.1h1.2v1.2h-1.2zM556.1,778.9h1.2v1.2h-1.2zM518.0,739.3h1.2v1.2h-1.2zM553.6,718.5h1.2v1.2h-1.2zM555.1,707.9h1.2v1.2h-1.2zM536.0,725.5h1.2v1.2h-1.2zM536.6,751.5h1.2v1.2h-1.2zM529.3,717.4h1.2v1.2h-1.2zM520.8,725.4h1.2v1.2h-1.2zM552.6,721.6h1.2v1.2h-1.2zM526.9,711.1h1.2v1.2h-1.2zM526.4,710.2h1.2v1.2h-1.2zM552.8,783.2h1.2v1.2h-1.2zM543.2,759.6h1.2v1.2h-1.2zM554.0,726.5h1.2v1.2h-1.2zM564.1,731.3h1.2v1.2h-1.2zM545.7,765.7h1.2v1.2h-1.2zM545.6,755.3h1.2v1.2h-1.2zM532.8,740.9h1.2v1.2h-1.2zM551.8,799.1h1.2v1.2h-1.2zM554.4,705.4h1.2v1.2h-1.2zM545.4,754.1h1.2v1.2h-1.2zM561.4,765.5h1.2v1.2h-1.2zM540.3,750.8h1.2v1.2h-1.2zM521.9,762.8h1.2v1.2h-1.2zM522.2,754.6h1.2v1.2h-1.2zM566.1,759.1h1.2v1.2h-1.2zM556.4,704.4h1.2v1.2h-1.2zM546.0,803.0h1.2v1.2h-1.2zM537.7,781.2h1.2v1.2h-1.2zM542.7,720.6h1.2v1.2h-1.2zM554.1,769.4h1.2v1.2h-1.2zM526.5,725.2h1.2v1.2h-1.2zM519.6,752.1h1.2v1.2h-1.2zM538.1,728.1h1.2v1.2h-1.2zM525.8,741.8h1.2v1.2h-1.2zM561.3,728.7h1.2v1.2h-1.2zM551.7,760.5h1.2v1.2h-1.2zM526.9,716.5h1.2v1.2h-1.2zM538.1,728.7h1.2v1.2h-1.2zM554.6,744.6h1.2v1.2h-1.2zM557.7,737.7h1.2v1.2h-1.2zM531.8,741.8h1.2v1.2h-1.2zM558.2,734.2h1.2v1.2h-1.2zM548.1,700.9h1.2v1.2h-1.2zM558.2,716.2h1.2v1.2h-1.2zM533.6,765.7h1.2v1.2h-1.2zM556.5,723.5h1.2v1.2h-1.2zM558.3,767.0h1.2v1.2h-1.2zM523.3,730.2h1.2v1.2h-1.2zM557.7,744.1h1.2v1.2h-1.2zM541.6,732.3h1.2v1.2h-1.2zM554.9,716.5h1.2v1.2h-1.2zM533.6,752.4h1.2v1.2h-1.2zM562.9,726.7h1.2v1.2h-1.2zM562.1,744.0h1.2v1.2h-1.2zM546.7,727.7h1.2v1.2h-1.2zM556.9,737.1h1.2v1.2h-1.2zM539.1,730.7h1.2v1.2h-1.2zM521.2,734.0h1.2v1.2h-1.2zM563.3,772.7h1.2v1.2h-1.2zM562.3,715.9h1.2v1.2h-1.2zM563.6,729.4h1.2v1.2h-1.2zM530.1,706.7h1.2v1.2h-1.2zM535.9,699.9h1.2v1.2h-1.2zM564.1,725.2h1.2v1.2h-1.2zM549.2,726.4h1.2v1.2h-1.2zM524.3,771.7h1.2v1.2h-1.2zM520.4,721.0h1.2v1.2h-1.2zM542.4,776.8h1.2v1.2h-1.2zM524.2,710.9h1.2v1.2h-1.2zM558.5,759.8h1.2v1.2h-1.2zM531.2,729.4h1.2v1.2h-1.2zM540.7,731.9h1.2v1.2h-1.2zM520.3,695.2h1.2v1.2h-1.2zM551.0,745.2h1.2v1.2h-1.2zM527.8,767.6h1.2v1.2h-1.2zM527.4,732.9h1.2v1.2h-1.2zM555.7,784.1h1.2v1.2h-1.2zM544.8,761.5h1.2v1.2h-1.2zM526.1,794.3h1.2v1.2h-1.2zM552.7,707.6h1.2v1.2h-1.2zM530.7,746.0h1.2v1.2h-1.2zM557.3,735.8h1.2v1.2h-1.2zM550.5,753.7h1.2v1.2h-1.2zM561.7,734.5h1.2v1.2h-1.2zM565.0,732.5h1.2v1.2h-1.2zM525.4,696.6h1.2v1.2h-1.2zM557.6,745.7h1.2v1.2h-1.2zM560.9,701.7h1.2v1.2h-1.2zM540.6,689.5h1.2v1.2h-1.2zM560.6,750.9h1.2v1.2h-1.2zM562.2,696.1h1.2v1.2h-1.2zM557.5,750.5h1.2v1.2h-1.2zM555.9,692.4h1.2v1.2h-1.2zM528.9,794.4h1.2v1.2h-1.2zM539.5,752.6h1.2v1.2h-1.2zM562.4,758.5h1.2v1.2h-1.2zM543.8,743.6h1.2v1.2h-1.2zM532.8,761.4h1.2v1.2h-1.2zM553.4,718.5h1.2v1.2h-1.2zM550.3,732.7h1.2v1.2h-1.2zM518.5,734.0h1.2v1.2h-1.2zM519.5,731.5h1.2v1.2h-1.2zM530.3,701.3h1.2v1.2h-1.2zM547.2,790.8h1.2v1.2h-1.2zM547.9,751.2h1.2v1.2h-1.2zM520.3,746.2h1.2v1.2h-1.2zM522.7,793.3h1.2v1.2h-1.2zM536.7,752.5h1.2v1.2h-1.2zM548.0,739.9h1.2v1.2h-1.2zM558.7,711.8h1.2v1.2h-1.2zM525.1,733.7h1.2v1.2h-1.2zM553.8,718.3h1.2v1.2h-1.2zM560.9,711.3h1.2v1.2h-1.2zM543.4,704.4h1.2v1.2h-1.2zM525.4,723.4h1.2v1.2h-1.2zM520.5,729.7h1.2v1.2h-1.2zM533.8,728.6h1.2v1.2h-1.2zM538.3,712.0h1.2v1.2h-1.2zM549.7,752.8h1.2v1.2h-1.2zM558.4,712.5h1.2v1.2h-1.2zM552.1,711.9h1.2v1.2h-1.2zM538.6,707.1h1.2v1.2h-1.2zM519.1,707.9h1.2v1.2h-1.2zM565.7,722.2h1.2v1.2h-1.2zM553.1,744.9h1.2v1.2h-1.2zM565.8,768.7h1.2v1.2h-1.2zM561.0,720.2h1.2v1.2h-1.2zM547.8,771.5h1.2v1.2h-1.2zM525.8,767.3h1.2v1.2h-1.2zM560.8,751.6h1.2v1.2h-1.2zM545.3,704.7h1.2v1.2h-1.2zM553.1,733.5h1.2v1.2h-1.2zM531.0,712.9h1.2v1.2h-1.2zM553.7,728.5h1.2v1.2h-1.2zM519.1,705.9h1.2v1.2h-1.2zM546.1,742.9h1.2v1.2h-1.2zM550.8,787.3h1.2v1.2h-1.2zM561.2,712.6h1.2v1.2h-1.2zM531.7,713.1h1.2v1.2h-1.2zM544.3,751.9h1.2v1.2h-1.2zM549.6,775.6h1.2v1.2h-1.2zM534.7,707.5h1.2v1.2h-1.2zM539.6,742.2h1.2v1.2h-1.2zM542.6,717.6h1.2v1.2h-1.2zM528.3,698.7h1.2v1.2h-1.2zM531.6,690.4h1.2v1.2h-1.2zM531.1,774.4h1.2v1.2h-1.2zM534.2,718.0h1.2v1.2h-1.2zM546.5,795.1h1.2v1.2h-1.2zM565.5,720.2h1.2v1.2h-1.2zM523.6,728.0h1.2v1.2h-1.2zM534.5,758.5h1.2v1.2h-1.2zM548.8,742.0h1.2v1.2h-1.2zM523.1,731.8h1.2v1.2h-1.2zM558.6,741.2h1.2v1.2h-1.2zM523.6,731.9h1.2v1.2h-1.2zM544.7,758.0h1.2v1.2h-1.2zM525.6,720.8h1.2v1.2h-1.2zM525.3,690.6h1.2v1.2h-1.2zM518.5,699.0h1.2v1.2h-1.2zM528.0,715.3h1.2v1.2h-1.2zM525.3,686.5h1.2v1.2h-1.2zM540.5,716.9h1.2v1.2h-1.2zM520.5,745.6h1.2v1.2h-1.2zM536.6,724.8h1.2v1.2h-1.2zM538.0,713.7h1.2v1.2h-1.2zM527.1,784.1h1.2v1.2h-1.2zM552.5,708.0h1.2v1.2h-1.2zM536.5,746.7h1.2v1.2h-1.2zM562.7,771.5h1.2v1.2h-1.2zM554.0,718.5h1.2v1.2h-1.2zM529.4,785.8h1.2v1.2h-1.2zM562.1,767.6h1.2v1.2h-1.2zM555.2,766.9h1.2v1.2h-1.2zM547.7,755.7h1.2v1.2h-1.2zM549.7,695.0h1.2v1.2h-1.2zM524.8,706.0h1.2v1.2h-1.2zM540.0,705.0h1.2v1.2h-1.2zM556.9,744.5h1.2v1.2h-1.2zM540.2,731.1h1.2v1.2h-1.2zM560.4,762.8h1.2v1.2h-1.2zM527.0,715.0h1.2v1.2h-1.2zM548.9,731.2h1.2v1.2h-1.2zM551.6,751.5h1.2v1.2h-1.2zM555.2,731.4h1.2v1.2h-1.2zM521.8,779.7h1.2v1.2h-1.2zM555.4,749.7h1.2v1.2h-1.2zM532.3,799.1h1.2v1.2h-1.2zM565.4,702.0h1.2v1.2h-1.2zM556.3,739.6h1.2v1.2h-1.2zM545.2,758.7h1.2v1.2h-1.2zM546.0,728.0h1.2v1.2h-1.2zM520.5,770.5h1.2v1.2h-1.2zM530.6,695.5h1.2v1.2h-1.2zM549.6,772.1h1.2v1.2h-1.2zM546.6,739.3h1.2v1.2h-1.2zM521.1,763.9h1.2v1.2h-1.2zM564.2,738.1h1.2v1.2h-1.2zM559.2,750.8h1.2v1.2h-1.2zM566.0,758.5h1.2v1.2h-1.2zM519.9,703.4h1.2v1.2h-1.2zM540.2,716.8h1.2v1.2h-1.2zM526.4,706.8h1.2v1.2h-1.2zM544.2,732.4h1.2v1.2h-1.2zM519.6,730.7h1.2v1.2h-1.2zM543.7,703.5h1.2v1.2h-1.2zM527.6,777.2h1.2v1.2h-1.2zM530.7,724.7h1.2v1.2h-1.2zM518.0,736.6h1.2v1.2h-1.2zM535.3,742.0h1.2v1.2h-1.2zM536.5,772.6h1.2v1.2h-1.2zM554.1,726.4h1.2v1.2h-1.2zM523.4,706.6h1.2v1.2h-1.2zM519.4,722.6h1.2v1.2h-1.2zM523.5,768.9h1.2v1.2h-1.2zM532.9,791.9h1.2v1.2h-1.2zM532.1,708.1h1.2v1.2h-1.2zM554.2,751.7h1.2v1.2h-1.2zM519.6,703.3h1.2v1.2h-1.2zM544.7,774.9h1.2v1.2h-1.2zM548.4,721.3h1.2v1.2h-1.2zM531.6,791.6h1.2v1.2h-1.2zM538.2,743.6h1.2v1.2h-1.2zM539.3,753.0h1.2v1.2h-1.2zM524.6,723.1h1.2v1.2h-1.2zM520.0,708.6h1.2v1.2h-1.2zM520.7,753.6h1.2v1.2h-1.2zM545.8,752.5h1.2v1.2h-1.2zM537.8,725.0h1.2v1.2h-1.2zM549.1,735.2h1.2v1.2h-1.2zM534.8,739.0h1.2v1.2h-1.2zM517.9,709.8h1.2v1.2h-1.2zM530.7,725.2h1.2v1.2h-1.2zM546.4,709.2h1.2v1.2h-1.2zM546.5,800.5h1.2v1.2h-1.2zM552.5,721.7h1.2v1.2h-1.2zM541.5,737.0h1.2v1.2h-1.2zM546.1,689.7h1.2v1.2h-1.2zM536.8,741.1h1.2v1.2h-1.2zM523.7,754.3h1.2v1.2h-1.2zM519.5,714.9h1.2v1.2h-1.2zM558.6,699.7h1.2v1.2h-1.2zM530.9,754.2h1.2v1.2h-1.2zM525.7,707.8h1.2v1.2h-1.2zM534.7,756.9h1.2v1.2h-1.2zM519.6,736.0h1.2v1.2h-1.2zM552.0,738.2h1.2v1.2h-1.2zM537.3,725.4h1.2v1.2h-1.2zM534.2,690.0h1.2v1.2h-1.2zM522.8,712.7h1.2v1.2h-1.2zM555.6,760.4h1.2v1.2h-1.2zM550.9,762.0h1.2v1.2h-1.2zM519.2,743.5h1.2v1.2h-1.2zM538.9,734.7h1.2v1.2h-1.2zM558.3,726.4h1.2v1.2h-1.2zM539.0,760.3h1.2v1.2h-1.2zM563.6,768.6h1.2v1.2h-1.2zM561.2,703.5h1.2v1.2h-1.2zM549.1,710.7h1.2v1.2h-1.2zM529.5,721.4h1.2v1.2h-1.2zM528.0,764.2h1.2v1.2h-1.2zM533.0,730.2h1.2v1.2h-1.2zM530.2,760.1h1.2v1.2h-1.2zM520.4,749.4h1.2v1.2h-1.2zM547.9,745.8h1.2v1.2h-1.2zM538.8,722.1h1.2v1.2h-1.2zM533.2,763.2h1.2v1.2h-1.2zM518.7,748.9h1.2v1.2h-1.2zM565.8,732.1h1.2v1.2h-1.2zM520.9,720.7h1.2v1.2h-1.2zM533.3,736.3h1.2v1.2h-1.2zM520.4,721.1h1.2v1.2h-1.2zM550.3,744.8h1.2v1.2h-1.2zM539.9,802.5h1.2v1.2h-1.2zM533.2,786.2h1.2v1.2h-1.2zM524.5,760.6h1.2v1.2h-1.2zM559.1,711.4h1.2v1.2h-1.2zM526.3,715.0h1.2v1.2h-1.2zM534.4,699.7h1.2v1.2h-1.2zM550.7,765.1h1.2v1.2h-1.2zM535.6,737.4h1.2v1.2h-1.2zM543.4,729.3h1.2v1.2h-1.2zM535.9,733.7h1.2v1.2h-1.2zM558.1,722.8h1.2v1.2h-1.2zM533.5,711.3h1.2v1.2h-1.2zM562.7,755.3h1.2v1.2h-1.2zM558.7,773.2h1.2v1.2h-1.2zM541.2,747.7h1.2v1.2h-1.2zM566.0,701.3h1.2v1.2h-1.2zM518.2,728.9h1.2v1.2h-1.2zM535.4,735.7h1.2v1.2h-1.2zM563.2,798.2h1.2v1.2h-1.2zM563.9,721.8h1.2v1.2h-1.2zM562.1,738.6h1.2v1.2h-1.2zM525.2,786.3h1.2v1.2h-1.2zM547.3,717.8h1.2v1.2h-1.2zM546.7,767.5h1.2v1.2h-1.2zM545.9,691.8h1.2v1.2h-1.2zM564.6,748.7h1.2v1.2h-1.2zM544.9,704.9h1.2v1.2h-1.2zM565.0,729.6h1.2v1.2h-1.2zM520.1,725.9h1.2v1.2h-1.2zM519.1,761.8h1.2v1.2h-1.2zM551.8,699.7h1.2v1.2h-1.2zM561.5,748.9h1.2v1.2h-1.2zM525.9,764.1h1.2v1.2h-1.2zM530.5,757.0h1.2v1.2h-1.2zM528.2,712.2h1.2v1.2h-1.2zM553.0,792.5h1.2v1.2h-1.2zM544.9,699.5h1.2v1.2h-1.2zM518.8,736.3h1.2v1.2h-1.2zM559.2,796.7h1.2v1.2h-1.2zM554.1,720.9h1.2v1.2h-1.2zM540.3,795.0h1.2v1.2h-1.2zM547.3,692.4h1.2v1.2h-1.2zM557.4,714.8h1.2v1.2h-1.2zM541.0,729.2h1.2v1.2h-1.2zM563.2,799.7h1.2v1.2h-1.2zM560.9,709.2h1.2v1.2h-1.2zM521.9,750.3h1.2v1.2h-1.2zM553.5,745.8h1.2v1.2h-1.2zM562.8,704.0h1.2v1.2h-1.2zM531.5,733.5h1.2v1.2h-1.2zM524.8,756.2h1.2v1.2h-1.2zM526.6,706.7h1.2v1.2h-1.2zM554.1,733.6h1.2v1.2h-1.2zM524.1,719.3h1.2v1.2h-1.2zM545.6,705.0h1.2v1.2h-1.2zM543.2,728.6h1.2v1.2h-1.2zM524.1,737.5h1.2v1.2h-1.2zM555.7,732.1h1.2v1.2h-1.2zM551.4,705.9h1.2v1.2h-1.2zM518.8,739.4h1.2v1.2h-1.2zM517.8,725.1h1.2v1.2h-1.2zM523.4,713.8h1.2v1.2h-1.2zM544.8,707.5h1.2v1.2h-1.2zM518.5,692.0h1.2v1.2h-1.2zM562.4,730.7h1.2v1.2h-1.2zM553.9,700.3h1.2v1.2h-1.2zM531.6,774.1h1.2v1.2h-1.2zM531.9,785.8h1.2v1.2h-1.2zM533.5,733.8h1.2v1.2h-1.2zM556.0,687.3h1.2v1.2h-1.2zM547.1,721.4h1.2v1.2h-1.2zM559.6,707.7h1.2v1.2h-1.2zM536.0,700.4h1.2v1.2h-1.2zM539.5,715.4h1.2v1.2h-1.2zM563.9,772.2h1.2v1.2h-1.2zM553.0,720.0h1.2v1.2h-1.2zM533.0,732.0h1.2v1.2h-1.2zM547.5,781.3h1.2v1.2h-1.2zM561.7,711.6h1.2v1.2h-1.2zM523.1,738.9h1.2v1.2h-1.2zM555.3,742.5h1.2v1.2h-1.2zM525.9,719.0h1.2v1.2h-1.2zM535.1,707.8h1.2v1.2h-1.2zM550.1,739.2h1.2v1.2h-1.2zM521.7,725.6h1.2v1.2h-1.2zM552.4,711.0h1.2v1.2h-1.2zM539.1,710.3h1.2v1.2h-1.2zM520.0,751.0h1.2v1.2h-1.2zM566.4,772.6h1.2v1.2h-1.2zM537.9,803.1h1.2v1.2h-1.2zM540.1,786.7h1.2v1.2h-1.2zM553.6,788.7h1.2v1.2h-1.2zM563.3,699.4h1.2v1.2h-1.2zM538.2,768.3h1.2v1.2h-1.2zM564.0,762.0h1.2v1.2h-1.2zM546.5,746.0h1.2v1.2h-1.2zM560.9,727.1h1.2v1.2h-1.2zM553.2,748.3h1.2v1.2h-1.2zM544.9,715.0h1.2v1.2h-1.2zM528.8,729.6h1.2v1.2h-1.2zM538.8,714.6h1.2v1.2h-1.2zM517.6,742.2h1.2v1.2h-1.2zM544.2,731.1h1.2v1.2h-1.2zM525.8,709.8h1.2v1.2h-1.2zM564.1,714.0h1.2v1.2h-1.2zM519.5,768.9h1.2v1.2h-1.2zM543.8,768.3h1.2v1.2h-1.2zM555.7,751.2h1.2v1.2h-1.2zM530.6,689.3h1.2v1.2h-1.2zM551.7,732.7h1.2v1.2h-1.2zM544.6,719.9h1.2v1.2h-1.2zM554.6,742.7h1.2v1.2h-1.2zM544.4,701.0h1.2v1.2h-1.2zM542.4,719.4h1.2v1.2h-1.2zM543.0,701.5h1.2v1.2h-1.2zM518.5,751.2h1.2v1.2h-1.2zM521.2,716.9h1.2v1.2h-1.2zM547.9,770.4h1.2v1.2h-1.2zM562.5,772.7h1.2v1.2h-1.2zM534.3,734.3h1.2v1.2h-1.2zM525.8,795.8h1.2v1.2h-1.2zM523.5,720.3h1.2v1.2h-1.2zM542.8,718.9h1.2v1.2h-1.2zM562.1,738.2h1.2v1.2h-1.2zM542.5,717.4h1.2v1.2h-1.2zM528.2,696.9h1.2v1.2h-1.2zM544.0,748.2h1.2v1.2h-1.2zM548.4,708.9h1.2v1.2h-1.2zM554.8,717.1h1.2v1.2h-1.2zM554.4,726.7h1.2v1.2h-1.2zM549.7,718.1h1.2v1.2h-1.2zM548.9,746.4h1.2v1.2h-1.2zM560.7,721.6h1.2v1.2h-1.2zM520.3,727.0h1.2v1.2h-1.2zM547.4,709.2h1.2v1.2h-1.2zM558.7,743.1h1.2v1.2h-1.2zM535.7,703.6h1.2v1.2h-1.2zM532.7,713.1h1.2v1.2h-1.2zM536.6,700.0h1.2v1.2h-1.2zM525.7,702.5h1.2v1.2h-1.2zM556.3,706.3h1.2v1.2h-1.2zM550.5,765.2h1.2v1.2h-1.2zM549.8,715.2h1.2v1.2h-1.2zM555.3,749.6h1.2v1.2h-1.2zM538.1,779.7h1.2v1.2h-1.2zM566.2,791.3h1.2v1.2h-1.2zM547.2,741.8h1.2v1.2h-1.2zM553.7,722.1h1.2v1.2h-1.2zM563.5,727.9h1.2v1.2h-1.2zM551.1,767.1h1.2v1.2h-1.2zM521.4,721.0h1.2v1.2h-1.2zM546.0,736.4h1.2v1.2h-1.2zM565.5,715.3h1.2v1.2h-1.2zM559.3,741.0h1.2v1.2h-1.2zM535.4,687.4h1.2v1.2h-1.2zM548.8,720.1h1.2v1.2h-1.2zM532.3,728.4h1.2v1.2h-1.2zM562.0,723.4h1.2v1.2h-1.2zM542.0,743.1h1.2v1.2h-1.2zM551.6,720.9h1.2v1.2h-1.2zM549.1,764.7h1.2v1.2h-1.2zM565.7,716.5h1.2v1.2h-1.2zM551.3,698.0h1.2v1.2h-1.2zM546.2,697.0h1.2v1.2h-1.2zM530.7,706.2h1.2v1.2h-1.2zM543.3,749.8h1.2v1.2h-1.2zM529.2,731.2h1.2v1.2h-1.2zM521.3,733.6h1.2v1.2h-1.2zM549.4,729.2h1.2v1.2h-1.2zM552.6,762.0h1.2v1.2h-1.2zM545.7,715.9h1.2v1.2h-1.2zM562.1,763.2h1.2v1.2h-1.2zM530.9,762.3h1.2v1.2h-1.2zM557.8,733.7h1.2v1.2h-1.2zM547.8,744.5h1.2v1.2h-1.2zM531.6,745.9h1.2v1.2h-1.2zM552.8,744.2h1.2v1.2h-1.2zM564.1,710.3h1.2v1.2h-1.2zM523.0,741.9h1.2v1.2h-1.2zM547.0,752.5h1.2v1.2h-1.2zM559.7,764.1h1.2v1.2h-1.2zM535.5,781.1h1.2v1.2h-1.2zM532.9,754.4h1.2v1.2h-1.2zM527.1,710.7h1.2v1.2h-1.2zM539.1,801.6h1.2v1.2h-1.2zM537.3,701.1h1.2v1.2h-1.2zM538.5,705.4h1.2v1.2h-1.2zM530.9,776.1h1.2v1.2h-1.2zM555.5,776.0h1.2v1.2h-1.2zM540.2,731.1h1.2v1.2h-1.2zM563.7,710.4h1.2v1.2h-1.2zM546.8,726.3h1.2v1.2h-1.2zM519.6,781.4h1.2v1.2h-1.2zM524.0,741.0h1.2v1.2h-1.2zM547.4,742.4h1.2v1.2h-1.2zM545.1,751.7h1.2v1.2h-1.2zM547.5,722.3h1.2v1.2h-1.2zM521.0,727.6h1.2v1.2h-1.2zM558.0,712.9h1.2v1.2h-1.2zM521.1,700.1h1.2v1.2h-1.2zM545.3,708.8h1.2v1.2h-1.2zM545.3,740.0h1.2v1.2h-1.2zM532.2,718.6h1.2v1.2h-1.2zM543.6,751.3h1.2v1.2h-1.2zM523.1,761.2h1.2v1.2h-1.2zM561.5,712.1h1.2v1.2h-1.2zM553.0,725.2h1.2v1.2h-1.2zM552.0,711.9h1.2v1.2h-1.2zM544.9,704.8h1.2v1.2h-1.2zM557.9,748.9h1.2v1.2h-1.2zM552.4,722.8h1.2v1.2h-1.2zM530.8,702.9h1.2v1.2h-1.2zM518.3,768.9h1.2v1.2h-1.2zM543.5,738.9h1.2v1.2h-1.2zM563.7,710.3h1.2v1.2h-1.2zM525.0,749.1h1.2v1.2h-1.2zM536.7,768.0h1.2v1.2h-1.2zM524.5,792.2h1.2v1.2h-1.2zM540.9,759.8h1.2v1.2h-1.2zM530.6,751.5h1.2v1.2h-1.2zM564.1,694.0h1.2v1.2h-1.2zM559.7,744.6h1.2v1.2h-1.2zM528.5,750.5h1.2v1.2h-1.2zM564.6,716.6h1.2v1.2h-1.2zM538.2,720.4h1.2v1.2h-1.2zM520.4,748.7h1.2v1.2h-1.2zM528.4,725.5h1.2v1.2h-1.2zM538.2,706.8h1.2v1.2h-1.2zM530.3,762.3h1.2v1.2h-1.2zM529.0,772.7h1.2v1.2h-1.2zM522.2,738.2h1.2v1.2h-1.2zM551.2,774.9h1.2v1.2h-1.2zM565.0,727.0h1.2v1.2h-1.2zM555.4,734.3h1.2v1.2h-1.2zM565.5,758.1h1.2v1.2h-1.2zM544.5,710.5h1.2v1.2h-1.2zM520.9,760.7h1.2v1.2h-1.2zM528.5,736.5h1.2v1.2h-1.2zM522.9,746.5h1.2v1.2h-1.2zM520.6,715.2h1.2v1.2h-1.2zM561.0,687.4h1.2v1.2h-1.2zM564.8,744.6h1.2v1.2h-1.2zM564.4,723.0h1.2v1.2h-1.2zM561.7,708.4h1.2v1.2h-1.2zM519.3,756.1h1.2v1.2h-1.2zM557.3,751.1h1.2v1.2h-1.2zM556.8,734.3h1.2v1.2h-1.2zM526.3,746.1h1.2v1.2h-1.2zM555.4,734.8h1.2v1.2h-1.2zM556.5,742.7h1.2v1.2h-1.2zM545.9,774.1h1.2v1.2h-1.2zM547.3,742.6h1.2v1.2h-1.2zM524.6,735.2h1.2v1.2h-1.2zM539.8,709.7h1.2v1.2h-1.2zM522.8,736.2h1.2v1.2h-1.2zM523.9,728.6h1.2v1.2h-1.2zM522.5,748.7h1.2v1.2h-1.2zM526.0,724.5h1.2v1.2h-1.2zM530.8,792.8h1.2v1.2h-1.2zM520.6,768.0h1.2v1.2h-1.2zM532.8,781.3h1.2v1.2h-1.2zM535.7,769.6h1.2v1.2h-1.2zM552.2,746.0h1.2v1.2h-1.2zM526.8,742.2h1.2v1.2h-1.2zM565.6,711.9h1.2v1.2h-1.2zM536.4,730.1h1.2v1.2h-1.2zM564.2,700.7h1.2v1.2h-1.2zM518.0,739.6h1.2v1.2h-1.2zM560.8,706.4h1.2v1.2h-1.2zM539.4,724.6h1.2v1.2h-1.2zM533.1,724.5h1.2v1.2h-1.2zM536.3,739.0h1.2v1.2h-1.2zM548.9,712.1h1.2v1.2h-1.2zM547.5,721.9h1.2v1.2h-1.2zM564.3,723.5h1.2v1.2h-1.2zM530.8,702.2h1.2v1.2h-1.2zM532.0,747.0h1.2v1.2h-1.2zM560.2,747.6h1.2v1.2h-1.2zM526.5,730.0h1.2v1.2h-1.2zM538.3,728.9h1.2v1.2h-1.2zM556.6,741.2h1.2v1.2h-1.2zM522.7,721.0h1.2v1.2h-1.2zM522.8,707.6h1.2v1.2h-1.2zM540.6,715.1h1.2v1.2h-1.2zM554.7,744.7h1.2v1.2h-1.2zM566.4,768.7h1.2v1.2h-1.2zM566.0,704.8h1.2v1.2h-1.2zM518.5,738.3h1.2v1.2h-1.2zM538.8,749.4h1.2v1.2h-1.2zM560.4,729.3h1.2v1.2h-1.2zM534.1,746.7h1.2v1.2h-1.2zM538.4,762.0h1.2v1.2h-1.2zM566.1,713.3h1.2v1.2h-1.2zM533.7,722.3h1.2v1.2h-1.2zM529.4,727.2h1.2v1.2h-1.2zM561.7,761.9h1.2v1.2h-1.2zM557.8,740.3h1.2v1.2h-1.2zM545.0,717.5h1.2v1.2h-1.2zM528.3,755.5h1.2v1.2h-1.2zM525.4,729.6h1.2v1.2h-1.2zM537.1,764.8h1.2v1.2h-1.2zM537.8,697.2h1.2v1.2h-1.2zM520.9,691.7h1.2v1.2h-1.2zM526.6,724.3h1.2v1.2h-1.2zM535.6,794.9h1.2v1.2h-1.2zM519.4,742.7h1.2v1.2h-1.2zM551.0,754.3h1.2v1.2h-1.2zM559.9,713.7h1.2v1.2h-1.2zM540.5,797.8h1.2v1.2h-1.2zM535.1,757.2h1.2v1.2h-1.2zM563.4,754.5h1.2v1.2h-1.2zM561.9,751.0h1.2v1.2h-1.2zM530.5,707.7h1.2v1.2h-1.2zM525.2,762.2h1.2v1.2h-1.2zM537.0,749.1h1.2v1.2h-1.2zM524.3,739.1h1.2v1.2h-1.2zM562.9,734.2h1.2v1.2h-1.2zM535.7,724.5h1.2v1.2h-1.2zM552.1,783.2h1.2v1.2h-1.2zM542.8,749.3h1.2v1.2h-1.2zM562.2,768.6h1.2v1.2h-1.2zM530.6,702.6h1.2v1.2h-1.2zM519.1,743.2h1.2v1.2h-1.2zM526.7,706.8h1.2v1.2h-1.2zM556.8,718.2h1.2v1.2h-1.2zM549.9,768.7h1.2v1.2h-1.2zM530.0,753.3h1.2v1.2h-1.2zM527.5,699.1h1.2v1.2h-1.2zM538.6,727.6h1.2v1.2h-1.2zM517.8,708.9h1.2v1.2h-1.2zM556.3,703.3h1.2v1.2h-1.2zM532.2,725.1h1.2v1.2h-1.2zM562.7,733.4h1.2v1.2h-1.2zM532.9,750.2h1.2v1.2h-1.2zM559.8,755.5h1.2v1.2h-1.2zM531.5,710.4h1.2v1.2h-1.2zM558.1,748.7h1.2v1.2h-1.2zM523.0,711.3h1.2v1.2h-1.2zM539.3,719.1h1.2v1.2h-1.2zM529.3,774.9h1.2v1.2h-1.2zM550.7,772.8h1.2v1.2h-1.2zM540.7,726.7h1.2v1.2h-1.2zM545.2,718.7h1.2v1.2h-1.2zM529.6,761.1h1.2v1.2h-1.2zM525.8,732.7h1.2v1.2h-1.2zM541.7,748.2h1.2v1.2h-1.2zM527.0,728.9h1.2v1.2h-1.2zM526.8,734.8h1.2v1.2h-1.2zM552.2,716.6h1.2v1.2h-1.2zM555.3,746.3h1.2v1.2h-1.2zM526.4,749.6h1.2v1.2h-1.2zM528.5,748.2h1.2v1.2h-1.2zM565.1,758.7h1.2v1.2h-1.2zM547.5,713.0h1.2v1.2h-1.2zM522.6,698.2h1.2v1.2h-1.2zM564.1,727.8h1.2v1.2h-1.2zM528.2,727.5h1.2v1.2h-1.2zM537.5,744.1h1.2v1.2h-1.2zM535.3,736.7h1.2v1.2h-1.2zM522.4,732.0h1.2v1.2h-1.2zM554.5,743.8h1.2v1.2h-1.2zM533.1,759.4h1.2v1.2h-1.2zM543.3,731.8h1.2v1.2h-1.2zM541.7,705.4h1.2v1.2h-1.2zM547.8,740.5h1.2v1.2h-1.2zM557.0,722.4h1.2v1.2h-1.2zM552.0,729.3h1.2v1.2h-1.2zM552.8,725.1h1.2v1.2h-1.2zM547.1,795.8h1.2v1.2h-1.2zM526.2,750.6h1.2v1.2h-1.2zM527.1,708.3h1.2v1.2h-1.2zM542.2,703.7h1.2v1.2h-1.2zM551.1,755.0h1.2v1.2h-1.2zM548.3,712.8h1.2v1.2h-1.2zM565.7,743.8h1.2v1.2h-1.2zM539.0,727.2h1.2v1.2h-1.2zM527.5,778.1h1.2v1.2h-1.2zM522.8,729.3h1.2v1.2h-1.2zM540.7,775.5h1.2v1.2h-1.2zM529.8,717.0h1.2v1.2h-1.2zM524.9,721.4h1.2v1.2h-1.2zM522.9,696.1h1.2v1.2h-1.2zM561.6,730.9h1.2v1.2h-1.2zM556.0,714.6h1.2v1.2h-1.2zM531.8,758.8h1.2v1.2h-1.2zM534.9,766.5h1.2v1.2h-1.2zM541.9,794.9h1.2v1.2h-1.2zM528.3,724.2h1.2v1.2h-1.2zM521.8,734.7h1.2v1.2h-1.2zM558.6,732.8h1.2v1.2h-1.2zM560.2,762.5h1.2v1.2h-1.2zM550.3,748.6h1.2v1.2h-1.2zM525.7,741.5h1.2v1.2h-1.2zM544.5,741.9h1.2v1.2h-1.2zM550.3,703.4h1.2v1.2h-1.2zM549.3,782.2h1.2v1.2h-1.2zM523.0,759.2h1.2v1.2h-1.2zM538.1,745.4h1.2v1.2h-1.2zM561.1,692.9h1.2v1.2h-1.2zM551.2,693.7h1.2v1.2h-1.2zM537.4,745.6h1.2v1.2h-1.2zM558.7,714.8h1.2v1.2h-1.2zM542.2,754.9h1.2v1.2h-1.2zM554.2,722.6h1.2v1.2h-1.2zM561.3,761.5h1.2v1.2h-1.2zM524.4,744.5h1.2v1.2h-1.2zM529.2,740.8h1.2v1.2h-1.2zM538.3,754.3h1.2v1.2h-1.2zM561.3,740.8h1.2v1.2h-1.2zM563.6,708.7h1.2v1.2h-1.2zM556.7,732.5h1.2v1.2h-1.2zM537.4,779.4h1.2v1.2h-1.2zM544.3,728.6h1.2v1.2h-1.2zM560.0,708.0h1.2v1.2h-1.2zM540.1,708.1h1.2v1.2h-1.2zM546.6,763.8h1.2v1.2h-1.2zM527.9,740.4h1.2v1.2h-1.2zM524.4,776.3h1.2v1.2h-1.2zM517.8,797.0h1.2v1.2h-1.2zM522.6,743.4h1.2v1.2h-1.2zM555.9,693.1h1.2v1.2h-1.2zM565.3,736.0h1.2v1.2h-1.2zM524.6,743.1h1.2v1.2h-1.2zM527.7,703.8h1.2v1.2h-1.2zM563.0,710.4h1.2v1.2h-1.2zM548.0,693.5h1.2v1.2h-1.2zM528.0,710.1h1.2v1.2h-1.2zM526.5,714.8h1.2v1.2h-1.2zM550.8,697.5h1.2v1.2h-1.2zM518.3,718.2h1.2v1.2h-1.2zM547.7,767.6h1.2v1.2h-1.2zM546.4,699.1h1.2v1.2h-1.2zM537.6,698.2h1.2v1.2h-1.2zM547.8,772.3h1.2v1.2h-1.2zM547.7,726.6h1.2v1.2h-1.2zM537.9,734.3h1.2v1.2h-1.2zM566.6,748.7h1.2v1.2h-1.2zM525.5,727.0h1.2v1.2h-1.2zM558.5,770.1h1.2v1.2h-1.2zM525.6,710.8h1.2v1.2h-1.2zM533.2,764.9h1.2v1.2h-1.2zM554.4,706.8h1.2v1.2h-1.2zM533.5,798.5h1.2v1.2h-1.2zM540.8,742.9h1.2v1.2h-1.2zM525.8,709.0h1.2v1.2h-1.2zM529.8,759.9h1.2v1.2h-1.2zM556.2,794.9h1.2v1.2h-1.2zM529.8,728.9h1.2v1.2h-1.2zM519.7,715.8h1.2v1.2h-1.2zM520.7,721.0h1.2v1.2h-1.2zM524.5,736.9h1.2v1.2h-1.2zM532.9,735.3h1.2v1.2h-1.2zM554.4,760.4h1.2v1.2h-1.2zM545.9,713.3h1.2v1.2h-1.2zM529.1,756.6h1.2v1.2h-1.2zM537.5,760.3h1.2v1.2h-1.2zM556.1,727.3h1.2v1.2h-1.2zM548.1,697.9h1.2v1.2h-1.2zM550.2,723.4h1.2v1.2h-1.2zM545.5,751.8h1.2v1.2h-1.2zM551.8,740.4h1.2v1.2h-1.2zM543.2,735.7h1.2v1.2h-1.2zM536.5,697.9h1.2v1.2h-1.2zM559.9,709.0h1.2v1.2h-1.2zM541.2,738.3h1.2v1.2h-1.2zM545.6,753.1h1.2v1.2h-1.2zM558.8,716.9h1.2v1.2h-1.2zM533.3,748.5h1.2v1.2h-1.2zM535.1,744.5h1.2v1.2h-1.2zM537.3,700.0h1.2v1.2h-1.2zM540.6,738.7h1.2v1.2h-1.2zM560.1,715.8h1.2v1.2h-1.2zM566.4,712.2h1.2v1.2h-1.2zM559.8,760.8h1.2v1.2h-1.2zM531.1,702.0h1.2v1.2h-1.2zM525.0,771.1h1.2v1.2h-1.2zM529.8,780.6h1.2v1.2h-1.2zM560.2,773.0h1.2v1.2h-1.2zM560.6,745.1h1.2v1.2h-1.2zM566.3,737.0h1.2v1.2h-1.2zM559.4,764.7h1.2v1.2h-1.2zM528.8,742.6h1.2v1.2h-1.2zM527.3,757.5h1.2v1.2h-1.2zM520.3,745.3h1.2v1.2h-1.2zM530.2,713.5h1.2v1.2h-1.2zM522.3,763.5h1.2v1.2h-1.2zM553.4,705.6h1.2v1.2h-1.2zM537.8,733.5h1.2v1.2h-1.2zM551.2,753.5h1.2v1.2h-1.2zM527.9,785.1h1.2v1.2h-1.2zM528.2,751.1h1.2v1.2h-1.2zM566.2,738.7h1.2v1.2h-1.2zM557.1,725.7h1.2v1.2h-1.2zM533.5,684.3h1.2v1.2h-1.2zM525.9,710.8h1.2v1.2h-1.2zM527.1,745.0h1.2v1.2h-1.2zM555.9,755.1h1.2v1.2h-1.2zM563.6,717.6h1.2v1.2h-1.2zM537.6,711.5h1.2v1.2h-1.2zM537.7,712.0h1.2v1.2h-1.2zM544.7,786.3h1.2v1.2h-1.2zM539.9,766.5h1.2v1.2h-1.2zM534.5,730.5h1.2v1.2h-1.2zM521.0,688.3h1.2v1.2h-1.2zM556.5,697.2h1.2v1.2h-1.2zM538.8,761.9h1.2v1.2h-1.2zM565.4,726.9h1.2v1.2h-1.2zM553.1,797.4h1.2v1.2h-1.2zM553.3,745.9h1.2v1.2h-1.2zM566.1,745.9h1.2v1.2h-1.2zM538.7,739.1h1.2v1.2h-1.2zM561.8,713.0h1.2v1.2h-1.2zM534.7,731.3h1.2v1.2h-1.2zM543.1,759.7h1.2v1.2h-1.2zM522.0,738.9h1.2v1.2h-1.2zM529.6,755.7h1.2v1.2h-1.2zM561.1,707.0h1.2v1.2h-1.2zM551.3,706.6h1.2v1.2h-1.2zM550.1,744.7h1.2v1.2h-1.2zM558.3,714.6h1.2v1.2h-1.2zM557.1,752.9h1.2v1.2h-1.2zM525.9,728.3h1.2v1.2h-1.2zM530.1,765.6h1.2v1.2h-1.2zM530.0,763.0h1.2v1.2h-1.2zM531.2,745.2h1.2v1.2h-1.2zM531.2,724.3h1.2v1.2h-1.2zM540.8,708.1h1.2v1.2h-1.2zM544.8,706.6h1.2v1.2h-1.2zM560.7,706.5h1.2v1.2h-1.2zM539.2,693.2h1.2v1.2h-1.2zM528.0,701.1h1.2v1.2h-1.2zM525.6,704.6h1.2v1.2h-1.2zM525.5,720.6h1.2v1.2h-1.2zM560.6,725.5h1.2v1.2h-1.2zM529.7,773.4h1.2v1.2h-1.2zM542.7,725.1h1.2v1.2h-1.2zM566.3,767.2h1.2v1.2h-1.2zM556.7,741.9h1.2v1.2h-1.2zM550.9,782.5h1.2v1.2h-1.2zM527.2,738.5h1.2v1.2h-1.2zM535.9,733.4h1.2v1.2h-1.2zM548.0,771.8h1.2v1.2h-1.2zM545.8,726.0h1.2v1.2h-1.2zM533.6,753.7h1.2v1.2h-1.2zM539.2,708.9h1.2v1.2h-1.2zM559.8,744.0h1.2v1.2h-1.2zM550.8,730.3h1.2v1.2h-1.2zM526.8,740.7h1.2v1.2h-1.2zM538.8,771.9h1.2v1.2h-1.2zM521.0,723.5h1.2v1.2h-1.2zM533.8,716.0h1.2v1.2h-1.2zM552.2,730.2h1.2v1.2h-1.2zM533.9,715.0h1.2v1.2h-1.2zM564.2,724.3h1.2v1.2h-1.2zM561.2,763.3h1.2v1.2h-1.2zM537.4,747.2h1.2v1.2h-1.2zM526.2,705.9h1.2v1.2h-1.2zM556.6,718.7h1.2v1.2h-1.2zM523.0,753.8h1.2v1.2h-1.2zM557.4,734.4h1.2v1.2h-1.2zM536.7,728.5h1.2v1.2h-1.2zM543.0,764.9h1.2v1.2h-1.2zM526.3,698.0h1.2v1.2h-1.2zM536.2,704.4h1.2v1.2h-1.2zM537.2,709.8h1.2v1.2h-1.2zM561.3,691.7h1.2v1.2h-1.2zM565.8,798.4h1.2v1.2h-1.2zM553.8,742.9h1.2v1.2h-1.2zM530.5,722.3h1.2v1.2h-1.2zM544.9,684.5h1.2v1.2h-1.2zM541.1,748.4h1.2v1.2h-1.2zM529.0,772.3h1.2v1.2h-1.2zM519.2,740.6h1.2v1.2h-1.2zM539.4,702.2h1.2v1.2h-1.2zM562.5,698.0h1.2v1.2h-1.2zM526.4,762.9h1.2v1.2h-1.2zM544.1,750.3h1.2v1.2h-1.2zM536.0,727.0h1.2v1.2h-1.2zM522.1,719.7h1.2v1.2h-1.2zM519.1,769.2h1.2v1.2h-1.2zM537.3,728.0h1.2v1.2h-1.2zM523.8,721.4h1.2v1.2h-1.2zM548.5,716.7h1.2v1.2h-1.2zM552.7,745.3h1.2v1.2h-1.2zM564.6,753.0h1.2v1.2h-1.2zM523.8,722.3h1.2v1.2h-1.2zM558.2,715.6h1.2v1.2h-1.2zM552.0,713.2h1.2v1.2h-1.2zM523.2,803.7h1.2v1.2h-1.2zM523.0,728.7h1.2v1.2h-1.2zM558.4,788.2h1.2v1.2h-1.2zM531.6,739.1h1.2v1.2h-1.2zM531.6,698.8h1.2v1.2h-1.2zM522.7,741.1h1.2v1.2h-1.2zM555.2,745.0h1.2v1.2h-1.2zM543.2,764.4h1.2v1.2h-1.2zM522.1,715.3h1.2v1.2h-1.2zM524.2,716.4h1.2v1.2h-1.2zM525.8,688.4h1.2v1.2h-1.2zM534.9,744.8h1.2v1.2h-1.2zM553.1,738.5h1.2v1.2h-1.2zM565.7,749.1h1.2v1.2h-1.2zM549.0,751.3h1.2v1.2h-1.2zM553.8,770.3h1.2v1.2h-1.2zM556.0,758.7h1.2v1.2h-1.2zM565.8,762.0h1.2v1.2h-1.2zM535.3,785.9h1.2v1.2h-1.2zM533.7,729.3h1.2v1.2h-1.2zM524.1,714.6h1.2v1.2h-1.2zM526.2,723.7h1.2v1.2h-1.2zM555.3,700.5h1.2v1.2h-1.2zM541.2,756.9h1.2v1.2h-1.2zM561.5,710.1h1.2v1.2h-1.2zM520.2,754.2h1.2v1.2h-1.2zM549.9,706.7h1.2v1.2h-1.2zM520.9,717.6h1.2v1.2h-1.2zM545.1,755.5h1.2v1.2h-1.2zM530.0,776.0h1.2v1.2h-1.2zM535.4,741.3h1.2v1.2h-1.2zM547.1,726.3h1.2v1.2h-1.2zM522.6,707.6h1.2v1.2h-1.2zM551.3,747.8h1.2v1.2h-1.2zM565.9,742.4h1.2v1.2h-1.2zM546.0,761.8h1.2v1.2h-1.2zM552.2,748.9h1.2v1.2h-1.2zM549.6,723.0h1.2v1.2h-1.2zM544.4,711.8h1.2v1.2h-1.2zM520.7,743.9h1.2v1.2h-1.2zM537.7,710.2h1.2v1.2h-1.2zM555.4,736.0h1.2v1.2h-1.2zM548.1,699.3h1.2v1.2h-1.2zM525.2,726.6h1.2v1.2h-1.2zM534.6,692.8h1.2v1.2h-1.2zM539.0,751.9h1.2v1.2h-1.2zM523.0,751.0h1.2v1.2h-1.2zM523.7,779.0h1.2v1.2h-1.2zM518.2,718.2h1.2v1.2h-1.2zM559.4,731.3h1.2v1.2h-1.2zM543.9,721.4h1.2v1.2h-1.2zM553.0,762.3h1.2v1.2h-1.2zM543.0,752.0h1.2v1.2h-1.2zM532.7,768.8h1.2v1.2h-1.2zM545.8,709.5h1.2v1.2h-1.2zM546.3,726.0h1.2v1.2h-1.2zM519.1,701.9h1.2v1.2h-1.2zM560.2,732.2h1.2v1.2h-1.2zM550.5,720.7h1.2v1.2h-1.2zM519.3,718.5h1.2v1.2h-1.2zM543.8,703.3h1.2v1.2h-1.2zM521.9,716.2h1.2v1.2h-1.2zM545.6,695.4h1.2v1.2h-1.2zM539.4,774.8h1.2v1.2h-1.2zM544.8,726.9h1.2v1.2h-1.2zM559.3,727.6h1.2v1.2h-1.2zM529.6,710.9h1.2v1.2h-1.2zM556.8,738.4h1.2v1.2h-1.2zM532.1,687.6h1.2v1.2h-1.2zM557.4,700.5h1.2v1.2h-1.2zM523.4,698.1h1.2v1.2h-1.2zM539.3,706.7h1.2v1.2h-1.2zM534.5,733.9h1.2v1.2h-1.2zM549.7,768.8h1.2v1.2h-1.2zM538.4,719.1h1.2v1.2h-1.2zM559.5,726.1h1.2v1.2h-1.2zM564.2,724.7h1.2v1.2h-1.2zM521.9,758.2h1.2v1.2h-1.2zM536.3,726.0h1.2v1.2h-1.2zM547.1,802.0h1.2v1.2h-1.2zM538.2,686.6h1.2v1.2h-1.2zM558.8,708.2h1.2v1.2h-1.2zM520.0,751.6h1.2v1.2h-1.2zM537.6,706.8h1.2v1.2h-1.2zM566.5,777.2h1.2v1.2h-1.2zM560.5,707.2h1.2v1.2h-1.2zM546.1,774.9h1.2v1.2h-1.2zM552.8,726.6h1.2v1.2h-1.2zM521.5,713.3h1.2v1.2h-1.2zM551.7,803.1h1.2v1.2h-1.2zM548.0,725.9h1.2v1.2h-1.2zM547.0,725.8h1.2v1.2h-1.2zM565.4,728.2h1.2v1.2h-1.2zM523.9,750.6h1.2v1.2h-1.2zM532.8,767.5h1.2v1.2h-1.2zM564.6,750.8h1.2v1.2h-1.2zM546.5,749.3h1.2v1.2h-1.2zM550.9,696.8h1.2v1.2h-1.2zM540.9,801.6h1.2v1.2h-1.2zM534.0,718.2h1.2v1.2h-1.2zM540.7,733.6h1.2v1.2h-1.2zM543.3,782.4h1.2v1.2h-1.2zM524.8,745.7h1.2v1.2h-1.2zM532.1,761.6h1.2v1.2h-1.2zM538.3,744.6h1.2v1.2h-1.2zM541.2,725.3h1.2v1.2h-1.2zM559.9,745.7h1.2v1.2h-1.2zM518.0,723.1h1.2v1.2h-1.2zM549.2,706.4h1.2v1.2h-1.2zM545.0,706.6h1.2v1.2h-1.2zM537.2,723.7h1.2v1.2h-1.2zM552.5,719.9h1.2v1.2h-1.2zM543.6,730.8h1.2v1.2h-1.2zM523.2,717.0h1.2v1.2h-1.2zM549.0,728.2h1.2v1.2h-1.2zM561.4,762.2h1.2v1.2h-1.2zM552.1,746.7h1.2v1.2h-1.2zM534.9,763.9h1.2v1.2h-1.2zM525.3,702.5h1.2v1.2h-1.2zM520.1,728.8h1.2v1.2h-1.2zM534.0,750.4h1.2v1.2h-1.2zM527.7,727.4h1.2v1.2h-1.2zM536.2,779.4h1.2v1.2h-1.2zM522.3,793.4h1.2v1.2h-1.2zM560.3,719.3h1.2v1.2h-1.2zM545.0,746.1h1.2v1.2h-1.2zM537.3,731.8h1.2v1.2h-1.2zM549.4,743.3h1.2v1.2h-1.2zM544.7,778.5h1.2v1.2h-1.2zM540.8,758.0h1.2v1.2h-1.2zM557.6,739.6h1.2v1.2h-1.2zM555.4,735.0h1.2v1.2h-1.2zM551.3,767.4h1.2v1.2h-1.2zM521.8,782.7h1.2v1.2h-1.2zM536.2,703.1h1.2v1.2h-1.2zM538.1,701.4h1.2v1.2h-1.2zM529.6,730.1h1.2v1.2h-1.2zM552.5,736.6h1.2v1.2h-1.2zM535.4,729.0h1.2v1.2h-1.2zM548.8,737.3h1.2v1.2h-1.2zM539.3,730.9h1.2v1.2h-1.2zM547.0,693.1h1.2v1.2h-1.2zM561.1,741.9h1.2v1.2h-1.2zM524.1,767.9h1.2v1.2h-1.2zM531.6,754.0h1.2v1.2h-1.2zM534.1,761.0h1.2v1.2h-1.2zM524.6,697.7h1.2v1.2h-1.2zM525.4,737.0h1.2v1.2h-1.2zM540.6,756.5h1.2v1.2h-1.2zM558.3,742.0h1.2v1.2h-1.2zM557.0,760.9h1.2v1.2h-1.2zM549.3,717.7h1.2v1.2h-1.2zM533.2,736.6h1.2v1.2h-1.2zM538.0,696.9h1.2v1.2h-1.2zM564.6,751.1h1.2v1.2h-1.2zM554.4,731.3h1.2v1.2h-1.2zM531.2,776.2h1.2v1.2h-1.2zM566.5,707.9h1.2v1.2h-1.2zM547.3,689.1h1.2v1.2h-1.2zM552.3,731.5h1.2v1.2h-1.2zM533.7,731.5h1.2v1.2h-1.2zM531.8,747.5h1.2v1.2h-1.2zM544.0,722.4h1.2v1.2h-1.2zM525.9,695.3h1.2v1.2h-1.2zM541.3,686.5h1.2v1.2h-1.2zM536.2,752.6h1.2v1.2h-1.2zM548.5,724.7h1.2v1.2h-1.2zM556.1,731.1h1.2v1.2h-1.2zM538.4,733.9h1.2v1.2h-1.2zM526.5,741.9h1.2v1.2h-1.2zM523.6,699.0h1.2v1.2h-1.2zM563.3,749.9h1.2v1.2h-1.2zM523.7,706.9h1.2v1.2h-1.2zM545.0,736.2h1.2v1.2h-1.2zM543.9,790.9h1.2v1.2h-1.2zM539.1,733.6h1.2v1.2h-1.2zM519.6,735.7h1.2v1.2h-1.2zM531.4,722.1h1.2v1.2h-1.2zM523.9,743.4h1.2v1.2h-1.2zM553.2,704.0h1.2v1.2h-1.2zM522.6,757.9h1.2v1.2h-1.2zM532.8,733.8h1.2v1.2h-1.2zM548.3,696.3h1.2v1.2h-1.2zM566.5,802.4h1.2v1.2h-1.2zM538.8,721.8h1.2v1.2h-1.2zM552.0,794.9h1.2v1.2h-1.2zM536.6,749.2h1.2v1.2h-1.2zM548.3,737.6h1.2v1.2h-1.2zM541.5,696.8h1.2v1.2h-1.2zM531.2,740.6h1.2v1.2h-1.2zM539.1,715.9h1.2v1.2h-1.2zM532.1,725.0h1.2v1.2h-1.2zM531.1,713.2h1.2v1.2h-1.2zM524.4,741.5h1.2v1.2h-1.2zM519.2,724.8h1.2v1.2h-1.2zM552.2,703.1h1.2v1.2h-1.2zM543.0,740.9h1.2v1.2h-1.2zM522.5,724.6h1.2v1.2h-1.2zM565.7,770.1h1.2v1.2h-1.2zM550.8,766.1h1.2v1.2h-1.2zM556.2,711.1h1.2v1.2h-1.2zM519.4,713.4h1.2v1.2h-1.2zM526.2,769.2h1.2v1.2h-1.2zM519.3,706.1h1.2v1.2h-1.2zM548.7,771.3h1.2v1.2h-1.2zM565.9,738.3h1.2v1.2h-1.2zM521.6,767.0h1.2v1.2h-1.2zM518.0,748.2h1.2v1.2h-1.2zM524.2,713.0h1.2v1.2h-1.2zM526.7,733.2h1.2v1.2h-1.2zM562.7,697.2h1.2v1.2h-1.2zM536.4,763.8h1.2v1.2h-1.2zM552.8,800.7h1.2v1.2h-1.2zM541.5,746.3h1.2v1.2h-1.2zM550.9,754.8h1.2v1.2h-1.2zM563.4,712.5h1.2v1.2h-1.2zM565.7,774.8h1.2v1.2h-1.2zM550.6,745.8h1.2v1.2h-1.2zM556.8,716.8h1.2v1.2h-1.2zM566.5,738.8h1.2v1.2h-1.2zM542.3,728.0h1.2v1.2h-1.2zM553.6,716.9h1.2v1.2h-1.2zM561.6,741.9h1.2v1.2h-1.2zM544.3,792.9h1.2v1.2h-1.2zM520.9,704.5h1.2v1.2h-1.2zM561.8,713.9h1.2v1.2h-1.2zM526.3,738.9h1.2v1.2h-1.2zM543.5,723.2h1.2v1.2h-1.2zM526.6,719.1h1.2v1.2h-1.2zM562.4,725.2h1.2v1.2h-1.2zM560.1,781.3h1.2v1.2h-1.2zM550.3,737.2h1.2v1.2h-1.2zM528.7,710.1h1.2v1.2h-1.2zM549.0,702.6h1.2v1.2h-1.2zM520.9,771.3h1.2v1.2h-1.2zM566.2,721.8h1.2v1.2h-1.2zM519.4,708.9h1.2v1.2h-1.2zM524.8,693.3h1.2v1.2h-1.2zM552.0,785.8h1.2v1.2h-1.2zM560.3,711.5h1.2v1.2h-1.2zM527.7,708.3h1.2v1.2h-1.2zM529.1,708.5h1.2v1.2h-1.2zM546.2,710.5h1.2v1.2h-1.2zM524.7,729.2h1.2v1.2h-1.2zM557.3,743.8h1.2v1.2h-1.2zM527.5,742.1h1.2v1.2h-1.2zM539.2,702.4h1.2v1.2h-1.2zM526.8,695.1h1.2v1.2h-1.2zM552.0,733.2h1.2v1.2h-1.2zM564.0,761.4h1.2v1.2h-1.2zM551.8,773.5h1.2v1.2h-1.2zM566.6,717.8h1.2v1.2h-1.2zM541.1,723.6h1.2v1.2h-1.2zM548.3,796.0h1.2v1.2h-1.2zM530.6,720.4h1.2v1.2h-1.2zM552.0,740.2h1.2v1.2h-1.2zM520.0,720.4h1.2v1.2h-1.2zM547.2,692.0h1.2v1.2h-1.2zM558.5,738.3h1.2v1.2h-1.2zM550.6,704.4h1.2v1.2h-1.2zM549.9,713.9h1.2v1.2h-1.2zM556.4,728.2h1.2v1.2h-1.2zM547.8,712.2h1.2v1.2h-1.2zM551.4,708.0h1.2v1.2h-1.2zM563.4,758.8h1.2v1.2h-1.2zM556.4,724.1h1.2v1.2h-1.2zM527.5,706.8h1.2v1.2h-1.2zM525.5,691.7h1.2v1.2h-1.2zM547.5,712.3h1.2v1.2h-1.2zM545.2,727.8h1.2v1.2h-1.2zM562.7,698.3h1.2v1.2h-1.2zM548.9,739.9h1.2v1.2h-1.2zM565.6,796.7h1.2v1.2h-1.2zM539.5,734.5h1.2v1.2h-1.2zM562.1,752.3h1.2v1.2h-1.2zM522.4,716.2h1.2v1.2h-1.2zM532.4,758.7h1.2v1.2h-1.2zM564.7,706.9h1.2v1.2h-1.2zM548.5,743.0h1.2v1.2h-1.2zM564.6,696.2h1.2v1.2h-1.2zM543.0,727.3h1.2v1.2h-1.2zM564.9,787.9h1.2v1.2h-1.2zM519.1,756.6h1.2v1.2h-1.2zM560.9,728.4h1.2v1.2h-1.2zM534.0,761.8h1.2v1.2h-1.2zM521.9,691.2h1.2v1.2h-1.2zM556.3,763.3h1.2v1.2h-1.2zM556.1,690.2h1.2v1.2h-1.2zM562.9,712.9h1.2v1.2h-1.2zM537.2,743.2h1.2v1.2h-1.2zM534.9,740.9h1.2v1.2h-1.2zM542.2,705.5h1.2v1.2h-1.2zM531.8,737.8h1.2v1.2h-1.2zM558.9,710.1h1.2v1.2h-1.2zM545.1,731.6h1.2v1.2h-1.2zM553.3,708.4h1.2v1.2h-1.2zM550.4,760.7h1.2v1.2h-1.2zM520.0,715.8h1.2v1.2h-1.2zM521.8,708.7h1.2v1.2h-1.2zM526.6,766.8h1.2v1.2h-1.2zM530.8,727.8h1.2v1.2h-1.2zM519.6,739.0h1.2v1.2h-1.2zM552.2,701.1h1.2v1.2h-1.2zM547.5,728.8h1.2v1.2h-1.2zM559.4,714.6h1.2v1.2h-1.2zM560.4,740.8h1.2v1.2h-1.2zM525.8,785.8h1.2v1.2h-1.2zM541.9,717.8h1.2v1.2h-1.2zM522.7,704.0h1.2v1.2h-1.2zM561.0,693.7h1.2v1.2h-1.2zM529.9,788.2h1.2v1.2h-1.2zM545.1,692.1h1.2v1.2h-1.2zM562.8,752.1h1.2v1.2h-1.2zM554.9,719.6h1.2v1.2h-1.2zM540.5,726.2h1.2v1.2h-1.2zM542.3,740.4h1.2v1.2h-1.2zM537.4,701.4h1.2v1.2h-1.2zM550.4,784.4h1.2v1.2h-1.2zM547.9,707.4h1.2v1.2h-1.2zM536.3,709.3h1.2v1.2h-1.2zM531.1,738.4h1.2v1.2h-1.2zM553.0,712.9h1.2v1.2h-1.2zM545.3,738.7h1.2v1.2h-1.2zM534.9,756.9h1.2v1.2h-1.2zM520.6,793.0h1.2v1.2h-1.2zM534.3,737.7h1.2v1.2h-1.2zM519.0,758.8h1.2v1.2h-1.2zM560.3,690.0h1.2v1.2h-1.2zM533.6,701.9h1.2v1.2h-1.2zM533.7,720.9h1.2v1.2h-1.2zM550.5,770.2h1.2v1.2h-1.2zM558.8,729.0h1.2v1.2h-1.2zM524.5,737.9h1.2v1.2h-1.2zM564.0,706.0h1.2v1.2h-1.2zM525.7,694.3h1.2v1.2h-1.2zM543.2,719.6h1.2v1.2h-1.2zM523.2,694.2h1.2v1.2h-1.2zM526.2,732.8h1.2v1.2h-1.2zM535.9,742.6h1.2v1.2h-1.2zM549.4,705.7h1.2v1.2h-1.2zM554.0,769.0h1.2v1.2h-1.2zM557.4,743.5h1.2v1.2h-1.2zM548.4,738.8h1.2v1.2h-1.2zM520.6,785.2h1.2v1.2h-1.2zM544.2,760.7h1.2v1.2h-1.2zM524.6,722.0h1.2v1.2h-1.2zM544.7,718.7h1.2v1.2h-1.2zM522.6,777.0h1.2v1.2h-1.2zM546.9,726.9h1.2v1.2h-1.2zM532.0,756.9h1.2v1.2h-1.2zM564.8,752.4h1.2v1.2h-1.2zM524.2,725.3h1.2v1.2h-1.2zM550.1,716.2h1.2v1.2h-1.2zM561.2,789.3h1.2v1.2h-1.2zM533.2,767.2h1.2v1.2h-1.2zM549.4,732.2h1.2v1.2h-1.2zM519.5,747.2h1.2v1.2h-1.2zM551.0,765.2h1.2v1.2h-1.2zM524.0,725.7h1.2v1.2h-1.2zM520.7,750.0h1.2v1.2h-1.2zM539.6,754.4h1.2v1.2h-1.2zM536.6,794.6h1.2v1.2h-1.2zM537.8,693.5h1.2v1.2h-1.2zM551.2,707.1h1.2v1.2h-1.2zM540.6,750.6h1.2v1.2h-1.2zM531.8,754.9h1.2v1.2h-1.2zM531.3,707.8h1.2v1.2h-1.2zM542.0,765.3h1.2v1.2h-1.2zM528.0,746.2h1.2v1.2h-1.2zM540.1,692.0h1.2v1.2h-1.2zM530.0,735.6h1.2v1.2h-1.2zM563.3,698.4h1.2v1.2h-1.2zM541.4,725.6h1.2v1.2h-1.2zM559.9,757.5h1.2v1.2h-1.2zM548.0,734.0h1.2v1.2h-1.2zM522.1,748.2h1.2v1.2h-1.2zM537.7,692.2h1.2v1.2h-1.2zM537.4,699.5h1.2v1.2h-1.2zM551.7,720.6h1.2v1.2h-1.2zM532.8,757.9h1.2v1.2h-1.2zM540.1,720.7h1.2v1.2h-1.2zM521.4,739.8h1.2v1.2h-1.2zM557.2,786.5h1.2v1.2h-1.2zM535.6,755.0h1.2v1.2h-1.2zM544.3,743.1h1.2v1.2h-1.2zM536.3,721.2h1.2v1.2h-1.2zM563.9,712.2h1.2v1.2h-1.2zM549.7,746.5h1.2v1.2h-1.2zM531.0,693.6h1.2v1.2h-1.2zM540.1,754.0h1.2v1.2h-1.2zM553.6,719.2h1.2v1.2h-1.2zM519.1,703.3h1.2v1.2h-1.2zM531.1,724.4h1.2v1.2h-1.2zM525.0,715.0h1.2v1.2h-1.2zM565.9,750.8h1.2v1.2h-1.2zM528.7,749.9h1.2v1.2h-1.2zM528.8,753.1h1.2v1.2h-1.2zM550.9,720.7h1.2v1.2h-1.2zM551.3,712.7h1.2v1.2h-1.2zM546.6,750.3h1.2v1.2h-1.2zM562.3,730.7h1.2v1.2h-1.2zM526.1,742.4h1.2v1.2h-1.2zM525.7,758.2h1.2v1.2h-1.2zM545.2,686.5h1.2v1.2h-1.2zM537.6,701.4h1.2v1.2h-1.2zM527.3,719.2h1.2v1.2h-1.2zM533.1,709.7h1.2v1.2h-1.2zM527.6,701.9h1.2v1.2h-1.2zM529.5,728.4h1.2v1.2h-1.2zM551.3,797.6h1.2v1.2h-1.2zM546.9,701.5h1.2v1.2h-1.2zM520.6,785.3h1.2v1.2h-1.2zM552.9,753.8h1.2v1.2h-1.2zM533.8,687.4h1.2v1.2h-1.2zM529.1,742.5h1.2v1.2h-1.2zM557.5,736.7h1.2v1.2h-1.2zM533.0,706.5h1.2v1.2h-1.2zM527.0,783.7h1.2v1.2h-1.2zM518.5,713.0h1.2v1.2h-1.2zM519.4,752.8h1.2v1.2h-1.2zM547.5,744.1h1.2v1.2h-1.2zM542.0,688.5h1.2v1.2h-1.2zM545.1,719.3h1.2v1.2h-1.2zM520.7,721.2h1.2v1.2h-1.2zM535.9,715.2h1.2v1.2h-1.2zM546.0,711.9h1.2v1.2h-1.2zM522.2,707.6h1.2v1.2h-1.2zM555.3,765.1h1.2v1.2h-1.2zM559.3,766.1h1.2v1.2h-1.2zM551.3,734.6h1.2v1.2h-1.2zM518.4,712.4h1.2v1.2h-1.2zM520.2,735.1h1.2v1.2h-1.2zM543.9,780.3h1.2v1.2h-1.2zM554.9,779.5h1.2v1.2h-1.2zM563.9,712.6h1.2v1.2h-1.2zM538.7,720.5h1.2v1.2h-1.2zM546.8,760.1h1.2v1.2h-1.2zM519.5,693.9h1.2v1.2h-1.2zM534.3,734.3h1.2v1.2h-1.2zM546.0,722.4h1.2v1.2h-1.2zM544.0,766.6h1.2v1.2h-1.2zM562.8,753.9h1.2v1.2h-1.2zM537.5,738.5h1.2v1.2h-1.2zM555.6,737.4h1.2v1.2h-1.2zM522.6,714.9h1.2v1.2h-1.2zM552.6,716.2h1.2v1.2h-1.2zM560.8,721.1h1.2v1.2h-1.2zM558.4,766.5h1.2v1.2h-1.2zM527.8,720.0h1.2v1.2h-1.2zM559.7,739.1h1.2v1.2h-1.2zM556.7,782.7h1.2v1.2h-1.2zM522.9,723.6h1.2v1.2h-1.2zM563.9,737.2h1.2v1.2h-1.2zM535.9,766.2h1.2v1.2h-1.2zM525.7,770.3h1.2v1.2h-1.2zM565.4,716.4h1.2v1.2h-1.2zM532.5,703.5h1.2v1.2h-1.2zM550.2,744.8h1.2v1.2h-1.2zM519.2,749.4h1.2v1.2h-1.2zM560.1,709.2h1.2v1.2h-1.2zM526.4,762.0h1.2v1.2h-1.2zM551.5,696.6h1.2v1.2h-1.2zM521.1,711.9h1.2v1.2h-1.2zM540.1,768.1h1.2v1.2h-1.2zM560.8,795.9h1.2v1.2h-1.2zM548.4,719.6h1.2v1.2h-1.2zM547.1,687.4h1.2v1.2h-1.2zM552.2,761.8h1.2v1.2h-1.2zM562.7,740.9h1.2v1.2h-1.2zM518.0,732.3h1.2v1.2h-1.2zM520.3,712.1h1.2v1.2h-1.2zM546.6,699.5h1.2v1.2h-1.2zM565.0,735.6h1.2v1.2h-1.2zM547.6,755.4h1.2v1.2h-1.2zM545.7,717.5h1.2v1.2h-1.2zM556.2,694.7h1.2v1.2h-1.2zM528.6,773.5h1.2v1.2h-1.2zM561.7,767.3h1.2v1.2h-1.2zM518.5,755.5h1.2v1.2h-1.2zM540.3,691.8h1.2v1.2h-1.2zM546.3,741.8h1.2v1.2h-1.2zM553.2,725.0h1.2v1.2h-1.2zM521.3,726.2h1.2v1.2h-1.2zM519.7,697.2h1.2v1.2h-1.2zM536.1,712.3h1.2v1.2h-1.2zM555.1,771.0h1.2v1.2h-1.2zM522.8,734.7h1.2v1.2h-1.2zM537.7,746.6h1.2v1.2h-1.2zM562.5,701.5h1.2v1.2h-1.2zM544.6,706.0h1.2v1.2h-1.2zM560.2,716.3h1.2v1.2h-1.2zM538.9,788.9h1.2v1.2h-1.2zM529.9,766.7h1.2v1.2h-1.2zM561.6,726.1h1.2v1.2h-1.2zM559.6,757.9h1.2v1.2h-1.2zM523.9,751.8h1.2v1.2h-1.2zM557.8,803.3h1.2v1.2h-1.2zM549.2,723.6h1.2v1.2h-1.2zM521.1,771.0h1.2v1.2h-1.2zM529.9,690.0h1.2v1.2h-1.2zM557.5,713.9h1.2v1.2h-1.2zM543.8,723.1h1.2v1.2h-1.2zM538.6,747.4h1.2v1.2h-1.2zM560.7,737.7h1.2v1.2h-1.2zM533.2,700.9h1.2v1.2h-1.2zM550.7,717.9h1.2v1.2h-1.2zM558.1,781.2h1.2v1.2h-1.2zM563.8,710.0h1.2v1.2h-1.2zM552.0,707.0h1.2v1.2h-1.2zM521.4,778.3h1.2v1.2h-1.2zM535.4,720.7h1.2v1.2h-1.2zM518.8,727.5h1.2v1.2h-1.2zM529.9,751.0h1.2v1.2h-1.2zM534.4,735.0h1.2v1.2h-1.2zM527.3,746.2h1.2v1.2h-1.2zM565.8,762.0h1.2v1.2h-1.2zM518.9,694.2h1.2v1.2h-1.2zM530.2,734.6h1.2v1.2h-1.2zM521.1,752.2h1.2v1.2h-1.2zM539.2,719.8h1.2v1.2h-1.2zM527.5,730.5h1.2v1.2h-1.2zM554.2,720.3h1.2v1.2h-1.2zM564.9,737.1h1.2v1.2h-1.2zM532.0,747.7h1.2v1.2h-1.2zM520.5,710.0h1.2v1.2h-1.2zM558.9,764.5h1.2v1.2h-1.2zM555.0,726.2h1.2v1.2h-1.2zM526.4,723.2h1.2v1.2h-1.2zM549.0,770.5h1.2v1.2h-1.2zM530.3,710.6h1.2v1.2h-1.2zM527.3,725.2h1.2v1.2h-1.2zM532.0,745.2h1.2v1.2h-1.2zM558.2,739.7h1.2v1.2h-1.2zM543.6,707.4h1.2v1.2h-1.2zM539.7,718.9h1.2v1.2h-1.2zM549.4,709.5h1.2v1.2h-1.2zM552.2,717.6h1.2v1.2h-1.2zM542.8,713.0h1.2v1.2h-1.2zM556.0,756.0h1.2v1.2h-1.2zM547.6,732.6h1.2v1.2h-1.2zM532.3,777.6h1.2v1.2h-1.2zM547.4,714.3h1.2v1.2h-1.2zM537.9,723.5h1.2v1.2h-1.2zM552.5,799.3h1.2v1.2h-1.2zM532.6,705.8h1.2v1.2h-1.2zM527.6,699.3h1.2v1.2h-1.2zM551.0,744.6h1.2v1.2h-1.2zM564.7,720.1h1.2v1.2h-1.2zM522.0,739.5h1.2v1.2h-1.2zM526.0,720.4h1.2v1.2h-1.2zM530.1,761.7h1.2v1.2h-1.2zM520.0,752.6h1.2v1.2h-1.2zM530.1,774.7h1.2v1.2h-1.2zM528.0,759.5h1.2v1.2h-1.2zM562.2,787.5h1.2v1.2h-1.2zM526.4,709.6h1.2v1.2h-1.2zM543.1,761.1h1.2v1.2h-1.2zM533.9,759.6h1.2v1.2h-1.2zM564.5,719.5h1.2v1.2h-1.2zM543.7,691.3h1.2v1.2h-1.2zM552.8,739.0h1.2v1.2h-1.2zM547.6,728.7h1.2v1.2h-1.2zM556.2,750.1h1.2v1.2h-1.2zM565.9,708.1h1.2v1.2h-1.2zM523.5,708.2h1.2v1.2h-1.2zM553.7,752.7h1.2v1.2h-1.2zM561.2,741.7h1.2v1.2h-1.2zM518.1,682.7h1.2v1.2h-1.2zM546.3,732.3h1.2v1.2h-1.2zM561.3,719.0h1.2v1.2h-1.2zM562.6,803.0h1.2v1.2h-1.2zM533.7,711.0h1.2v1.2h-1.2zM527.9,738.3h1.2v1.2h-1.2zM555.0,750.9h1.2v1.2h-1.2zM536.2,731.8h1.2v1.2h-1.2zM541.4,689.6h1.2v1.2h-1.2zM560.8,728.7h1.2v1.2h-1.2zM545.1,751.4h1.2v1.2h-1.2zM548.5,736.1h1.2v1.2h-1.2zM518.8,730.1h1.2v1.2h-1.2zM560.9,732.8h1.2v1.2h-1.2zM522.1,750.2h1.2v1.2h-1.2zM535.1,729.4h1.2v1.2h-1.2zM561.4,696.8h1.2v1.2h-1.2zM518.0,709.2h1.2v1.2h-1.2zM532.6,707.0h1.2v1.2h-1.2zM526.7,724.8h1.2v1.2h-1.2zM557.8,706.0h1.2v1.2h-1.2zM551.0,693.3h1.2v1.2h-1.2zM565.1,752.3h1.2v1.2h-1.2zM545.4,766.0h1.2v1.2h-1.2zM524.6,750.0h1.2v1.2h-1.2zM536.4,736.8h1.2v1.2h-1.2zM519.7,732.0h1.2v1.2h-1.2zM538.7,712.5h1.2v1.2h-1.2zM533.6,746.5h1.2v1.2h-1.2zM530.5,758.3h1.2v1.2h-1.2zM549.6,743.4h1.2v1.2h-1.2zM521.5,735.2h1.2v1.2h-1.2zM518.7,758.5h1.2v1.2h-1.2zM533.3,687.1h1.2v1.2h-1.2zM519.3,715.5h1.2v1.2h-1.2zM535.4,730.9h1.2v1.2h-1.2zM564.1,760.8h1.2v1.2h-1.2zM554.3,771.7h1.2v1.2h-1.2zM562.9,700.7h1.2v1.2h-1.2zM523.7,738.5h1.2v1.2h-1.2zM521.9,736.1h1.2v1.2h-1.2zM557.1,718.7h1.2v1.2h-1.2zM550.4,780.7h1.2v1.2h-1.2zM553.5,701.1h1.2v1.2h-1.2zM555.7,692.4h1.2v1.2h-1.2zM562.0,715.1h1.2v1.2h-1.2zM537.8,730.1h1.2v1.2h-1.2zM547.1,730.4h1.2v1.2h-1.2zM534.3,721.9h1.2v1.2h-1.2zM541.5,751.5h1.2v1.2h-1.2zM545.4,755.9h1.2v1.2h-1.2zM545.1,723.9h1.2v1.2h-1.2zM551.4,740.2h1.2v1.2h-1.2zM543.3,699.1h1.2v1.2h-1.2zM550.6,761.0h1.2v1.2h-1.2zM542.1,740.4h1.2v1.2h-1.2zM555.5,718.9h1.2v1.2h-1.2zM549.8,748.9h1.2v1.2h-1.2zM537.0,749.2h1.2v1.2h-1.2zM544.4,786.8h1.2v1.2h-1.2zM549.3,758.2h1.2v1.2h-1.2zM538.0,722.7h1.2v1.2h-1.2zM531.0,775.7h1.2v1.2h-1.2zM528.7,775.2h1.2v1.2h-1.2zM525.2,774.6h1.2v1.2h-1.2zM543.6,739.6h1.2v1.2h-1.2zM555.7,746.6h1.2v1.2h-1.2zM549.3,715.0h1.2v1.2h-1.2zM548.5,743.2h1.2v1.2h-1.2zM552.9,721.0h1.2v1.2h-1.2zM561.1,724.9h1.2v1.2h-1.2zM561.3,720.2h1.2v1.2h-1.2zM554.1,759.4h1.2v1.2h-1.2zM538.1,695.2h1.2v1.2h-1.2zM559.8,737.9h1.2v1.2h-1.2zM563.6,752.8h1.2v1.2h-1.2zM520.2,768.7h1.2v1.2h-1.2zM524.6,750.7h1.2v1.2h-1.2zM540.0,741.5h1.2v1.2h-1.2zM541.7,713.3h1.2v1.2h-1.2zM529.9,768.1h1.2v1.2h-1.2zM546.6,701.9h1.2v1.2h-1.2zM543.1,740.1h1.2v1.2h-1.2zM546.9,764.9h1.2v1.2h-1.2zM518.1,749.5h1.2v1.2h-1.2zM544.8,745.4h1.2v1.2h-1.2zM554.1,762.9h1.2v1.2h-1.2zM547.7,741.3h1.2v1.2h-1.2zM517.7,749.3h1.2v1.2h-1.2zM531.3,701.6h1.2v1.2h-1.2zM530.6,700.6h1.2v1.2h-1.2zM560.3,751.6h1.2v1.2h-1.2zM524.7,733.7h1.2v1.2h-1.2zM560.3,722.0h1.2v1.2h-1.2zM546.2,747.3h1.2v1.2h-1.2zM543.1,708.8h1.2v1.2h-1.2zM543.2,694.9h1.2v1.2h-1.2zM526.2,745.4h1.2v1.2h-1.2zM558.8,796.8h1.2v1.2h-1.2zM546.4,737.6h1.2v1.2h-1.2zM521.1,707.6h1.2v1.2h-1.2zM518.4,727.3h1.2v1.2h-1.2zM554.1,703.2h1.2v1.2h-1.2zM559.4,729.9h1.2v1.2h-1.2zM558.1,738.7h1.2v1.2h-1.2zM535.5,742.0h1.2v1.2h-1.2zM536.6,757.7h1.2v1.2h-1.2zM529.4,687.3h1.2v1.2h-1.2zM541.0,776.3h1.2v1.2h-1.2zM547.5,770.2h1.2v1.2h-1.2zM544.0,709.5h1.2v1.2h-1.2zM535.2,761.8h1.2v1.2h-1.2zM523.7,725.8h1.2v1.2h-1.2zM520.3,752.7h1.2v1.2h-1.2zM560.3,795.0h1.2v1.2h-1.2zM538.0,735.6h1.2v1.2h-1.2zM525.1,722.6h1.2v1.2h-1.2zM533.2,696.8h1.2v1.2h-1.2zM524.1,716.7h1.2v1.2h-1.2zM556.6,703.6h1.2v1.2h-1.2zM545.3,787.7h1.2v1.2h-1.2zM547.8,708.9h1.2v1.2h-1.2zM564.0,740.9h1.2v1.2h-1.2zM564.5,724.0h1.2v1.2h-1.2zM529.3,761.5h1.2v1.2h-1.2zM521.5,720.3h1.2v1.2h-1.2zM555.2,706.8h1.2v1.2h-1.2zM526.4,770.0h1.2v1.2h-1.2zM533.5,701.1h1.2v1.2h-1.2zM541.9,720.4h1.2v1.2h-1.2zM548.4,737.5h1.2v1.2h-1.2zM535.2,743.3h1.2v1.2h-1.2zM535.3,734.5h1.2v1.2h-1.2zM541.6,758.4h1.2v1.2h-1.2zM556.5,765.2h1.2v1.2h-1.2zM549.8,715.0h1.2v1.2h-1.2zM538.1,691.6h1.2v1.2h-1.2zM549.6,763.0h1.2v1.2h-1.2zM561.4,697.3h1.2v1.2h-1.2zM539.8,712.2h1.2v1.2h-1.2zM535.0,731.9h1.2v1.2h-1.2zM525.1,771.8h1.2v1.2h-1.2zM519.7,771.6h1.2v1.2h-1.2zM543.4,702.4h1.2v1.2h-1.2zM536.0,765.0h1.2v1.2h-1.2zM522.5,774.6h1.2v1.2h-1.2zM524.8,786.6h1.2v1.2h-1.2zM536.7,740.6h1.2v1.2h-1.2zM521.3,715.5h1.2v1.2h-1.2zM539.1,760.5h1.2v1.2h-1.2zM518.1,735.8h1.2v1.2h-1.2zM540.4,744.8h1.2v1.2h-1.2zM532.8,733.5h1.2v1.2h-1.2zM520.5,706.6h1.2v1.2h-1.2zM564.3,745.3h1.2v1.2h-1.2zM557.7,753.5h1.2v1.2h-1.2zM521.7,720.8h1.2v1.2h-1.2zM518.2,769.5h1.2v1.2h-1.2zM532.5,741.8h1.2v1.2h-1.2zM526.9,730.2h1.2v1.2h-1.2zM564.0,748.9h1.2v1.2h-1.2zM532.1,770.3h1.2v1.2h-1.2zM527.8,776.8h1.2v1.2h-1.2zM555.2,786.8h1.2v1.2h-1.2zM561.8,699.2h1.2v1.2h-1.2zM549.4,751.4h1.2v1.2h-1.2zM554.9,686.3h1.2v1.2h-1.2zM528.7,792.3h1.2v1.2h-1.2zM540.5,799.8h1.2v1.2h-1.2zM539.6,739.8h1.2v1.2h-1.2zM545.4,698.5h1.2v1.2h-1.2zM561.4,711.3h1.2v1.2h-1.2zM520.1,770.5h1.2v1.2h-1.2zM535.1,733.3h1.2v1.2h-1.2zM531.1,739.0h1.2v1.2h-1.2zM518.7,727.5h1.2v1.2h-1.2zM532.1,729.6h1.2v1.2h-1.2zM535.7,721.7h1.2v1.2h-1.2zM563.0,700.7h1.2v1.2h-1.2zM524.1,775.8h1.2v1.2h-1.2zM526.1,757.9h1.2v1.2h-1.2zM547.4,750.4h1.2v1.2h-1.2zM549.5,724.4h1.2v1.2h-1.2zM563.0,738.6h1.2v1.2h-1.2zM528.8,733.8h1.2v1.2h-1.2zM528.8,719.8h1.2v1.2h-1.2zM522.1,704.8h1.2v1.2h-1.2zM543.8,692.7h1.2v1.2h-1.2zM533.3,715.0h1.2v1.2h-1.2zM559.5,745.3h1.2v1.2h-1.2zM558.6,786.0h1.2v1.2h-1.2zM518.1,742.5h1.2v1.2h-1.2zM532.5,762.7h1.2v1.2h-1.2zM531.4,714.1h1.2v1.2h-1.2zM545.1,735.3h1.2v1.2h-1.2zM551.6,700.1h1.2v1.2h-1.2zM558.3,706.3h1.2v1.2h-1.2zM560.3,712.7h1.2v1.2h-1.2zM521.2,758.9h1.2v1.2h-1.2zM534.5,752.6h1.2v1.2h-1.2zM551.0,787.8h1.2v1.2h-1.2zM526.9,784.2h1.2v1.2h-1.2zM526.9,740.1h1.2v1.2h-1.2zM522.5,778.1h1.2v1.2h-1.2zM554.1,731.1h1.2v1.2h-1.2zM517.7,796.1h1.2v1.2h-1.2zM521.5,744.1h1.2v1.2h-1.2zM553.1,779.4h1.2v1.2h-1.2zM540.7,766.0h1.2v1.2h-1.2zM547.2,729.7h1.2v1.2h-1.2zM549.0,791.3h1.2v1.2h-1.2zM561.0,702.5h1.2v1.2h-1.2zM524.3,717.0h1.2v1.2h-1.2zM521.5,752.5h1.2v1.2h-1.2zM545.9,749.3h1.2v1.2h-1.2zM561.4,711.3h1.2v1.2h-1.2zM558.6,726.6h1.2v1.2h-1.2zM530.8,754.9h1.2v1.2h-1.2zM521.9,701.5h1.2v1.2h-1.2zM557.1,799.7h1.2v1.2h-1.2zM531.6,737.6h1.2v1.2h-1.2zM522.5,694.9h1.2v1.2h-1.2zM542.2,761.6h1.2v1.2h-1.2zM542.5,753.0h1.2v1.2h-1.2zM531.5,710.3h1.2v1.2h-1.2zM562.9,702.3h1.2v1.2h-1.2zM529.7,761.3h1.2v1.2h-1.2zM552.0,717.0h1.2v1.2h-1.2zM529.1,716.6h1.2v1.2h-1.2zM552.9,769.1h1.2v1.2h-1.2zM531.4,691.7h1.2v1.2h-1.2zM538.1,775.5h1.2v1.2h-1.2zM520.3,714.6h1.2v1.2h-1.2zM518.0,769.1h1.2v1.2h-1.2zM524.8,734.1h1.2v1.2h-1.2zM546.3,718.1h1.2v1.2h-1.2zM541.4,741.9h1.2v1.2h-1.2zM530.1,684.5h1.2v1.2h-1.2zM553.0,732.3h1.2v1.2h-1.2zM518.5,742.9h1.2v1.2h-1.2zM522.7,746.4h1.2v1.2h-1.2zM545.0,708.3h1.2v1.2h-1.2zM551.5,707.5h1.2v1.2h-1.2zM555.2,713.7h1.2v1.2h-1.2zM552.6,792.1h1.2v1.2h-1.2zM565.0,697.8h1.2v1.2h-1.2zM557.8,796.8h1.2v1.2h-1.2zM556.9,726.6h1.2v1.2h-1.2zM560.7,737.1h1.2v1.2h-1.2zM520.1,749.2h1.2v1.2h-1.2zM555.7,794.6h1.2v1.2h-1.2zM531.2,731.8h1.2v1.2h-1.2zM563.3,733.4h1.2v1.2h-1.2zM563.8,709.8h1.2v1.2h-1.2zM558.3,753.5h1.2v1.2h-1.2zM525.1,785.7h1.2v1.2h-1.2zM519.3,727.9h1.2v1.2h-1.2zM518.1,799.1h1.2v1.2h-1.2zM563.3,737.0h1.2v1.2h-1.2zM552.9,770.4h1.2v1.2h-1.2zM545.5,705.3h1.2v1.2h-1.2zM548.2,742.9h1.2v1.2h-1.2zM551.0,770.6h1.2v1.2h-1.2zM559.0,723.1h1.2v1.2h-1.2zM564.0,745.9h1.2v1.2h-1.2zM550.0,714.6h1.2v1.2h-1.2zM524.6,793.5h1.2v1.2h-1.2zM562.9,715.3h1.2v1.2h-1.2zM564.4,757.8h1.2v1.2h-1.2zM518.4,800.8h1.2v1.2h-1.2zM546.5,722.1h1.2v1.2h-1.2zM520.9,762.5h1.2v1.2h-1.2zM550.0,774.9h1.2v1.2h-1.2zM549.5,747.7h1.2v1.2h-1.2zM539.5,775.1h1.2v1.2h-1.2zM525.1,701.2h1.2v1.2h-1.2zM531.2,767.4h1.2v1.2h-1.2zM548.5,760.6h1.2v1.2h-1.2zM551.9,722.9h1.2v1.2h-1.2zM528.2,706.4h1.2v1.2h-1.2zM548.0,715.5h1.2v1.2h-1.2zM566.3,746.7h1.2v1.2h-1.2zM544.1,697.2h1.2v1.2h-1.2zM549.5,689.1h1.2v1.2h-1.2zM536.4,724.1h1.2v1.2h-1.2zM535.9,717.6h1.2v1.2h-1.2zM539.2,767.0h1.2v1.2h-1.2zM530.1,739.3h1.2v1.2h-1.2zM561.3,742.3h1.2v1.2h-1.2zM522.1,731.6h1.2v1.2h-1.2zM528.1,741.9h1.2v1.2h-1.2zM533.3,737.4h1.2v1.2h-1.2zM554.7,694.6h1.2v1.2h-1.2zM537.6,710.1h1.2v1.2h-1.2zM550.0,755.3h1.2v1.2h-1.2zM564.5,754.3h1.2v1.2h-1.2zM543.1,714.0h1.2v1.2h-1.2zM547.6,712.7h1.2v1.2h-1.2zM530.1,747.8h1.2v1.2h-1.2zM565.5,733.1h1.2v1.2h-1.2zM526.6,765.6h1.2v1.2h-1.2zM554.8,787.7h1.2v1.2h-1.2zM538.1,712.1h1.2v1.2h-1.2zM546.7,769.6h1.2v1.2h-1.2zM520.7,757.3h1.2v1.2h-1.2zM537.1,708.9h1.2v1.2h-1.2zM540.6,770.8h1.2v1.2h-1.2zM561.3,746.4h1.2v1.2h-1.2zM524.8,745.8h1.2v1.2h-1.2zM526.4,725.2h1.2v1.2h-1.2zM562.1,704.5h1.2v1.2h-1.2zM561.6,722.8h1.2v1.2h-1.2zM563.3,715.5h1.2v1.2h-1.2zM555.8,700.8h1.2v1.2h-1.2zM517.6,728.0h1.2v1.2h-1.2zM557.7,732.1h1.2v1.2h-1.2zM534.3,700.6h1.2v1.2h-1.2zM531.0,786.1h1.2v1.2h-1.2zM523.2,748.3h1.2v1.2h-1.2zM528.5,704.0h1.2v1.2h-1.2zM531.7,765.3h1.2v1.2h-1.2zM533.1,732.8h1.2v1.2h-1.2zM540.4,709.5h1.2v1.2h-1.2zM534.0,738.2h1.2v1.2h-1.2zM537.3,762.7h1.2v1.2h-1.2zM529.3,762.9h1.2v1.2h-1.2zM549.9,726.1h1.2v1.2h-1.2zM557.6,739.2h1.2v1.2h-1.2zM547.3,712.6h1.2v1.2h-1.2zM550.1,748.3h1.2v1.2h-1.2zM525.7,710.5h1.2v1.2h-1.2zM562.5,703.3h1.2v1.2h-1.2zM548.1,743.5h1.2v1.2h-1.2zM545.8,691.4h1.2v1.2h-1.2zM563.7,758.4h1.2v1.2h-1.2zM525.0,787.9h1.2v1.2h-1.2zM539.9,729.0h1.2v1.2h-1.2zM520.6,707.1h1.2v1.2h-1.2zM526.8,708.7h1.2v1.2h-1.2zM523.8,728.9h1.2v1.2h-1.2zM608.7,730.3h1.2v1.2h-1.2zM622.4,703.5h1.2v1.2h-1.2zM617.1,770.1h1.2v1.2h-1.2zM591.1,740.9h1.2v1.2h-1.2zM613.5,741.7h1.2v1.2h-1.2zM608.2,734.4h1.2v1.2h-1.2zM618.1,767.9h1.2v1.2h-1.2zM615.6,758.9h1.2v1.2h-1.2zM602.5,790.2h1.2v1.2h-1.2zM585.2,744.5h1.2v1.2h-1.2zM580.6,750.5h1.2v1.2h-1.2zM592.6,764.8h1.2v1.2h-1.2zM611.6,766.5h1.2v1.2h-1.2zM611.7,764.0h1.2v1.2h-1.2zM594.7,777.0h1.2v1.2h-1.2zM583.7,726.0h1.2v1.2h-1.2zM580.4,780.6h1.2v1.2h-1.2zM581.3,785.0h1.2v1.2h-1.2zM579.9,746.6h1.2v1.2h-1.2zM611.1,752.8h1.2v1.2h-1.2zM602.9,748.9h1.2v1.2h-1.2zM591.8,728.3h1.2v1.2h-1.2zM619.2,777.5h1.2v1.2h-1.2zM598.5,702.6h1.2v1.2h-1.2zM597.0,768.6h1.2v1.2h-1.2zM587.1,739.0h1.2v1.2h-1.2zM603.2,761.6h1.2v1.2h-1.2zM615.7,750.4h1.2v1.2h-1.2zM602.8,714.0h1.2v1.2h-1.2zM578.5,725.1h1.2v1.2h-1.2zM585.7,710.0h1.2v1.2h-1.2zM592.2,726.4h1.2v1.2h-1.2zM591.1,743.6h1.2v1.2h-1.2zM584.9,772.3h1.2v1.2h-1.2zM594.2,756.5h1.2v1.2h-1.2zM591.1,757.0h1.2v1.2h-1.2zM610.5,757.0h1.2v1.2h-1.2zM621.6,793.5h1.2v1.2h-1.2zM595.8,731.2h1.2v1.2h-1.2zM614.0,773.2h1.2v1.2h-1.2zM586.0,753.9h1.2v1.2h-1.2zM601.6,730.4h1.2v1.2h-1.2zM581.1,756.2h1.2v1.2h-1.2zM599.2,755.8h1.2v1.2h-1.2zM613.5,725.4h1.2v1.2h-1.2zM602.4,761.4h1.2v1.2h-1.2zM589.9,753.2h1.2v1.2h-1.2zM588.6,755.0h1.2v1.2h-1.2zM619.1,763.9h1.2v1.2h-1.2zM585.1,706.5h1.2v1.2h-1.2zM605.6,744.5h1.2v1.2h-1.2zM614.3,718.0h1.2v1.2h-1.2zM585.4,753.4h1.2v1.2h-1.2zM600.4,738.2h1.2v1.2h-1.2zM602.7,732.3h1.2v1.2h-1.2zM584.6,768.7h1.2v1.2h-1.2zM588.3,750.2h1.2v1.2h-1.2zM602.3,760.0h1.2v1.2h-1.2zM598.4,705.9h1.2v1.2h-1.2zM618.9,778.0h1.2v1.2h-1.2zM619.5,748.3h1.2v1.2h-1.2zM598.8,763.4h1.2v1.2h-1.2zM622.1,755.8h1.2v1.2h-1.2zM578.3,702.1h1.2v1.2h-1.2zM607.0,722.2h1.2v1.2h-1.2zM620.7,715.7h1.2v1.2h-1.2zM614.8,709.9h1.2v1.2h-1.2zM614.6,783.9h1.2v1.2h-1.2zM591.9,734.4h1.2v1.2h-1.2zM584.0,749.4h1.2v1.2h-1.2zM581.7,736.5h1.2v1.2h-1.2zM601.3,783.5h1.2v1.2h-1.2zM595.1,704.3h1.2v1.2h-1.2zM618.7,795.2h1.2v1.2h-1.2zM607.8,764.5h1.2v1.2h-1.2zM604.6,786.3h1.2v1.2h-1.2zM580.3,792.2h1.2v1.2h-1.2zM596.5,767.5h1.2v1.2h-1.2zM607.6,753.9h1.2v1.2h-1.2zM600.6,757.0h1.2v1.2h-1.2zM604.0,760.6h1.2v1.2h-1.2zM612.6,745.5h1.2v1.2h-1.2zM589.4,765.1h1.2v1.2h-1.2zM584.7,768.7h1.2v1.2h-1.2zM589.3,790.2h1.2v1.2h-1.2zM621.8,768.1h1.2v1.2h-1.2zM604.5,700.3h1.2v1.2h-1.2zM617.2,727.4h1.2v1.2h-1.2zM579.7,792.0h1.2v1.2h-1.2zM590.3,738.6h1.2v1.2h-1.2zM583.6,769.0h1.2v1.2h-1.2zM585.2,700.9h1.2v1.2h-1.2zM584.6,746.6h1.2v1.2h-1.2zM590.2,789.6h1.2v1.2h-1.2zM598.8,734.2h1.2v1.2h-1.2zM588.9,742.3h1.2v1.2h-1.2zM616.4,752.6h1.2v1.2h-1.2zM598.5,763.4h1.2v1.2h-1.2zM583.9,709.8h1.2v1.2h-1.2zM578.1,774.1h1.2v1.2h-1.2zM592.8,748.4h1.2v1.2h-1.2zM590.0,773.5h1.2v1.2h-1.2zM622.2,763.2h1.2v1.2h-1.2zM599.0,795.7h1.2v1.2h-1.2zM579.9,761.2h1.2v1.2h-1.2zM609.1,781.9h1.2v1.2h-1.2zM603.2,784.6h1.2v1.2h-1.2zM580.1,723.4h1.2v1.2h-1.2zM602.8,777.8h1.2v1.2h-1.2zM595.2,734.7h1.2v1.2h-1.2zM597.4,758.9h1.2v1.2h-1.2zM612.0,739.9h1.2v1.2h-1.2zM614.7,784.7h1.2v1.2h-1.2zM600.8,790.9h1.2v1.2h-1.2zM605.7,773.8h1.2v1.2h-1.2zM585.9,725.5h1.2v1.2h-1.2zM605.2,742.6h1.2v1.2h-1.2zM596.9,747.9h1.2v1.2h-1.2zM596.5,746.0h1.2v1.2h-1.2zM623.9,756.5h1.2v1.2h-1.2zM615.6,726.3h1.2v1.2h-1.2zM592.2,729.2h1.2v1.2h-1.2zM612.0,773.0h1.2v1.2h-1.2zM606.2,740.4h1.2v1.2h-1.2zM596.6,788.4h1.2v1.2h-1.2zM578.4,740.6h1.2v1.2h-1.2zM592.9,781.1h1.2v1.2h-1.2zM612.7,726.1h1.2v1.2h-1.2zM599.0,801.1h1.2v1.2h-1.2zM610.2,771.4h1.2v1.2h-1.2zM620.1,749.1h1.2v1.2h-1.2zM621.7,748.6h1.2v1.2h-1.2zM585.9,762.4h1.2v1.2h-1.2zM599.1,737.1h1.2v1.2h-1.2zM592.9,767.6h1.2v1.2h-1.2zM595.2,702.6h1.2v1.2h-1.2zM595.1,776.8h1.2v1.2h-1.2zM582.4,771.0h1.2v1.2h-1.2zM617.9,730.3h1.2v1.2h-1.2zM587.5,736.3h1.2v1.2h-1.2zM599.8,766.4h1.2v1.2h-1.2zM622.6,731.3h1.2v1.2h-1.2zM582.8,737.2h1.2v1.2h-1.2zM608.0,740.1h1.2v1.2h-1.2zM578.0,757.7h1.2v1.2h-1.2zM614.4,730.9h1.2v1.2h-1.2zM611.9,729.9h1.2v1.2h-1.2zM585.2,735.2h1.2v1.2h-1.2zM587.6,782.4h1.2v1.2h-1.2zM609.4,753.6h1.2v1.2h-1.2zM601.8,744.5h1.2v1.2h-1.2zM612.5,709.4h1.2v1.2h-1.2zM620.6,732.4h1.2v1.2h-1.2zM605.4,729.3h1.2v1.2h-1.2zM584.9,723.2h1.2v1.2h-1.2zM594.4,788.9h1.2v1.2h-1.2zM617.8,735.6h1.2v1.2h-1.2zM584.9,742.4h1.2v1.2h-1.2zM587.2,748.9h1.2v1.2h-1.2zM620.7,769.5h1.2v1.2h-1.2zM597.9,786.8h1.2v1.2h-1.2zM599.6,792.1h1.2v1.2h-1.2zM600.2,703.3h1.2v1.2h-1.2zM601.9,785.0h1.2v1.2h-1.2zM608.2,718.7h1.2v1.2h-1.2zM614.0,768.5h1.2v1.2h-1.2zM587.4,711.1h1.2v1.2h-1.2zM610.1,737.5h1.2v1.2h-1.2zM604.4,760.1h1.2v1.2h-1.2zM601.6,725.5h1.2v1.2h-1.2zM622.6,750.2h1.2v1.2h-1.2zM615.4,776.7h1.2v1.2h-1.2zM623.9,751.4h1.2v1.2h-1.2zM617.7,779.2h1.2v1.2h-1.2zM595.3,713.8h1.2v1.2h-1.2zM621.1,780.7h1.2v1.2h-1.2zM618.7,713.4h1.2v1.2h-1.2zM600.6,718.7h1.2v1.2h-1.2zM602.2,755.4h1.2v1.2h-1.2zM591.2,739.2h1.2v1.2h-1.2zM593.1,759.5h1.2v1.2h-1.2zM595.5,792.3h1.2v1.2h-1.2zM598.5,734.8h1.2v1.2h-1.2zM583.1,724.1h1.2v1.2h-1.2zM617.6,770.8h1.2v1.2h-1.2zM622.1,701.3h1.2v1.2h-1.2zM619.8,743.2h1.2v1.2h-1.2zM610.5,729.4h1.2v1.2h-1.2zM622.2,761.9h1.2v1.2h-1.2zM593.7,800.3h1.2v1.2h-1.2zM607.1,769.2h1.2v1.2h-1.2zM589.8,768.9h1.2v1.2h-1.2zM612.8,725.3h1.2v1.2h-1.2zM597.4,711.8h1.2v1.2h-1.2zM607.7,785.1h1.2v1.2h-1.2zM605.6,755.2h1.2v1.2h-1.2zM580.3,752.2h1.2v1.2h-1.2zM593.5,759.7h1.2v1.2h-1.2zM578.1,732.0h1.2v1.2h-1.2zM609.7,752.6h1.2v1.2h-1.2zM612.3,756.9h1.2v1.2h-1.2zM586.8,752.3h1.2v1.2h-1.2zM590.9,699.2h1.2v1.2h-1.2zM593.7,785.2h1.2v1.2h-1.2zM591.4,759.8h1.2v1.2h-1.2zM616.5,762.2h1.2v1.2h-1.2zM615.2,700.0h1.2v1.2h-1.2zM587.6,734.8h1.2v1.2h-1.2zM589.5,725.0h1.2v1.2h-1.2zM583.8,730.7h1.2v1.2h-1.2zM578.2,741.6h1.2v1.2h-1.2zM621.1,744.9h1.2v1.2h-1.2zM595.9,736.9h1.2v1.2h-1.2zM607.7,728.2h1.2v1.2h-1.2zM595.2,734.5h1.2v1.2h-1.2zM607.8,731.9h1.2v1.2h-1.2zM615.6,703.0h1.2v1.2h-1.2zM613.0,794.5h1.2v1.2h-1.2zM606.4,729.0h1.2v1.2h-1.2zM594.9,772.7h1.2v1.2h-1.2zM602.4,731.1h1.2v1.2h-1.2zM621.9,728.6h1.2v1.2h-1.2zM610.6,761.4h1.2v1.2h-1.2zM615.8,783.6h1.2v1.2h-1.2zM590.9,757.3h1.2v1.2h-1.2zM618.3,720.6h1.2v1.2h-1.2zM615.5,738.9h1.2v1.2h-1.2zM614.2,738.4h1.2v1.2h-1.2zM615.3,744.6h1.2v1.2h-1.2zM585.9,755.5h1.2v1.2h-1.2zM587.5,751.8h1.2v1.2h-1.2zM622.6,737.4h1.2v1.2h-1.2zM621.5,750.8h1.2v1.2h-1.2zM616.0,774.7h1.2v1.2h-1.2zM594.3,730.2h1.2v1.2h-1.2zM614.0,752.5h1.2v1.2h-1.2zM622.0,775.3h1.2v1.2h-1.2zM620.2,754.7h1.2v1.2h-1.2zM591.6,765.6h1.2v1.2h-1.2zM617.9,777.7h1.2v1.2h-1.2zM597.1,741.4h1.2v1.2h-1.2zM607.3,769.5h1.2v1.2h-1.2zM601.5,767.2h1.2v1.2h-1.2zM583.0,773.1h1.2v1.2h-1.2zM594.5,748.5h1.2v1.2h-1.2zM610.2,742.5h1.2v1.2h-1.2zM608.0,727.4h1.2v1.2h-1.2zM594.1,764.6h1.2v1.2h-1.2zM587.4,744.1h1.2v1.2h-1.2zM588.4,787.0h1.2v1.2h-1.2zM606.1,780.9h1.2v1.2h-1.2zM612.3,792.3h1.2v1.2h-1.2zM620.4,769.5h1.2v1.2h-1.2zM580.7,784.5h1.2v1.2h-1.2zM618.0,792.3h1.2v1.2h-1.2zM597.8,794.9h1.2v1.2h-1.2zM594.7,736.9h1.2v1.2h-1.2zM596.4,784.2h1.2v1.2h-1.2zM618.4,740.7h1.2v1.2h-1.2zM604.2,772.2h1.2v1.2h-1.2zM603.4,759.1h1.2v1.2h-1.2zM606.2,786.9h1.2v1.2h-1.2zM611.1,761.7h1.2v1.2h-1.2zM605.2,725.7h1.2v1.2h-1.2zM614.1,704.2h1.2v1.2h-1.2zM614.7,781.6h1.2v1.2h-1.2zM591.0,722.4h1.2v1.2h-1.2zM600.2,744.9h1.2v1.2h-1.2zM612.2,724.8h1.2v1.2h-1.2zM605.2,737.3h1.2v1.2h-1.2zM593.0,793.0h1.2v1.2h-1.2zM590.4,733.0h1.2v1.2h-1.2zM597.2,730.2h1.2v1.2h-1.2zM578.1,719.8h1.2v1.2h-1.2zM606.9,754.1h1.2v1.2h-1.2zM612.6,723.0h1.2v1.2h-1.2zM620.5,731.6h1.2v1.2h-1.2zM616.5,771.5h1.2v1.2h-1.2zM610.2,777.3h1.2v1.2h-1.2zM589.0,785.3h1.2v1.2h-1.2zM604.9,763.1h1.2v1.2h-1.2zM592.9,742.4h1.2v1.2h-1.2zM610.2,770.2h1.2v1.2h-1.2zM619.5,735.9h1.2v1.2h-1.2zM592.3,757.9h1.2v1.2h-1.2zM608.1,792.4h1.2v1.2h-1.2zM605.6,736.5h1.2v1.2h-1.2zM590.6,779.0h1.2v1.2h-1.2zM617.9,774.3h1.2v1.2h-1.2zM611.6,777.4h1.2v1.2h-1.2zM603.1,758.9h1.2v1.2h-1.2zM589.8,729.4h1.2v1.2h-1.2zM603.7,764.8h1.2v1.2h-1.2zM617.5,719.6h1.2v1.2h-1.2zM623.6,741.9h1.2v1.2h-1.2zM578.6,748.5h1.2v1.2h-1.2zM582.7,743.2h1.2v1.2h-1.2zM609.3,749.7h1.2v1.2h-1.2zM613.6,748.6h1.2v1.2h-1.2zM601.0,739.7h1.2v1.2h-1.2zM586.0,775.7h1.2v1.2h-1.2zM604.3,733.9h1.2v1.2h-1.2zM609.4,797.0h1.2v1.2h-1.2zM601.6,768.0h1.2v1.2h-1.2zM612.5,729.3h1.2v1.2h-1.2zM615.6,749.5h1.2v1.2h-1.2zM590.7,737.7h1.2v1.2h-1.2zM605.3,733.0h1.2v1.2h-1.2zM583.9,795.1h1.2v1.2h-1.2zM617.7,747.8h1.2v1.2h-1.2zM607.7,786.8h1.2v1.2h-1.2zM593.6,734.3h1.2v1.2h-1.2zM601.0,771.7h1.2v1.2h-1.2zM592.3,745.4h1.2v1.2h-1.2zM591.0,759.1h1.2v1.2h-1.2zM623.5,706.7h1.2v1.2h-1.2zM611.2,802.9h1.2v1.2h-1.2zM594.0,719.5h1.2v1.2h-1.2zM583.9,750.0h1.2v1.2h-1.2zM621.8,790.2h1.2v1.2h-1.2zM586.1,749.9h1.2v1.2h-1.2zM599.1,783.4h1.2v1.2h-1.2zM620.0,758.8h1.2v1.2h-1.2zM581.9,768.8h1.2v1.2h-1.2zM588.5,786.7h1.2v1.2h-1.2zM613.7,790.4h1.2v1.2h-1.2zM586.4,723.3h1.2v1.2h-1.2zM612.9,781.0h1.2v1.2h-1.2zM580.4,724.8h1.2v1.2h-1.2zM600.8,749.3h1.2v1.2h-1.2zM601.6,708.3h1.2v1.2h-1.2zM610.4,771.3h1.2v1.2h-1.2zM596.9,748.3h1.2v1.2h-1.2zM622.6,717.1h1.2v1.2h-1.2zM587.3,729.5h1.2v1.2h-1.2zM600.6,732.4h1.2v1.2h-1.2zM598.8,722.3h1.2v1.2h-1.2zM585.1,787.1h1.2v1.2h-1.2zM616.4,722.2h1.2v1.2h-1.2zM592.8,740.4h1.2v1.2h-1.2zM611.5,699.5h1.2v1.2h-1.2zM594.9,746.1h1.2v1.2h-1.2zM600.4,767.9h1.2v1.2h-1.2zM592.2,784.7h1.2v1.2h-1.2zM599.3,744.5h1.2v1.2h-1.2zM598.0,759.0h1.2v1.2h-1.2zM604.4,710.0h1.2v1.2h-1.2zM586.0,770.7h1.2v1.2h-1.2zM591.9,777.5h1.2v1.2h-1.2zM591.4,759.4h1.2v1.2h-1.2zM602.1,724.4h1.2v1.2h-1.2zM594.1,799.0h1.2v1.2h-1.2zM615.9,778.1h1.2v1.2h-1.2zM582.7,742.6h1.2v1.2h-1.2zM606.3,736.4h1.2v1.2h-1.2zM609.0,792.2h1.2v1.2h-1.2zM598.6,794.8h1.2v1.2h-1.2zM599.4,764.0h1.2v1.2h-1.2zM590.1,758.6h1.2v1.2h-1.2zM615.2,794.9h1.2v1.2h-1.2zM605.4,750.1h1.2v1.2h-1.2zM580.4,746.9h1.2v1.2h-1.2zM605.6,785.9h1.2v1.2h-1.2zM611.5,770.7h1.2v1.2h-1.2zM580.9,794.9h1.2v1.2h-1.2zM609.0,700.2h1.2v1.2h-1.2zM591.6,726.3h1.2v1.2h-1.2zM582.9,768.8h1.2v1.2h-1.2zM609.8,748.4h1.2v1.2h-1.2zM587.6,738.3h1.2v1.2h-1.2zM616.0,781.9h1.2v1.2h-1.2zM607.4,785.0h1.2v1.2h-1.2zM583.2,775.7h1.2v1.2h-1.2zM595.3,737.5h1.2v1.2h-1.2zM602.7,778.7h1.2v1.2h-1.2zM595.8,715.6h1.2v1.2h-1.2zM604.3,748.9h1.2v1.2h-1.2zM600.3,762.4h1.2v1.2h-1.2zM619.9,765.0h1.2v1.2h-1.2zM613.3,762.0h1.2v1.2h-1.2zM585.5,754.5h1.2v1.2h-1.2zM580.1,715.2h1.2v1.2h-1.2zM578.0,741.7h1.2v1.2h-1.2zM578.5,703.4h1.2v1.2h-1.2zM617.9,713.0h1.2v1.2h-1.2zM609.6,771.8h1.2v1.2h-1.2zM587.9,749.7h1.2v1.2h-1.2zM588.9,728.6h1.2v1.2h-1.2zM580.9,747.1h1.2v1.2h-1.2zM599.6,769.9h1.2v1.2h-1.2zM620.3,755.2h1.2v1.2h-1.2zM611.5,771.3h1.2v1.2h-1.2zM590.6,743.7h1.2v1.2h-1.2zM623.4,700.9h1.2v1.2h-1.2zM614.1,761.3h1.2v1.2h-1.2zM585.0,756.8h1.2v1.2h-1.2zM614.9,754.3h1.2v1.2h-1.2zM593.7,702.2h1.2v1.2h-1.2zM617.9,794.9h1.2v1.2h-1.2zM614.4,760.2h1.2v1.2h-1.2zM615.5,758.9h1.2v1.2h-1.2zM612.6,759.7h1.2v1.2h-1.2zM621.4,756.3h1.2v1.2h-1.2zM613.6,776.8h1.2v1.2h-1.2zM594.8,757.1h1.2v1.2h-1.2zM580.5,749.3h1.2v1.2h-1.2zM587.4,785.4h1.2v1.2h-1.2zM603.8,764.5h1.2v1.2h-1.2zM608.5,705.5h1.2v1.2h-1.2zM613.7,719.6h1.2v1.2h-1.2zM585.3,720.9h1.2v1.2h-1.2zM596.1,769.1h1.2v1.2h-1.2zM597.3,774.0h1.2v1.2h-1.2zM605.6,791.7h1.2v1.2h-1.2zM591.0,702.9h1.2v1.2h-1.2zM582.6,748.5h1.2v1.2h-1.2zM617.0,735.3h1.2v1.2h-1.2zM601.5,736.1h1.2v1.2h-1.2zM597.9,755.1h1.2v1.2h-1.2zM621.6,732.4h1.2v1.2h-1.2zM609.1,789.2h1.2v1.2h-1.2zM596.3,761.2h1.2v1.2h-1.2zM596.9,779.2h1.2v1.2h-1.2zM583.5,777.3h1.2v1.2h-1.2zM588.4,711.7h1.2v1.2h-1.2zM591.3,763.0h1.2v1.2h-1.2zM608.8,750.6h1.2v1.2h-1.2zM602.4,797.7h1.2v1.2h-1.2zM600.6,797.8h1.2v1.2h-1.2zM620.0,792.0h1.2v1.2h-1.2zM619.2,783.6h1.2v1.2h-1.2zM608.0,782.4h1.2v1.2h-1.2zM611.1,767.5h1.2v1.2h-1.2zM584.6,708.9h1.2v1.2h-1.2zM613.1,715.8h1.2v1.2h-1.2zM616.3,790.7h1.2v1.2h-1.2zM590.4,712.0h1.2v1.2h-1.2zM579.3,770.1h1.2v1.2h-1.2zM607.6,738.4h1.2v1.2h-1.2zM597.7,748.7h1.2v1.2h-1.2zM590.1,709.9h1.2v1.2h-1.2zM604.0,723.5h1.2v1.2h-1.2zM608.1,758.8h1.2v1.2h-1.2zM605.2,725.3h1.2v1.2h-1.2zM588.6,735.3h1.2v1.2h-1.2zM586.6,782.1h1.2v1.2h-1.2zM612.3,739.9h1.2v1.2h-1.2zM620.1,787.0h1.2v1.2h-1.2zM587.5,718.7h1.2v1.2h-1.2zM623.2,775.6h1.2v1.2h-1.2zM589.4,766.7h1.2v1.2h-1.2zM623.2,703.5h1.2v1.2h-1.2zM603.1,782.9h1.2v1.2h-1.2zM604.8,727.1h1.2v1.2h-1.2zM600.2,801.1h1.2v1.2h-1.2zM590.5,712.7h1.2v1.2h-1.2zM601.2,740.3h1.2v1.2h-1.2zM578.7,779.4h1.2v1.2h-1.2zM612.2,737.3h1.2v1.2h-1.2zM586.9,735.0h1.2v1.2h-1.2zM580.9,733.5h1.2v1.2h-1.2zM594.1,738.9h1.2v1.2h-1.2zM608.5,719.9h1.2v1.2h-1.2zM607.3,726.1h1.2v1.2h-1.2zM585.4,752.2h1.2v1.2h-1.2zM588.4,791.4h1.2v1.2h-1.2zM618.4,723.2h1.2v1.2h-1.2zM583.4,727.1h1.2v1.2h-1.2zM615.1,792.2h1.2v1.2h-1.2zM597.1,782.9h1.2v1.2h-1.2zM595.6,758.2h1.2v1.2h-1.2zM585.7,800.1h1.2v1.2h-1.2zM614.4,787.4h1.2v1.2h-1.2zM601.8,786.9h1.2v1.2h-1.2zM597.0,745.7h1.2v1.2h-1.2zM616.1,756.1h1.2v1.2h-1.2zM603.4,754.8h1.2v1.2h-1.2zM617.0,735.1h1.2v1.2h-1.2zM585.5,773.6h1.2v1.2h-1.2zM588.6,720.2h1.2v1.2h-1.2zM583.7,788.2h1.2v1.2h-1.2zM589.2,786.3h1.2v1.2h-1.2zM618.0,788.4h1.2v1.2h-1.2zM586.9,735.0h1.2v1.2h-1.2zM601.8,777.0h1.2v1.2h-1.2zM593.1,707.8h1.2v1.2h-1.2zM596.7,793.2h1.2v1.2h-1.2zM617.8,714.2h1.2v1.2h-1.2zM584.7,735.5h1.2v1.2h-1.2zM599.1,702.2h1.2v1.2h-1.2zM590.1,740.3h1.2v1.2h-1.2zM620.0,743.3h1.2v1.2h-1.2zM617.8,789.2h1.2v1.2h-1.2zM597.7,773.1h1.2v1.2h-1.2zM579.0,738.2h1.2v1.2h-1.2zM598.3,732.2h1.2v1.2h-1.2zM587.0,788.7h1.2v1.2h-1.2zM604.0,777.6h1.2v1.2h-1.2zM593.8,790.2h1.2v1.2h-1.2zM619.8,776.6h1.2v1.2h-1.2zM592.7,751.8h1.2v1.2h-1.2zM592.2,729.7h1.2v1.2h-1.2zM582.3,752.1h1.2v1.2h-1.2zM586.4,786.9h1.2v1.2h-1.2zM619.9,790.7h1.2v1.2h-1.2zM620.8,765.2h1.2v1.2h-1.2zM580.2,742.6h1.2v1.2h-1.2zM604.0,747.1h1.2v1.2h-1.2zM611.8,772.9h1.2v1.2h-1.2zM623.7,699.2h1.2v1.2h-1.2zM607.0,738.6h1.2v1.2h-1.2zM603.6,801.4h1.2v1.2h-1.2zM599.6,737.5h1.2v1.2h-1.2zM604.8,789.9h1.2v1.2h-1.2zM585.1,768.9h1.2v1.2h-1.2zM605.3,782.1h1.2v1.2h-1.2zM580.0,787.7h1.2v1.2h-1.2zM586.9,719.6h1.2v1.2h-1.2zM581.5,740.9h1.2v1.2h-1.2zM599.1,784.9h1.2v1.2h-1.2zM604.1,776.2h1.2v1.2h-1.2zM587.7,725.0h1.2v1.2h-1.2zM595.1,725.6h1.2v1.2h-1.2zM589.2,786.3h1.2v1.2h-1.2zM613.6,776.0h1.2v1.2h-1.2zM586.7,743.4h1.2v1.2h-1.2zM591.1,773.2h1.2v1.2h-1.2zM578.1,779.2h1.2v1.2h-1.2zM592.9,708.4h1.2v1.2h-1.2zM591.5,788.3h1.2v1.2h-1.2zM581.8,711.1h1.2v1.2h-1.2zM620.9,783.1h1.2v1.2h-1.2zM583.5,791.0h1.2v1.2h-1.2zM591.7,702.7h1.2v1.2h-1.2zM588.1,781.6h1.2v1.2h-1.2zM601.3,701.4h1.2v1.2h-1.2zM615.4,763.2h1.2v1.2h-1.2zM589.2,762.4h1.2v1.2h-1.2zM591.2,789.1h1.2v1.2h-1.2zM622.1,787.9h1.2v1.2h-1.2z" fill="#000"/>
<line x1="519.00" y1="804.30" x2="566.40" y2="804.30" stroke="#000" stroke-width="1.4"/>
<line x1="575.10" y1="804.30" x2="627.90" y2="804.30" stroke="#000" stroke-width="1.4"/>
<line x1="507.60" y1="667.30" x2="507.60" y2="811.20" stroke="#000" stroke-width="1.0"/>
<line x1="507.10" y1="810.70" x2="637.20" y2="810.70" stroke="#000" stroke-width="1.0"/>
<line x1="505.00" y1="804.30" x2="507.60" y2="804.30" stroke="#000" stroke-width="1.0"/>
<text x="502.00" y="807.00" font-size="7.6" text-anchor="end" fill="#000">0</text>
<line x1="505.00" y1="770.18" x2="507.60" y2="770.18" stroke="#000" stroke-width="1.0"/>
<text x="502.00" y="772.88" font-size="7.6" text-anchor="end" fill="#000">2</text>
<line x1="505.00" y1="736.06" x2="507.60" y2="736.06" stroke="#000" stroke-width="1.0"/>
<text x="502.00" y="738.76" font-size="7.6" text-anchor="end" fill="#000">4</text>
<line x1="505.00" y1="701.94" x2="507.60" y2="701.94" stroke="#000" stroke-width="1.0"/>
<text x="502.00" y="704.64" font-size="7.6" text-anchor="end" fill="#000">6</text>
<line x1="505.00" y1="667.82" x2="507.60" y2="667.82" stroke="#000" stroke-width="1.0"/>
<text x="502.00" y="670.52" font-size="7.6" text-anchor="end" fill="#000">8</text>
<line x1="542.70" y1="810.70" x2="542.70" y2="813.30" stroke="#000" stroke-width="1.0"/>
<line x1="601.50" y1="810.70" x2="601.50" y2="813.30" stroke="#000" stroke-width="1.0"/>
<text transform="translate(545.30,820.30) rotate(-45)" font-size="7.6" text-anchor="end">High</text>
<text transform="translate(604.10,820.30) rotate(-45)" font-size="7.6" text-anchor="end">Low</text>
<text x="569.60" y="658.90" font-size="10.2" font-weight="bold" text-anchor="middle" fill="#000">SPP1</text>
<text x="570.20" y="846.40" font-size="7.6" text-anchor="middle" fill="#000">Identity</text>
<text transform="translate(491.0,750.4) rotate(-90)" font-size="7.6" text-anchor="middle">Expression Level</text>
<rect x="648.2" y="730.5" width="10.6" height="10.9" fill="#ee3b2c" stroke="#333" stroke-width="0.6"/>
<rect x="648.2" y="742.3" width="10.6" height="10.9" fill="#3f90cf" stroke="#333" stroke-width="0.6"/>
<text x="664.40" y="740.00" font-size="7.6" fill="#000">High</text>
<text x="664.40" y="751.30" font-size="7.6" fill="#000">Low</text>
</svg></body></html>
